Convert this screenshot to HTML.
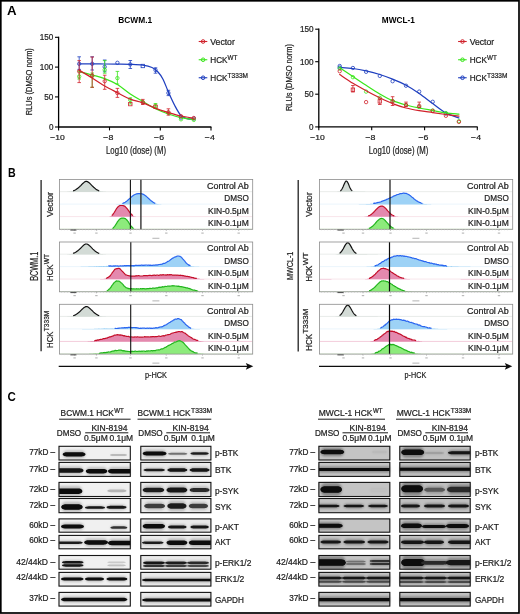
<!DOCTYPE html>
<html><head><meta charset="utf-8"><style>html,body{margin:0;padding:0;background:#fff;}svg{display:block;font-family:"Liberation Sans",sans-serif;}</style></head><body>
<svg width="520" height="614" viewBox="0 0 520 614">
<defs><filter id="soft" x="0" y="0" width="100%" height="100%"><feGaussianBlur stdDeviation="0.3"/></filter></defs><g filter="url(#soft)"><rect width="520" height="614" fill="#fff"/>
<rect x="0.8" y="0.8" width="518.2" height="612.2" fill="none" stroke="#000" stroke-width="1.7"/>
<text x="7.0" y="15.1" font-size="12.6" text-anchor="start" fill="#000" font-weight="bold" textLength="9.6" lengthAdjust="spacingAndGlyphs" >A</text>
<text x="7.9" y="176.5" font-size="12.6" text-anchor="start" fill="#000" font-weight="bold" textLength="7.7" lengthAdjust="spacingAndGlyphs" >B</text>
<text x="7.6" y="400.9" font-size="12.6" text-anchor="start" fill="#000" font-weight="bold" textLength="8.3" lengthAdjust="spacingAndGlyphs" >C</text>
<line x1="58.6" y1="36.699999999999996" x2="58.6" y2="127.6" stroke="#000" stroke-width="1.3" />
<line x1="58.0" y1="127.0" x2="211.4" y2="127.0" stroke="#000" stroke-width="1.3" />
<line x1="55.0" y1="37.3" x2="58.6" y2="37.3" stroke="#000" stroke-width="1.1" />
<text x="53.4" y="40.4" font-size="8.7" text-anchor="end" fill="#222" stroke="#222" stroke-width="0.22" textLength="13.6" lengthAdjust="spacingAndGlyphs" >150</text>
<line x1="55.0" y1="67.1" x2="58.6" y2="67.1" stroke="#000" stroke-width="1.1" />
<text x="53.4" y="70.19999999999999" font-size="8.7" text-anchor="end" fill="#222" stroke="#222" stroke-width="0.22" textLength="13.6" lengthAdjust="spacingAndGlyphs" >100</text>
<line x1="55.0" y1="96.9" x2="58.6" y2="96.9" stroke="#000" stroke-width="1.1" />
<text x="53.4" y="100.0" font-size="8.7" text-anchor="end" fill="#222" stroke="#222" stroke-width="0.22" textLength="9.1" lengthAdjust="spacingAndGlyphs" >50</text>
<line x1="55.0" y1="127.0" x2="58.6" y2="127.0" stroke="#000" stroke-width="1.1" />
<text x="53.4" y="130.1" font-size="8.7" text-anchor="end" fill="#222" stroke="#222" stroke-width="0.22" textLength="4.5" lengthAdjust="spacingAndGlyphs" >0</text>
<line x1="58.6" y1="127.0" x2="58.6" y2="130.4" stroke="#000" stroke-width="1.1" />
<text x="57.4" y="139.8" font-size="8.0" text-anchor="middle" fill="#222" stroke="#222" stroke-width="0.22" textLength="14.5" lengthAdjust="spacingAndGlyphs" >−10</text>
<line x1="109.5" y1="127.0" x2="109.5" y2="130.4" stroke="#000" stroke-width="1.1" />
<text x="108.3" y="139.8" font-size="8.0" text-anchor="middle" fill="#222" stroke="#222" stroke-width="0.22" textLength="10" lengthAdjust="spacingAndGlyphs" >−8</text>
<line x1="160.3" y1="127.0" x2="160.3" y2="130.4" stroke="#000" stroke-width="1.1" />
<text x="159.10000000000002" y="139.8" font-size="8.0" text-anchor="middle" fill="#222" stroke="#222" stroke-width="0.22" textLength="10" lengthAdjust="spacingAndGlyphs" >−6</text>
<line x1="211.0" y1="127.0" x2="211.0" y2="130.4" stroke="#000" stroke-width="1.1" />
<text x="209.8" y="139.8" font-size="8.0" text-anchor="middle" fill="#222" stroke="#222" stroke-width="0.22" textLength="10" lengthAdjust="spacingAndGlyphs" >−4</text>
<text x="106" y="153.9" font-size="10.0" text-anchor="start" fill="#222" stroke="#222" stroke-width="0.22" textLength="60" lengthAdjust="spacingAndGlyphs" >Log10 (dose) (M)</text>
<text x="0" y="0" font-size="8.6" fill="#222" stroke="#222" stroke-width="0.2" text-anchor="middle" textLength="67" lengthAdjust="spacingAndGlyphs" transform="translate(32.0,81.65) rotate(-90)">RLUs (DMSO norm)</text>
<text x="118.3" y="22.9" font-size="8.9" text-anchor="start" fill="#000" font-weight="bold" textLength="33.8" lengthAdjust="spacingAndGlyphs" >BCWM.1</text>
<path d="M79.20,63.90 C81.37,63.90 87.95,63.88 92.20,63.90 C96.45,63.92 100.50,63.97 104.70,64.00 C108.90,64.03 113.13,64.05 117.40,64.10 C121.67,64.15 126.07,64.13 130.30,64.30 C134.53,64.47 139.18,64.57 142.80,65.10 C146.42,65.63 149.47,66.35 152.00,67.50 C154.53,68.65 156.17,70.05 158.00,72.00 C159.83,73.95 161.27,75.87 163.00,79.20 C164.73,82.53 166.40,87.53 168.40,92.00 C170.40,96.47 172.90,102.07 175.00,106.00 C177.10,109.93 179.00,113.50 181.00,115.60 C183.00,117.70 184.87,118.00 187.00,118.60 C189.13,119.20 192.67,119.10 193.80,119.20" stroke="#1f3fbf" stroke-width="1.25" fill="none" stroke-linecap="round"/>
<line x1="79.2" y1="56.8" x2="79.2" y2="69.4" stroke="#1f3fbf" stroke-width="0.8" />
<line x1="77.4" y1="56.8" x2="81.0" y2="56.8" stroke="#1f3fbf" stroke-width="0.8" />
<line x1="77.4" y1="69.4" x2="81.0" y2="69.4" stroke="#1f3fbf" stroke-width="0.8" />
<circle cx="79.20" cy="63.80" r="1.7" fill="none" stroke="#1f3fbf" stroke-width="0.8"/>
<line x1="92.2" y1="56.8" x2="92.2" y2="70.0" stroke="#1f3fbf" stroke-width="0.8" />
<line x1="90.4" y1="56.8" x2="94.0" y2="56.8" stroke="#1f3fbf" stroke-width="0.8" />
<line x1="90.4" y1="70.0" x2="94.0" y2="70.0" stroke="#1f3fbf" stroke-width="0.8" />
<circle cx="92.20" cy="63.80" r="1.7" fill="none" stroke="#1f3fbf" stroke-width="0.8"/>
<line x1="104.7" y1="60.0" x2="104.7" y2="71.8" stroke="#1f3fbf" stroke-width="0.8" />
<line x1="102.9" y1="60.0" x2="106.5" y2="60.0" stroke="#1f3fbf" stroke-width="0.8" />
<line x1="102.9" y1="71.8" x2="106.5" y2="71.8" stroke="#1f3fbf" stroke-width="0.8" />
<circle cx="104.70" cy="66.80" r="1.7" fill="none" stroke="#1f3fbf" stroke-width="0.8"/>
<circle cx="117.40" cy="62.80" r="1.7" fill="none" stroke="#1f3fbf" stroke-width="0.8"/>
<line x1="130.3" y1="60.5" x2="130.3" y2="68.5" stroke="#1f3fbf" stroke-width="0.8" />
<line x1="128.5" y1="60.5" x2="132.10000000000002" y2="60.5" stroke="#1f3fbf" stroke-width="0.8" />
<line x1="128.5" y1="68.5" x2="132.10000000000002" y2="68.5" stroke="#1f3fbf" stroke-width="0.8" />
<circle cx="130.30" cy="64.40" r="1.7" fill="none" stroke="#1f3fbf" stroke-width="0.8"/>
<rect x="141.10" y="64.30" width="3.40" height="3.40" fill="none" stroke="#1f3fbf" stroke-width="0.8"/>
<line x1="155.5" y1="67.8" x2="155.5" y2="73.2" stroke="#1f3fbf" stroke-width="0.8" />
<line x1="153.7" y1="67.8" x2="157.3" y2="67.8" stroke="#1f3fbf" stroke-width="0.8" />
<line x1="153.7" y1="73.2" x2="157.3" y2="73.2" stroke="#1f3fbf" stroke-width="0.8" />
<circle cx="155.50" cy="70.00" r="1.7" fill="none" stroke="#1f3fbf" stroke-width="0.8"/>
<line x1="168.4" y1="90.3" x2="168.4" y2="95.6" stroke="#1f3fbf" stroke-width="0.8" />
<line x1="166.6" y1="90.3" x2="170.20000000000002" y2="90.3" stroke="#1f3fbf" stroke-width="0.8" />
<line x1="166.6" y1="95.6" x2="170.20000000000002" y2="95.6" stroke="#1f3fbf" stroke-width="0.8" />
<circle cx="168.40" cy="93.00" r="1.7" fill="none" stroke="#1f3fbf" stroke-width="0.8"/>
<circle cx="181.00" cy="117.60" r="1.7" fill="none" stroke="#1f3fbf" stroke-width="0.8"/>
<circle cx="193.80" cy="118.50" r="1.7" fill="none" stroke="#1f3fbf" stroke-width="0.8"/>
<path d="M79.20,71.60 C81.37,72.17 87.95,73.83 92.20,75.00 C96.45,76.17 100.50,77.02 104.70,78.60 C108.90,80.18 113.13,81.93 117.40,84.50 C121.67,87.07 126.07,91.17 130.30,94.00 C134.53,96.83 138.60,99.03 142.80,101.50 C147.00,103.97 151.23,106.72 155.50,108.80 C159.77,110.88 164.15,112.53 168.40,114.00 C172.65,115.47 176.77,116.67 181.00,117.60 C185.23,118.53 191.67,119.27 193.80,119.60" stroke="#3ae61a" stroke-width="1.25" fill="none" stroke-linecap="round"/>
<line x1="79.2" y1="71.0" x2="79.2" y2="79.0" stroke="#3ae61a" stroke-width="0.8" />
<line x1="77.4" y1="71.0" x2="81.0" y2="71.0" stroke="#3ae61a" stroke-width="0.8" />
<line x1="77.4" y1="79.0" x2="81.0" y2="79.0" stroke="#3ae61a" stroke-width="0.8" />
<circle cx="79.20" cy="76.50" r="1.7" fill="none" stroke="#3ae61a" stroke-width="0.8"/>
<line x1="92.2" y1="73.0" x2="92.2" y2="87.3" stroke="#3ae61a" stroke-width="0.8" />
<line x1="90.4" y1="73.0" x2="94.0" y2="73.0" stroke="#3ae61a" stroke-width="0.8" />
<line x1="90.4" y1="87.3" x2="94.0" y2="87.3" stroke="#3ae61a" stroke-width="0.8" />
<circle cx="92.20" cy="76.00" r="1.7" fill="none" stroke="#3ae61a" stroke-width="0.8"/>
<line x1="104.7" y1="60.6" x2="104.7" y2="73.2" stroke="#3ae61a" stroke-width="0.8" />
<line x1="102.9" y1="60.6" x2="106.5" y2="60.6" stroke="#3ae61a" stroke-width="0.8" />
<line x1="102.9" y1="73.2" x2="106.5" y2="73.2" stroke="#3ae61a" stroke-width="0.8" />
<circle cx="104.70" cy="69.80" r="1.7" fill="none" stroke="#3ae61a" stroke-width="0.8"/>
<line x1="117.4" y1="71.4" x2="117.4" y2="84.0" stroke="#3ae61a" stroke-width="0.8" />
<line x1="115.60000000000001" y1="71.4" x2="119.2" y2="71.4" stroke="#3ae61a" stroke-width="0.8" />
<line x1="115.60000000000001" y1="84.0" x2="119.2" y2="84.0" stroke="#3ae61a" stroke-width="0.8" />
<circle cx="117.40" cy="78.10" r="1.7" fill="none" stroke="#3ae61a" stroke-width="0.8"/>
<line x1="130.3" y1="97.8" x2="130.3" y2="104.0" stroke="#3ae61a" stroke-width="0.8" />
<line x1="128.5" y1="97.8" x2="132.10000000000002" y2="97.8" stroke="#3ae61a" stroke-width="0.8" />
<line x1="128.5" y1="104.0" x2="132.10000000000002" y2="104.0" stroke="#3ae61a" stroke-width="0.8" />
<circle cx="130.30" cy="100.00" r="1.7" fill="none" stroke="#3ae61a" stroke-width="0.8"/>
<circle cx="142.80" cy="102.00" r="1.7" fill="none" stroke="#3ae61a" stroke-width="0.8"/>
<line x1="155.5" y1="103.5" x2="155.5" y2="108.0" stroke="#3ae61a" stroke-width="0.8" />
<line x1="153.7" y1="103.5" x2="157.3" y2="103.5" stroke="#3ae61a" stroke-width="0.8" />
<line x1="153.7" y1="108.0" x2="157.3" y2="108.0" stroke="#3ae61a" stroke-width="0.8" />
<circle cx="155.50" cy="105.90" r="1.7" fill="none" stroke="#3ae61a" stroke-width="0.8"/>
<circle cx="168.40" cy="112.90" r="1.7" fill="none" stroke="#3ae61a" stroke-width="0.8"/>
<circle cx="181.00" cy="119.30" r="1.7" fill="none" stroke="#3ae61a" stroke-width="0.8"/>
<circle cx="193.80" cy="119.90" r="1.7" fill="none" stroke="#3ae61a" stroke-width="0.8"/>
<path d="M79.20,70.20 C81.37,71.50 87.95,75.37 92.20,78.00 C96.45,80.63 100.50,83.55 104.70,86.00 C108.90,88.45 113.13,90.50 117.40,92.70 C121.67,94.90 126.07,97.52 130.30,99.20 C134.53,100.88 138.60,101.28 142.80,102.80 C147.00,104.32 151.23,106.68 155.50,108.30 C159.77,109.92 164.15,111.22 168.40,112.50 C172.65,113.78 176.77,115.05 181.00,116.00 C185.23,116.95 191.67,117.83 193.80,118.20" stroke="#d0212b" stroke-width="1.25" fill="none" stroke-linecap="round"/>
<line x1="79.2" y1="60.6" x2="79.2" y2="82.6" stroke="#d0212b" stroke-width="0.8" />
<line x1="77.4" y1="60.6" x2="81.0" y2="60.6" stroke="#d0212b" stroke-width="0.8" />
<line x1="77.4" y1="82.6" x2="81.0" y2="82.6" stroke="#d0212b" stroke-width="0.8" />
<circle cx="79.20" cy="71.40" r="1.7" fill="none" stroke="#d0212b" stroke-width="0.8"/>
<line x1="92.2" y1="57.0" x2="92.2" y2="87.3" stroke="#d0212b" stroke-width="0.8" />
<line x1="90.4" y1="57.0" x2="94.0" y2="57.0" stroke="#d0212b" stroke-width="0.8" />
<line x1="90.4" y1="87.3" x2="94.0" y2="87.3" stroke="#d0212b" stroke-width="0.8" />
<circle cx="92.20" cy="75.50" r="1.7" fill="none" stroke="#d0212b" stroke-width="0.8"/>
<line x1="104.7" y1="75.2" x2="104.7" y2="89.3" stroke="#d0212b" stroke-width="0.8" />
<line x1="102.9" y1="75.2" x2="106.5" y2="75.2" stroke="#d0212b" stroke-width="0.8" />
<line x1="102.9" y1="89.3" x2="106.5" y2="89.3" stroke="#d0212b" stroke-width="0.8" />
<circle cx="104.70" cy="81.20" r="1.7" fill="none" stroke="#d0212b" stroke-width="0.8"/>
<line x1="117.4" y1="88.4" x2="117.4" y2="97.4" stroke="#d0212b" stroke-width="0.8" />
<line x1="115.60000000000001" y1="88.4" x2="119.2" y2="88.4" stroke="#d0212b" stroke-width="0.8" />
<line x1="115.60000000000001" y1="97.4" x2="119.2" y2="97.4" stroke="#d0212b" stroke-width="0.8" />
<circle cx="117.40" cy="93.00" r="1.7" fill="none" stroke="#d0212b" stroke-width="0.8"/>
<rect x="128.60" y="102.40" width="3.40" height="3.40" fill="none" stroke="#d0212b" stroke-width="0.8"/>
<line x1="142.8" y1="99.4" x2="142.8" y2="104.5" stroke="#d0212b" stroke-width="0.8" />
<line x1="141.0" y1="99.4" x2="144.60000000000002" y2="99.4" stroke="#d0212b" stroke-width="0.8" />
<line x1="141.0" y1="104.5" x2="144.60000000000002" y2="104.5" stroke="#d0212b" stroke-width="0.8" />
<circle cx="142.80" cy="102.40" r="1.7" fill="none" stroke="#d0212b" stroke-width="0.8"/>
<rect x="153.80" y="105.10" width="3.40" height="3.40" fill="none" stroke="#d0212b" stroke-width="0.8"/>
<line x1="168.4" y1="108.8" x2="168.4" y2="115.2" stroke="#d0212b" stroke-width="0.8" />
<line x1="166.6" y1="108.8" x2="170.20000000000002" y2="108.8" stroke="#d0212b" stroke-width="0.8" />
<line x1="166.6" y1="115.2" x2="170.20000000000002" y2="115.2" stroke="#d0212b" stroke-width="0.8" />
<circle cx="168.40" cy="112.20" r="1.7" fill="none" stroke="#d0212b" stroke-width="0.8"/>
<circle cx="181.00" cy="116.20" r="1.7" fill="none" stroke="#d0212b" stroke-width="0.8"/>
<circle cx="193.80" cy="118.00" r="1.7" fill="none" stroke="#d0212b" stroke-width="0.8"/>
<line x1="198.7" y1="41.5" x2="207.29999999999998" y2="41.5" stroke="#d0212b" stroke-width="1.1" />
<circle cx="203.1" cy="41.5" r="1.8" fill="none" stroke="#d0212b" stroke-width="1.0"/>
<text x="210.29999999999998" y="44.75" font-size="8.6" text-anchor="start" fill="#222" stroke="#222" stroke-width="0.22" textLength="24.5" lengthAdjust="spacingAndGlyphs" >Vector</text>
<line x1="198.7" y1="59.75" x2="207.29999999999998" y2="59.75" stroke="#3ae61a" stroke-width="1.1" />
<circle cx="203.1" cy="59.75" r="1.8" fill="none" stroke="#3ae61a" stroke-width="1.0"/>
<text x="210.29999999999998" y="62.75" font-size="8.6" text-anchor="start" fill="#222" stroke="#222" stroke-width="0.22" textLength="17.3" lengthAdjust="spacingAndGlyphs" >HCK</text>
<text x="227.6" y="59.85" font-size="7.2" text-anchor="start" fill="#222" stroke="#222" stroke-width="0.22" textLength="9.8" lengthAdjust="spacingAndGlyphs" >WT</text>
<line x1="198.7" y1="77.75" x2="207.29999999999998" y2="77.75" stroke="#1f3fbf" stroke-width="1.1" />
<circle cx="203.1" cy="77.75" r="1.8" fill="none" stroke="#1f3fbf" stroke-width="1.0"/>
<text x="210.29999999999998" y="81.25" font-size="8.6" text-anchor="start" fill="#222" stroke="#222" stroke-width="0.22" textLength="17.3" lengthAdjust="spacingAndGlyphs" >HCK</text>
<text x="227.6" y="78.35" font-size="7.2" text-anchor="start" fill="#222" stroke="#222" stroke-width="0.22" textLength="20.4" lengthAdjust="spacingAndGlyphs" >T333M</text>
<line x1="318.8" y1="28.599999999999998" x2="318.8" y2="127.5" stroke="#000" stroke-width="1.3" />
<line x1="318.2" y1="126.9" x2="477.7" y2="126.9" stroke="#000" stroke-width="1.3" />
<line x1="315.2" y1="29.2" x2="318.8" y2="29.2" stroke="#000" stroke-width="1.1" />
<text x="313.6" y="32.3" font-size="8.7" text-anchor="end" fill="#222" stroke="#222" stroke-width="0.22" textLength="13.6" lengthAdjust="spacingAndGlyphs" >150</text>
<line x1="315.2" y1="61.7" x2="318.8" y2="61.7" stroke="#000" stroke-width="1.1" />
<text x="313.6" y="64.8" font-size="8.7" text-anchor="end" fill="#222" stroke="#222" stroke-width="0.22" textLength="13.6" lengthAdjust="spacingAndGlyphs" >100</text>
<line x1="315.2" y1="94.2" x2="318.8" y2="94.2" stroke="#000" stroke-width="1.1" />
<text x="313.6" y="97.3" font-size="8.7" text-anchor="end" fill="#222" stroke="#222" stroke-width="0.22" textLength="9.1" lengthAdjust="spacingAndGlyphs" >50</text>
<line x1="315.2" y1="126.9" x2="318.8" y2="126.9" stroke="#000" stroke-width="1.1" />
<text x="313.6" y="130.0" font-size="8.7" text-anchor="end" fill="#222" stroke="#222" stroke-width="0.22" textLength="4.5" lengthAdjust="spacingAndGlyphs" >0</text>
<line x1="318.8" y1="126.9" x2="318.8" y2="130.3" stroke="#000" stroke-width="1.1" />
<text x="317.6" y="139.70000000000002" font-size="8.0" text-anchor="middle" fill="#222" stroke="#222" stroke-width="0.22" textLength="14.5" lengthAdjust="spacingAndGlyphs" >−10</text>
<line x1="371.7" y1="126.9" x2="371.7" y2="130.3" stroke="#000" stroke-width="1.1" />
<text x="370.5" y="139.70000000000002" font-size="8.0" text-anchor="middle" fill="#222" stroke="#222" stroke-width="0.22" textLength="10" lengthAdjust="spacingAndGlyphs" >−8</text>
<line x1="424.6" y1="126.9" x2="424.6" y2="130.3" stroke="#000" stroke-width="1.1" />
<text x="423.40000000000003" y="139.70000000000002" font-size="8.0" text-anchor="middle" fill="#222" stroke="#222" stroke-width="0.22" textLength="10" lengthAdjust="spacingAndGlyphs" >−6</text>
<line x1="477.3" y1="126.9" x2="477.3" y2="130.3" stroke="#000" stroke-width="1.1" />
<text x="476.1" y="139.70000000000002" font-size="8.0" text-anchor="middle" fill="#222" stroke="#222" stroke-width="0.22" textLength="10" lengthAdjust="spacingAndGlyphs" >−4</text>
<text x="368.8" y="153.9" font-size="10.0" text-anchor="start" fill="#222" stroke="#222" stroke-width="0.22" textLength="59.5" lengthAdjust="spacingAndGlyphs" >Log10 (dose) (M)</text>
<text x="0" y="0" font-size="8.6" fill="#222" stroke="#222" stroke-width="0.2" text-anchor="middle" textLength="67" lengthAdjust="spacingAndGlyphs" transform="translate(291.8,77.55) rotate(-90)">RLUs (DMSO norm)</text>
<text x="381.8" y="22.9" font-size="8.9" text-anchor="start" fill="#000" font-weight="bold" textLength="33.0" lengthAdjust="spacingAndGlyphs" >MWCL-1</text>
<path d="M339.70,67.40 C341.90,67.58 348.50,67.92 352.90,68.50 C357.30,69.08 361.62,69.90 366.10,70.90 C370.58,71.90 375.38,73.12 379.80,74.50 C384.22,75.88 388.23,77.40 392.60,79.20 C396.97,81.00 401.57,82.93 406.00,85.30 C410.43,87.67 414.75,90.37 419.20,93.40 C423.65,96.43 428.25,100.25 432.70,103.50 C437.15,106.75 441.53,110.48 445.90,112.90 C450.27,115.32 456.73,117.15 458.90,118.00" stroke="#1f3fbf" stroke-width="1.25" fill="none" stroke-linecap="round"/>
<circle cx="339.70" cy="66.00" r="1.7" fill="none" stroke="#1f3fbf" stroke-width="0.8"/>
<circle cx="339.70" cy="67.60" r="1.7" fill="none" stroke="#1f3fbf" stroke-width="0.8"/>
<circle cx="352.90" cy="68.00" r="1.7" fill="none" stroke="#1f3fbf" stroke-width="0.8"/>
<circle cx="366.10" cy="71.80" r="1.7" fill="none" stroke="#1f3fbf" stroke-width="0.8"/>
<circle cx="379.80" cy="75.90" r="1.7" fill="none" stroke="#1f3fbf" stroke-width="0.8"/>
<circle cx="392.60" cy="81.20" r="1.7" fill="none" stroke="#1f3fbf" stroke-width="0.8"/>
<circle cx="406.00" cy="85.70" r="1.7" fill="none" stroke="#1f3fbf" stroke-width="0.8"/>
<circle cx="419.20" cy="91.60" r="1.7" fill="none" stroke="#1f3fbf" stroke-width="0.8"/>
<circle cx="432.70" cy="101.80" r="1.7" fill="none" stroke="#1f3fbf" stroke-width="0.8"/>
<circle cx="445.90" cy="113.50" r="1.7" fill="none" stroke="#1f3fbf" stroke-width="0.8"/>
<path d="M339.70,67.80 C341.90,69.25 348.50,73.58 352.90,76.50 C357.30,79.42 361.62,82.38 366.10,85.30 C370.58,88.22 375.38,91.45 379.80,94.00 C384.22,96.55 388.23,98.77 392.60,100.60 C396.97,102.43 401.57,103.77 406.00,105.00 C410.43,106.23 414.75,107.08 419.20,108.00 C423.65,108.92 428.25,109.68 432.70,110.50 C437.15,111.32 441.53,112.28 445.90,112.90 C450.27,113.52 456.73,113.98 458.90,114.20" stroke="#3ae61a" stroke-width="1.25" fill="none" stroke-linecap="round"/>
<circle cx="339.70" cy="68.50" r="1.7" fill="none" stroke="#3ae61a" stroke-width="0.8"/>
<circle cx="352.90" cy="77.20" r="1.7" fill="none" stroke="#3ae61a" stroke-width="0.8"/>
<circle cx="366.10" cy="91.60" r="1.7" fill="none" stroke="#3ae61a" stroke-width="0.8"/>
<circle cx="379.80" cy="97.80" r="1.7" fill="none" stroke="#3ae61a" stroke-width="0.8"/>
<circle cx="392.60" cy="101.00" r="1.7" fill="none" stroke="#3ae61a" stroke-width="0.8"/>
<circle cx="406.00" cy="105.00" r="1.7" fill="none" stroke="#3ae61a" stroke-width="0.8"/>
<circle cx="419.20" cy="107.00" r="1.7" fill="none" stroke="#3ae61a" stroke-width="0.8"/>
<circle cx="432.70" cy="110.50" r="1.7" fill="none" stroke="#3ae61a" stroke-width="0.8"/>
<circle cx="445.90" cy="113.10" r="1.7" fill="none" stroke="#3ae61a" stroke-width="0.8"/>
<circle cx="458.90" cy="121.20" r="1.7" fill="none" stroke="#3ae61a" stroke-width="0.8"/>
<path d="M339.70,74.50 C341.90,75.97 348.50,80.60 352.90,83.30 C357.30,86.00 361.62,88.28 366.10,90.70 C370.58,93.12 375.38,95.65 379.80,97.80 C384.22,99.95 388.23,101.90 392.60,103.60 C396.97,105.30 401.57,106.82 406.00,108.00 C410.43,109.18 414.75,109.93 419.20,110.70 C423.65,111.47 428.25,111.97 432.70,112.60 C437.15,113.23 441.53,113.90 445.90,114.50 C450.27,115.10 456.73,115.92 458.90,116.20" stroke="#d0212b" stroke-width="1.25" fill="none" stroke-linecap="round"/>
<circle cx="339.70" cy="71.20" r="1.7" fill="none" stroke="#d0212b" stroke-width="0.8"/>
<line x1="352.9" y1="85.5" x2="352.9" y2="92.0" stroke="#d0212b" stroke-width="0.8" />
<line x1="351.09999999999997" y1="85.5" x2="354.7" y2="85.5" stroke="#d0212b" stroke-width="0.8" />
<line x1="351.09999999999997" y1="92.0" x2="354.7" y2="92.0" stroke="#d0212b" stroke-width="0.8" />
<rect x="351.20" y="88.00" width="3.40" height="3.40" fill="none" stroke="#d0212b" stroke-width="0.8"/>
<circle cx="366.10" cy="102.10" r="1.7" fill="none" stroke="#d0212b" stroke-width="0.8"/>
<line x1="379.8" y1="98.8" x2="379.8" y2="104.5" stroke="#d0212b" stroke-width="0.8" />
<line x1="378.0" y1="98.8" x2="381.6" y2="98.8" stroke="#d0212b" stroke-width="0.8" />
<line x1="378.0" y1="104.5" x2="381.6" y2="104.5" stroke="#d0212b" stroke-width="0.8" />
<rect x="378.10" y="99.70" width="3.40" height="3.40" fill="none" stroke="#d0212b" stroke-width="0.8"/>
<line x1="392.6" y1="96.7" x2="392.6" y2="105.5" stroke="#d0212b" stroke-width="0.8" />
<line x1="390.8" y1="96.7" x2="394.40000000000003" y2="96.7" stroke="#d0212b" stroke-width="0.8" />
<line x1="390.8" y1="105.5" x2="394.40000000000003" y2="105.5" stroke="#d0212b" stroke-width="0.8" />
<circle cx="392.60" cy="101.40" r="1.7" fill="none" stroke="#d0212b" stroke-width="0.8"/>
<line x1="406" y1="102.1" x2="406" y2="106.5" stroke="#d0212b" stroke-width="0.8" />
<line x1="404.2" y1="102.1" x2="407.8" y2="102.1" stroke="#d0212b" stroke-width="0.8" />
<line x1="404.2" y1="106.5" x2="407.8" y2="106.5" stroke="#d0212b" stroke-width="0.8" />
<circle cx="406.00" cy="105.00" r="1.7" fill="none" stroke="#d0212b" stroke-width="0.8"/>
<line x1="419.2" y1="102.1" x2="419.2" y2="107.5" stroke="#d0212b" stroke-width="0.8" />
<line x1="417.4" y1="102.1" x2="421.0" y2="102.1" stroke="#d0212b" stroke-width="0.8" />
<line x1="417.4" y1="107.5" x2="421.0" y2="107.5" stroke="#d0212b" stroke-width="0.8" />
<circle cx="419.20" cy="105.90" r="1.7" fill="none" stroke="#d0212b" stroke-width="0.8"/>
<circle cx="432.70" cy="110.90" r="1.7" fill="none" stroke="#d0212b" stroke-width="0.8"/>
<circle cx="445.90" cy="115.80" r="1.7" fill="none" stroke="#d0212b" stroke-width="0.8"/>
<circle cx="458.90" cy="121.90" r="1.7" fill="none" stroke="#d0212b" stroke-width="0.8"/>
<line x1="458.1" y1="41.5" x2="466.7" y2="41.5" stroke="#d0212b" stroke-width="1.1" />
<circle cx="462.5" cy="41.5" r="1.8" fill="none" stroke="#d0212b" stroke-width="1.0"/>
<text x="469.7" y="44.75" font-size="8.6" text-anchor="start" fill="#222" stroke="#222" stroke-width="0.22" textLength="24.5" lengthAdjust="spacingAndGlyphs" >Vector</text>
<line x1="458.1" y1="59.75" x2="466.7" y2="59.75" stroke="#3ae61a" stroke-width="1.1" />
<circle cx="462.5" cy="59.75" r="1.8" fill="none" stroke="#3ae61a" stroke-width="1.0"/>
<text x="469.7" y="62.75" font-size="8.6" text-anchor="start" fill="#222" stroke="#222" stroke-width="0.22" textLength="17.3" lengthAdjust="spacingAndGlyphs" >HCK</text>
<text x="487.0" y="59.85" font-size="7.2" text-anchor="start" fill="#222" stroke="#222" stroke-width="0.22" textLength="9.8" lengthAdjust="spacingAndGlyphs" >WT</text>
<line x1="458.1" y1="77.75" x2="466.7" y2="77.75" stroke="#1f3fbf" stroke-width="1.1" />
<circle cx="462.5" cy="77.75" r="1.8" fill="none" stroke="#1f3fbf" stroke-width="1.0"/>
<text x="469.7" y="81.25" font-size="8.6" text-anchor="start" fill="#222" stroke="#222" stroke-width="0.22" textLength="17.3" lengthAdjust="spacingAndGlyphs" >HCK</text>
<text x="487.0" y="78.35" font-size="7.2" text-anchor="start" fill="#222" stroke="#222" stroke-width="0.22" textLength="20.4" lengthAdjust="spacingAndGlyphs" >T333M</text>
<rect x="59.4" y="179.5" width="193.3" height="49.8" fill="#fff" stroke="none"/>
<line x1="59.9" y1="191.64999999999998" x2="252.20000000000002" y2="191.64999999999998" stroke="#dfe4e1" stroke-width="0.7" />
<path d="M59.90,191.95 L59.9,191.9 L60.6,191.9 L61.3,191.9 L62.0,191.9 L62.7,191.9 L63.4,191.9 L64.1,191.9 L64.8,191.9 L65.5,191.9 L66.2,191.9 L66.9,191.9 L67.6,191.8 L68.3,191.8 L69.0,191.7 L69.7,191.6 L70.4,191.5 L71.1,191.4 L71.8,191.3 L72.5,191.1 L73.2,190.9 L73.9,190.6 L74.6,190.3 L75.3,190.0 L76.0,189.6 L76.7,189.1 L77.4,188.6 L78.1,188.0 L78.8,187.4 L79.6,186.7 L80.3,186.0 L81.0,185.3 L81.7,184.5 L82.4,183.8 L83.1,183.2 L83.8,182.6 L84.5,182.0 L85.2,181.6 L85.9,181.4 L86.6,181.4 L87.3,181.6 L88.0,181.9 L88.7,182.4 L89.4,183.0 L90.1,183.7 L90.8,184.4 L91.5,185.1 L92.2,185.8 L92.9,186.5 L93.6,187.2 L94.3,187.8 L95.0,188.4 L95.7,189.0 L96.4,189.4 L97.1,189.9 L97.8,190.2 L98.5,190.6 L99.2,190.8 L99.9,191.1 L100.6,191.2 L101.3,191.4 L102.0,191.5 L102.7,191.6 L103.4,191.7 L104.1,191.8 L104.8,191.8 L105.5,191.8 L106.2,191.9 L106.9,191.9 L107.6,191.9 L108.3,191.9 L109.0,191.9 L109.7,191.9 L110.4,191.9 L111.1,191.9 L111.8,191.9 L112.5,191.9 L113.2,191.9 L113.9,191.9 L114.6,191.9 L115.3,191.9 L116.0,191.9 L116.7,191.9 L117.4,191.9 L118.2,191.9 L118.9,191.9 L119.6,191.9 L120.3,191.9 L121.0,191.9 L121.7,191.9 L122.4,191.9 L123.1,191.9 L123.8,191.9 L124.5,191.9 L125.2,191.9 L125.9,191.9 L126.6,191.9 L127.3,191.9 L128.0,191.9 L128.7,191.9 L129.4,191.9 L130.1,191.9 L130.8,191.9 L131.5,191.9 L132.2,191.9 L132.9,191.9 L133.6,191.9 L134.3,191.9 L135.0,191.9 L135.7,191.9 L136.4,191.9 L137.1,191.9 L137.8,191.9 L138.5,191.9 L139.2,191.9 L139.9,191.9 L140.6,191.9 L141.3,191.9 L142.0,191.9 L142.7,191.9 L143.4,191.9 L144.1,191.9 L144.8,191.9 L145.5,191.9 L146.2,191.9 L146.9,191.9 L147.6,191.9 L148.3,191.9 L149.0,191.9 L149.7,191.9 L150.4,191.9 L151.1,191.9 L151.8,191.9 L152.5,191.9 L153.2,191.9 L153.9,191.9 L154.6,191.9 L155.3,191.9 L156.1,191.9 L156.8,191.9 L157.5,191.9 L158.2,191.9 L158.9,191.9 L159.6,191.9 L160.3,191.9 L161.0,191.9 L161.7,191.9 L162.4,191.9 L163.1,191.9 L163.8,191.9 L164.5,191.9 L165.2,191.9 L165.9,191.9 L166.6,191.9 L167.3,191.9 L168.0,191.9 L168.7,191.9 L169.4,191.9 L170.1,191.9 L170.8,191.9 L171.5,191.9 L172.2,191.9 L172.9,191.9 L173.6,191.9 L174.3,191.9 L175.0,191.9 L175.7,191.9 L176.4,191.9 L177.1,191.9 L177.8,191.9 L178.5,191.9 L179.2,191.9 L179.9,191.9 L180.6,191.9 L181.3,191.9 L182.0,191.9 L182.7,191.9 L183.4,191.9 L184.1,191.9 L184.8,191.9 L185.5,191.9 L186.2,191.9 L186.9,191.9 L187.6,191.9 L188.3,191.9 L189.0,191.9 L189.7,191.9 L190.4,191.9 L191.1,191.9 L191.8,191.9 L192.5,191.9 L193.2,191.9 L193.9,191.9 L194.7,191.9 L195.4,191.9 L196.1,191.9 L196.8,191.9 L197.5,191.9 L198.2,191.9 L198.9,191.9 L199.6,191.9 L200.3,191.9 L201.0,191.9 L201.7,191.9 L202.4,191.9 L203.1,191.9 L203.8,191.9 L204.5,191.9 L205.2,191.9 L205.9,191.9 L206.6,191.9 L207.3,191.9 L208.0,191.9 L208.7,191.9 L209.4,191.9 L210.1,191.9 L210.8,191.9 L211.5,191.9 L212.2,191.9 L212.9,191.9 L213.6,191.9 L214.3,191.9 L215.0,191.9 L215.7,191.9 L216.4,191.9 L217.1,191.9 L217.8,191.9 L218.5,191.9 L219.2,191.9 L219.9,191.9 L220.6,191.9 L221.3,191.9 L222.0,191.9 L222.7,191.9 L223.4,191.9 L224.1,191.9 L224.8,191.9 L225.5,191.9 L226.2,191.9 L226.9,191.9 L227.6,191.9 L228.3,191.9 L229.0,191.9 L229.7,191.9 L230.4,191.9 L231.1,191.9 L231.8,191.9 L232.5,191.9 L233.3,191.9 L234.0,191.9 L234.7,191.9 L235.4,191.9 L236.1,191.9 L236.8,191.9 L237.5,191.9 L238.2,191.9 L238.9,191.9 L239.6,191.9 L240.3,191.9 L241.0,191.9 L241.7,191.9 L242.4,191.9 L243.1,191.9 L243.8,191.9 L244.5,191.9 L245.2,191.9 L245.9,191.9 L246.6,191.9 L247.3,191.9 L248.0,191.9 L248.7,191.9 L249.4,191.9 L250.1,191.9 L250.8,191.9 L251.5,191.9 L252.2,191.9 L252.20,191.95 Z" fill="#d3dbd6" stroke="none"/>
<path d="M73.2,190.9 L73.9,190.6 L74.6,190.3 L75.3,190.0 L76.0,189.6 L76.7,189.1 L77.4,188.6 L78.1,188.0 L78.8,187.4 L79.6,186.7 L80.3,186.0 L81.0,185.3 L81.7,184.5 L82.4,183.8 L83.1,183.2 L83.8,182.6 L84.5,182.0 L85.2,181.6 L85.9,181.4 L86.6,181.4 L87.3,181.6 L88.0,181.9 L88.7,182.4 L89.4,183.0 L90.1,183.7 L90.8,184.4 L91.5,185.1 L92.2,185.8 L92.9,186.5 L93.6,187.2 L94.3,187.8 L95.0,188.4 L95.7,189.0 L96.4,189.4 L97.1,189.9 L97.8,190.2 L98.5,190.6 L99.2,190.8" fill="none" stroke="#111111" stroke-width="1.2" stroke-linejoin="round"/>
<line x1="59.9" y1="204.1" x2="252.20000000000002" y2="204.1" stroke="#e2f0fb" stroke-width="0.7" />
<path d="M59.90,204.40 L59.9,204.4 L60.6,204.4 L61.3,204.4 L62.0,204.4 L62.7,204.4 L63.4,204.4 L64.1,204.4 L64.8,204.4 L65.5,204.4 L66.2,204.4 L66.9,204.4 L67.6,204.4 L68.3,204.4 L69.0,204.4 L69.7,204.4 L70.4,204.4 L71.1,204.4 L71.8,204.4 L72.5,204.4 L73.2,204.4 L73.9,204.4 L74.6,204.4 L75.3,204.4 L76.0,204.4 L76.7,204.4 L77.4,204.4 L78.1,204.4 L78.8,204.4 L79.6,204.4 L80.3,204.4 L81.0,204.4 L81.7,204.4 L82.4,204.4 L83.1,204.4 L83.8,204.4 L84.5,204.4 L85.2,204.4 L85.9,204.4 L86.6,204.4 L87.3,204.4 L88.0,204.4 L88.7,204.4 L89.4,204.4 L90.1,204.4 L90.8,204.4 L91.5,204.4 L92.2,204.4 L92.9,204.4 L93.6,204.4 L94.3,204.4 L95.0,204.4 L95.7,204.4 L96.4,204.4 L97.1,204.4 L97.8,204.4 L98.5,204.4 L99.2,204.4 L99.9,204.4 L100.6,204.4 L101.3,204.4 L102.0,204.4 L102.7,204.4 L103.4,204.4 L104.1,204.4 L104.8,204.4 L105.5,204.4 L106.2,204.4 L106.9,204.4 L107.6,204.4 L108.3,204.4 L109.0,204.4 L109.7,204.4 L110.4,204.4 L111.1,204.4 L111.8,204.4 L112.5,204.4 L113.2,204.4 L113.9,204.4 L114.6,204.4 L115.3,204.4 L116.0,204.4 L116.7,204.3 L117.4,204.3 L118.2,204.3 L118.9,204.2 L119.6,204.1 L120.3,204.0 L121.0,203.9 L121.7,203.7 L122.4,203.5 L123.1,203.2 L123.8,202.9 L124.5,202.6 L125.2,202.2 L125.9,201.7 L126.6,201.2 L127.3,200.6 L128.0,200.0 L128.7,199.4 L129.4,198.8 L130.1,198.1 L130.8,197.5 L131.5,196.9 L132.2,196.3 L132.9,195.8 L133.6,195.3 L134.3,194.8 L135.0,194.5 L135.7,194.2 L136.4,193.9 L137.1,193.8 L137.8,193.7 L138.5,193.6 L139.2,193.6 L139.9,193.6 L140.6,193.6 L141.3,193.7 L142.0,193.9 L142.7,194.1 L143.4,194.4 L144.1,194.7 L144.8,195.2 L145.5,195.7 L146.2,196.2 L146.9,196.9 L147.6,197.5 L148.3,198.2 L149.0,198.8 L149.7,199.5 L150.4,200.1 L151.1,200.8 L151.8,201.3 L152.5,201.8 L153.2,202.3 L153.9,202.7 L154.6,203.1 L155.3,203.4 L156.1,203.6 L156.8,203.8 L157.5,204.0 L158.2,204.1 L158.9,204.2 L159.6,204.2 L160.3,204.3 L161.0,204.3 L161.7,204.4 L162.4,204.4 L163.1,204.4 L163.8,204.4 L164.5,204.4 L165.2,204.4 L165.9,204.4 L166.6,204.4 L167.3,204.4 L168.0,204.4 L168.7,204.4 L169.4,204.4 L170.1,204.4 L170.8,204.4 L171.5,204.4 L172.2,204.4 L172.9,204.4 L173.6,204.4 L174.3,204.4 L175.0,204.4 L175.7,204.4 L176.4,204.4 L177.1,204.4 L177.8,204.4 L178.5,204.4 L179.2,204.4 L179.9,204.4 L180.6,204.4 L181.3,204.4 L182.0,204.4 L182.7,204.4 L183.4,204.4 L184.1,204.4 L184.8,204.4 L185.5,204.4 L186.2,204.4 L186.9,204.4 L187.6,204.4 L188.3,204.4 L189.0,204.4 L189.7,204.4 L190.4,204.4 L191.1,204.4 L191.8,204.4 L192.5,204.4 L193.2,204.4 L193.9,204.4 L194.7,204.4 L195.4,204.4 L196.1,204.4 L196.8,204.4 L197.5,204.4 L198.2,204.4 L198.9,204.4 L199.6,204.4 L200.3,204.4 L201.0,204.4 L201.7,204.4 L202.4,204.4 L203.1,204.4 L203.8,204.4 L204.5,204.4 L205.2,204.4 L205.9,204.4 L206.6,204.4 L207.3,204.4 L208.0,204.4 L208.7,204.4 L209.4,204.4 L210.1,204.4 L210.8,204.4 L211.5,204.4 L212.2,204.4 L212.9,204.4 L213.6,204.4 L214.3,204.4 L215.0,204.4 L215.7,204.4 L216.4,204.4 L217.1,204.4 L217.8,204.4 L218.5,204.4 L219.2,204.4 L219.9,204.4 L220.6,204.4 L221.3,204.4 L222.0,204.4 L222.7,204.4 L223.4,204.4 L224.1,204.4 L224.8,204.4 L225.5,204.4 L226.2,204.4 L226.9,204.4 L227.6,204.4 L228.3,204.4 L229.0,204.4 L229.7,204.4 L230.4,204.4 L231.1,204.4 L231.8,204.4 L232.5,204.4 L233.3,204.4 L234.0,204.4 L234.7,204.4 L235.4,204.4 L236.1,204.4 L236.8,204.4 L237.5,204.4 L238.2,204.4 L238.9,204.4 L239.6,204.4 L240.3,204.4 L241.0,204.4 L241.7,204.4 L242.4,204.4 L243.1,204.4 L243.8,204.4 L244.5,204.4 L245.2,204.4 L245.9,204.4 L246.6,204.4 L247.3,204.4 L248.0,204.4 L248.7,204.4 L249.4,204.4 L250.1,204.4 L250.8,204.4 L251.5,204.4 L252.2,204.4 L252.20,204.40 Z" fill="#9dd2f6" stroke="none"/>
<path d="M122.4,203.5 L123.1,203.2 L123.8,202.9 L124.5,202.6 L125.2,202.2 L125.9,201.7 L126.6,201.2 L127.3,200.6 L128.0,200.0 L128.7,199.4 L129.4,198.8 L130.1,198.1 L130.8,197.5 L131.5,196.9 L132.2,196.3 L132.9,195.8 L133.6,195.3 L134.3,194.8 L135.0,194.5 L135.7,194.2 L136.4,193.9 L137.1,193.8 L137.8,193.7 L138.5,193.6 L139.2,193.6 L139.9,193.6 L140.6,193.6 L141.3,193.7 L142.0,193.9 L142.7,194.1 L143.4,194.4 L144.1,194.7 L144.8,195.2 L145.5,195.7 L146.2,196.2 L146.9,196.9 L147.6,197.5 L148.3,198.2 L149.0,198.8 L149.7,199.5 L150.4,200.1 L151.1,200.8 L151.8,201.3 L152.5,201.8 L153.2,202.3 L153.9,202.7 L154.6,203.1 L155.3,203.4" fill="none" stroke="#2a66f0" stroke-width="1.2" stroke-linejoin="round"/>
<line x1="59.9" y1="216.54999999999998" x2="252.20000000000002" y2="216.54999999999998" stroke="#f6dbe3" stroke-width="0.7" />
<path d="M59.90,216.85 L59.9,216.8 L60.6,216.8 L61.3,216.8 L62.0,216.8 L62.7,216.8 L63.4,216.8 L64.1,216.8 L64.8,216.8 L65.5,216.8 L66.2,216.8 L66.9,216.8 L67.6,216.8 L68.3,216.8 L69.0,216.8 L69.7,216.8 L70.4,216.8 L71.1,216.8 L71.8,216.8 L72.5,216.8 L73.2,216.8 L73.9,216.8 L74.6,216.8 L75.3,216.8 L76.0,216.8 L76.7,216.8 L77.4,216.8 L78.1,216.8 L78.8,216.8 L79.6,216.8 L80.3,216.8 L81.0,216.8 L81.7,216.8 L82.4,216.8 L83.1,216.8 L83.8,216.8 L84.5,216.8 L85.2,216.8 L85.9,216.8 L86.6,216.8 L87.3,216.8 L88.0,216.8 L88.7,216.8 L89.4,216.8 L90.1,216.8 L90.8,216.8 L91.5,216.8 L92.2,216.8 L92.9,216.8 L93.6,216.8 L94.3,216.8 L95.0,216.8 L95.7,216.8 L96.4,216.8 L97.1,216.8 L97.8,216.8 L98.5,216.8 L99.2,216.8 L99.9,216.8 L100.6,216.8 L101.3,216.8 L102.0,216.8 L102.7,216.8 L103.4,216.8 L104.1,216.8 L104.8,216.8 L105.5,216.8 L106.2,216.8 L106.9,216.8 L107.6,216.8 L108.3,216.8 L109.0,216.7 L109.7,216.5 L110.4,216.3 L111.1,216.0 L111.8,215.5 L112.5,214.8 L113.2,214.0 L113.9,213.0 L114.6,211.9 L115.3,210.7 L116.0,209.5 L116.7,208.4 L117.4,207.5 L118.2,206.7 L118.9,206.1 L119.6,205.7 L120.3,205.5 L121.0,205.5 L121.7,205.5 L122.4,205.5 L123.1,205.6 L123.8,205.8 L124.5,206.1 L125.2,206.6 L125.9,207.3 L126.6,208.1 L127.3,208.9 L128.0,209.9 L128.7,210.9 L129.4,211.9 L130.1,212.9 L130.8,213.7 L131.5,214.5 L132.2,215.1 L132.9,215.6 L133.6,216.0 L134.3,216.3 L135.0,216.5 L135.7,216.6 L136.4,216.7 L137.1,216.8 L137.8,216.8 L138.5,216.8 L139.2,216.8 L139.9,216.8 L140.6,216.8 L141.3,216.8 L142.0,216.8 L142.7,216.8 L143.4,216.8 L144.1,216.8 L144.8,216.8 L145.5,216.8 L146.2,216.8 L146.9,216.8 L147.6,216.8 L148.3,216.8 L149.0,216.8 L149.7,216.8 L150.4,216.8 L151.1,216.8 L151.8,216.8 L152.5,216.8 L153.2,216.8 L153.9,216.8 L154.6,216.8 L155.3,216.8 L156.1,216.8 L156.8,216.8 L157.5,216.8 L158.2,216.8 L158.9,216.8 L159.6,216.8 L160.3,216.8 L161.0,216.8 L161.7,216.8 L162.4,216.8 L163.1,216.8 L163.8,216.8 L164.5,216.8 L165.2,216.8 L165.9,216.8 L166.6,216.8 L167.3,216.8 L168.0,216.8 L168.7,216.8 L169.4,216.8 L170.1,216.8 L170.8,216.8 L171.5,216.8 L172.2,216.8 L172.9,216.8 L173.6,216.8 L174.3,216.8 L175.0,216.8 L175.7,216.8 L176.4,216.8 L177.1,216.8 L177.8,216.8 L178.5,216.8 L179.2,216.8 L179.9,216.8 L180.6,216.8 L181.3,216.8 L182.0,216.8 L182.7,216.8 L183.4,216.8 L184.1,216.8 L184.8,216.8 L185.5,216.8 L186.2,216.8 L186.9,216.8 L187.6,216.8 L188.3,216.8 L189.0,216.8 L189.7,216.8 L190.4,216.8 L191.1,216.8 L191.8,216.8 L192.5,216.8 L193.2,216.8 L193.9,216.8 L194.7,216.8 L195.4,216.8 L196.1,216.8 L196.8,216.8 L197.5,216.8 L198.2,216.8 L198.9,216.8 L199.6,216.8 L200.3,216.8 L201.0,216.8 L201.7,216.8 L202.4,216.8 L203.1,216.8 L203.8,216.8 L204.5,216.8 L205.2,216.8 L205.9,216.8 L206.6,216.8 L207.3,216.8 L208.0,216.8 L208.7,216.8 L209.4,216.8 L210.1,216.8 L210.8,216.8 L211.5,216.8 L212.2,216.8 L212.9,216.8 L213.6,216.8 L214.3,216.8 L215.0,216.8 L215.7,216.8 L216.4,216.8 L217.1,216.8 L217.8,216.8 L218.5,216.8 L219.2,216.8 L219.9,216.8 L220.6,216.8 L221.3,216.8 L222.0,216.8 L222.7,216.8 L223.4,216.8 L224.1,216.8 L224.8,216.8 L225.5,216.8 L226.2,216.8 L226.9,216.8 L227.6,216.8 L228.3,216.8 L229.0,216.8 L229.7,216.8 L230.4,216.8 L231.1,216.8 L231.8,216.8 L232.5,216.8 L233.3,216.8 L234.0,216.8 L234.7,216.8 L235.4,216.8 L236.1,216.8 L236.8,216.8 L237.5,216.8 L238.2,216.8 L238.9,216.8 L239.6,216.8 L240.3,216.8 L241.0,216.8 L241.7,216.8 L242.4,216.8 L243.1,216.8 L243.8,216.8 L244.5,216.8 L245.2,216.8 L245.9,216.8 L246.6,216.8 L247.3,216.8 L248.0,216.8 L248.7,216.8 L249.4,216.8 L250.1,216.8 L250.8,216.8 L251.5,216.8 L252.2,216.8 L252.20,216.85 Z" fill="#e489ae" stroke="none"/>
<path d="M111.8,215.5 L112.5,214.8 L113.2,214.0 L113.9,213.0 L114.6,211.9 L115.3,210.7 L116.0,209.5 L116.7,208.4 L117.4,207.5 L118.2,206.7 L118.9,206.1 L119.6,205.7 L120.3,205.5 L121.0,205.5 L121.7,205.5 L122.4,205.5 L123.1,205.6 L123.8,205.8 L124.5,206.1 L125.2,206.6 L125.9,207.3 L126.6,208.1 L127.3,208.9 L128.0,209.9 L128.7,210.9 L129.4,211.9 L130.1,212.9 L130.8,213.7 L131.5,214.5 L132.2,215.1 L132.9,215.6" fill="none" stroke="#c4102a" stroke-width="1.2" stroke-linejoin="round"/>
<line x1="59.9" y1="229.0" x2="252.20000000000002" y2="229.0" stroke="#dcf5d5" stroke-width="0.7" />
<path d="M59.90,229.30 L59.9,229.3 L60.6,229.3 L61.3,229.3 L62.0,229.3 L62.7,229.3 L63.4,229.3 L64.1,229.3 L64.8,229.3 L65.5,229.3 L66.2,229.3 L66.9,229.3 L67.6,229.3 L68.3,229.3 L69.0,229.3 L69.7,229.3 L70.4,229.3 L71.1,229.3 L71.8,229.3 L72.5,229.3 L73.2,229.3 L73.9,229.3 L74.6,229.3 L75.3,229.3 L76.0,229.3 L76.7,229.3 L77.4,229.3 L78.1,229.3 L78.8,229.3 L79.6,229.3 L80.3,229.3 L81.0,229.3 L81.7,229.3 L82.4,229.3 L83.1,229.3 L83.8,229.3 L84.5,229.3 L85.2,229.3 L85.9,229.3 L86.6,229.3 L87.3,229.3 L88.0,229.3 L88.7,229.3 L89.4,229.3 L90.1,229.3 L90.8,229.3 L91.5,229.3 L92.2,229.3 L92.9,229.3 L93.6,229.3 L94.3,229.3 L95.0,229.3 L95.7,229.3 L96.4,229.3 L97.1,229.3 L97.8,229.3 L98.5,229.3 L99.2,229.3 L99.9,229.3 L100.6,229.3 L101.3,229.3 L102.0,229.3 L102.7,229.3 L103.4,229.3 L104.1,229.3 L104.8,229.3 L105.5,229.3 L106.2,229.3 L106.9,229.3 L107.6,229.3 L108.3,229.3 L109.0,229.3 L109.7,229.2 L110.4,229.1 L111.1,229.0 L111.8,228.7 L112.5,228.4 L113.2,227.9 L113.9,227.2 L114.6,226.4 L115.3,225.4 L116.0,224.2 L116.7,223.1 L117.4,221.9 L118.2,220.9 L118.9,220.0 L119.6,219.2 L120.3,218.7 L121.0,218.3 L121.7,218.2 L122.4,218.1 L123.1,218.1 L123.8,218.2 L124.5,218.3 L125.2,218.6 L125.9,219.1 L126.6,219.7 L127.3,220.5 L128.0,221.4 L128.7,222.5 L129.4,223.6 L130.1,224.6 L130.8,225.6 L131.5,226.5 L132.2,227.3 L132.9,227.9 L133.6,228.4 L134.3,228.7 L135.0,229.0 L135.7,229.1 L136.4,229.2 L137.1,229.2 L137.8,229.3 L138.5,229.3 L139.2,229.3 L139.9,229.3 L140.6,229.3 L141.3,229.3 L142.0,229.3 L142.7,229.3 L143.4,229.3 L144.1,229.3 L144.8,229.3 L145.5,229.3 L146.2,229.3 L146.9,229.3 L147.6,229.3 L148.3,229.3 L149.0,229.3 L149.7,229.3 L150.4,229.3 L151.1,229.3 L151.8,229.3 L152.5,229.3 L153.2,229.3 L153.9,229.3 L154.6,229.3 L155.3,229.3 L156.1,229.3 L156.8,229.3 L157.5,229.3 L158.2,229.3 L158.9,229.3 L159.6,229.3 L160.3,229.3 L161.0,229.3 L161.7,229.3 L162.4,229.3 L163.1,229.3 L163.8,229.3 L164.5,229.3 L165.2,229.3 L165.9,229.3 L166.6,229.3 L167.3,229.3 L168.0,229.3 L168.7,229.3 L169.4,229.3 L170.1,229.3 L170.8,229.3 L171.5,229.3 L172.2,229.3 L172.9,229.3 L173.6,229.3 L174.3,229.3 L175.0,229.3 L175.7,229.3 L176.4,229.3 L177.1,229.3 L177.8,229.3 L178.5,229.3 L179.2,229.3 L179.9,229.3 L180.6,229.3 L181.3,229.3 L182.0,229.3 L182.7,229.3 L183.4,229.3 L184.1,229.3 L184.8,229.3 L185.5,229.3 L186.2,229.3 L186.9,229.3 L187.6,229.3 L188.3,229.3 L189.0,229.3 L189.7,229.3 L190.4,229.3 L191.1,229.3 L191.8,229.3 L192.5,229.3 L193.2,229.3 L193.9,229.3 L194.7,229.3 L195.4,229.3 L196.1,229.3 L196.8,229.3 L197.5,229.3 L198.2,229.3 L198.9,229.3 L199.6,229.3 L200.3,229.3 L201.0,229.3 L201.7,229.3 L202.4,229.3 L203.1,229.3 L203.8,229.3 L204.5,229.3 L205.2,229.3 L205.9,229.3 L206.6,229.3 L207.3,229.3 L208.0,229.3 L208.7,229.3 L209.4,229.3 L210.1,229.3 L210.8,229.3 L211.5,229.3 L212.2,229.3 L212.9,229.3 L213.6,229.3 L214.3,229.3 L215.0,229.3 L215.7,229.3 L216.4,229.3 L217.1,229.3 L217.8,229.3 L218.5,229.3 L219.2,229.3 L219.9,229.3 L220.6,229.3 L221.3,229.3 L222.0,229.3 L222.7,229.3 L223.4,229.3 L224.1,229.3 L224.8,229.3 L225.5,229.3 L226.2,229.3 L226.9,229.3 L227.6,229.3 L228.3,229.3 L229.0,229.3 L229.7,229.3 L230.4,229.3 L231.1,229.3 L231.8,229.3 L232.5,229.3 L233.3,229.3 L234.0,229.3 L234.7,229.3 L235.4,229.3 L236.1,229.3 L236.8,229.3 L237.5,229.3 L238.2,229.3 L238.9,229.3 L239.6,229.3 L240.3,229.3 L241.0,229.3 L241.7,229.3 L242.4,229.3 L243.1,229.3 L243.8,229.3 L244.5,229.3 L245.2,229.3 L245.9,229.3 L246.6,229.3 L247.3,229.3 L248.0,229.3 L248.7,229.3 L249.4,229.3 L250.1,229.3 L250.8,229.3 L251.5,229.3 L252.2,229.3 L252.20,229.30 Z" fill="#8deb7b" stroke="none"/>
<path d="M112.5,228.4 L113.2,227.9 L113.9,227.2 L114.6,226.4 L115.3,225.4 L116.0,224.2 L116.7,223.1 L117.4,221.9 L118.2,220.9 L118.9,220.0 L119.6,219.2 L120.3,218.7 L121.0,218.3 L121.7,218.2 L122.4,218.1 L123.1,218.1 L123.8,218.2 L124.5,218.3 L125.2,218.6 L125.9,219.1 L126.6,219.7 L127.3,220.5 L128.0,221.4 L128.7,222.5 L129.4,223.6 L130.1,224.6 L130.8,225.6 L131.5,226.5 L132.2,227.3 L132.9,227.9 L133.6,228.4" fill="none" stroke="#22b51e" stroke-width="1.2" stroke-linejoin="round"/>
<line x1="130.4" y1="179.5" x2="130.4" y2="229.3" stroke="#111" stroke-width="1.1" />
<line x1="140.9" y1="179.5" x2="140.9" y2="229.3" stroke="#333" stroke-width="1.4" />
<rect x="59.4" y="179.5" width="193.3" height="49.8" fill="none" stroke="#8c8c8c" stroke-width="0.8"/>
<text x="248.8" y="188.8" font-size="8.9" text-anchor="end" fill="#222" stroke="#222" stroke-width="0.22" textLength="41.8" lengthAdjust="spacingAndGlyphs" >Control Ab</text>
<text x="248.8" y="201.25" font-size="8.9" text-anchor="end" fill="#222" stroke="#222" stroke-width="0.22" textLength="24.5" lengthAdjust="spacingAndGlyphs" >DMSO</text>
<text x="248.8" y="213.70000000000002" font-size="8.9" text-anchor="end" fill="#222" stroke="#222" stroke-width="0.22" textLength="40.8" lengthAdjust="spacingAndGlyphs" >KIN-0.5μM</text>
<text x="248.8" y="226.15" font-size="8.9" text-anchor="end" fill="#222" stroke="#222" stroke-width="0.22" textLength="40.8" lengthAdjust="spacingAndGlyphs" >KIN-0.1μM</text>
<line x1="74.6" y1="229.3" x2="74.6" y2="230.8" stroke="#888" stroke-width="0.6" />
<rect x="73.40" y="232.50" width="2.4" height="1.2" fill="#bbb"/>
<line x1="96.4" y1="229.3" x2="96.4" y2="230.8" stroke="#888" stroke-width="0.6" />
<rect x="95.20" y="232.50" width="2.4" height="1.2" fill="#bbb"/>
<line x1="130.5" y1="229.3" x2="130.5" y2="230.8" stroke="#888" stroke-width="0.6" />
<rect x="129.30" y="232.50" width="2.4" height="1.2" fill="#bbb"/>
<line x1="166.3" y1="229.3" x2="166.3" y2="230.8" stroke="#888" stroke-width="0.6" />
<rect x="165.10" y="232.50" width="2.4" height="1.2" fill="#bbb"/>
<line x1="202.5" y1="229.3" x2="202.5" y2="230.8" stroke="#888" stroke-width="0.6" />
<rect x="201.30" y="232.50" width="2.4" height="1.2" fill="#bbb"/>
<line x1="238.7" y1="229.3" x2="238.7" y2="230.8" stroke="#888" stroke-width="0.6" />
<rect x="237.50" y="232.50" width="2.4" height="1.2" fill="#bbb"/>
<rect x="61" y="229.3" width="0.6" height="1" fill="#c8c8c8"/>
<rect x="64" y="229.3" width="0.6" height="1" fill="#c8c8c8"/>
<rect x="67" y="229.3" width="0.6" height="1" fill="#c8c8c8"/>
<rect x="70" y="229.3" width="0.6" height="1" fill="#c8c8c8"/>
<rect x="73" y="229.3" width="0.6" height="1" fill="#c8c8c8"/>
<rect x="76" y="229.3" width="0.6" height="1" fill="#c8c8c8"/>
<rect x="79" y="229.3" width="0.6" height="1" fill="#c8c8c8"/>
<rect x="82" y="229.3" width="0.6" height="1" fill="#c8c8c8"/>
<rect x="85" y="229.3" width="0.6" height="1" fill="#c8c8c8"/>
<rect x="88" y="229.3" width="0.6" height="1" fill="#c8c8c8"/>
<rect x="91" y="229.3" width="0.6" height="1" fill="#c8c8c8"/>
<rect x="94" y="229.3" width="0.6" height="1" fill="#c8c8c8"/>
<rect x="97" y="229.3" width="0.6" height="1" fill="#c8c8c8"/>
<rect x="100" y="229.3" width="0.6" height="1" fill="#c8c8c8"/>
<rect x="103" y="229.3" width="0.6" height="1" fill="#c8c8c8"/>
<rect x="106" y="229.3" width="0.6" height="1" fill="#c8c8c8"/>
<rect x="109" y="229.3" width="0.6" height="1" fill="#c8c8c8"/>
<rect x="112" y="229.3" width="0.6" height="1" fill="#c8c8c8"/>
<rect x="115" y="229.3" width="0.6" height="1" fill="#c8c8c8"/>
<rect x="118" y="229.3" width="0.6" height="1" fill="#c8c8c8"/>
<rect x="121" y="229.3" width="0.6" height="1" fill="#c8c8c8"/>
<rect x="124" y="229.3" width="0.6" height="1" fill="#c8c8c8"/>
<rect x="127" y="229.3" width="0.6" height="1" fill="#c8c8c8"/>
<rect x="130" y="229.3" width="0.6" height="1" fill="#c8c8c8"/>
<rect x="133" y="229.3" width="0.6" height="1" fill="#c8c8c8"/>
<rect x="136" y="229.3" width="0.6" height="1" fill="#c8c8c8"/>
<rect x="139" y="229.3" width="0.6" height="1" fill="#c8c8c8"/>
<rect x="142" y="229.3" width="0.6" height="1" fill="#c8c8c8"/>
<rect x="145" y="229.3" width="0.6" height="1" fill="#c8c8c8"/>
<rect x="148" y="229.3" width="0.6" height="1" fill="#c8c8c8"/>
<rect x="151" y="229.3" width="0.6" height="1" fill="#c8c8c8"/>
<rect x="154" y="229.3" width="0.6" height="1" fill="#c8c8c8"/>
<rect x="157" y="229.3" width="0.6" height="1" fill="#c8c8c8"/>
<rect x="160" y="229.3" width="0.6" height="1" fill="#c8c8c8"/>
<rect x="163" y="229.3" width="0.6" height="1" fill="#c8c8c8"/>
<rect x="166" y="229.3" width="0.6" height="1" fill="#c8c8c8"/>
<rect x="169" y="229.3" width="0.6" height="1" fill="#c8c8c8"/>
<rect x="172" y="229.3" width="0.6" height="1" fill="#c8c8c8"/>
<rect x="175" y="229.3" width="0.6" height="1" fill="#c8c8c8"/>
<rect x="178" y="229.3" width="0.6" height="1" fill="#c8c8c8"/>
<rect x="181" y="229.3" width="0.6" height="1" fill="#c8c8c8"/>
<rect x="184" y="229.3" width="0.6" height="1" fill="#c8c8c8"/>
<rect x="187" y="229.3" width="0.6" height="1" fill="#c8c8c8"/>
<rect x="190" y="229.3" width="0.6" height="1" fill="#c8c8c8"/>
<rect x="193" y="229.3" width="0.6" height="1" fill="#c8c8c8"/>
<rect x="196" y="229.3" width="0.6" height="1" fill="#c8c8c8"/>
<rect x="199" y="229.3" width="0.6" height="1" fill="#c8c8c8"/>
<rect x="202" y="229.3" width="0.6" height="1" fill="#c8c8c8"/>
<rect x="205" y="229.3" width="0.6" height="1" fill="#c8c8c8"/>
<rect x="208" y="229.3" width="0.6" height="1" fill="#c8c8c8"/>
<rect x="211" y="229.3" width="0.6" height="1" fill="#c8c8c8"/>
<rect x="214" y="229.3" width="0.6" height="1" fill="#c8c8c8"/>
<rect x="217" y="229.3" width="0.6" height="1" fill="#c8c8c8"/>
<rect x="220" y="229.3" width="0.6" height="1" fill="#c8c8c8"/>
<rect x="223" y="229.3" width="0.6" height="1" fill="#c8c8c8"/>
<rect x="226" y="229.3" width="0.6" height="1" fill="#c8c8c8"/>
<rect x="229" y="229.3" width="0.6" height="1" fill="#c8c8c8"/>
<rect x="232" y="229.3" width="0.6" height="1" fill="#c8c8c8"/>
<rect x="235" y="229.3" width="0.6" height="1" fill="#c8c8c8"/>
<rect x="238" y="229.3" width="0.6" height="1" fill="#c8c8c8"/>
<rect x="241" y="229.3" width="0.6" height="1" fill="#c8c8c8"/>
<rect x="244" y="229.3" width="0.6" height="1" fill="#c8c8c8"/>
<rect x="247" y="229.3" width="0.6" height="1" fill="#c8c8c8"/>
<rect x="70.40" y="229.50" width="6" height="1.1" fill="#555"/>
<rect x="152.40" y="237.70" width="7" height="1.3" fill="#c5c5c5"/>
<rect x="59.4" y="242.0" width="193.3" height="49.8" fill="#fff" stroke="none"/>
<line x1="59.9" y1="254.14999999999998" x2="252.20000000000002" y2="254.14999999999998" stroke="#dfe4e1" stroke-width="0.7" />
<path d="M59.90,254.45 L59.9,254.4 L60.6,254.4 L61.3,254.4 L62.0,254.4 L62.7,254.4 L63.4,254.4 L64.1,254.4 L64.8,254.4 L65.5,254.4 L66.2,254.4 L66.9,254.4 L67.6,254.3 L68.3,254.3 L69.0,254.2 L69.7,254.1 L70.4,254.0 L71.1,253.9 L71.8,253.8 L72.5,253.6 L73.2,253.4 L73.9,253.1 L74.6,252.8 L75.3,252.5 L76.0,252.1 L76.7,251.6 L77.4,251.1 L78.1,250.5 L78.8,249.9 L79.6,249.2 L80.3,248.5 L81.0,247.8 L81.7,247.1 L82.4,246.4 L83.1,245.7 L83.8,245.1 L84.5,244.6 L85.2,244.2 L85.9,244.0 L86.6,244.0 L87.3,244.2 L88.0,244.5 L88.7,245.0 L89.4,245.6 L90.1,246.2 L90.8,246.9 L91.5,247.7 L92.2,248.4 L92.9,249.1 L93.6,249.7 L94.3,250.4 L95.0,251.0 L95.7,251.5 L96.4,252.0 L97.1,252.4 L97.8,252.8 L98.5,253.1 L99.2,253.3 L99.9,253.6 L100.6,253.7 L101.3,253.9 L102.0,254.0 L102.7,254.1 L103.4,254.2 L104.1,254.3 L104.8,254.3 L105.5,254.3 L106.2,254.4 L106.9,254.4 L107.6,254.4 L108.3,254.4 L109.0,254.4 L109.7,254.4 L110.4,254.4 L111.1,254.4 L111.8,254.4 L112.5,254.4 L113.2,254.4 L113.9,254.4 L114.6,254.4 L115.3,254.4 L116.0,254.4 L116.7,254.4 L117.4,254.4 L118.2,254.4 L118.9,254.4 L119.6,254.4 L120.3,254.4 L121.0,254.4 L121.7,254.4 L122.4,254.4 L123.1,254.4 L123.8,254.4 L124.5,254.4 L125.2,254.4 L125.9,254.4 L126.6,254.4 L127.3,254.4 L128.0,254.4 L128.7,254.4 L129.4,254.4 L130.1,254.4 L130.8,254.4 L131.5,254.4 L132.2,254.4 L132.9,254.4 L133.6,254.4 L134.3,254.4 L135.0,254.4 L135.7,254.4 L136.4,254.4 L137.1,254.4 L137.8,254.4 L138.5,254.4 L139.2,254.4 L139.9,254.4 L140.6,254.4 L141.3,254.4 L142.0,254.4 L142.7,254.4 L143.4,254.4 L144.1,254.4 L144.8,254.4 L145.5,254.4 L146.2,254.4 L146.9,254.4 L147.6,254.4 L148.3,254.4 L149.0,254.4 L149.7,254.4 L150.4,254.4 L151.1,254.4 L151.8,254.4 L152.5,254.4 L153.2,254.4 L153.9,254.4 L154.6,254.4 L155.3,254.4 L156.1,254.4 L156.8,254.4 L157.5,254.4 L158.2,254.4 L158.9,254.4 L159.6,254.4 L160.3,254.4 L161.0,254.4 L161.7,254.4 L162.4,254.4 L163.1,254.4 L163.8,254.4 L164.5,254.4 L165.2,254.4 L165.9,254.4 L166.6,254.4 L167.3,254.4 L168.0,254.4 L168.7,254.4 L169.4,254.4 L170.1,254.4 L170.8,254.4 L171.5,254.4 L172.2,254.4 L172.9,254.4 L173.6,254.4 L174.3,254.4 L175.0,254.4 L175.7,254.4 L176.4,254.4 L177.1,254.4 L177.8,254.4 L178.5,254.4 L179.2,254.4 L179.9,254.4 L180.6,254.4 L181.3,254.4 L182.0,254.4 L182.7,254.4 L183.4,254.4 L184.1,254.4 L184.8,254.4 L185.5,254.4 L186.2,254.4 L186.9,254.4 L187.6,254.4 L188.3,254.4 L189.0,254.4 L189.7,254.4 L190.4,254.4 L191.1,254.4 L191.8,254.4 L192.5,254.4 L193.2,254.4 L193.9,254.4 L194.7,254.4 L195.4,254.4 L196.1,254.4 L196.8,254.4 L197.5,254.4 L198.2,254.4 L198.9,254.4 L199.6,254.4 L200.3,254.4 L201.0,254.4 L201.7,254.4 L202.4,254.4 L203.1,254.4 L203.8,254.4 L204.5,254.4 L205.2,254.4 L205.9,254.4 L206.6,254.4 L207.3,254.4 L208.0,254.4 L208.7,254.4 L209.4,254.4 L210.1,254.4 L210.8,254.4 L211.5,254.4 L212.2,254.4 L212.9,254.4 L213.6,254.4 L214.3,254.4 L215.0,254.4 L215.7,254.4 L216.4,254.4 L217.1,254.4 L217.8,254.4 L218.5,254.4 L219.2,254.4 L219.9,254.4 L220.6,254.4 L221.3,254.4 L222.0,254.4 L222.7,254.4 L223.4,254.4 L224.1,254.4 L224.8,254.4 L225.5,254.4 L226.2,254.4 L226.9,254.4 L227.6,254.4 L228.3,254.4 L229.0,254.4 L229.7,254.4 L230.4,254.4 L231.1,254.4 L231.8,254.4 L232.5,254.4 L233.3,254.4 L234.0,254.4 L234.7,254.4 L235.4,254.4 L236.1,254.4 L236.8,254.4 L237.5,254.4 L238.2,254.4 L238.9,254.4 L239.6,254.4 L240.3,254.4 L241.0,254.4 L241.7,254.4 L242.4,254.4 L243.1,254.4 L243.8,254.4 L244.5,254.4 L245.2,254.4 L245.9,254.4 L246.6,254.4 L247.3,254.4 L248.0,254.4 L248.7,254.4 L249.4,254.4 L250.1,254.4 L250.8,254.4 L251.5,254.4 L252.2,254.4 L252.20,254.45 Z" fill="#d3dbd6" stroke="none"/>
<path d="M73.2,253.4 L73.9,253.1 L74.6,252.8 L75.3,252.5 L76.0,252.1 L76.7,251.6 L77.4,251.1 L78.1,250.5 L78.8,249.9 L79.6,249.2 L80.3,248.5 L81.0,247.8 L81.7,247.1 L82.4,246.4 L83.1,245.7 L83.8,245.1 L84.5,244.6 L85.2,244.2 L85.9,244.0 L86.6,244.0 L87.3,244.2 L88.0,244.5 L88.7,245.0 L89.4,245.6 L90.1,246.2 L90.8,246.9 L91.5,247.7 L92.2,248.4 L92.9,249.1 L93.6,249.7 L94.3,250.4 L95.0,251.0 L95.7,251.5 L96.4,252.0 L97.1,252.4 L97.8,252.8 L98.5,253.1 L99.2,253.3" fill="none" stroke="#111111" stroke-width="1.2" stroke-linejoin="round"/>
<line x1="59.9" y1="266.59999999999997" x2="252.20000000000002" y2="266.59999999999997" stroke="#e2f0fb" stroke-width="0.7" />
<path d="M59.90,266.90 L59.9,266.9 L60.6,266.9 L61.3,266.9 L62.0,266.9 L62.7,266.9 L63.4,266.9 L64.1,266.9 L64.8,266.9 L65.5,266.9 L66.2,266.9 L66.9,266.9 L67.6,266.9 L68.3,266.9 L69.0,266.9 L69.7,266.9 L70.4,266.9 L71.1,266.9 L71.8,266.9 L72.5,266.9 L73.2,266.9 L73.9,266.9 L74.6,266.9 L75.3,266.9 L76.0,266.9 L76.7,266.9 L77.4,266.9 L78.1,266.9 L78.8,266.9 L79.6,266.9 L80.3,266.9 L81.0,266.8 L81.7,266.8 L82.4,266.8 L83.1,266.8 L83.8,266.8 L84.5,266.8 L85.2,266.8 L85.9,266.7 L86.6,266.7 L87.3,266.7 L88.0,266.7 L88.7,266.6 L89.4,266.6 L90.1,266.6 L90.8,266.5 L91.5,266.5 L92.2,266.4 L92.9,266.4 L93.6,266.4 L94.3,266.3 L95.0,266.4 L95.7,266.4 L96.4,266.1 L97.1,266.4 L97.8,266.2 L98.5,266.2 L99.2,266.3 L99.9,266.1 L100.6,266.3 L101.3,266.1 L102.0,266.3 L102.7,266.3 L103.4,266.1 L104.1,265.9 L104.8,266.2 L105.5,266.2 L106.2,265.9 L106.9,265.8 L107.6,266.0 L108.3,266.0 L109.0,265.8 L109.7,266.2 L110.4,265.8 L111.1,266.1 L111.8,266.2 L112.5,266.2 L113.2,266.1 L113.9,265.8 L114.6,266.1 L115.3,265.9 L116.0,265.9 L116.7,266.0 L117.4,265.9 L118.2,266.1 L118.9,266.1 L119.6,266.0 L120.3,265.8 L121.0,265.9 L121.7,266.0 L122.4,265.8 L123.1,265.9 L123.8,265.9 L124.5,265.7 L125.2,265.7 L125.9,265.9 L126.6,265.7 L127.3,265.7 L128.0,265.5 L128.7,265.6 L129.4,265.8 L130.1,265.4 L130.8,265.8 L131.5,265.7 L132.2,265.5 L132.9,265.8 L133.6,265.6 L134.3,265.8 L135.0,265.4 L135.7,265.4 L136.4,265.4 L137.1,265.3 L137.8,265.5 L138.5,265.3 L139.2,265.3 L139.9,265.3 L140.6,265.4 L141.3,265.2 L142.0,265.1 L142.7,265.3 L143.4,265.2 L144.1,265.5 L144.8,265.1 L145.5,265.2 L146.2,265.0 L146.9,265.0 L147.6,265.3 L148.3,265.2 L149.0,265.1 L149.7,265.4 L150.4,265.2 L151.1,265.3 L151.8,265.3 L152.5,265.4 L153.2,265.0 L153.9,265.3 L154.6,265.2 L155.3,265.1 L156.1,264.8 L156.8,265.2 L157.5,264.9 L158.2,264.8 L158.9,264.5 L159.6,264.5 L160.3,264.3 L161.0,264.5 L161.7,264.2 L162.4,264.1 L163.1,263.6 L163.8,263.3 L164.5,263.4 L165.2,263.1 L165.9,262.7 L166.6,262.3 L167.3,261.8 L168.0,261.3 L168.7,261.1 L169.4,260.7 L170.1,260.1 L170.8,259.6 L171.5,259.0 L172.2,258.4 L172.9,258.1 L173.6,257.8 L174.3,257.3 L175.0,256.9 L175.7,257.0 L176.4,256.3 L177.1,256.2 L177.8,256.0 L178.5,256.0 L179.2,256.2 L179.9,256.3 L180.6,256.8 L181.3,257.1 L182.0,258.0 L182.7,258.8 L183.4,259.5 L184.1,260.4 L184.8,261.2 L185.5,262.2 L186.2,263.0 L186.9,263.6 L187.6,264.2 L188.3,264.6 L189.0,265.3 L189.7,265.2 L190.4,265.7 L191.1,266.2 L191.8,266.3 L192.5,266.4 L193.2,266.5 L193.9,266.6 L194.7,266.7 L195.4,266.7 L196.1,266.8 L196.8,266.8 L197.5,266.8 L198.2,266.8 L198.9,266.8 L199.6,266.9 L200.3,266.9 L201.0,266.9 L201.7,266.9 L202.4,266.9 L203.1,266.9 L203.8,266.9 L204.5,266.9 L205.2,266.9 L205.9,266.9 L206.6,266.9 L207.3,266.9 L208.0,266.9 L208.7,266.9 L209.4,266.9 L210.1,266.9 L210.8,266.9 L211.5,266.9 L212.2,266.9 L212.9,266.9 L213.6,266.9 L214.3,266.9 L215.0,266.9 L215.7,266.9 L216.4,266.9 L217.1,266.9 L217.8,266.9 L218.5,266.9 L219.2,266.9 L219.9,266.9 L220.6,266.9 L221.3,266.9 L222.0,266.9 L222.7,266.9 L223.4,266.9 L224.1,266.9 L224.8,266.9 L225.5,266.9 L226.2,266.9 L226.9,266.9 L227.6,266.9 L228.3,266.9 L229.0,266.9 L229.7,266.9 L230.4,266.9 L231.1,266.9 L231.8,266.9 L232.5,266.9 L233.3,266.9 L234.0,266.9 L234.7,266.9 L235.4,266.9 L236.1,266.9 L236.8,266.9 L237.5,266.9 L238.2,266.9 L238.9,266.9 L239.6,266.9 L240.3,266.9 L241.0,266.9 L241.7,266.9 L242.4,266.9 L243.1,266.9 L243.8,266.9 L244.5,266.9 L245.2,266.9 L245.9,266.9 L246.6,266.9 L247.3,266.9 L248.0,266.9 L248.7,266.9 L249.4,266.9 L250.1,266.9 L250.8,266.9 L251.5,266.9 L252.2,266.9 L252.20,266.90 Z" fill="#9dd2f6" stroke="none"/>
<path d="M108.3,266.0 L109.0,265.8 L109.7,266.2 L110.4,265.8 L111.1,266.1 L111.8,266.2 L112.5,266.2 L113.2,266.1 L113.9,265.8 L114.6,266.1 L115.3,265.9 L116.0,265.9 L116.7,266.0 L117.4,265.9 L118.2,266.1 L118.9,266.1 L119.6,266.0 L120.3,265.8 L121.0,265.9 L121.7,266.0 L122.4,265.8 L123.1,265.9 L123.8,265.9 L124.5,265.7 L125.2,265.7 L125.9,265.9 L126.6,265.7 L127.3,265.7 L128.0,265.5 L128.7,265.6 L129.4,265.8 L130.1,265.4 L130.8,265.8 L131.5,265.7 L132.2,265.5 L132.9,265.8 L133.6,265.6 L134.3,265.8 L135.0,265.4 L135.7,265.4 L136.4,265.4 L137.1,265.3 L137.8,265.5 L138.5,265.3 L139.2,265.3 L139.9,265.3 L140.6,265.4 L141.3,265.2 L142.0,265.1 L142.7,265.3 L143.4,265.2 L144.1,265.5 L144.8,265.1 L145.5,265.2 L146.2,265.0 L146.9,265.0 L147.6,265.3 L148.3,265.2 L149.0,265.1 L149.7,265.4 L150.4,265.2 L151.1,265.3 L151.8,265.3 L152.5,265.4 L153.2,265.0 L153.9,265.3 L154.6,265.2 L155.3,265.1 L156.1,264.8 L156.8,265.2 L157.5,264.9 L158.2,264.8 L158.9,264.5 L159.6,264.5 L160.3,264.3 L161.0,264.5 L161.7,264.2 L162.4,264.1 L163.1,263.6 L163.8,263.3 L164.5,263.4 L165.2,263.1 L165.9,262.7 L166.6,262.3 L167.3,261.8 L168.0,261.3 L168.7,261.1 L169.4,260.7 L170.1,260.1 L170.8,259.6 L171.5,259.0 L172.2,258.4 L172.9,258.1 L173.6,257.8 L174.3,257.3 L175.0,256.9 L175.7,257.0 L176.4,256.3 L177.1,256.2 L177.8,256.0 L178.5,256.0 L179.2,256.2 L179.9,256.3 L180.6,256.8 L181.3,257.1 L182.0,258.0 L182.7,258.8 L183.4,259.5 L184.1,260.4 L184.8,261.2 L185.5,262.2 L186.2,263.0 L186.9,263.6 L187.6,264.2 L188.3,264.6 L189.0,265.3 L189.7,265.2 L190.4,265.7" fill="none" stroke="#2a66f0" stroke-width="1.2" stroke-linejoin="round"/>
<line x1="59.9" y1="279.05" x2="252.20000000000002" y2="279.05" stroke="#f6dbe3" stroke-width="0.7" />
<path d="M59.90,279.35 L59.9,279.3 L60.6,279.3 L61.3,279.3 L62.0,279.3 L62.7,279.3 L63.4,279.3 L64.1,279.3 L64.8,279.3 L65.5,279.3 L66.2,279.3 L66.9,279.3 L67.6,279.3 L68.3,279.3 L69.0,279.3 L69.7,279.3 L70.4,279.3 L71.1,279.3 L71.8,279.3 L72.5,279.3 L73.2,279.3 L73.9,279.3 L74.6,279.3 L75.3,279.3 L76.0,279.3 L76.7,279.3 L77.4,279.3 L78.1,279.3 L78.8,279.3 L79.6,279.3 L80.3,279.3 L81.0,279.3 L81.7,279.3 L82.4,279.3 L83.1,279.3 L83.8,279.3 L84.5,279.3 L85.2,279.3 L85.9,279.3 L86.6,279.3 L87.3,279.3 L88.0,279.3 L88.7,279.3 L89.4,279.3 L90.1,279.3 L90.8,279.3 L91.5,279.3 L92.2,279.3 L92.9,279.3 L93.6,279.3 L94.3,279.3 L95.0,279.3 L95.7,279.3 L96.4,279.3 L97.1,279.3 L97.8,279.2 L98.5,279.2 L99.2,279.2 L99.9,279.2 L100.6,279.1 L101.3,279.1 L102.0,279.0 L102.7,279.0 L103.4,278.9 L104.1,278.8 L104.8,278.8 L105.5,278.6 L106.2,278.6 L106.9,278.0 L107.6,277.6 L108.3,277.4 L109.0,276.8 L109.7,276.3 L110.4,275.5 L111.1,274.5 L111.8,273.5 L112.5,272.2 L113.2,271.6 L113.9,270.7 L114.6,269.5 L115.3,269.1 L116.0,268.9 L116.7,268.5 L117.4,268.6 L118.2,268.4 L118.9,268.3 L119.6,268.6 L120.3,269.1 L121.0,269.9 L121.7,270.6 L122.4,271.5 L123.1,272.0 L123.8,272.9 L124.5,273.5 L125.2,274.4 L125.9,274.9 L126.6,275.0 L127.3,275.3 L128.0,275.5 L128.7,275.7 L129.4,275.8 L130.1,275.9 L130.8,276.1 L131.5,276.0 L132.2,276.1 L132.9,276.2 L133.6,276.2 L134.3,276.1 L135.0,276.1 L135.7,275.9 L136.4,275.7 L137.1,276.0 L137.8,275.7 L138.5,275.7 L139.2,275.7 L139.9,276.0 L140.6,276.0 L141.3,276.0 L142.0,276.0 L142.7,276.0 L143.4,275.7 L144.1,275.6 L144.8,275.6 L145.5,275.7 L146.2,275.6 L146.9,275.5 L147.6,275.8 L148.3,275.5 L149.0,275.4 L149.7,275.4 L150.4,275.4 L151.1,275.5 L151.8,275.6 L152.5,275.3 L153.2,275.4 L153.9,275.2 L154.6,275.1 L155.3,275.3 L156.1,275.3 L156.8,275.0 L157.5,275.0 L158.2,275.3 L158.9,275.3 L159.6,275.2 L160.3,274.8 L161.0,274.8 L161.7,275.1 L162.4,274.8 L163.1,274.7 L163.8,274.8 L164.5,275.0 L165.2,274.9 L165.9,275.1 L166.6,275.1 L167.3,274.6 L168.0,274.8 L168.7,274.8 L169.4,274.7 L170.1,274.9 L170.8,274.7 L171.5,274.7 L172.2,275.1 L172.9,275.1 L173.6,275.1 L174.3,275.1 L175.0,275.0 L175.7,275.2 L176.4,275.2 L177.1,275.3 L177.8,275.0 L178.5,275.3 L179.2,275.3 L179.9,275.3 L180.6,275.2 L181.3,275.5 L182.0,275.4 L182.7,275.7 L183.4,275.7 L184.1,275.8 L184.8,276.2 L185.5,276.1 L186.2,276.3 L186.9,276.5 L187.6,276.3 L188.3,276.7 L189.0,276.7 L189.7,276.8 L190.4,277.0 L191.1,277.3 L191.8,277.4 L192.5,277.5 L193.2,277.6 L193.9,278.1 L194.7,278.0 L195.4,278.3 L196.1,278.4 L196.8,278.3 L197.5,278.5 L198.2,278.6 L198.9,278.6 L199.6,278.8 L200.3,278.9 L201.0,279.0 L201.7,279.0 L202.4,279.1 L203.1,279.1 L203.8,279.1 L204.5,279.2 L205.2,279.2 L205.9,279.2 L206.6,279.2 L207.3,279.3 L208.0,279.3 L208.7,279.3 L209.4,279.3 L210.1,279.3 L210.8,279.3 L211.5,279.3 L212.2,279.3 L212.9,279.3 L213.6,279.3 L214.3,279.3 L215.0,279.3 L215.7,279.3 L216.4,279.3 L217.1,279.3 L217.8,279.3 L218.5,279.3 L219.2,279.3 L219.9,279.3 L220.6,279.3 L221.3,279.3 L222.0,279.3 L222.7,279.3 L223.4,279.3 L224.1,279.3 L224.8,279.3 L225.5,279.3 L226.2,279.3 L226.9,279.3 L227.6,279.3 L228.3,279.3 L229.0,279.3 L229.7,279.3 L230.4,279.3 L231.1,279.3 L231.8,279.3 L232.5,279.3 L233.3,279.3 L234.0,279.3 L234.7,279.3 L235.4,279.3 L236.1,279.3 L236.8,279.3 L237.5,279.3 L238.2,279.3 L238.9,279.3 L239.6,279.3 L240.3,279.3 L241.0,279.3 L241.7,279.3 L242.4,279.3 L243.1,279.3 L243.8,279.3 L244.5,279.3 L245.2,279.3 L245.9,279.3 L246.6,279.3 L247.3,279.3 L248.0,279.3 L248.7,279.3 L249.4,279.3 L250.1,279.3 L250.8,279.3 L251.5,279.3 L252.2,279.3 L252.20,279.35 Z" fill="#e489ae" stroke="none"/>
<path d="M106.2,278.6 L106.9,278.0 L107.6,277.6 L108.3,277.4 L109.0,276.8 L109.7,276.3 L110.4,275.5 L111.1,274.5 L111.8,273.5 L112.5,272.2 L113.2,271.6 L113.9,270.7 L114.6,269.5 L115.3,269.1 L116.0,268.9 L116.7,268.5 L117.4,268.6 L118.2,268.4 L118.9,268.3 L119.6,268.6 L120.3,269.1 L121.0,269.9 L121.7,270.6 L122.4,271.5 L123.1,272.0 L123.8,272.9 L124.5,273.5 L125.2,274.4 L125.9,274.9 L126.6,275.0 L127.3,275.3 L128.0,275.5 L128.7,275.7 L129.4,275.8 L130.1,275.9 L130.8,276.1 L131.5,276.0 L132.2,276.1 L132.9,276.2 L133.6,276.2 L134.3,276.1 L135.0,276.1 L135.7,275.9 L136.4,275.7 L137.1,276.0 L137.8,275.7 L138.5,275.7 L139.2,275.7 L139.9,276.0 L140.6,276.0 L141.3,276.0 L142.0,276.0 L142.7,276.0 L143.4,275.7 L144.1,275.6 L144.8,275.6 L145.5,275.7 L146.2,275.6 L146.9,275.5 L147.6,275.8 L148.3,275.5 L149.0,275.4 L149.7,275.4 L150.4,275.4 L151.1,275.5 L151.8,275.6 L152.5,275.3 L153.2,275.4 L153.9,275.2 L154.6,275.1 L155.3,275.3 L156.1,275.3 L156.8,275.0 L157.5,275.0 L158.2,275.3 L158.9,275.3 L159.6,275.2 L160.3,274.8 L161.0,274.8 L161.7,275.1 L162.4,274.8 L163.1,274.7 L163.8,274.8 L164.5,275.0 L165.2,274.9 L165.9,275.1 L166.6,275.1 L167.3,274.6 L168.0,274.8 L168.7,274.8 L169.4,274.7 L170.1,274.9 L170.8,274.7 L171.5,274.7 L172.2,275.1 L172.9,275.1 L173.6,275.1 L174.3,275.1 L175.0,275.0 L175.7,275.2 L176.4,275.2 L177.1,275.3 L177.8,275.0 L178.5,275.3 L179.2,275.3 L179.9,275.3 L180.6,275.2 L181.3,275.5 L182.0,275.4 L182.7,275.7 L183.4,275.7 L184.1,275.8 L184.8,276.2 L185.5,276.1 L186.2,276.3 L186.9,276.5 L187.6,276.3 L188.3,276.7 L189.0,276.7 L189.7,276.8 L190.4,277.0 L191.1,277.3 L191.8,277.4 L192.5,277.5 L193.2,277.6 L193.9,278.1 L194.7,278.0 L195.4,278.3 L196.1,278.4 L196.8,278.3" fill="none" stroke="#c4102a" stroke-width="1.2" stroke-linejoin="round"/>
<line x1="59.9" y1="291.5" x2="252.20000000000002" y2="291.5" stroke="#dcf5d5" stroke-width="0.7" />
<path d="M59.90,291.80 L59.9,291.8 L60.6,291.8 L61.3,291.8 L62.0,291.8 L62.7,291.8 L63.4,291.8 L64.1,291.8 L64.8,291.8 L65.5,291.8 L66.2,291.8 L66.9,291.8 L67.6,291.8 L68.3,291.8 L69.0,291.8 L69.7,291.8 L70.4,291.8 L71.1,291.8 L71.8,291.8 L72.5,291.8 L73.2,291.8 L73.9,291.8 L74.6,291.8 L75.3,291.8 L76.0,291.8 L76.7,291.8 L77.4,291.8 L78.1,291.8 L78.8,291.8 L79.6,291.8 L80.3,291.8 L81.0,291.8 L81.7,291.8 L82.4,291.8 L83.1,291.8 L83.8,291.8 L84.5,291.8 L85.2,291.8 L85.9,291.8 L86.6,291.8 L87.3,291.8 L88.0,291.8 L88.7,291.8 L89.4,291.8 L90.1,291.8 L90.8,291.8 L91.5,291.8 L92.2,291.8 L92.9,291.8 L93.6,291.8 L94.3,291.8 L95.0,291.7 L95.7,291.7 L96.4,291.7 L97.1,291.7 L97.8,291.7 L98.5,291.7 L99.2,291.7 L99.9,291.6 L100.6,291.6 L101.3,291.6 L102.0,291.5 L102.7,291.5 L103.4,291.4 L104.1,291.3 L104.8,291.2 L105.5,290.9 L106.2,290.9 L106.9,290.6 L107.6,290.3 L108.3,289.9 L109.0,289.3 L109.7,288.7 L110.4,287.8 L111.1,287.0 L111.8,285.7 L112.5,284.8 L113.2,283.8 L113.9,282.8 L114.6,282.4 L115.3,281.7 L116.0,281.1 L116.7,280.9 L117.4,281.2 L118.2,281.2 L118.9,281.1 L119.6,281.6 L120.3,282.0 L121.0,282.7 L121.7,283.1 L122.4,283.9 L123.1,284.6 L123.8,285.8 L124.5,286.3 L125.2,286.9 L125.9,287.7 L126.6,287.8 L127.3,288.0 L128.0,288.6 L128.7,288.4 L129.4,288.7 L130.1,288.8 L130.8,288.5 L131.5,288.6 L132.2,289.0 L132.9,288.8 L133.6,288.8 L134.3,288.9 L135.0,289.0 L135.7,288.9 L136.4,288.7 L137.1,289.0 L137.8,288.8 L138.5,288.8 L139.2,289.0 L139.9,288.9 L140.6,288.7 L141.3,288.7 L142.0,289.0 L142.7,288.5 L143.4,288.6 L144.1,288.5 L144.8,288.9 L145.5,288.8 L146.2,288.9 L146.9,288.5 L147.6,288.7 L148.3,288.7 L149.0,288.6 L149.7,288.3 L150.4,288.3 L151.1,288.5 L151.8,288.5 L152.5,288.1 L153.2,288.2 L153.9,288.0 L154.6,288.3 L155.3,288.2 L156.1,287.8 L156.8,287.8 L157.5,287.9 L158.2,287.4 L158.9,287.4 L159.6,287.2 L160.3,287.5 L161.0,287.0 L161.7,287.3 L162.4,286.7 L163.1,286.8 L163.8,286.8 L164.5,286.6 L165.2,286.3 L165.9,286.5 L166.6,286.5 L167.3,286.2 L168.0,286.2 L168.7,286.2 L169.4,286.1 L170.1,286.1 L170.8,286.0 L171.5,285.9 L172.2,285.9 L172.9,285.7 L173.6,285.9 L174.3,285.8 L175.0,286.0 L175.7,286.0 L176.4,286.2 L177.1,286.2 L177.8,286.4 L178.5,286.1 L179.2,286.3 L179.9,286.6 L180.6,286.6 L181.3,286.5 L182.0,287.0 L182.7,286.8 L183.4,287.2 L184.1,287.3 L184.8,287.3 L185.5,287.7 L186.2,287.8 L186.9,287.9 L187.6,287.9 L188.3,288.5 L189.0,288.4 L189.7,288.7 L190.4,288.9 L191.1,289.2 L191.8,289.5 L192.5,289.8 L193.2,290.0 L193.9,290.2 L194.7,290.1 L195.4,290.5 L196.1,290.7 L196.8,290.9 L197.5,290.6 L198.2,290.7 L198.9,291.0 L199.6,291.3 L200.3,291.2 L201.0,291.3 L201.7,291.4 L202.4,291.5 L203.1,291.5 L203.8,291.6 L204.5,291.6 L205.2,291.6 L205.9,291.7 L206.6,291.7 L207.3,291.7 L208.0,291.7 L208.7,291.7 L209.4,291.7 L210.1,291.7 L210.8,291.8 L211.5,291.8 L212.2,291.8 L212.9,291.8 L213.6,291.8 L214.3,291.8 L215.0,291.8 L215.7,291.8 L216.4,291.8 L217.1,291.8 L217.8,291.8 L218.5,291.8 L219.2,291.8 L219.9,291.8 L220.6,291.8 L221.3,291.8 L222.0,291.8 L222.7,291.8 L223.4,291.8 L224.1,291.8 L224.8,291.8 L225.5,291.8 L226.2,291.8 L226.9,291.8 L227.6,291.8 L228.3,291.8 L229.0,291.8 L229.7,291.8 L230.4,291.8 L231.1,291.8 L231.8,291.8 L232.5,291.8 L233.3,291.8 L234.0,291.8 L234.7,291.8 L235.4,291.8 L236.1,291.8 L236.8,291.8 L237.5,291.8 L238.2,291.8 L238.9,291.8 L239.6,291.8 L240.3,291.8 L241.0,291.8 L241.7,291.8 L242.4,291.8 L243.1,291.8 L243.8,291.8 L244.5,291.8 L245.2,291.8 L245.9,291.8 L246.6,291.8 L247.3,291.8 L248.0,291.8 L248.7,291.8 L249.4,291.8 L250.1,291.8 L250.8,291.8 L251.5,291.8 L252.2,291.8 L252.20,291.80 Z" fill="#8deb7b" stroke="none"/>
<path d="M106.9,290.6 L107.6,290.3 L108.3,289.9 L109.0,289.3 L109.7,288.7 L110.4,287.8 L111.1,287.0 L111.8,285.7 L112.5,284.8 L113.2,283.8 L113.9,282.8 L114.6,282.4 L115.3,281.7 L116.0,281.1 L116.7,280.9 L117.4,281.2 L118.2,281.2 L118.9,281.1 L119.6,281.6 L120.3,282.0 L121.0,282.7 L121.7,283.1 L122.4,283.9 L123.1,284.6 L123.8,285.8 L124.5,286.3 L125.2,286.9 L125.9,287.7 L126.6,287.8 L127.3,288.0 L128.0,288.6 L128.7,288.4 L129.4,288.7 L130.1,288.8 L130.8,288.5 L131.5,288.6 L132.2,289.0 L132.9,288.8 L133.6,288.8 L134.3,288.9 L135.0,289.0 L135.7,288.9 L136.4,288.7 L137.1,289.0 L137.8,288.8 L138.5,288.8 L139.2,289.0 L139.9,288.9 L140.6,288.7 L141.3,288.7 L142.0,289.0 L142.7,288.5 L143.4,288.6 L144.1,288.5 L144.8,288.9 L145.5,288.8 L146.2,288.9 L146.9,288.5 L147.6,288.7 L148.3,288.7 L149.0,288.6 L149.7,288.3 L150.4,288.3 L151.1,288.5 L151.8,288.5 L152.5,288.1 L153.2,288.2 L153.9,288.0 L154.6,288.3 L155.3,288.2 L156.1,287.8 L156.8,287.8 L157.5,287.9 L158.2,287.4 L158.9,287.4 L159.6,287.2 L160.3,287.5 L161.0,287.0 L161.7,287.3 L162.4,286.7 L163.1,286.8 L163.8,286.8 L164.5,286.6 L165.2,286.3 L165.9,286.5 L166.6,286.5 L167.3,286.2 L168.0,286.2 L168.7,286.2 L169.4,286.1 L170.1,286.1 L170.8,286.0 L171.5,285.9 L172.2,285.9 L172.9,285.7 L173.6,285.9 L174.3,285.8 L175.0,286.0 L175.7,286.0 L176.4,286.2 L177.1,286.2 L177.8,286.4 L178.5,286.1 L179.2,286.3 L179.9,286.6 L180.6,286.6 L181.3,286.5 L182.0,287.0 L182.7,286.8 L183.4,287.2 L184.1,287.3 L184.8,287.3 L185.5,287.7 L186.2,287.8 L186.9,287.9 L187.6,287.9 L188.3,288.5 L189.0,288.4 L189.7,288.7 L190.4,288.9 L191.1,289.2 L191.8,289.5 L192.5,289.8 L193.2,290.0 L193.9,290.2 L194.7,290.1 L195.4,290.5 L196.1,290.7 L196.8,290.9 L197.5,290.6" fill="none" stroke="#22b51e" stroke-width="1.2" stroke-linejoin="round"/>
<line x1="130.8" y1="242.0" x2="130.8" y2="291.8" stroke="#111" stroke-width="1.1" />
<rect x="59.4" y="242.0" width="193.3" height="49.8" fill="none" stroke="#8c8c8c" stroke-width="0.8"/>
<text x="248.8" y="251.3" font-size="8.9" text-anchor="end" fill="#222" stroke="#222" stroke-width="0.22" textLength="41.8" lengthAdjust="spacingAndGlyphs" >Control Ab</text>
<text x="248.8" y="263.75" font-size="8.9" text-anchor="end" fill="#222" stroke="#222" stroke-width="0.22" textLength="24.5" lengthAdjust="spacingAndGlyphs" >DMSO</text>
<text x="248.8" y="276.2" font-size="8.9" text-anchor="end" fill="#222" stroke="#222" stroke-width="0.22" textLength="40.8" lengthAdjust="spacingAndGlyphs" >KIN-0.5μM</text>
<text x="248.8" y="288.65" font-size="8.9" text-anchor="end" fill="#222" stroke="#222" stroke-width="0.22" textLength="40.8" lengthAdjust="spacingAndGlyphs" >KIN-0.1μM</text>
<line x1="74.6" y1="291.8" x2="74.6" y2="293.3" stroke="#888" stroke-width="0.6" />
<rect x="73.40" y="295.00" width="2.4" height="1.2" fill="#bbb"/>
<line x1="96.4" y1="291.8" x2="96.4" y2="293.3" stroke="#888" stroke-width="0.6" />
<rect x="95.20" y="295.00" width="2.4" height="1.2" fill="#bbb"/>
<line x1="130.5" y1="291.8" x2="130.5" y2="293.3" stroke="#888" stroke-width="0.6" />
<rect x="129.30" y="295.00" width="2.4" height="1.2" fill="#bbb"/>
<line x1="166.3" y1="291.8" x2="166.3" y2="293.3" stroke="#888" stroke-width="0.6" />
<rect x="165.10" y="295.00" width="2.4" height="1.2" fill="#bbb"/>
<line x1="202.5" y1="291.8" x2="202.5" y2="293.3" stroke="#888" stroke-width="0.6" />
<rect x="201.30" y="295.00" width="2.4" height="1.2" fill="#bbb"/>
<line x1="238.7" y1="291.8" x2="238.7" y2="293.3" stroke="#888" stroke-width="0.6" />
<rect x="237.50" y="295.00" width="2.4" height="1.2" fill="#bbb"/>
<rect x="61" y="291.8" width="0.6" height="1" fill="#c8c8c8"/>
<rect x="64" y="291.8" width="0.6" height="1" fill="#c8c8c8"/>
<rect x="67" y="291.8" width="0.6" height="1" fill="#c8c8c8"/>
<rect x="70" y="291.8" width="0.6" height="1" fill="#c8c8c8"/>
<rect x="73" y="291.8" width="0.6" height="1" fill="#c8c8c8"/>
<rect x="76" y="291.8" width="0.6" height="1" fill="#c8c8c8"/>
<rect x="79" y="291.8" width="0.6" height="1" fill="#c8c8c8"/>
<rect x="82" y="291.8" width="0.6" height="1" fill="#c8c8c8"/>
<rect x="85" y="291.8" width="0.6" height="1" fill="#c8c8c8"/>
<rect x="88" y="291.8" width="0.6" height="1" fill="#c8c8c8"/>
<rect x="91" y="291.8" width="0.6" height="1" fill="#c8c8c8"/>
<rect x="94" y="291.8" width="0.6" height="1" fill="#c8c8c8"/>
<rect x="97" y="291.8" width="0.6" height="1" fill="#c8c8c8"/>
<rect x="100" y="291.8" width="0.6" height="1" fill="#c8c8c8"/>
<rect x="103" y="291.8" width="0.6" height="1" fill="#c8c8c8"/>
<rect x="106" y="291.8" width="0.6" height="1" fill="#c8c8c8"/>
<rect x="109" y="291.8" width="0.6" height="1" fill="#c8c8c8"/>
<rect x="112" y="291.8" width="0.6" height="1" fill="#c8c8c8"/>
<rect x="115" y="291.8" width="0.6" height="1" fill="#c8c8c8"/>
<rect x="118" y="291.8" width="0.6" height="1" fill="#c8c8c8"/>
<rect x="121" y="291.8" width="0.6" height="1" fill="#c8c8c8"/>
<rect x="124" y="291.8" width="0.6" height="1" fill="#c8c8c8"/>
<rect x="127" y="291.8" width="0.6" height="1" fill="#c8c8c8"/>
<rect x="130" y="291.8" width="0.6" height="1" fill="#c8c8c8"/>
<rect x="133" y="291.8" width="0.6" height="1" fill="#c8c8c8"/>
<rect x="136" y="291.8" width="0.6" height="1" fill="#c8c8c8"/>
<rect x="139" y="291.8" width="0.6" height="1" fill="#c8c8c8"/>
<rect x="142" y="291.8" width="0.6" height="1" fill="#c8c8c8"/>
<rect x="145" y="291.8" width="0.6" height="1" fill="#c8c8c8"/>
<rect x="148" y="291.8" width="0.6" height="1" fill="#c8c8c8"/>
<rect x="151" y="291.8" width="0.6" height="1" fill="#c8c8c8"/>
<rect x="154" y="291.8" width="0.6" height="1" fill="#c8c8c8"/>
<rect x="157" y="291.8" width="0.6" height="1" fill="#c8c8c8"/>
<rect x="160" y="291.8" width="0.6" height="1" fill="#c8c8c8"/>
<rect x="163" y="291.8" width="0.6" height="1" fill="#c8c8c8"/>
<rect x="166" y="291.8" width="0.6" height="1" fill="#c8c8c8"/>
<rect x="169" y="291.8" width="0.6" height="1" fill="#c8c8c8"/>
<rect x="172" y="291.8" width="0.6" height="1" fill="#c8c8c8"/>
<rect x="175" y="291.8" width="0.6" height="1" fill="#c8c8c8"/>
<rect x="178" y="291.8" width="0.6" height="1" fill="#c8c8c8"/>
<rect x="181" y="291.8" width="0.6" height="1" fill="#c8c8c8"/>
<rect x="184" y="291.8" width="0.6" height="1" fill="#c8c8c8"/>
<rect x="187" y="291.8" width="0.6" height="1" fill="#c8c8c8"/>
<rect x="190" y="291.8" width="0.6" height="1" fill="#c8c8c8"/>
<rect x="193" y="291.8" width="0.6" height="1" fill="#c8c8c8"/>
<rect x="196" y="291.8" width="0.6" height="1" fill="#c8c8c8"/>
<rect x="199" y="291.8" width="0.6" height="1" fill="#c8c8c8"/>
<rect x="202" y="291.8" width="0.6" height="1" fill="#c8c8c8"/>
<rect x="205" y="291.8" width="0.6" height="1" fill="#c8c8c8"/>
<rect x="208" y="291.8" width="0.6" height="1" fill="#c8c8c8"/>
<rect x="211" y="291.8" width="0.6" height="1" fill="#c8c8c8"/>
<rect x="214" y="291.8" width="0.6" height="1" fill="#c8c8c8"/>
<rect x="217" y="291.8" width="0.6" height="1" fill="#c8c8c8"/>
<rect x="220" y="291.8" width="0.6" height="1" fill="#c8c8c8"/>
<rect x="223" y="291.8" width="0.6" height="1" fill="#c8c8c8"/>
<rect x="226" y="291.8" width="0.6" height="1" fill="#c8c8c8"/>
<rect x="229" y="291.8" width="0.6" height="1" fill="#c8c8c8"/>
<rect x="232" y="291.8" width="0.6" height="1" fill="#c8c8c8"/>
<rect x="235" y="291.8" width="0.6" height="1" fill="#c8c8c8"/>
<rect x="238" y="291.8" width="0.6" height="1" fill="#c8c8c8"/>
<rect x="241" y="291.8" width="0.6" height="1" fill="#c8c8c8"/>
<rect x="244" y="291.8" width="0.6" height="1" fill="#c8c8c8"/>
<rect x="247" y="291.8" width="0.6" height="1" fill="#c8c8c8"/>
<rect x="70.40" y="292.00" width="6" height="1.1" fill="#555"/>
<rect x="152.40" y="300.20" width="7" height="1.3" fill="#c5c5c5"/>
<rect x="59.4" y="304.3" width="193.3" height="49.8" fill="#fff" stroke="none"/>
<line x1="59.9" y1="316.45" x2="252.20000000000002" y2="316.45" stroke="#dfe4e1" stroke-width="0.7" />
<path d="M59.90,316.75 L59.9,316.7 L60.6,316.7 L61.3,316.7 L62.0,316.7 L62.7,316.7 L63.4,316.7 L64.1,316.7 L64.8,316.7 L65.5,316.7 L66.2,316.7 L66.9,316.7 L67.6,316.6 L68.3,316.6 L69.0,316.5 L69.7,316.5 L70.4,316.4 L71.1,316.3 L71.8,316.1 L72.5,316.0 L73.2,315.8 L73.9,315.5 L74.6,315.2 L75.3,314.9 L76.0,314.5 L76.7,314.1 L77.4,313.6 L78.1,313.0 L78.8,312.4 L79.6,311.8 L80.3,311.1 L81.0,310.4 L81.7,309.7 L82.4,309.0 L83.1,308.4 L83.8,307.8 L84.5,307.3 L85.2,306.9 L85.9,306.6 L86.6,306.6 L87.3,306.7 L88.0,307.1 L88.7,307.5 L89.4,308.1 L90.1,308.7 L90.8,309.4 L91.5,310.0 L92.2,310.7 L92.9,311.4 L93.6,312.1 L94.3,312.7 L95.0,313.3 L95.7,313.8 L96.4,314.3 L97.1,314.7 L97.8,315.1 L98.5,315.4 L99.2,315.6 L99.9,315.9 L100.6,316.0 L101.3,316.2 L102.0,316.3 L102.7,316.4 L103.4,316.5 L104.1,316.6 L104.8,316.6 L105.5,316.6 L106.2,316.7 L106.9,316.7 L107.6,316.7 L108.3,316.7 L109.0,316.7 L109.7,316.7 L110.4,316.7 L111.1,316.7 L111.8,316.7 L112.5,316.7 L113.2,316.7 L113.9,316.7 L114.6,316.7 L115.3,316.7 L116.0,316.7 L116.7,316.7 L117.4,316.7 L118.2,316.7 L118.9,316.7 L119.6,316.7 L120.3,316.7 L121.0,316.7 L121.7,316.7 L122.4,316.7 L123.1,316.7 L123.8,316.7 L124.5,316.7 L125.2,316.7 L125.9,316.7 L126.6,316.7 L127.3,316.7 L128.0,316.7 L128.7,316.7 L129.4,316.7 L130.1,316.7 L130.8,316.7 L131.5,316.7 L132.2,316.7 L132.9,316.7 L133.6,316.7 L134.3,316.7 L135.0,316.7 L135.7,316.7 L136.4,316.7 L137.1,316.7 L137.8,316.7 L138.5,316.7 L139.2,316.7 L139.9,316.7 L140.6,316.7 L141.3,316.7 L142.0,316.7 L142.7,316.7 L143.4,316.7 L144.1,316.7 L144.8,316.8 L145.5,316.8 L146.2,316.8 L146.9,316.8 L147.6,316.8 L148.3,316.8 L149.0,316.8 L149.7,316.8 L150.4,316.8 L151.1,316.8 L151.8,316.8 L152.5,316.8 L153.2,316.8 L153.9,316.8 L154.6,316.8 L155.3,316.8 L156.1,316.8 L156.8,316.8 L157.5,316.8 L158.2,316.8 L158.9,316.8 L159.6,316.8 L160.3,316.8 L161.0,316.8 L161.7,316.8 L162.4,316.8 L163.1,316.8 L163.8,316.8 L164.5,316.8 L165.2,316.8 L165.9,316.8 L166.6,316.8 L167.3,316.8 L168.0,316.8 L168.7,316.8 L169.4,316.8 L170.1,316.8 L170.8,316.8 L171.5,316.8 L172.2,316.8 L172.9,316.8 L173.6,316.8 L174.3,316.8 L175.0,316.8 L175.7,316.8 L176.4,316.8 L177.1,316.8 L177.8,316.8 L178.5,316.8 L179.2,316.8 L179.9,316.8 L180.6,316.8 L181.3,316.8 L182.0,316.8 L182.7,316.8 L183.4,316.8 L184.1,316.8 L184.8,316.8 L185.5,316.8 L186.2,316.8 L186.9,316.8 L187.6,316.8 L188.3,316.8 L189.0,316.8 L189.7,316.8 L190.4,316.8 L191.1,316.8 L191.8,316.8 L192.5,316.8 L193.2,316.8 L193.9,316.8 L194.7,316.8 L195.4,316.8 L196.1,316.8 L196.8,316.8 L197.5,316.8 L198.2,316.8 L198.9,316.8 L199.6,316.8 L200.3,316.8 L201.0,316.8 L201.7,316.8 L202.4,316.8 L203.1,316.8 L203.8,316.8 L204.5,316.8 L205.2,316.8 L205.9,316.8 L206.6,316.8 L207.3,316.8 L208.0,316.8 L208.7,316.8 L209.4,316.8 L210.1,316.8 L210.8,316.8 L211.5,316.8 L212.2,316.8 L212.9,316.8 L213.6,316.8 L214.3,316.8 L215.0,316.8 L215.7,316.8 L216.4,316.8 L217.1,316.8 L217.8,316.8 L218.5,316.8 L219.2,316.8 L219.9,316.8 L220.6,316.8 L221.3,316.8 L222.0,316.8 L222.7,316.8 L223.4,316.8 L224.1,316.8 L224.8,316.8 L225.5,316.8 L226.2,316.8 L226.9,316.8 L227.6,316.8 L228.3,316.8 L229.0,316.8 L229.7,316.8 L230.4,316.8 L231.1,316.8 L231.8,316.8 L232.5,316.8 L233.3,316.8 L234.0,316.8 L234.7,316.8 L235.4,316.8 L236.1,316.8 L236.8,316.8 L237.5,316.8 L238.2,316.8 L238.9,316.8 L239.6,316.8 L240.3,316.8 L241.0,316.8 L241.7,316.8 L242.4,316.8 L243.1,316.8 L243.8,316.8 L244.5,316.8 L245.2,316.8 L245.9,316.8 L246.6,316.8 L247.3,316.8 L248.0,316.8 L248.7,316.8 L249.4,316.8 L250.1,316.8 L250.8,316.8 L251.5,316.8 L252.2,316.8 L252.20,316.75 Z" fill="#d3dbd6" stroke="none"/>
<path d="M73.2,315.8 L73.9,315.5 L74.6,315.2 L75.3,314.9 L76.0,314.5 L76.7,314.1 L77.4,313.6 L78.1,313.0 L78.8,312.4 L79.6,311.8 L80.3,311.1 L81.0,310.4 L81.7,309.7 L82.4,309.0 L83.1,308.4 L83.8,307.8 L84.5,307.3 L85.2,306.9 L85.9,306.6 L86.6,306.6 L87.3,306.7 L88.0,307.1 L88.7,307.5 L89.4,308.1 L90.1,308.7 L90.8,309.4 L91.5,310.0 L92.2,310.7 L92.9,311.4 L93.6,312.1 L94.3,312.7 L95.0,313.3 L95.7,313.8 L96.4,314.3 L97.1,314.7 L97.8,315.1 L98.5,315.4 L99.2,315.6" fill="none" stroke="#111111" stroke-width="1.2" stroke-linejoin="round"/>
<line x1="59.9" y1="328.9" x2="252.20000000000002" y2="328.9" stroke="#e2f0fb" stroke-width="0.7" />
<path d="M59.90,329.20 L59.9,329.2 L60.6,329.2 L61.3,329.2 L62.0,329.2 L62.7,329.2 L63.4,329.2 L64.1,329.2 L64.8,329.2 L65.5,329.2 L66.2,329.2 L66.9,329.2 L67.6,329.2 L68.3,329.2 L69.0,329.2 L69.7,329.2 L70.4,329.2 L71.1,329.2 L71.8,329.2 L72.5,329.2 L73.2,329.2 L73.9,329.2 L74.6,329.2 L75.3,329.2 L76.0,329.2 L76.7,329.2 L77.4,329.2 L78.1,329.2 L78.8,329.2 L79.6,329.2 L80.3,329.2 L81.0,329.2 L81.7,329.2 L82.4,329.1 L83.1,329.1 L83.8,329.1 L84.5,329.1 L85.2,329.1 L85.9,329.1 L86.6,329.1 L87.3,329.1 L88.0,329.0 L88.7,329.0 L89.4,329.0 L90.1,329.0 L90.8,329.0 L91.5,328.9 L92.2,328.9 L92.9,328.9 L93.6,328.9 L94.3,328.8 L95.0,328.8 L95.7,328.8 L96.4,328.7 L97.1,328.7 L97.8,328.7 L98.5,328.6 L99.2,328.6 L99.9,328.7 L100.6,328.7 L101.3,328.6 L102.0,328.7 L102.7,328.5 L103.4,328.6 L104.1,328.2 L104.8,328.2 L105.5,328.4 L106.2,328.5 L106.9,328.2 L107.6,328.5 L108.3,328.4 L109.0,328.6 L109.7,328.4 L110.4,328.4 L111.1,328.3 L111.8,328.5 L112.5,328.3 L113.2,328.6 L113.9,328.4 L114.6,328.5 L115.3,328.3 L116.0,328.5 L116.7,328.5 L117.4,328.3 L118.2,328.3 L118.9,328.1 L119.6,328.1 L120.3,328.0 L121.0,328.0 L121.7,327.9 L122.4,327.8 L123.1,327.9 L123.8,327.9 L124.5,327.5 L125.2,327.9 L125.9,327.6 L126.6,327.6 L127.3,327.8 L128.0,327.4 L128.7,327.3 L129.4,327.4 L130.1,327.4 L130.8,327.4 L131.5,327.7 L132.2,327.5 L132.9,327.6 L133.6,327.5 L134.3,327.5 L135.0,327.6 L135.7,327.7 L136.4,327.7 L137.1,327.8 L137.8,327.9 L138.5,328.1 L139.2,328.3 L139.9,328.3 L140.6,328.2 L141.3,328.4 L142.0,328.0 L142.7,328.2 L143.4,328.2 L144.1,328.2 L144.8,328.2 L145.5,328.3 L146.2,328.5 L146.9,328.1 L147.6,328.1 L148.3,328.3 L149.0,328.2 L149.7,328.2 L150.4,328.4 L151.1,328.1 L151.8,328.3 L152.5,328.4 L153.2,328.2 L153.9,328.0 L154.6,328.2 L155.3,327.8 L156.1,327.6 L156.8,327.8 L157.5,327.8 L158.2,327.6 L158.9,327.3 L159.6,327.1 L160.3,327.0 L161.0,326.8 L161.7,326.9 L162.4,326.6 L163.1,326.3 L163.8,325.7 L164.5,325.6 L165.2,325.1 L165.9,325.0 L166.6,324.6 L167.3,324.1 L168.0,323.4 L168.7,323.0 L169.4,322.5 L170.1,322.3 L170.8,321.7 L171.5,321.3 L172.2,320.9 L172.9,320.7 L173.6,319.9 L174.3,319.9 L175.0,319.2 L175.7,319.0 L176.4,319.3 L177.1,318.9 L177.8,318.6 L178.5,318.5 L179.2,318.9 L179.9,319.2 L180.6,319.6 L181.3,319.7 L182.0,320.7 L182.7,321.2 L183.4,322.2 L184.1,322.7 L184.8,323.3 L185.5,324.5 L186.2,324.8 L186.9,325.6 L187.6,326.0 L188.3,326.7 L189.0,327.4 L189.7,327.4 L190.4,327.9 L191.1,328.4 L191.8,328.7 L192.5,328.6 L193.2,328.7 L193.9,328.8 L194.7,328.9 L195.4,329.0 L196.1,329.0 L196.8,329.1 L197.5,329.1 L198.2,329.1 L198.9,329.1 L199.6,329.1 L200.3,329.2 L201.0,329.2 L201.7,329.2 L202.4,329.2 L203.1,329.2 L203.8,329.2 L204.5,329.2 L205.2,329.2 L205.9,329.2 L206.6,329.2 L207.3,329.2 L208.0,329.2 L208.7,329.2 L209.4,329.2 L210.1,329.2 L210.8,329.2 L211.5,329.2 L212.2,329.2 L212.9,329.2 L213.6,329.2 L214.3,329.2 L215.0,329.2 L215.7,329.2 L216.4,329.2 L217.1,329.2 L217.8,329.2 L218.5,329.2 L219.2,329.2 L219.9,329.2 L220.6,329.2 L221.3,329.2 L222.0,329.2 L222.7,329.2 L223.4,329.2 L224.1,329.2 L224.8,329.2 L225.5,329.2 L226.2,329.2 L226.9,329.2 L227.6,329.2 L228.3,329.2 L229.0,329.2 L229.7,329.2 L230.4,329.2 L231.1,329.2 L231.8,329.2 L232.5,329.2 L233.3,329.2 L234.0,329.2 L234.7,329.2 L235.4,329.2 L236.1,329.2 L236.8,329.2 L237.5,329.2 L238.2,329.2 L238.9,329.2 L239.6,329.2 L240.3,329.2 L241.0,329.2 L241.7,329.2 L242.4,329.2 L243.1,329.2 L243.8,329.2 L244.5,329.2 L245.2,329.2 L245.9,329.2 L246.6,329.2 L247.3,329.2 L248.0,329.2 L248.7,329.2 L249.4,329.2 L250.1,329.2 L250.8,329.2 L251.5,329.2 L252.2,329.2 L252.20,329.20 Z" fill="#9dd2f6" stroke="none"/>
<path d="M114.6,328.5 L115.3,328.3 L116.0,328.5 L116.7,328.5 L117.4,328.3 L118.2,328.3 L118.9,328.1 L119.6,328.1 L120.3,328.0 L121.0,328.0 L121.7,327.9 L122.4,327.8 L123.1,327.9 L123.8,327.9 L124.5,327.5 L125.2,327.9 L125.9,327.6 L126.6,327.6 L127.3,327.8 L128.0,327.4 L128.7,327.3 L129.4,327.4 L130.1,327.4 L130.8,327.4 L131.5,327.7 L132.2,327.5 L132.9,327.6 L133.6,327.5 L134.3,327.5 L135.0,327.6 L135.7,327.7 L136.4,327.7 L137.1,327.8 L137.8,327.9 L138.5,328.1 L139.2,328.3 L139.9,328.3 L140.6,328.2 L141.3,328.4 L142.0,328.0 L142.7,328.2 L143.4,328.2 L144.1,328.2 L144.8,328.2 L145.5,328.3 L146.2,328.5 L146.9,328.1 L147.6,328.1 L148.3,328.3 L149.0,328.2 L149.7,328.2 L150.4,328.4 L151.1,328.1 L151.8,328.3 L152.5,328.4 L153.2,328.2 L153.9,328.0 L154.6,328.2 L155.3,327.8 L156.1,327.6 L156.8,327.8 L157.5,327.8 L158.2,327.6 L158.9,327.3 L159.6,327.1 L160.3,327.0 L161.0,326.8 L161.7,326.9 L162.4,326.6 L163.1,326.3 L163.8,325.7 L164.5,325.6 L165.2,325.1 L165.9,325.0 L166.6,324.6 L167.3,324.1 L168.0,323.4 L168.7,323.0 L169.4,322.5 L170.1,322.3 L170.8,321.7 L171.5,321.3 L172.2,320.9 L172.9,320.7 L173.6,319.9 L174.3,319.9 L175.0,319.2 L175.7,319.0 L176.4,319.3 L177.1,318.9 L177.8,318.6 L178.5,318.5 L179.2,318.9 L179.9,319.2 L180.6,319.6 L181.3,319.7 L182.0,320.7 L182.7,321.2 L183.4,322.2 L184.1,322.7 L184.8,323.3 L185.5,324.5 L186.2,324.8 L186.9,325.6 L187.6,326.0 L188.3,326.7 L189.0,327.4 L189.7,327.4 L190.4,327.9 L191.1,328.4" fill="none" stroke="#2a66f0" stroke-width="1.2" stroke-linejoin="round"/>
<line x1="59.9" y1="341.34999999999997" x2="252.20000000000002" y2="341.34999999999997" stroke="#f6dbe3" stroke-width="0.7" />
<path d="M59.90,341.65 L59.9,341.6 L60.6,341.6 L61.3,341.6 L62.0,341.6 L62.7,341.6 L63.4,341.6 L64.1,341.6 L64.8,341.6 L65.5,341.6 L66.2,341.6 L66.9,341.6 L67.6,341.6 L68.3,341.6 L69.0,341.6 L69.7,341.6 L70.4,341.6 L71.1,341.6 L71.8,341.6 L72.5,341.6 L73.2,341.6 L73.9,341.6 L74.6,341.6 L75.3,341.6 L76.0,341.6 L76.7,341.6 L77.4,341.6 L78.1,341.6 L78.8,341.6 L79.6,341.6 L80.3,341.6 L81.0,341.6 L81.7,341.6 L82.4,341.5 L83.1,341.5 L83.8,341.5 L84.5,341.5 L85.2,341.5 L85.9,341.4 L86.6,341.4 L87.3,341.4 L88.0,341.3 L88.7,341.3 L89.4,341.2 L90.1,341.2 L90.8,341.1 L91.5,341.1 L92.2,341.0 L92.9,341.0 L93.6,341.0 L94.3,340.8 L95.0,340.7 L95.7,340.3 L96.4,340.6 L97.1,340.1 L97.8,339.9 L98.5,340.2 L99.2,339.6 L99.9,339.6 L100.6,339.3 L101.3,339.5 L102.0,339.2 L102.7,339.1 L103.4,338.6 L104.1,338.6 L104.8,338.6 L105.5,338.3 L106.2,338.2 L106.9,338.1 L107.6,337.9 L108.3,337.3 L109.0,337.4 L109.7,336.8 L110.4,336.9 L111.1,336.7 L111.8,336.3 L112.5,336.2 L113.2,335.9 L113.9,335.4 L114.6,335.2 L115.3,335.1 L116.0,335.0 L116.7,334.8 L117.4,334.7 L118.2,334.9 L118.9,334.8 L119.6,335.1 L120.3,334.9 L121.0,335.1 L121.7,335.1 L122.4,335.3 L123.1,335.6 L123.8,335.9 L124.5,335.6 L125.2,336.2 L125.9,336.2 L126.6,336.4 L127.3,336.5 L128.0,336.4 L128.7,336.4 L129.4,336.9 L130.1,336.8 L130.8,337.0 L131.5,336.9 L132.2,337.0 L132.9,337.2 L133.6,337.2 L134.3,337.2 L135.0,336.8 L135.7,337.0 L136.4,337.2 L137.1,336.8 L137.8,336.8 L138.5,337.0 L139.2,337.2 L139.9,337.1 L140.6,337.2 L141.3,337.0 L142.0,337.2 L142.7,337.1 L143.4,337.0 L144.1,336.9 L144.8,336.7 L145.5,336.8 L146.2,336.9 L146.9,336.9 L147.6,336.8 L148.3,336.9 L149.0,336.9 L149.7,337.0 L150.4,336.9 L151.1,336.5 L151.8,336.9 L152.5,336.7 L153.2,336.6 L153.9,336.5 L154.6,336.8 L155.3,336.7 L156.1,336.7 L156.8,336.6 L157.5,336.5 L158.2,336.2 L158.9,336.2 L159.6,336.2 L160.3,336.5 L161.0,336.4 L161.7,336.0 L162.4,335.8 L163.1,335.9 L163.8,335.7 L164.5,335.9 L165.2,335.5 L165.9,335.1 L166.6,335.0 L167.3,334.8 L168.0,334.5 L168.7,334.7 L169.4,334.5 L170.1,334.3 L170.8,333.8 L171.5,333.5 L172.2,333.1 L172.9,333.0 L173.6,332.8 L174.3,332.5 L175.0,332.5 L175.7,332.2 L176.4,332.3 L177.1,331.8 L177.8,331.9 L178.5,331.5 L179.2,331.5 L179.9,331.7 L180.6,331.8 L181.3,331.7 L182.0,331.7 L182.7,331.9 L183.4,332.4 L184.1,332.8 L184.8,333.0 L185.5,333.5 L186.2,334.1 L186.9,334.7 L187.6,335.1 L188.3,335.9 L189.0,336.3 L189.7,336.7 L190.4,337.0 L191.1,337.6 L191.8,337.9 L192.5,338.5 L193.2,339.0 L193.9,339.3 L194.7,339.3 L195.4,339.7 L196.1,340.1 L196.8,340.5 L197.5,340.4 L198.2,340.5 L198.9,340.8 L199.6,341.0 L200.3,340.9 L201.0,341.1 L201.7,341.2 L202.4,341.2 L203.1,341.3 L203.8,341.4 L204.5,341.4 L205.2,341.4 L205.9,341.5 L206.6,341.5 L207.3,341.5 L208.0,341.5 L208.7,341.6 L209.4,341.6 L210.1,341.6 L210.8,341.6 L211.5,341.6 L212.2,341.6 L212.9,341.6 L213.6,341.6 L214.3,341.6 L215.0,341.6 L215.7,341.6 L216.4,341.6 L217.1,341.6 L217.8,341.6 L218.5,341.6 L219.2,341.6 L219.9,341.6 L220.6,341.6 L221.3,341.6 L222.0,341.6 L222.7,341.6 L223.4,341.6 L224.1,341.6 L224.8,341.6 L225.5,341.6 L226.2,341.6 L226.9,341.6 L227.6,341.6 L228.3,341.6 L229.0,341.6 L229.7,341.6 L230.4,341.6 L231.1,341.6 L231.8,341.6 L232.5,341.6 L233.3,341.6 L234.0,341.6 L234.7,341.6 L235.4,341.6 L236.1,341.6 L236.8,341.6 L237.5,341.6 L238.2,341.6 L238.9,341.6 L239.6,341.6 L240.3,341.6 L241.0,341.6 L241.7,341.6 L242.4,341.6 L243.1,341.6 L243.8,341.6 L244.5,341.6 L245.2,341.6 L245.9,341.6 L246.6,341.6 L247.3,341.6 L248.0,341.6 L248.7,341.6 L249.4,341.6 L250.1,341.6 L250.8,341.6 L251.5,341.6 L252.2,341.6 L252.20,341.65 Z" fill="#e489ae" stroke="none"/>
<path d="M94.3,340.8 L95.0,340.7 L95.7,340.3 L96.4,340.6 L97.1,340.1 L97.8,339.9 L98.5,340.2 L99.2,339.6 L99.9,339.6 L100.6,339.3 L101.3,339.5 L102.0,339.2 L102.7,339.1 L103.4,338.6 L104.1,338.6 L104.8,338.6 L105.5,338.3 L106.2,338.2 L106.9,338.1 L107.6,337.9 L108.3,337.3 L109.0,337.4 L109.7,336.8 L110.4,336.9 L111.1,336.7 L111.8,336.3 L112.5,336.2 L113.2,335.9 L113.9,335.4 L114.6,335.2 L115.3,335.1 L116.0,335.0 L116.7,334.8 L117.4,334.7 L118.2,334.9 L118.9,334.8 L119.6,335.1 L120.3,334.9 L121.0,335.1 L121.7,335.1 L122.4,335.3 L123.1,335.6 L123.8,335.9 L124.5,335.6 L125.2,336.2 L125.9,336.2 L126.6,336.4 L127.3,336.5 L128.0,336.4 L128.7,336.4 L129.4,336.9 L130.1,336.8 L130.8,337.0 L131.5,336.9 L132.2,337.0 L132.9,337.2 L133.6,337.2 L134.3,337.2 L135.0,336.8 L135.7,337.0 L136.4,337.2 L137.1,336.8 L137.8,336.8 L138.5,337.0 L139.2,337.2 L139.9,337.1 L140.6,337.2 L141.3,337.0 L142.0,337.2 L142.7,337.1 L143.4,337.0 L144.1,336.9 L144.8,336.7 L145.5,336.8 L146.2,336.9 L146.9,336.9 L147.6,336.8 L148.3,336.9 L149.0,336.9 L149.7,337.0 L150.4,336.9 L151.1,336.5 L151.8,336.9 L152.5,336.7 L153.2,336.6 L153.9,336.5 L154.6,336.8 L155.3,336.7 L156.1,336.7 L156.8,336.6 L157.5,336.5 L158.2,336.2 L158.9,336.2 L159.6,336.2 L160.3,336.5 L161.0,336.4 L161.7,336.0 L162.4,335.8 L163.1,335.9 L163.8,335.7 L164.5,335.9 L165.2,335.5 L165.9,335.1 L166.6,335.0 L167.3,334.8 L168.0,334.5 L168.7,334.7 L169.4,334.5 L170.1,334.3 L170.8,333.8 L171.5,333.5 L172.2,333.1 L172.9,333.0 L173.6,332.8 L174.3,332.5 L175.0,332.5 L175.7,332.2 L176.4,332.3 L177.1,331.8 L177.8,331.9 L178.5,331.5 L179.2,331.5 L179.9,331.7 L180.6,331.8 L181.3,331.7 L182.0,331.7 L182.7,331.9 L183.4,332.4 L184.1,332.8 L184.8,333.0 L185.5,333.5 L186.2,334.1 L186.9,334.7 L187.6,335.1 L188.3,335.9 L189.0,336.3 L189.7,336.7 L190.4,337.0 L191.1,337.6 L191.8,337.9 L192.5,338.5 L193.2,339.0 L193.9,339.3 L194.7,339.3 L195.4,339.7 L196.1,340.1 L196.8,340.5 L197.5,340.4 L198.2,340.5" fill="none" stroke="#c4102a" stroke-width="1.2" stroke-linejoin="round"/>
<line x1="59.9" y1="353.8" x2="252.20000000000002" y2="353.8" stroke="#dcf5d5" stroke-width="0.7" />
<path d="M59.90,354.10 L59.9,354.1 L60.6,354.1 L61.3,354.1 L62.0,354.1 L62.7,354.1 L63.4,354.1 L64.1,354.1 L64.8,354.1 L65.5,354.1 L66.2,354.1 L66.9,354.1 L67.6,354.1 L68.3,354.1 L69.0,354.1 L69.7,354.1 L70.4,354.1 L71.1,354.1 L71.8,354.1 L72.5,354.1 L73.2,354.1 L73.9,354.1 L74.6,354.1 L75.3,354.1 L76.0,354.1 L76.7,354.1 L77.4,354.1 L78.1,354.1 L78.8,354.1 L79.6,354.1 L80.3,354.0 L81.0,354.0 L81.7,354.0 L82.4,354.0 L83.1,354.0 L83.8,354.0 L84.5,354.0 L85.2,354.0 L85.9,354.0 L86.6,353.9 L87.3,353.9 L88.0,353.9 L88.7,353.9 L89.4,353.8 L90.1,353.8 L90.8,353.8 L91.5,353.8 L92.2,353.7 L92.9,353.7 L93.6,353.6 L94.3,353.6 L95.0,353.5 L95.7,353.3 L96.4,353.6 L97.1,353.6 L97.8,353.4 L98.5,353.3 L99.2,353.1 L99.9,353.3 L100.6,352.9 L101.3,352.9 L102.0,352.9 L102.7,353.0 L103.4,352.5 L104.1,352.8 L104.8,352.4 L105.5,352.7 L106.2,352.6 L106.9,352.2 L107.6,352.3 L108.3,351.9 L109.0,352.0 L109.7,352.0 L110.4,351.9 L111.1,351.6 L111.8,351.3 L112.5,351.0 L113.2,351.2 L113.9,350.9 L114.6,350.8 L115.3,350.3 L116.0,350.6 L116.7,350.6 L117.4,350.5 L118.2,350.3 L118.9,350.0 L119.6,350.1 L120.3,350.2 L121.0,350.1 L121.7,350.3 L122.4,350.7 L123.1,350.9 L123.8,350.6 L124.5,350.8 L125.2,351.3 L125.9,351.0 L126.6,351.3 L127.3,351.3 L128.0,351.4 L128.7,351.5 L129.4,351.6 L130.1,351.5 L130.8,351.5 L131.5,351.2 L132.2,351.6 L132.9,351.2 L133.6,351.5 L134.3,351.4 L135.0,351.2 L135.7,351.2 L136.4,351.4 L137.1,351.5 L137.8,351.3 L138.5,351.3 L139.2,351.0 L139.9,351.4 L140.6,351.3 L141.3,351.0 L142.0,351.4 L142.7,351.2 L143.4,351.0 L144.1,351.0 L144.8,351.3 L145.5,351.3 L146.2,351.3 L146.9,350.8 L147.6,351.1 L148.3,350.9 L149.0,350.8 L149.7,351.0 L150.4,351.0 L151.1,350.6 L151.8,350.7 L152.5,350.9 L153.2,350.6 L153.9,350.7 L154.6,350.6 L155.3,350.7 L156.1,350.2 L156.8,350.0 L157.5,350.0 L158.2,349.7 L158.9,350.0 L159.6,349.8 L160.3,349.4 L161.0,349.0 L161.7,348.8 L162.4,348.8 L163.1,348.6 L163.8,348.2 L164.5,347.8 L165.2,347.3 L165.9,347.3 L166.6,346.6 L167.3,346.3 L168.0,345.8 L168.7,345.4 L169.4,345.1 L170.1,344.8 L170.8,344.4 L171.5,344.0 L172.2,343.3 L172.9,343.3 L173.6,342.9 L174.3,342.2 L175.0,342.2 L175.7,342.0 L176.4,341.7 L177.1,341.3 L177.8,341.2 L178.5,340.8 L179.2,340.8 L179.9,340.7 L180.6,341.1 L181.3,341.5 L182.0,341.8 L182.7,342.1 L183.4,342.7 L184.1,343.5 L184.8,344.4 L185.5,345.1 L186.2,345.8 L186.9,346.6 L187.6,347.4 L188.3,348.1 L189.0,348.9 L189.7,349.8 L190.4,350.0 L191.1,350.8 L191.8,351.1 L192.5,351.6 L193.2,351.7 L193.9,352.3 L194.7,352.6 L195.4,352.8 L196.1,353.0 L196.8,352.9 L197.5,353.2 L198.2,353.4 L198.9,353.5 L199.6,353.5 L200.3,353.6 L201.0,353.7 L201.7,353.8 L202.4,353.8 L203.1,353.8 L203.8,353.9 L204.5,353.9 L205.2,353.9 L205.9,354.0 L206.6,354.0 L207.3,354.0 L208.0,354.0 L208.7,354.0 L209.4,354.0 L210.1,354.1 L210.8,354.1 L211.5,354.1 L212.2,354.1 L212.9,354.1 L213.6,354.1 L214.3,354.1 L215.0,354.1 L215.7,354.1 L216.4,354.1 L217.1,354.1 L217.8,354.1 L218.5,354.1 L219.2,354.1 L219.9,354.1 L220.6,354.1 L221.3,354.1 L222.0,354.1 L222.7,354.1 L223.4,354.1 L224.1,354.1 L224.8,354.1 L225.5,354.1 L226.2,354.1 L226.9,354.1 L227.6,354.1 L228.3,354.1 L229.0,354.1 L229.7,354.1 L230.4,354.1 L231.1,354.1 L231.8,354.1 L232.5,354.1 L233.3,354.1 L234.0,354.1 L234.7,354.1 L235.4,354.1 L236.1,354.1 L236.8,354.1 L237.5,354.1 L238.2,354.1 L238.9,354.1 L239.6,354.1 L240.3,354.1 L241.0,354.1 L241.7,354.1 L242.4,354.1 L243.1,354.1 L243.8,354.1 L244.5,354.1 L245.2,354.1 L245.9,354.1 L246.6,354.1 L247.3,354.1 L248.0,354.1 L248.7,354.1 L249.4,354.1 L250.1,354.1 L250.8,354.1 L251.5,354.1 L252.2,354.1 L252.20,354.10 Z" fill="#8deb7b" stroke="none"/>
<path d="M99.2,353.1 L99.9,353.3 L100.6,352.9 L101.3,352.9 L102.0,352.9 L102.7,353.0 L103.4,352.5 L104.1,352.8 L104.8,352.4 L105.5,352.7 L106.2,352.6 L106.9,352.2 L107.6,352.3 L108.3,351.9 L109.0,352.0 L109.7,352.0 L110.4,351.9 L111.1,351.6 L111.8,351.3 L112.5,351.0 L113.2,351.2 L113.9,350.9 L114.6,350.8 L115.3,350.3 L116.0,350.6 L116.7,350.6 L117.4,350.5 L118.2,350.3 L118.9,350.0 L119.6,350.1 L120.3,350.2 L121.0,350.1 L121.7,350.3 L122.4,350.7 L123.1,350.9 L123.8,350.6 L124.5,350.8 L125.2,351.3 L125.9,351.0 L126.6,351.3 L127.3,351.3 L128.0,351.4 L128.7,351.5 L129.4,351.6 L130.1,351.5 L130.8,351.5 L131.5,351.2 L132.2,351.6 L132.9,351.2 L133.6,351.5 L134.3,351.4 L135.0,351.2 L135.7,351.2 L136.4,351.4 L137.1,351.5 L137.8,351.3 L138.5,351.3 L139.2,351.0 L139.9,351.4 L140.6,351.3 L141.3,351.0 L142.0,351.4 L142.7,351.2 L143.4,351.0 L144.1,351.0 L144.8,351.3 L145.5,351.3 L146.2,351.3 L146.9,350.8 L147.6,351.1 L148.3,350.9 L149.0,350.8 L149.7,351.0 L150.4,351.0 L151.1,350.6 L151.8,350.7 L152.5,350.9 L153.2,350.6 L153.9,350.7 L154.6,350.6 L155.3,350.7 L156.1,350.2 L156.8,350.0 L157.5,350.0 L158.2,349.7 L158.9,350.0 L159.6,349.8 L160.3,349.4 L161.0,349.0 L161.7,348.8 L162.4,348.8 L163.1,348.6 L163.8,348.2 L164.5,347.8 L165.2,347.3 L165.9,347.3 L166.6,346.6 L167.3,346.3 L168.0,345.8 L168.7,345.4 L169.4,345.1 L170.1,344.8 L170.8,344.4 L171.5,344.0 L172.2,343.3 L172.9,343.3 L173.6,342.9 L174.3,342.2 L175.0,342.2 L175.7,342.0 L176.4,341.7 L177.1,341.3 L177.8,341.2 L178.5,340.8 L179.2,340.8 L179.9,340.7 L180.6,341.1 L181.3,341.5 L182.0,341.8 L182.7,342.1 L183.4,342.7 L184.1,343.5 L184.8,344.4 L185.5,345.1 L186.2,345.8 L186.9,346.6 L187.6,347.4 L188.3,348.1 L189.0,348.9 L189.7,349.8 L190.4,350.0 L191.1,350.8 L191.8,351.1 L192.5,351.6 L193.2,351.7 L193.9,352.3 L194.7,352.6 L195.4,352.8 L196.1,353.0 L196.8,352.9 L197.5,353.2" fill="none" stroke="#22b51e" stroke-width="1.2" stroke-linejoin="round"/>
<line x1="130.7" y1="304.3" x2="130.7" y2="354.1" stroke="#111" stroke-width="1.1" />
<rect x="59.4" y="304.3" width="193.3" height="49.8" fill="none" stroke="#8c8c8c" stroke-width="0.8"/>
<text x="248.8" y="313.6" font-size="8.9" text-anchor="end" fill="#222" stroke="#222" stroke-width="0.22" textLength="41.8" lengthAdjust="spacingAndGlyphs" >Control Ab</text>
<text x="248.8" y="326.05" font-size="8.9" text-anchor="end" fill="#222" stroke="#222" stroke-width="0.22" textLength="24.5" lengthAdjust="spacingAndGlyphs" >DMSO</text>
<text x="248.8" y="338.5" font-size="8.9" text-anchor="end" fill="#222" stroke="#222" stroke-width="0.22" textLength="40.8" lengthAdjust="spacingAndGlyphs" >KIN-0.5μM</text>
<text x="248.8" y="350.95000000000005" font-size="8.9" text-anchor="end" fill="#222" stroke="#222" stroke-width="0.22" textLength="40.8" lengthAdjust="spacingAndGlyphs" >KIN-0.1μM</text>
<line x1="74.6" y1="354.1" x2="74.6" y2="355.6" stroke="#888" stroke-width="0.6" />
<rect x="73.40" y="357.30" width="2.4" height="1.2" fill="#bbb"/>
<line x1="96.4" y1="354.1" x2="96.4" y2="355.6" stroke="#888" stroke-width="0.6" />
<rect x="95.20" y="357.30" width="2.4" height="1.2" fill="#bbb"/>
<line x1="130.5" y1="354.1" x2="130.5" y2="355.6" stroke="#888" stroke-width="0.6" />
<rect x="129.30" y="357.30" width="2.4" height="1.2" fill="#bbb"/>
<line x1="166.3" y1="354.1" x2="166.3" y2="355.6" stroke="#888" stroke-width="0.6" />
<rect x="165.10" y="357.30" width="2.4" height="1.2" fill="#bbb"/>
<line x1="202.5" y1="354.1" x2="202.5" y2="355.6" stroke="#888" stroke-width="0.6" />
<rect x="201.30" y="357.30" width="2.4" height="1.2" fill="#bbb"/>
<line x1="238.7" y1="354.1" x2="238.7" y2="355.6" stroke="#888" stroke-width="0.6" />
<rect x="237.50" y="357.30" width="2.4" height="1.2" fill="#bbb"/>
<rect x="61" y="354.1" width="0.6" height="1" fill="#c8c8c8"/>
<rect x="64" y="354.1" width="0.6" height="1" fill="#c8c8c8"/>
<rect x="67" y="354.1" width="0.6" height="1" fill="#c8c8c8"/>
<rect x="70" y="354.1" width="0.6" height="1" fill="#c8c8c8"/>
<rect x="73" y="354.1" width="0.6" height="1" fill="#c8c8c8"/>
<rect x="76" y="354.1" width="0.6" height="1" fill="#c8c8c8"/>
<rect x="79" y="354.1" width="0.6" height="1" fill="#c8c8c8"/>
<rect x="82" y="354.1" width="0.6" height="1" fill="#c8c8c8"/>
<rect x="85" y="354.1" width="0.6" height="1" fill="#c8c8c8"/>
<rect x="88" y="354.1" width="0.6" height="1" fill="#c8c8c8"/>
<rect x="91" y="354.1" width="0.6" height="1" fill="#c8c8c8"/>
<rect x="94" y="354.1" width="0.6" height="1" fill="#c8c8c8"/>
<rect x="97" y="354.1" width="0.6" height="1" fill="#c8c8c8"/>
<rect x="100" y="354.1" width="0.6" height="1" fill="#c8c8c8"/>
<rect x="103" y="354.1" width="0.6" height="1" fill="#c8c8c8"/>
<rect x="106" y="354.1" width="0.6" height="1" fill="#c8c8c8"/>
<rect x="109" y="354.1" width="0.6" height="1" fill="#c8c8c8"/>
<rect x="112" y="354.1" width="0.6" height="1" fill="#c8c8c8"/>
<rect x="115" y="354.1" width="0.6" height="1" fill="#c8c8c8"/>
<rect x="118" y="354.1" width="0.6" height="1" fill="#c8c8c8"/>
<rect x="121" y="354.1" width="0.6" height="1" fill="#c8c8c8"/>
<rect x="124" y="354.1" width="0.6" height="1" fill="#c8c8c8"/>
<rect x="127" y="354.1" width="0.6" height="1" fill="#c8c8c8"/>
<rect x="130" y="354.1" width="0.6" height="1" fill="#c8c8c8"/>
<rect x="133" y="354.1" width="0.6" height="1" fill="#c8c8c8"/>
<rect x="136" y="354.1" width="0.6" height="1" fill="#c8c8c8"/>
<rect x="139" y="354.1" width="0.6" height="1" fill="#c8c8c8"/>
<rect x="142" y="354.1" width="0.6" height="1" fill="#c8c8c8"/>
<rect x="145" y="354.1" width="0.6" height="1" fill="#c8c8c8"/>
<rect x="148" y="354.1" width="0.6" height="1" fill="#c8c8c8"/>
<rect x="151" y="354.1" width="0.6" height="1" fill="#c8c8c8"/>
<rect x="154" y="354.1" width="0.6" height="1" fill="#c8c8c8"/>
<rect x="157" y="354.1" width="0.6" height="1" fill="#c8c8c8"/>
<rect x="160" y="354.1" width="0.6" height="1" fill="#c8c8c8"/>
<rect x="163" y="354.1" width="0.6" height="1" fill="#c8c8c8"/>
<rect x="166" y="354.1" width="0.6" height="1" fill="#c8c8c8"/>
<rect x="169" y="354.1" width="0.6" height="1" fill="#c8c8c8"/>
<rect x="172" y="354.1" width="0.6" height="1" fill="#c8c8c8"/>
<rect x="175" y="354.1" width="0.6" height="1" fill="#c8c8c8"/>
<rect x="178" y="354.1" width="0.6" height="1" fill="#c8c8c8"/>
<rect x="181" y="354.1" width="0.6" height="1" fill="#c8c8c8"/>
<rect x="184" y="354.1" width="0.6" height="1" fill="#c8c8c8"/>
<rect x="187" y="354.1" width="0.6" height="1" fill="#c8c8c8"/>
<rect x="190" y="354.1" width="0.6" height="1" fill="#c8c8c8"/>
<rect x="193" y="354.1" width="0.6" height="1" fill="#c8c8c8"/>
<rect x="196" y="354.1" width="0.6" height="1" fill="#c8c8c8"/>
<rect x="199" y="354.1" width="0.6" height="1" fill="#c8c8c8"/>
<rect x="202" y="354.1" width="0.6" height="1" fill="#c8c8c8"/>
<rect x="205" y="354.1" width="0.6" height="1" fill="#c8c8c8"/>
<rect x="208" y="354.1" width="0.6" height="1" fill="#c8c8c8"/>
<rect x="211" y="354.1" width="0.6" height="1" fill="#c8c8c8"/>
<rect x="214" y="354.1" width="0.6" height="1" fill="#c8c8c8"/>
<rect x="217" y="354.1" width="0.6" height="1" fill="#c8c8c8"/>
<rect x="220" y="354.1" width="0.6" height="1" fill="#c8c8c8"/>
<rect x="223" y="354.1" width="0.6" height="1" fill="#c8c8c8"/>
<rect x="226" y="354.1" width="0.6" height="1" fill="#c8c8c8"/>
<rect x="229" y="354.1" width="0.6" height="1" fill="#c8c8c8"/>
<rect x="232" y="354.1" width="0.6" height="1" fill="#c8c8c8"/>
<rect x="235" y="354.1" width="0.6" height="1" fill="#c8c8c8"/>
<rect x="238" y="354.1" width="0.6" height="1" fill="#c8c8c8"/>
<rect x="241" y="354.1" width="0.6" height="1" fill="#c8c8c8"/>
<rect x="244" y="354.1" width="0.6" height="1" fill="#c8c8c8"/>
<rect x="247" y="354.1" width="0.6" height="1" fill="#c8c8c8"/>
<rect x="70.40" y="354.30" width="6" height="1.1" fill="#555"/>
<rect x="152.40" y="362.50" width="7" height="1.3" fill="#c5c5c5"/>
<rect x="319.4" y="179.5" width="193.3" height="49.8" fill="#fff" stroke="none"/>
<line x1="319.9" y1="191.64999999999998" x2="512.2" y2="191.64999999999998" stroke="#dfe4e1" stroke-width="0.7" />
<path d="M319.90,191.95 L319.9,191.9 L320.6,191.9 L321.3,191.9 L322.0,191.9 L322.7,191.9 L323.4,191.9 L324.1,191.9 L324.8,191.9 L325.5,191.9 L326.2,191.9 L326.9,191.9 L327.6,191.9 L328.3,191.9 L329.0,191.9 L329.7,191.9 L330.4,191.9 L331.1,191.9 L331.8,191.9 L332.5,191.9 L333.2,191.9 L333.9,191.9 L334.6,191.9 L335.3,191.9 L336.0,191.9 L336.7,191.9 L337.4,191.8 L338.1,191.7 L338.8,191.6 L339.6,191.4 L340.3,191.0 L341.0,190.4 L341.7,189.5 L342.4,188.3 L343.1,186.8 L343.8,185.1 L344.5,183.4 L345.2,182.0 L345.9,181.1 L346.6,181.1 L347.3,181.7 L348.0,183.0 L348.7,184.6 L349.4,186.4 L350.1,188.0 L350.8,189.3 L351.5,190.2 L352.2,190.9 L352.9,191.3 L353.6,191.5 L354.3,191.6 L355.0,191.7 L355.7,191.7 L356.4,191.7 L357.1,191.7 L357.8,191.7 L358.5,191.7 L359.2,191.7 L359.9,191.7 L360.6,191.7 L361.3,191.7 L362.0,191.7 L362.7,191.7 L363.4,191.7 L364.1,191.8 L364.8,191.8 L365.5,191.9 L366.2,191.9 L366.9,191.9 L367.6,191.9 L368.3,191.9 L369.0,191.9 L369.7,191.9 L370.4,191.9 L371.1,191.9 L371.8,191.9 L372.5,191.9 L373.2,191.9 L373.9,191.9 L374.6,191.9 L375.3,191.9 L376.0,191.9 L376.7,191.9 L377.4,191.9 L378.2,191.9 L378.9,191.9 L379.6,191.9 L380.3,191.9 L381.0,191.9 L381.7,191.9 L382.4,191.9 L383.1,191.9 L383.8,191.9 L384.5,191.9 L385.2,191.9 L385.9,191.9 L386.6,191.9 L387.3,191.9 L388.0,191.9 L388.7,191.9 L389.4,191.9 L390.1,191.9 L390.8,191.9 L391.5,191.9 L392.2,191.9 L392.9,191.9 L393.6,191.9 L394.3,191.9 L395.0,191.9 L395.7,191.9 L396.4,191.9 L397.1,191.9 L397.8,191.9 L398.5,191.9 L399.2,191.9 L399.9,191.9 L400.6,191.9 L401.3,191.9 L402.0,191.9 L402.7,191.9 L403.4,191.9 L404.1,191.9 L404.8,191.9 L405.5,191.9 L406.2,191.9 L406.9,191.9 L407.6,191.9 L408.3,191.9 L409.0,191.9 L409.7,191.9 L410.4,191.9 L411.1,191.9 L411.8,191.9 L412.5,191.9 L413.2,191.9 L413.9,191.9 L414.6,191.9 L415.3,191.9 L416.1,191.9 L416.8,191.9 L417.5,191.9 L418.2,191.9 L418.9,191.9 L419.6,191.9 L420.3,191.9 L421.0,191.9 L421.7,191.9 L422.4,191.9 L423.1,191.9 L423.8,191.9 L424.5,191.9 L425.2,191.9 L425.9,191.9 L426.6,191.9 L427.3,191.9 L428.0,191.9 L428.7,191.9 L429.4,191.9 L430.1,191.9 L430.8,191.9 L431.5,191.9 L432.2,191.9 L432.9,191.9 L433.6,191.9 L434.3,191.9 L435.0,191.9 L435.7,191.9 L436.4,191.9 L437.1,191.9 L437.8,191.9 L438.5,191.9 L439.2,191.9 L439.9,191.9 L440.6,191.9 L441.3,191.9 L442.0,191.9 L442.7,191.9 L443.4,191.9 L444.1,191.9 L444.8,191.9 L445.5,191.9 L446.2,191.9 L446.9,191.9 L447.6,191.9 L448.3,191.9 L449.0,191.9 L449.7,191.9 L450.4,191.9 L451.1,191.9 L451.8,191.9 L452.5,191.9 L453.2,191.9 L453.9,191.9 L454.7,191.9 L455.4,191.9 L456.1,191.9 L456.8,191.9 L457.5,191.9 L458.2,191.9 L458.9,191.9 L459.6,191.9 L460.3,191.9 L461.0,191.9 L461.7,191.9 L462.4,191.9 L463.1,191.9 L463.8,191.9 L464.5,191.9 L465.2,191.9 L465.9,191.9 L466.6,191.9 L467.3,191.9 L468.0,191.9 L468.7,191.9 L469.4,191.9 L470.1,191.9 L470.8,191.9 L471.5,191.9 L472.2,191.9 L472.9,191.9 L473.6,191.9 L474.3,191.9 L475.0,191.9 L475.7,191.9 L476.4,191.9 L477.1,191.9 L477.8,191.9 L478.5,191.9 L479.2,191.9 L479.9,191.9 L480.6,191.9 L481.3,191.9 L482.0,191.9 L482.7,191.9 L483.4,191.9 L484.1,191.9 L484.8,191.9 L485.5,191.9 L486.2,191.9 L486.9,191.9 L487.6,191.9 L488.3,191.9 L489.0,191.9 L489.7,191.9 L490.4,191.9 L491.1,191.9 L491.8,191.9 L492.5,191.9 L493.3,191.9 L494.0,191.9 L494.7,191.9 L495.4,191.9 L496.1,191.9 L496.8,191.9 L497.5,191.9 L498.2,191.9 L498.9,191.9 L499.6,191.9 L500.3,191.9 L501.0,191.9 L501.7,191.9 L502.4,191.9 L503.1,191.9 L503.8,191.9 L504.5,191.9 L505.2,191.9 L505.9,191.9 L506.6,191.9 L507.3,191.9 L508.0,191.9 L508.7,191.9 L509.4,191.9 L510.1,191.9 L510.8,191.9 L511.5,191.9 L512.2,191.9 L512.20,191.95 Z" fill="#d3dbd6" stroke="none"/>
<path d="M340.3,191.0 L341.0,190.4 L341.7,189.5 L342.4,188.3 L343.1,186.8 L343.8,185.1 L344.5,183.4 L345.2,182.0 L345.9,181.1 L346.6,181.1 L347.3,181.7 L348.0,183.0 L348.7,184.6 L349.4,186.4 L350.1,188.0 L350.8,189.3 L351.5,190.2 L352.2,190.9" fill="none" stroke="#111111" stroke-width="1.2" stroke-linejoin="round"/>
<line x1="319.9" y1="204.1" x2="512.2" y2="204.1" stroke="#e2f0fb" stroke-width="0.7" />
<path d="M319.90,204.40 L319.9,204.4 L320.6,204.4 L321.3,204.4 L322.0,204.4 L322.7,204.4 L323.4,204.4 L324.1,204.4 L324.8,204.4 L325.5,204.4 L326.2,204.4 L326.9,204.4 L327.6,204.4 L328.3,204.4 L329.0,204.4 L329.7,204.4 L330.4,204.4 L331.1,204.4 L331.8,204.4 L332.5,204.4 L333.2,204.4 L333.9,204.4 L334.6,204.4 L335.3,204.4 L336.0,204.4 L336.7,204.4 L337.4,204.4 L338.1,204.4 L338.8,204.4 L339.6,204.4 L340.3,204.4 L341.0,204.4 L341.7,204.4 L342.4,204.4 L343.1,204.4 L343.8,204.4 L344.5,204.4 L345.2,204.4 L345.9,204.4 L346.6,204.4 L347.3,204.4 L348.0,204.4 L348.7,204.4 L349.4,204.4 L350.1,204.4 L350.8,204.4 L351.5,204.4 L352.2,204.4 L352.9,204.4 L353.6,204.4 L354.3,204.4 L355.0,204.4 L355.7,204.4 L356.4,204.4 L357.1,204.4 L357.8,204.4 L358.5,204.4 L359.2,204.3 L359.9,204.3 L360.6,204.3 L361.3,204.3 L362.0,204.3 L362.7,204.3 L363.4,204.3 L364.1,204.2 L364.8,204.2 L365.5,204.2 L366.2,204.1 L366.9,204.1 L367.6,204.1 L368.3,204.0 L369.0,204.0 L369.7,203.9 L370.4,203.8 L371.1,203.6 L371.8,203.7 L372.5,203.7 L373.2,203.4 L373.9,203.3 L374.6,203.1 L375.3,203.3 L376.0,203.0 L376.7,202.8 L377.4,202.6 L378.2,202.4 L378.9,202.5 L379.6,202.2 L380.3,202.0 L381.0,201.8 L381.7,201.3 L382.4,201.2 L383.1,200.8 L383.8,200.7 L384.5,200.3 L385.2,200.1 L385.9,199.9 L386.6,199.4 L387.3,199.1 L388.0,199.0 L388.7,198.5 L389.4,198.2 L390.1,197.9 L390.8,197.6 L391.5,197.3 L392.2,196.9 L392.9,196.6 L393.6,196.1 L394.3,195.8 L395.0,195.6 L395.7,195.4 L396.4,195.0 L397.1,194.6 L397.8,194.5 L398.5,194.3 L399.2,194.1 L399.9,193.7 L400.6,193.6 L401.3,193.6 L402.0,193.5 L402.7,193.3 L403.4,193.2 L404.1,193.2 L404.8,193.3 L405.5,193.4 L406.2,193.4 L406.9,193.7 L407.6,194.0 L408.3,194.4 L409.0,194.7 L409.7,195.3 L410.4,195.8 L411.1,196.4 L411.8,197.0 L412.5,197.4 L413.2,198.0 L413.9,198.8 L414.6,199.4 L415.3,199.8 L416.1,200.5 L416.8,201.0 L417.5,201.2 L418.2,201.8 L418.9,202.0 L419.6,202.5 L420.3,202.6 L421.0,203.0 L421.7,203.3 L422.4,203.6 L423.1,203.6 L423.8,203.7 L424.5,203.9 L425.2,204.0 L425.9,204.1 L426.6,204.1 L427.3,204.2 L428.0,204.2 L428.7,204.3 L429.4,204.3 L430.1,204.3 L430.8,204.3 L431.5,204.4 L432.2,204.4 L432.9,204.4 L433.6,204.4 L434.3,204.4 L435.0,204.4 L435.7,204.4 L436.4,204.4 L437.1,204.4 L437.8,204.4 L438.5,204.4 L439.2,204.4 L439.9,204.4 L440.6,204.4 L441.3,204.4 L442.0,204.4 L442.7,204.4 L443.4,204.4 L444.1,204.4 L444.8,204.4 L445.5,204.4 L446.2,204.4 L446.9,204.4 L447.6,204.4 L448.3,204.4 L449.0,204.4 L449.7,204.4 L450.4,204.4 L451.1,204.4 L451.8,204.4 L452.5,204.4 L453.2,204.4 L453.9,204.4 L454.7,204.4 L455.4,204.4 L456.1,204.4 L456.8,204.4 L457.5,204.4 L458.2,204.4 L458.9,204.4 L459.6,204.4 L460.3,204.4 L461.0,204.4 L461.7,204.4 L462.4,204.4 L463.1,204.4 L463.8,204.4 L464.5,204.4 L465.2,204.4 L465.9,204.4 L466.6,204.4 L467.3,204.4 L468.0,204.4 L468.7,204.4 L469.4,204.4 L470.1,204.4 L470.8,204.4 L471.5,204.4 L472.2,204.4 L472.9,204.4 L473.6,204.4 L474.3,204.4 L475.0,204.4 L475.7,204.4 L476.4,204.4 L477.1,204.4 L477.8,204.4 L478.5,204.4 L479.2,204.4 L479.9,204.4 L480.6,204.4 L481.3,204.4 L482.0,204.4 L482.7,204.4 L483.4,204.4 L484.1,204.4 L484.8,204.4 L485.5,204.4 L486.2,204.4 L486.9,204.4 L487.6,204.4 L488.3,204.4 L489.0,204.4 L489.7,204.4 L490.4,204.4 L491.1,204.4 L491.8,204.4 L492.5,204.4 L493.3,204.4 L494.0,204.4 L494.7,204.4 L495.4,204.4 L496.1,204.4 L496.8,204.4 L497.5,204.4 L498.2,204.4 L498.9,204.4 L499.6,204.4 L500.3,204.4 L501.0,204.4 L501.7,204.4 L502.4,204.4 L503.1,204.4 L503.8,204.4 L504.5,204.4 L505.2,204.4 L505.9,204.4 L506.6,204.4 L507.3,204.4 L508.0,204.4 L508.7,204.4 L509.4,204.4 L510.1,204.4 L510.8,204.4 L511.5,204.4 L512.2,204.4 L512.20,204.40 Z" fill="#9dd2f6" stroke="none"/>
<path d="M373.2,203.4 L373.9,203.3 L374.6,203.1 L375.3,203.3 L376.0,203.0 L376.7,202.8 L377.4,202.6 L378.2,202.4 L378.9,202.5 L379.6,202.2 L380.3,202.0 L381.0,201.8 L381.7,201.3 L382.4,201.2 L383.1,200.8 L383.8,200.7 L384.5,200.3 L385.2,200.1 L385.9,199.9 L386.6,199.4 L387.3,199.1 L388.0,199.0 L388.7,198.5 L389.4,198.2 L390.1,197.9 L390.8,197.6 L391.5,197.3 L392.2,196.9 L392.9,196.6 L393.6,196.1 L394.3,195.8 L395.0,195.6 L395.7,195.4 L396.4,195.0 L397.1,194.6 L397.8,194.5 L398.5,194.3 L399.2,194.1 L399.9,193.7 L400.6,193.6 L401.3,193.6 L402.0,193.5 L402.7,193.3 L403.4,193.2 L404.1,193.2 L404.8,193.3 L405.5,193.4 L406.2,193.4 L406.9,193.7 L407.6,194.0 L408.3,194.4 L409.0,194.7 L409.7,195.3 L410.4,195.8 L411.1,196.4 L411.8,197.0 L412.5,197.4 L413.2,198.0 L413.9,198.8 L414.6,199.4 L415.3,199.8 L416.1,200.5 L416.8,201.0 L417.5,201.2 L418.2,201.8 L418.9,202.0 L419.6,202.5 L420.3,202.6 L421.0,203.0 L421.7,203.3 L422.4,203.6" fill="none" stroke="#2a66f0" stroke-width="1.2" stroke-linejoin="round"/>
<line x1="319.9" y1="216.54999999999998" x2="512.2" y2="216.54999999999998" stroke="#f6dbe3" stroke-width="0.7" />
<path d="M319.90,216.85 L319.9,216.8 L320.6,216.8 L321.3,216.8 L322.0,216.8 L322.7,216.8 L323.4,216.8 L324.1,216.8 L324.8,216.8 L325.5,216.8 L326.2,216.8 L326.9,216.8 L327.6,216.8 L328.3,216.8 L329.0,216.8 L329.7,216.8 L330.4,216.8 L331.1,216.8 L331.8,216.8 L332.5,216.8 L333.2,216.8 L333.9,216.8 L334.6,216.8 L335.3,216.8 L336.0,216.8 L336.7,216.8 L337.4,216.8 L338.1,216.8 L338.8,216.8 L339.6,216.8 L340.3,216.8 L341.0,216.8 L341.7,216.8 L342.4,216.8 L343.1,216.8 L343.8,216.8 L344.5,216.8 L345.2,216.8 L345.9,216.8 L346.6,216.8 L347.3,216.8 L348.0,216.8 L348.7,216.8 L349.4,216.8 L350.1,216.8 L350.8,216.8 L351.5,216.8 L352.2,216.8 L352.9,216.8 L353.6,216.8 L354.3,216.8 L355.0,216.8 L355.7,216.8 L356.4,216.8 L357.1,216.8 L357.8,216.8 L358.5,216.8 L359.2,216.8 L359.9,216.8 L360.6,216.8 L361.3,216.8 L362.0,216.8 L362.7,216.8 L363.4,216.7 L364.1,216.7 L364.8,216.6 L365.5,216.5 L366.2,216.4 L366.9,216.3 L367.6,216.1 L368.3,215.9 L369.0,215.6 L369.7,215.3 L370.4,214.9 L371.1,214.4 L371.8,213.9 L372.5,213.3 L373.2,212.7 L373.9,212.0 L374.6,211.2 L375.3,210.5 L376.0,209.7 L376.7,209.0 L377.4,208.3 L378.2,207.6 L378.9,207.1 L379.6,206.6 L380.3,206.3 L381.0,206.1 L381.7,206.1 L382.4,206.2 L383.1,206.4 L383.8,206.8 L384.5,207.4 L385.2,208.0 L385.9,208.7 L386.6,209.5 L387.3,210.3 L388.0,211.1 L388.7,211.8 L389.4,212.6 L390.1,213.2 L390.8,213.9 L391.5,214.4 L392.2,214.9 L392.9,215.3 L393.6,215.6 L394.3,215.9 L395.0,216.1 L395.7,216.3 L396.4,216.5 L397.1,216.6 L397.8,216.6 L398.5,216.7 L399.2,216.7 L399.9,216.8 L400.6,216.8 L401.3,216.8 L402.0,216.8 L402.7,216.8 L403.4,216.8 L404.1,216.8 L404.8,216.8 L405.5,216.8 L406.2,216.8 L406.9,216.8 L407.6,216.8 L408.3,216.8 L409.0,216.8 L409.7,216.8 L410.4,216.8 L411.1,216.8 L411.8,216.8 L412.5,216.8 L413.2,216.8 L413.9,216.8 L414.6,216.8 L415.3,216.8 L416.1,216.8 L416.8,216.8 L417.5,216.8 L418.2,216.8 L418.9,216.8 L419.6,216.8 L420.3,216.8 L421.0,216.8 L421.7,216.8 L422.4,216.8 L423.1,216.8 L423.8,216.8 L424.5,216.8 L425.2,216.8 L425.9,216.8 L426.6,216.8 L427.3,216.8 L428.0,216.8 L428.7,216.8 L429.4,216.8 L430.1,216.8 L430.8,216.8 L431.5,216.8 L432.2,216.8 L432.9,216.8 L433.6,216.8 L434.3,216.8 L435.0,216.8 L435.7,216.8 L436.4,216.8 L437.1,216.8 L437.8,216.8 L438.5,216.8 L439.2,216.8 L439.9,216.8 L440.6,216.8 L441.3,216.8 L442.0,216.8 L442.7,216.8 L443.4,216.8 L444.1,216.8 L444.8,216.8 L445.5,216.8 L446.2,216.8 L446.9,216.8 L447.6,216.8 L448.3,216.8 L449.0,216.8 L449.7,216.8 L450.4,216.8 L451.1,216.8 L451.8,216.8 L452.5,216.8 L453.2,216.8 L453.9,216.8 L454.7,216.8 L455.4,216.8 L456.1,216.8 L456.8,216.8 L457.5,216.8 L458.2,216.8 L458.9,216.8 L459.6,216.8 L460.3,216.8 L461.0,216.8 L461.7,216.8 L462.4,216.8 L463.1,216.8 L463.8,216.8 L464.5,216.8 L465.2,216.8 L465.9,216.8 L466.6,216.8 L467.3,216.8 L468.0,216.8 L468.7,216.8 L469.4,216.8 L470.1,216.8 L470.8,216.8 L471.5,216.8 L472.2,216.8 L472.9,216.8 L473.6,216.8 L474.3,216.8 L475.0,216.8 L475.7,216.8 L476.4,216.8 L477.1,216.8 L477.8,216.8 L478.5,216.8 L479.2,216.8 L479.9,216.8 L480.6,216.8 L481.3,216.8 L482.0,216.8 L482.7,216.8 L483.4,216.8 L484.1,216.8 L484.8,216.8 L485.5,216.8 L486.2,216.8 L486.9,216.8 L487.6,216.8 L488.3,216.8 L489.0,216.8 L489.7,216.8 L490.4,216.8 L491.1,216.8 L491.8,216.8 L492.5,216.8 L493.3,216.8 L494.0,216.8 L494.7,216.8 L495.4,216.8 L496.1,216.8 L496.8,216.8 L497.5,216.8 L498.2,216.8 L498.9,216.8 L499.6,216.8 L500.3,216.8 L501.0,216.8 L501.7,216.8 L502.4,216.8 L503.1,216.8 L503.8,216.8 L504.5,216.8 L505.2,216.8 L505.9,216.8 L506.6,216.8 L507.3,216.8 L508.0,216.8 L508.7,216.8 L509.4,216.8 L510.1,216.8 L510.8,216.8 L511.5,216.8 L512.2,216.8 L512.20,216.85 Z" fill="#e489ae" stroke="none"/>
<path d="M368.3,215.9 L369.0,215.6 L369.7,215.3 L370.4,214.9 L371.1,214.4 L371.8,213.9 L372.5,213.3 L373.2,212.7 L373.9,212.0 L374.6,211.2 L375.3,210.5 L376.0,209.7 L376.7,209.0 L377.4,208.3 L378.2,207.6 L378.9,207.1 L379.6,206.6 L380.3,206.3 L381.0,206.1 L381.7,206.1 L382.4,206.2 L383.1,206.4 L383.8,206.8 L384.5,207.4 L385.2,208.0 L385.9,208.7 L386.6,209.5 L387.3,210.3 L388.0,211.1 L388.7,211.8 L389.4,212.6 L390.1,213.2 L390.8,213.9 L391.5,214.4 L392.2,214.9 L392.9,215.3 L393.6,215.6 L394.3,215.9" fill="none" stroke="#c4102a" stroke-width="1.2" stroke-linejoin="round"/>
<line x1="319.9" y1="229.0" x2="512.2" y2="229.0" stroke="#dcf5d5" stroke-width="0.7" />
<path d="M319.90,229.30 L319.9,229.3 L320.6,229.3 L321.3,229.3 L322.0,229.3 L322.7,229.3 L323.4,229.3 L324.1,229.3 L324.8,229.3 L325.5,229.3 L326.2,229.3 L326.9,229.3 L327.6,229.3 L328.3,229.3 L329.0,229.3 L329.7,229.3 L330.4,229.3 L331.1,229.3 L331.8,229.3 L332.5,229.3 L333.2,229.3 L333.9,229.3 L334.6,229.3 L335.3,229.3 L336.0,229.3 L336.7,229.3 L337.4,229.3 L338.1,229.3 L338.8,229.3 L339.6,229.3 L340.3,229.3 L341.0,229.3 L341.7,229.3 L342.4,229.3 L343.1,229.3 L343.8,229.3 L344.5,229.3 L345.2,229.3 L345.9,229.3 L346.6,229.3 L347.3,229.3 L348.0,229.3 L348.7,229.3 L349.4,229.3 L350.1,229.3 L350.8,229.3 L351.5,229.3 L352.2,229.3 L352.9,229.3 L353.6,229.3 L354.3,229.3 L355.0,229.3 L355.7,229.3 L356.4,229.3 L357.1,229.3 L357.8,229.3 L358.5,229.3 L359.2,229.3 L359.9,229.3 L360.6,229.3 L361.3,229.3 L362.0,229.3 L362.7,229.3 L363.4,229.2 L364.1,229.2 L364.8,229.2 L365.5,229.1 L366.2,229.0 L366.9,228.9 L367.6,228.8 L368.3,228.6 L369.0,228.4 L369.7,228.1 L370.4,227.8 L371.1,227.3 L371.8,226.8 L372.5,226.3 L373.2,225.6 L373.9,224.9 L374.6,224.2 L375.3,223.3 L376.0,222.5 L376.7,221.7 L377.4,220.9 L378.2,220.2 L378.9,219.6 L379.6,219.0 L380.3,218.7 L381.0,218.5 L381.7,218.4 L382.4,218.5 L383.1,218.8 L383.8,219.3 L384.5,219.8 L385.2,220.5 L385.9,221.3 L386.6,222.1 L387.3,222.9 L388.0,223.7 L388.7,224.5 L389.4,225.3 L390.1,225.9 L390.8,226.5 L391.5,227.1 L392.2,227.5 L392.9,227.9 L393.6,228.2 L394.3,228.5 L395.0,228.7 L395.7,228.9 L396.4,229.0 L397.1,229.1 L397.8,229.1 L398.5,229.2 L399.2,229.2 L399.9,229.3 L400.6,229.3 L401.3,229.3 L402.0,229.3 L402.7,229.3 L403.4,229.3 L404.1,229.3 L404.8,229.3 L405.5,229.3 L406.2,229.3 L406.9,229.3 L407.6,229.3 L408.3,229.3 L409.0,229.3 L409.7,229.3 L410.4,229.3 L411.1,229.3 L411.8,229.3 L412.5,229.3 L413.2,229.3 L413.9,229.3 L414.6,229.3 L415.3,229.3 L416.1,229.3 L416.8,229.3 L417.5,229.3 L418.2,229.3 L418.9,229.3 L419.6,229.3 L420.3,229.3 L421.0,229.3 L421.7,229.3 L422.4,229.3 L423.1,229.3 L423.8,229.3 L424.5,229.3 L425.2,229.3 L425.9,229.3 L426.6,229.3 L427.3,229.3 L428.0,229.3 L428.7,229.3 L429.4,229.3 L430.1,229.3 L430.8,229.3 L431.5,229.3 L432.2,229.3 L432.9,229.3 L433.6,229.3 L434.3,229.3 L435.0,229.3 L435.7,229.3 L436.4,229.3 L437.1,229.3 L437.8,229.3 L438.5,229.3 L439.2,229.3 L439.9,229.3 L440.6,229.3 L441.3,229.3 L442.0,229.3 L442.7,229.3 L443.4,229.3 L444.1,229.3 L444.8,229.3 L445.5,229.3 L446.2,229.3 L446.9,229.3 L447.6,229.3 L448.3,229.3 L449.0,229.3 L449.7,229.3 L450.4,229.3 L451.1,229.3 L451.8,229.3 L452.5,229.3 L453.2,229.3 L453.9,229.3 L454.7,229.3 L455.4,229.3 L456.1,229.3 L456.8,229.3 L457.5,229.3 L458.2,229.3 L458.9,229.3 L459.6,229.3 L460.3,229.3 L461.0,229.3 L461.7,229.3 L462.4,229.3 L463.1,229.3 L463.8,229.3 L464.5,229.3 L465.2,229.3 L465.9,229.3 L466.6,229.3 L467.3,229.3 L468.0,229.3 L468.7,229.3 L469.4,229.3 L470.1,229.3 L470.8,229.3 L471.5,229.3 L472.2,229.3 L472.9,229.3 L473.6,229.3 L474.3,229.3 L475.0,229.3 L475.7,229.3 L476.4,229.3 L477.1,229.3 L477.8,229.3 L478.5,229.3 L479.2,229.3 L479.9,229.3 L480.6,229.3 L481.3,229.3 L482.0,229.3 L482.7,229.3 L483.4,229.3 L484.1,229.3 L484.8,229.3 L485.5,229.3 L486.2,229.3 L486.9,229.3 L487.6,229.3 L488.3,229.3 L489.0,229.3 L489.7,229.3 L490.4,229.3 L491.1,229.3 L491.8,229.3 L492.5,229.3 L493.3,229.3 L494.0,229.3 L494.7,229.3 L495.4,229.3 L496.1,229.3 L496.8,229.3 L497.5,229.3 L498.2,229.3 L498.9,229.3 L499.6,229.3 L500.3,229.3 L501.0,229.3 L501.7,229.3 L502.4,229.3 L503.1,229.3 L503.8,229.3 L504.5,229.3 L505.2,229.3 L505.9,229.3 L506.6,229.3 L507.3,229.3 L508.0,229.3 L508.7,229.3 L509.4,229.3 L510.1,229.3 L510.8,229.3 L511.5,229.3 L512.2,229.3 L512.20,229.30 Z" fill="#8deb7b" stroke="none"/>
<path d="M369.0,228.4 L369.7,228.1 L370.4,227.8 L371.1,227.3 L371.8,226.8 L372.5,226.3 L373.2,225.6 L373.9,224.9 L374.6,224.2 L375.3,223.3 L376.0,222.5 L376.7,221.7 L377.4,220.9 L378.2,220.2 L378.9,219.6 L379.6,219.0 L380.3,218.7 L381.0,218.5 L381.7,218.4 L382.4,218.5 L383.1,218.8 L383.8,219.3 L384.5,219.8 L385.2,220.5 L385.9,221.3 L386.6,222.1 L387.3,222.9 L388.0,223.7 L388.7,224.5 L389.4,225.3 L390.1,225.9 L390.8,226.5 L391.5,227.1 L392.2,227.5 L392.9,227.9 L393.6,228.2" fill="none" stroke="#22b51e" stroke-width="1.2" stroke-linejoin="round"/>
<line x1="390.0" y1="179.5" x2="390.0" y2="229.3" stroke="#111" stroke-width="1.2" />
<rect x="319.4" y="179.5" width="193.3" height="49.8" fill="none" stroke="#8c8c8c" stroke-width="0.8"/>
<text x="508.8" y="188.8" font-size="8.9" text-anchor="end" fill="#222" stroke="#222" stroke-width="0.22" textLength="41.8" lengthAdjust="spacingAndGlyphs" >Control Ab</text>
<text x="508.8" y="201.25" font-size="8.9" text-anchor="end" fill="#222" stroke="#222" stroke-width="0.22" textLength="24.5" lengthAdjust="spacingAndGlyphs" >DMSO</text>
<text x="508.8" y="213.70000000000002" font-size="8.9" text-anchor="end" fill="#222" stroke="#222" stroke-width="0.22" textLength="40.8" lengthAdjust="spacingAndGlyphs" >KIN-0.5μM</text>
<text x="508.8" y="226.15" font-size="8.9" text-anchor="end" fill="#222" stroke="#222" stroke-width="0.22" textLength="40.8" lengthAdjust="spacingAndGlyphs" >KIN-0.1μM</text>
<line x1="343.5" y1="229.3" x2="343.5" y2="230.8" stroke="#888" stroke-width="0.6" />
<rect x="342.30" y="232.50" width="2.4" height="1.2" fill="#bbb"/>
<line x1="363" y1="229.3" x2="363" y2="230.8" stroke="#888" stroke-width="0.6" />
<rect x="361.80" y="232.50" width="2.4" height="1.2" fill="#bbb"/>
<line x1="390.5" y1="229.3" x2="390.5" y2="230.8" stroke="#888" stroke-width="0.6" />
<rect x="389.30" y="232.50" width="2.4" height="1.2" fill="#bbb"/>
<line x1="426.5" y1="229.3" x2="426.5" y2="230.8" stroke="#888" stroke-width="0.6" />
<rect x="425.30" y="232.50" width="2.4" height="1.2" fill="#bbb"/>
<line x1="463" y1="229.3" x2="463" y2="230.8" stroke="#888" stroke-width="0.6" />
<rect x="461.80" y="232.50" width="2.4" height="1.2" fill="#bbb"/>
<line x1="499" y1="229.3" x2="499" y2="230.8" stroke="#888" stroke-width="0.6" />
<rect x="497.80" y="232.50" width="2.4" height="1.2" fill="#bbb"/>
<rect x="321" y="229.3" width="0.6" height="1" fill="#c8c8c8"/>
<rect x="324" y="229.3" width="0.6" height="1" fill="#c8c8c8"/>
<rect x="327" y="229.3" width="0.6" height="1" fill="#c8c8c8"/>
<rect x="330" y="229.3" width="0.6" height="1" fill="#c8c8c8"/>
<rect x="333" y="229.3" width="0.6" height="1" fill="#c8c8c8"/>
<rect x="336" y="229.3" width="0.6" height="1" fill="#c8c8c8"/>
<rect x="339" y="229.3" width="0.6" height="1" fill="#c8c8c8"/>
<rect x="342" y="229.3" width="0.6" height="1" fill="#c8c8c8"/>
<rect x="345" y="229.3" width="0.6" height="1" fill="#c8c8c8"/>
<rect x="348" y="229.3" width="0.6" height="1" fill="#c8c8c8"/>
<rect x="351" y="229.3" width="0.6" height="1" fill="#c8c8c8"/>
<rect x="354" y="229.3" width="0.6" height="1" fill="#c8c8c8"/>
<rect x="357" y="229.3" width="0.6" height="1" fill="#c8c8c8"/>
<rect x="360" y="229.3" width="0.6" height="1" fill="#c8c8c8"/>
<rect x="363" y="229.3" width="0.6" height="1" fill="#c8c8c8"/>
<rect x="366" y="229.3" width="0.6" height="1" fill="#c8c8c8"/>
<rect x="369" y="229.3" width="0.6" height="1" fill="#c8c8c8"/>
<rect x="372" y="229.3" width="0.6" height="1" fill="#c8c8c8"/>
<rect x="375" y="229.3" width="0.6" height="1" fill="#c8c8c8"/>
<rect x="378" y="229.3" width="0.6" height="1" fill="#c8c8c8"/>
<rect x="381" y="229.3" width="0.6" height="1" fill="#c8c8c8"/>
<rect x="384" y="229.3" width="0.6" height="1" fill="#c8c8c8"/>
<rect x="387" y="229.3" width="0.6" height="1" fill="#c8c8c8"/>
<rect x="390" y="229.3" width="0.6" height="1" fill="#c8c8c8"/>
<rect x="393" y="229.3" width="0.6" height="1" fill="#c8c8c8"/>
<rect x="396" y="229.3" width="0.6" height="1" fill="#c8c8c8"/>
<rect x="399" y="229.3" width="0.6" height="1" fill="#c8c8c8"/>
<rect x="402" y="229.3" width="0.6" height="1" fill="#c8c8c8"/>
<rect x="405" y="229.3" width="0.6" height="1" fill="#c8c8c8"/>
<rect x="408" y="229.3" width="0.6" height="1" fill="#c8c8c8"/>
<rect x="411" y="229.3" width="0.6" height="1" fill="#c8c8c8"/>
<rect x="414" y="229.3" width="0.6" height="1" fill="#c8c8c8"/>
<rect x="417" y="229.3" width="0.6" height="1" fill="#c8c8c8"/>
<rect x="420" y="229.3" width="0.6" height="1" fill="#c8c8c8"/>
<rect x="423" y="229.3" width="0.6" height="1" fill="#c8c8c8"/>
<rect x="426" y="229.3" width="0.6" height="1" fill="#c8c8c8"/>
<rect x="429" y="229.3" width="0.6" height="1" fill="#c8c8c8"/>
<rect x="432" y="229.3" width="0.6" height="1" fill="#c8c8c8"/>
<rect x="435" y="229.3" width="0.6" height="1" fill="#c8c8c8"/>
<rect x="438" y="229.3" width="0.6" height="1" fill="#c8c8c8"/>
<rect x="441" y="229.3" width="0.6" height="1" fill="#c8c8c8"/>
<rect x="444" y="229.3" width="0.6" height="1" fill="#c8c8c8"/>
<rect x="447" y="229.3" width="0.6" height="1" fill="#c8c8c8"/>
<rect x="450" y="229.3" width="0.6" height="1" fill="#c8c8c8"/>
<rect x="453" y="229.3" width="0.6" height="1" fill="#c8c8c8"/>
<rect x="456" y="229.3" width="0.6" height="1" fill="#c8c8c8"/>
<rect x="459" y="229.3" width="0.6" height="1" fill="#c8c8c8"/>
<rect x="462" y="229.3" width="0.6" height="1" fill="#c8c8c8"/>
<rect x="465" y="229.3" width="0.6" height="1" fill="#c8c8c8"/>
<rect x="468" y="229.3" width="0.6" height="1" fill="#c8c8c8"/>
<rect x="471" y="229.3" width="0.6" height="1" fill="#c8c8c8"/>
<rect x="474" y="229.3" width="0.6" height="1" fill="#c8c8c8"/>
<rect x="477" y="229.3" width="0.6" height="1" fill="#c8c8c8"/>
<rect x="480" y="229.3" width="0.6" height="1" fill="#c8c8c8"/>
<rect x="483" y="229.3" width="0.6" height="1" fill="#c8c8c8"/>
<rect x="486" y="229.3" width="0.6" height="1" fill="#c8c8c8"/>
<rect x="489" y="229.3" width="0.6" height="1" fill="#c8c8c8"/>
<rect x="492" y="229.3" width="0.6" height="1" fill="#c8c8c8"/>
<rect x="495" y="229.3" width="0.6" height="1" fill="#c8c8c8"/>
<rect x="498" y="229.3" width="0.6" height="1" fill="#c8c8c8"/>
<rect x="501" y="229.3" width="0.6" height="1" fill="#c8c8c8"/>
<rect x="504" y="229.3" width="0.6" height="1" fill="#c8c8c8"/>
<rect x="507" y="229.3" width="0.6" height="1" fill="#c8c8c8"/>
<rect x="337.40" y="229.50" width="6" height="1.1" fill="#555"/>
<rect x="412.40" y="237.70" width="7" height="1.3" fill="#c5c5c5"/>
<rect x="319.4" y="242.0" width="193.3" height="49.8" fill="#fff" stroke="none"/>
<line x1="319.9" y1="254.14999999999998" x2="512.2" y2="254.14999999999998" stroke="#dfe4e1" stroke-width="0.7" />
<path d="M319.90,254.45 L319.9,254.4 L320.6,254.4 L321.3,254.4 L322.0,254.4 L322.7,254.4 L323.4,254.4 L324.1,254.4 L324.8,254.4 L325.5,254.4 L326.2,254.4 L326.9,254.4 L327.6,254.4 L328.3,254.4 L329.0,254.4 L329.7,254.4 L330.4,254.4 L331.1,254.4 L331.8,254.4 L332.5,254.4 L333.2,254.4 L333.9,254.4 L334.6,254.4 L335.3,254.4 L336.0,254.3 L336.7,254.2 L337.4,254.1 L338.1,253.9 L338.8,253.6 L339.6,253.2 L340.3,252.7 L341.0,252.0 L341.7,251.2 L342.4,250.1 L343.1,249.0 L343.8,247.7 L344.5,246.4 L345.2,245.1 L345.9,244.1 L346.6,243.3 L347.3,242.8 L348.0,242.8 L348.7,243.1 L349.4,243.9 L350.1,244.9 L350.8,246.1 L351.5,247.4 L352.2,248.7 L352.9,249.9 L353.6,250.9 L354.3,251.8 L355.0,252.5 L355.7,253.0 L356.4,253.4 L357.1,253.7 L357.8,253.9 L358.5,254.0 L359.2,254.1 L359.9,254.1 L360.6,254.1 L361.3,254.1 L362.0,254.1 L362.7,254.1 L363.4,254.1 L364.1,254.1 L364.8,254.1 L365.5,254.1 L366.2,254.1 L366.9,254.1 L367.6,254.2 L368.3,254.2 L369.0,254.2 L369.7,254.2 L370.4,254.2 L371.1,254.2 L371.8,254.2 L372.5,254.2 L373.2,254.2 L373.9,254.2 L374.6,254.2 L375.3,254.2 L376.0,254.2 L376.7,254.3 L377.4,254.3 L378.2,254.4 L378.9,254.4 L379.6,254.4 L380.3,254.4 L381.0,254.4 L381.7,254.4 L382.4,254.4 L383.1,254.4 L383.8,254.4 L384.5,254.4 L385.2,254.4 L385.9,254.4 L386.6,254.4 L387.3,254.4 L388.0,254.4 L388.7,254.4 L389.4,254.4 L390.1,254.4 L390.8,254.4 L391.5,254.4 L392.2,254.4 L392.9,254.4 L393.6,254.4 L394.3,254.4 L395.0,254.4 L395.7,254.4 L396.4,254.4 L397.1,254.4 L397.8,254.4 L398.5,254.4 L399.2,254.4 L399.9,254.4 L400.6,254.4 L401.3,254.4 L402.0,254.4 L402.7,254.4 L403.4,254.4 L404.1,254.4 L404.8,254.4 L405.5,254.4 L406.2,254.4 L406.9,254.4 L407.6,254.4 L408.3,254.4 L409.0,254.4 L409.7,254.4 L410.4,254.4 L411.1,254.4 L411.8,254.4 L412.5,254.4 L413.2,254.4 L413.9,254.4 L414.6,254.4 L415.3,254.4 L416.1,254.4 L416.8,254.4 L417.5,254.4 L418.2,254.4 L418.9,254.4 L419.6,254.4 L420.3,254.4 L421.0,254.4 L421.7,254.4 L422.4,254.4 L423.1,254.4 L423.8,254.4 L424.5,254.4 L425.2,254.4 L425.9,254.4 L426.6,254.4 L427.3,254.4 L428.0,254.4 L428.7,254.4 L429.4,254.4 L430.1,254.4 L430.8,254.4 L431.5,254.4 L432.2,254.4 L432.9,254.4 L433.6,254.4 L434.3,254.4 L435.0,254.4 L435.7,254.4 L436.4,254.4 L437.1,254.4 L437.8,254.4 L438.5,254.4 L439.2,254.4 L439.9,254.4 L440.6,254.4 L441.3,254.4 L442.0,254.4 L442.7,254.4 L443.4,254.4 L444.1,254.4 L444.8,254.4 L445.5,254.4 L446.2,254.4 L446.9,254.4 L447.6,254.4 L448.3,254.4 L449.0,254.4 L449.7,254.4 L450.4,254.4 L451.1,254.4 L451.8,254.4 L452.5,254.4 L453.2,254.4 L453.9,254.4 L454.7,254.4 L455.4,254.4 L456.1,254.4 L456.8,254.4 L457.5,254.4 L458.2,254.4 L458.9,254.4 L459.6,254.4 L460.3,254.4 L461.0,254.4 L461.7,254.4 L462.4,254.4 L463.1,254.4 L463.8,254.4 L464.5,254.4 L465.2,254.4 L465.9,254.4 L466.6,254.4 L467.3,254.4 L468.0,254.4 L468.7,254.4 L469.4,254.4 L470.1,254.4 L470.8,254.4 L471.5,254.4 L472.2,254.4 L472.9,254.4 L473.6,254.4 L474.3,254.4 L475.0,254.4 L475.7,254.4 L476.4,254.4 L477.1,254.4 L477.8,254.4 L478.5,254.4 L479.2,254.4 L479.9,254.4 L480.6,254.4 L481.3,254.4 L482.0,254.4 L482.7,254.4 L483.4,254.4 L484.1,254.4 L484.8,254.4 L485.5,254.4 L486.2,254.4 L486.9,254.4 L487.6,254.4 L488.3,254.4 L489.0,254.4 L489.7,254.4 L490.4,254.4 L491.1,254.4 L491.8,254.4 L492.5,254.4 L493.3,254.4 L494.0,254.4 L494.7,254.4 L495.4,254.4 L496.1,254.4 L496.8,254.4 L497.5,254.4 L498.2,254.4 L498.9,254.4 L499.6,254.4 L500.3,254.4 L501.0,254.4 L501.7,254.4 L502.4,254.4 L503.1,254.4 L503.8,254.4 L504.5,254.4 L505.2,254.4 L505.9,254.4 L506.6,254.4 L507.3,254.4 L508.0,254.4 L508.7,254.4 L509.4,254.4 L510.1,254.4 L510.8,254.4 L511.5,254.4 L512.2,254.4 L512.20,254.45 Z" fill="#d3dbd6" stroke="none"/>
<path d="M339.6,253.2 L340.3,252.7 L341.0,252.0 L341.7,251.2 L342.4,250.1 L343.1,249.0 L343.8,247.7 L344.5,246.4 L345.2,245.1 L345.9,244.1 L346.6,243.3 L347.3,242.8 L348.0,242.8 L348.7,243.1 L349.4,243.9 L350.1,244.9 L350.8,246.1 L351.5,247.4 L352.2,248.7 L352.9,249.9 L353.6,250.9 L354.3,251.8 L355.0,252.5 L355.7,253.0 L356.4,253.4" fill="none" stroke="#111111" stroke-width="1.2" stroke-linejoin="round"/>
<line x1="319.9" y1="266.59999999999997" x2="512.2" y2="266.59999999999997" stroke="#e2f0fb" stroke-width="0.7" />
<path d="M319.90,266.90 L319.9,266.9 L320.6,266.9 L321.3,266.9 L322.0,266.9 L322.7,266.9 L323.4,266.9 L324.1,266.9 L324.8,266.9 L325.5,266.9 L326.2,266.9 L326.9,266.9 L327.6,266.9 L328.3,266.9 L329.0,266.9 L329.7,266.9 L330.4,266.9 L331.1,266.9 L331.8,266.9 L332.5,266.9 L333.2,266.9 L333.9,266.9 L334.6,266.9 L335.3,266.9 L336.0,266.9 L336.7,266.9 L337.4,266.9 L338.1,266.9 L338.8,266.9 L339.6,266.9 L340.3,266.9 L341.0,266.9 L341.7,266.9 L342.4,266.9 L343.1,266.9 L343.8,266.9 L344.5,266.9 L345.2,266.9 L345.9,266.9 L346.6,266.9 L347.3,266.9 L348.0,266.9 L348.7,266.9 L349.4,266.9 L350.1,266.9 L350.8,266.9 L351.5,266.9 L352.2,266.9 L352.9,266.9 L353.6,266.9 L354.3,266.9 L355.0,266.9 L355.7,266.9 L356.4,266.9 L357.1,266.9 L357.8,266.9 L358.5,266.9 L359.2,266.9 L359.9,266.9 L360.6,266.9 L361.3,266.9 L362.0,266.9 L362.7,266.9 L363.4,266.9 L364.1,266.9 L364.8,266.9 L365.5,266.9 L366.2,266.9 L366.9,266.8 L367.6,266.8 L368.3,266.8 L369.0,266.8 L369.7,266.7 L370.4,266.7 L371.1,266.6 L371.8,266.5 L372.5,266.4 L373.2,266.3 L373.9,265.9 L374.6,266.2 L375.3,265.7 L376.0,265.6 L376.7,265.2 L377.4,265.1 L378.2,264.7 L378.9,264.1 L379.6,263.5 L380.3,263.5 L381.0,262.8 L381.7,262.2 L382.4,261.6 L383.1,261.7 L383.8,261.3 L384.5,260.4 L385.2,260.0 L385.9,259.9 L386.6,259.8 L387.3,258.9 L388.0,258.9 L388.7,258.3 L389.4,258.2 L390.1,257.7 L390.8,257.8 L391.5,257.2 L392.2,257.2 L392.9,256.8 L393.6,256.3 L394.3,256.1 L395.0,256.2 L395.7,256.1 L396.4,255.8 L397.1,255.7 L397.8,255.7 L398.5,255.9 L399.2,255.8 L399.9,255.6 L400.6,255.5 L401.3,256.1 L402.0,255.8 L402.7,255.8 L403.4,256.3 L404.1,255.9 L404.8,256.5 L405.5,256.3 L406.2,256.4 L406.9,256.5 L407.6,256.8 L408.3,256.9 L409.0,257.0 L409.7,257.2 L410.4,257.3 L411.1,257.6 L411.8,257.7 L412.5,258.2 L413.2,258.0 L413.9,258.3 L414.6,258.6 L415.3,258.5 L416.1,258.7 L416.8,259.1 L417.5,259.5 L418.2,259.6 L418.9,260.0 L419.6,260.2 L420.3,260.2 L421.0,260.6 L421.7,260.7 L422.4,260.8 L423.1,261.3 L423.8,261.2 L424.5,261.7 L425.2,261.5 L425.9,261.7 L426.6,262.1 L427.3,262.5 L428.0,262.5 L428.7,262.7 L429.4,262.6 L430.1,263.3 L430.8,263.0 L431.5,263.1 L432.2,263.4 L432.9,263.5 L433.6,264.1 L434.3,263.7 L435.0,264.2 L435.7,264.0 L436.4,264.2 L437.1,264.8 L437.8,264.5 L438.5,264.6 L439.2,265.2 L439.9,265.2 L440.6,265.0 L441.3,265.5 L442.0,265.1 L442.7,265.6 L443.4,265.4 L444.1,265.9 L444.8,265.7 L445.5,265.6 L446.2,266.1 L446.9,266.1 L447.6,266.0 L448.3,266.2 L449.0,266.4 L449.7,266.4 L450.4,266.4 L451.1,266.0 L451.8,266.3 L452.5,266.4 L453.2,266.4 L453.9,266.5 L454.7,266.5 L455.4,266.5 L456.1,266.6 L456.8,266.6 L457.5,266.6 L458.2,266.6 L458.9,266.7 L459.6,266.7 L460.3,266.7 L461.0,266.7 L461.7,266.7 L462.4,266.7 L463.1,266.8 L463.8,266.8 L464.5,266.8 L465.2,266.8 L465.9,266.8 L466.6,266.8 L467.3,266.8 L468.0,266.8 L468.7,266.8 L469.4,266.8 L470.1,266.8 L470.8,266.9 L471.5,266.9 L472.2,266.9 L472.9,266.9 L473.6,266.9 L474.3,266.9 L475.0,266.9 L475.7,266.9 L476.4,266.9 L477.1,266.9 L477.8,266.9 L478.5,266.9 L479.2,266.9 L479.9,266.9 L480.6,266.9 L481.3,266.9 L482.0,266.9 L482.7,266.9 L483.4,266.9 L484.1,266.9 L484.8,266.9 L485.5,266.9 L486.2,266.9 L486.9,266.9 L487.6,266.9 L488.3,266.9 L489.0,266.9 L489.7,266.9 L490.4,266.9 L491.1,266.9 L491.8,266.9 L492.5,266.9 L493.3,266.9 L494.0,266.9 L494.7,266.9 L495.4,266.9 L496.1,266.9 L496.8,266.9 L497.5,266.9 L498.2,266.9 L498.9,266.9 L499.6,266.9 L500.3,266.9 L501.0,266.9 L501.7,266.9 L502.4,266.9 L503.1,266.9 L503.8,266.9 L504.5,266.9 L505.2,266.9 L505.9,266.9 L506.6,266.9 L507.3,266.9 L508.0,266.9 L508.7,266.9 L509.4,266.9 L510.1,266.9 L510.8,266.9 L511.5,266.9 L512.2,266.9 L512.20,266.90 Z" fill="#9dd2f6" stroke="none"/>
<path d="M374.6,266.2 L375.3,265.7 L376.0,265.6 L376.7,265.2 L377.4,265.1 L378.2,264.7 L378.9,264.1 L379.6,263.5 L380.3,263.5 L381.0,262.8 L381.7,262.2 L382.4,261.6 L383.1,261.7 L383.8,261.3 L384.5,260.4 L385.2,260.0 L385.9,259.9 L386.6,259.8 L387.3,258.9 L388.0,258.9 L388.7,258.3 L389.4,258.2 L390.1,257.7 L390.8,257.8 L391.5,257.2 L392.2,257.2 L392.9,256.8 L393.6,256.3 L394.3,256.1 L395.0,256.2 L395.7,256.1 L396.4,255.8 L397.1,255.7 L397.8,255.7 L398.5,255.9 L399.2,255.8 L399.9,255.6 L400.6,255.5 L401.3,256.1 L402.0,255.8 L402.7,255.8 L403.4,256.3 L404.1,255.9 L404.8,256.5 L405.5,256.3 L406.2,256.4 L406.9,256.5 L407.6,256.8 L408.3,256.9 L409.0,257.0 L409.7,257.2 L410.4,257.3 L411.1,257.6 L411.8,257.7 L412.5,258.2 L413.2,258.0 L413.9,258.3 L414.6,258.6 L415.3,258.5 L416.1,258.7 L416.8,259.1 L417.5,259.5 L418.2,259.6 L418.9,260.0 L419.6,260.2 L420.3,260.2 L421.0,260.6 L421.7,260.7 L422.4,260.8 L423.1,261.3 L423.8,261.2 L424.5,261.7 L425.2,261.5 L425.9,261.7 L426.6,262.1 L427.3,262.5 L428.0,262.5 L428.7,262.7 L429.4,262.6 L430.1,263.3 L430.8,263.0 L431.5,263.1 L432.2,263.4 L432.9,263.5 L433.6,264.1 L434.3,263.7 L435.0,264.2 L435.7,264.0 L436.4,264.2 L437.1,264.8 L437.8,264.5 L438.5,264.6 L439.2,265.2 L439.9,265.2 L440.6,265.0 L441.3,265.5 L442.0,265.1 L442.7,265.6 L443.4,265.4 L444.1,265.9 L444.8,265.7 L445.5,265.6 L446.2,266.1 L446.9,266.1" fill="none" stroke="#2a66f0" stroke-width="1.2" stroke-linejoin="round"/>
<line x1="319.9" y1="279.05" x2="512.2" y2="279.05" stroke="#f6dbe3" stroke-width="0.7" />
<path d="M319.90,279.35 L319.9,279.4 L320.6,279.4 L321.3,279.4 L322.0,279.4 L322.7,279.4 L323.4,279.4 L324.1,279.4 L324.8,279.4 L325.5,279.4 L326.2,279.4 L326.9,279.4 L327.6,279.4 L328.3,279.4 L329.0,279.4 L329.7,279.4 L330.4,279.4 L331.1,279.4 L331.8,279.3 L332.5,279.3 L333.2,279.3 L333.9,279.3 L334.6,279.3 L335.3,279.3 L336.0,279.3 L336.7,279.3 L337.4,279.3 L338.1,279.3 L338.8,279.3 L339.6,279.3 L340.3,279.3 L341.0,279.3 L341.7,279.3 L342.4,279.3 L343.1,279.3 L343.8,279.3 L344.5,279.3 L345.2,279.3 L345.9,279.3 L346.6,279.3 L347.3,279.3 L348.0,279.3 L348.7,279.3 L349.4,279.3 L350.1,279.3 L350.8,279.3 L351.5,279.3 L352.2,279.3 L352.9,279.3 L353.6,279.3 L354.3,279.3 L355.0,279.3 L355.7,279.3 L356.4,279.3 L357.1,279.3 L357.8,279.3 L358.5,279.3 L359.2,279.3 L359.9,279.3 L360.6,279.3 L361.3,279.3 L362.0,279.3 L362.7,279.3 L363.4,279.3 L364.1,279.2 L364.8,279.2 L365.5,279.1 L366.2,279.0 L366.9,278.9 L367.6,278.8 L368.3,278.5 L369.0,278.3 L369.7,278.3 L370.4,277.7 L371.1,277.6 L371.8,277.1 L372.5,276.5 L373.2,276.1 L373.9,275.3 L374.6,274.8 L375.3,274.1 L376.0,273.2 L376.7,272.8 L377.4,271.7 L378.2,271.1 L378.9,270.5 L379.6,269.8 L380.3,269.4 L381.0,268.7 L381.7,268.6 L382.4,268.5 L383.1,268.2 L383.8,268.4 L384.5,268.6 L385.2,268.5 L385.9,269.0 L386.6,269.0 L387.3,269.5 L388.0,269.7 L388.7,270.0 L389.4,270.5 L390.1,271.0 L390.8,271.6 L391.5,272.2 L392.2,272.6 L392.9,273.1 L393.6,273.4 L394.3,274.0 L395.0,274.4 L395.7,274.7 L396.4,275.4 L397.1,275.8 L397.8,276.0 L398.5,276.6 L399.2,277.0 L399.9,277.2 L400.6,277.5 L401.3,277.7 L402.0,278.0 L402.7,278.0 L403.4,278.2 L404.1,278.5 L404.8,278.5 L405.5,278.7 L406.2,278.8 L406.9,278.9 L407.6,279.0 L408.3,279.0 L409.0,279.1 L409.7,279.1 L410.4,279.2 L411.1,279.2 L411.8,279.2 L412.5,279.3 L413.2,279.3 L413.9,279.3 L414.6,279.3 L415.3,279.3 L416.1,279.3 L416.8,279.3 L417.5,279.3 L418.2,279.3 L418.9,279.3 L419.6,279.3 L420.3,279.3 L421.0,279.3 L421.7,279.3 L422.4,279.3 L423.1,279.3 L423.8,279.3 L424.5,279.3 L425.2,279.3 L425.9,279.3 L426.6,279.3 L427.3,279.3 L428.0,279.3 L428.7,279.3 L429.4,279.3 L430.1,279.3 L430.8,279.3 L431.5,279.3 L432.2,279.3 L432.9,279.3 L433.6,279.3 L434.3,279.3 L435.0,279.3 L435.7,279.3 L436.4,279.3 L437.1,279.3 L437.8,279.3 L438.5,279.3 L439.2,279.3 L439.9,279.3 L440.6,279.3 L441.3,279.3 L442.0,279.3 L442.7,279.3 L443.4,279.3 L444.1,279.3 L444.8,279.3 L445.5,279.3 L446.2,279.3 L446.9,279.3 L447.6,279.3 L448.3,279.3 L449.0,279.3 L449.7,279.3 L450.4,279.3 L451.1,279.3 L451.8,279.3 L452.5,279.3 L453.2,279.3 L453.9,279.3 L454.7,279.3 L455.4,279.3 L456.1,279.3 L456.8,279.3 L457.5,279.3 L458.2,279.3 L458.9,279.3 L459.6,279.3 L460.3,279.3 L461.0,279.4 L461.7,279.4 L462.4,279.4 L463.1,279.4 L463.8,279.4 L464.5,279.4 L465.2,279.4 L465.9,279.4 L466.6,279.4 L467.3,279.4 L468.0,279.4 L468.7,279.4 L469.4,279.4 L470.1,279.4 L470.8,279.4 L471.5,279.4 L472.2,279.4 L472.9,279.4 L473.6,279.4 L474.3,279.4 L475.0,279.4 L475.7,279.4 L476.4,279.4 L477.1,279.4 L477.8,279.4 L478.5,279.4 L479.2,279.4 L479.9,279.4 L480.6,279.4 L481.3,279.4 L482.0,279.4 L482.7,279.4 L483.4,279.4 L484.1,279.4 L484.8,279.4 L485.5,279.4 L486.2,279.4 L486.9,279.4 L487.6,279.4 L488.3,279.4 L489.0,279.4 L489.7,279.4 L490.4,279.4 L491.1,279.4 L491.8,279.4 L492.5,279.4 L493.3,279.4 L494.0,279.4 L494.7,279.4 L495.4,279.4 L496.1,279.4 L496.8,279.4 L497.5,279.4 L498.2,279.4 L498.9,279.4 L499.6,279.4 L500.3,279.4 L501.0,279.4 L501.7,279.4 L502.4,279.4 L503.1,279.4 L503.8,279.4 L504.5,279.4 L505.2,279.4 L505.9,279.4 L506.6,279.4 L507.3,279.4 L508.0,279.4 L508.7,279.4 L509.4,279.4 L510.1,279.4 L510.8,279.4 L511.5,279.4 L512.2,279.4 L512.20,279.35 Z" fill="#e489ae" stroke="none"/>
<path d="M369.0,278.3 L369.7,278.3 L370.4,277.7 L371.1,277.6 L371.8,277.1 L372.5,276.5 L373.2,276.1 L373.9,275.3 L374.6,274.8 L375.3,274.1 L376.0,273.2 L376.7,272.8 L377.4,271.7 L378.2,271.1 L378.9,270.5 L379.6,269.8 L380.3,269.4 L381.0,268.7 L381.7,268.6 L382.4,268.5 L383.1,268.2 L383.8,268.4 L384.5,268.6 L385.2,268.5 L385.9,269.0 L386.6,269.0 L387.3,269.5 L388.0,269.7 L388.7,270.0 L389.4,270.5 L390.1,271.0 L390.8,271.6 L391.5,272.2 L392.2,272.6 L392.9,273.1 L393.6,273.4 L394.3,274.0 L395.0,274.4 L395.7,274.7 L396.4,275.4 L397.1,275.8 L397.8,276.0 L398.5,276.6 L399.2,277.0 L399.9,277.2 L400.6,277.5 L401.3,277.7 L402.0,278.0 L402.7,278.0 L403.4,278.2 L404.1,278.5" fill="none" stroke="#c4102a" stroke-width="1.2" stroke-linejoin="round"/>
<line x1="319.9" y1="291.5" x2="512.2" y2="291.5" stroke="#dcf5d5" stroke-width="0.7" />
<path d="M319.90,291.80 L319.9,291.8 L320.6,291.8 L321.3,291.8 L322.0,291.8 L322.7,291.8 L323.4,291.8 L324.1,291.8 L324.8,291.8 L325.5,291.8 L326.2,291.8 L326.9,291.8 L327.6,291.8 L328.3,291.8 L329.0,291.8 L329.7,291.8 L330.4,291.8 L331.1,291.8 L331.8,291.8 L332.5,291.8 L333.2,291.8 L333.9,291.8 L334.6,291.8 L335.3,291.8 L336.0,291.8 L336.7,291.8 L337.4,291.8 L338.1,291.8 L338.8,291.8 L339.6,291.8 L340.3,291.8 L341.0,291.8 L341.7,291.8 L342.4,291.8 L343.1,291.8 L343.8,291.8 L344.5,291.8 L345.2,291.8 L345.9,291.8 L346.6,291.8 L347.3,291.8 L348.0,291.8 L348.7,291.8 L349.4,291.8 L350.1,291.8 L350.8,291.8 L351.5,291.8 L352.2,291.8 L352.9,291.8 L353.6,291.8 L354.3,291.8 L355.0,291.8 L355.7,291.8 L356.4,291.8 L357.1,291.8 L357.8,291.8 L358.5,291.8 L359.2,291.8 L359.9,291.8 L360.6,291.8 L361.3,291.8 L362.0,291.8 L362.7,291.7 L363.4,291.7 L364.1,291.7 L364.8,291.6 L365.5,291.6 L366.2,291.5 L366.9,291.4 L367.6,291.2 L368.3,291.2 L369.0,290.7 L369.7,290.7 L370.4,290.4 L371.1,290.1 L371.8,289.5 L372.5,288.9 L373.2,288.4 L373.9,287.9 L374.6,287.3 L375.3,286.7 L376.0,285.8 L376.7,285.1 L377.4,284.4 L378.2,283.6 L378.9,283.0 L379.6,282.2 L380.3,281.7 L381.0,281.5 L381.7,280.9 L382.4,281.0 L383.1,280.8 L383.8,280.9 L384.5,281.0 L385.2,281.2 L385.9,281.1 L386.6,281.7 L387.3,281.7 L388.0,281.9 L388.7,282.6 L389.4,282.9 L390.1,283.2 L390.8,283.7 L391.5,284.1 L392.2,284.5 L392.9,285.2 L393.6,285.6 L394.3,286.1 L395.0,286.6 L395.7,286.7 L396.4,287.2 L397.1,287.6 L397.8,288.3 L398.5,288.4 L399.2,288.7 L399.9,289.2 L400.6,289.4 L401.3,289.8 L402.0,290.1 L402.7,290.4 L403.4,290.5 L404.1,290.8 L404.8,290.8 L405.5,290.8 L406.2,291.0 L406.9,291.0 L407.6,291.3 L408.3,291.4 L409.0,291.4 L409.7,291.5 L410.4,291.5 L411.1,291.6 L411.8,291.6 L412.5,291.7 L413.2,291.7 L413.9,291.7 L414.6,291.7 L415.3,291.7 L416.1,291.8 L416.8,291.8 L417.5,291.8 L418.2,291.8 L418.9,291.8 L419.6,291.8 L420.3,291.8 L421.0,291.8 L421.7,291.8 L422.4,291.8 L423.1,291.8 L423.8,291.8 L424.5,291.8 L425.2,291.8 L425.9,291.8 L426.6,291.8 L427.3,291.8 L428.0,291.8 L428.7,291.8 L429.4,291.8 L430.1,291.8 L430.8,291.8 L431.5,291.8 L432.2,291.8 L432.9,291.8 L433.6,291.8 L434.3,291.8 L435.0,291.8 L435.7,291.8 L436.4,291.8 L437.1,291.8 L437.8,291.8 L438.5,291.8 L439.2,291.8 L439.9,291.8 L440.6,291.8 L441.3,291.8 L442.0,291.8 L442.7,291.8 L443.4,291.8 L444.1,291.8 L444.8,291.8 L445.5,291.8 L446.2,291.8 L446.9,291.8 L447.6,291.8 L448.3,291.8 L449.0,291.8 L449.7,291.8 L450.4,291.8 L451.1,291.8 L451.8,291.8 L452.5,291.8 L453.2,291.8 L453.9,291.8 L454.7,291.8 L455.4,291.8 L456.1,291.8 L456.8,291.8 L457.5,291.8 L458.2,291.8 L458.9,291.8 L459.6,291.8 L460.3,291.8 L461.0,291.8 L461.7,291.8 L462.4,291.8 L463.1,291.8 L463.8,291.8 L464.5,291.8 L465.2,291.8 L465.9,291.8 L466.6,291.8 L467.3,291.8 L468.0,291.8 L468.7,291.8 L469.4,291.8 L470.1,291.8 L470.8,291.8 L471.5,291.8 L472.2,291.8 L472.9,291.8 L473.6,291.8 L474.3,291.8 L475.0,291.8 L475.7,291.8 L476.4,291.8 L477.1,291.8 L477.8,291.8 L478.5,291.8 L479.2,291.8 L479.9,291.8 L480.6,291.8 L481.3,291.8 L482.0,291.8 L482.7,291.8 L483.4,291.8 L484.1,291.8 L484.8,291.8 L485.5,291.8 L486.2,291.8 L486.9,291.8 L487.6,291.8 L488.3,291.8 L489.0,291.8 L489.7,291.8 L490.4,291.8 L491.1,291.8 L491.8,291.8 L492.5,291.8 L493.3,291.8 L494.0,291.8 L494.7,291.8 L495.4,291.8 L496.1,291.8 L496.8,291.8 L497.5,291.8 L498.2,291.8 L498.9,291.8 L499.6,291.8 L500.3,291.8 L501.0,291.8 L501.7,291.8 L502.4,291.8 L503.1,291.8 L503.8,291.8 L504.5,291.8 L505.2,291.8 L505.9,291.8 L506.6,291.8 L507.3,291.8 L508.0,291.8 L508.7,291.8 L509.4,291.8 L510.1,291.8 L510.8,291.8 L511.5,291.8 L512.2,291.8 L512.20,291.80 Z" fill="#8deb7b" stroke="none"/>
<path d="M369.0,290.7 L369.7,290.7 L370.4,290.4 L371.1,290.1 L371.8,289.5 L372.5,288.9 L373.2,288.4 L373.9,287.9 L374.6,287.3 L375.3,286.7 L376.0,285.8 L376.7,285.1 L377.4,284.4 L378.2,283.6 L378.9,283.0 L379.6,282.2 L380.3,281.7 L381.0,281.5 L381.7,280.9 L382.4,281.0 L383.1,280.8 L383.8,280.9 L384.5,281.0 L385.2,281.2 L385.9,281.1 L386.6,281.7 L387.3,281.7 L388.0,281.9 L388.7,282.6 L389.4,282.9 L390.1,283.2 L390.8,283.7 L391.5,284.1 L392.2,284.5 L392.9,285.2 L393.6,285.6 L394.3,286.1 L395.0,286.6 L395.7,286.7 L396.4,287.2 L397.1,287.6 L397.8,288.3 L398.5,288.4 L399.2,288.7 L399.9,289.2 L400.6,289.4 L401.3,289.8 L402.0,290.1 L402.7,290.4 L403.4,290.5 L404.1,290.8 L404.8,290.8" fill="none" stroke="#22b51e" stroke-width="1.2" stroke-linejoin="round"/>
<line x1="389.5" y1="242.0" x2="389.5" y2="291.8" stroke="#111" stroke-width="1.2" />
<rect x="319.4" y="242.0" width="193.3" height="49.8" fill="none" stroke="#8c8c8c" stroke-width="0.8"/>
<text x="508.8" y="251.3" font-size="8.9" text-anchor="end" fill="#222" stroke="#222" stroke-width="0.22" textLength="41.8" lengthAdjust="spacingAndGlyphs" >Control Ab</text>
<text x="508.8" y="263.75" font-size="8.9" text-anchor="end" fill="#222" stroke="#222" stroke-width="0.22" textLength="24.5" lengthAdjust="spacingAndGlyphs" >DMSO</text>
<text x="508.8" y="276.2" font-size="8.9" text-anchor="end" fill="#222" stroke="#222" stroke-width="0.22" textLength="40.8" lengthAdjust="spacingAndGlyphs" >KIN-0.5μM</text>
<text x="508.8" y="288.65" font-size="8.9" text-anchor="end" fill="#222" stroke="#222" stroke-width="0.22" textLength="40.8" lengthAdjust="spacingAndGlyphs" >KIN-0.1μM</text>
<line x1="343.5" y1="291.8" x2="343.5" y2="293.3" stroke="#888" stroke-width="0.6" />
<rect x="342.30" y="295.00" width="2.4" height="1.2" fill="#bbb"/>
<line x1="363" y1="291.8" x2="363" y2="293.3" stroke="#888" stroke-width="0.6" />
<rect x="361.80" y="295.00" width="2.4" height="1.2" fill="#bbb"/>
<line x1="390.5" y1="291.8" x2="390.5" y2="293.3" stroke="#888" stroke-width="0.6" />
<rect x="389.30" y="295.00" width="2.4" height="1.2" fill="#bbb"/>
<line x1="426.5" y1="291.8" x2="426.5" y2="293.3" stroke="#888" stroke-width="0.6" />
<rect x="425.30" y="295.00" width="2.4" height="1.2" fill="#bbb"/>
<line x1="463" y1="291.8" x2="463" y2="293.3" stroke="#888" stroke-width="0.6" />
<rect x="461.80" y="295.00" width="2.4" height="1.2" fill="#bbb"/>
<line x1="499" y1="291.8" x2="499" y2="293.3" stroke="#888" stroke-width="0.6" />
<rect x="497.80" y="295.00" width="2.4" height="1.2" fill="#bbb"/>
<rect x="321" y="291.8" width="0.6" height="1" fill="#c8c8c8"/>
<rect x="324" y="291.8" width="0.6" height="1" fill="#c8c8c8"/>
<rect x="327" y="291.8" width="0.6" height="1" fill="#c8c8c8"/>
<rect x="330" y="291.8" width="0.6" height="1" fill="#c8c8c8"/>
<rect x="333" y="291.8" width="0.6" height="1" fill="#c8c8c8"/>
<rect x="336" y="291.8" width="0.6" height="1" fill="#c8c8c8"/>
<rect x="339" y="291.8" width="0.6" height="1" fill="#c8c8c8"/>
<rect x="342" y="291.8" width="0.6" height="1" fill="#c8c8c8"/>
<rect x="345" y="291.8" width="0.6" height="1" fill="#c8c8c8"/>
<rect x="348" y="291.8" width="0.6" height="1" fill="#c8c8c8"/>
<rect x="351" y="291.8" width="0.6" height="1" fill="#c8c8c8"/>
<rect x="354" y="291.8" width="0.6" height="1" fill="#c8c8c8"/>
<rect x="357" y="291.8" width="0.6" height="1" fill="#c8c8c8"/>
<rect x="360" y="291.8" width="0.6" height="1" fill="#c8c8c8"/>
<rect x="363" y="291.8" width="0.6" height="1" fill="#c8c8c8"/>
<rect x="366" y="291.8" width="0.6" height="1" fill="#c8c8c8"/>
<rect x="369" y="291.8" width="0.6" height="1" fill="#c8c8c8"/>
<rect x="372" y="291.8" width="0.6" height="1" fill="#c8c8c8"/>
<rect x="375" y="291.8" width="0.6" height="1" fill="#c8c8c8"/>
<rect x="378" y="291.8" width="0.6" height="1" fill="#c8c8c8"/>
<rect x="381" y="291.8" width="0.6" height="1" fill="#c8c8c8"/>
<rect x="384" y="291.8" width="0.6" height="1" fill="#c8c8c8"/>
<rect x="387" y="291.8" width="0.6" height="1" fill="#c8c8c8"/>
<rect x="390" y="291.8" width="0.6" height="1" fill="#c8c8c8"/>
<rect x="393" y="291.8" width="0.6" height="1" fill="#c8c8c8"/>
<rect x="396" y="291.8" width="0.6" height="1" fill="#c8c8c8"/>
<rect x="399" y="291.8" width="0.6" height="1" fill="#c8c8c8"/>
<rect x="402" y="291.8" width="0.6" height="1" fill="#c8c8c8"/>
<rect x="405" y="291.8" width="0.6" height="1" fill="#c8c8c8"/>
<rect x="408" y="291.8" width="0.6" height="1" fill="#c8c8c8"/>
<rect x="411" y="291.8" width="0.6" height="1" fill="#c8c8c8"/>
<rect x="414" y="291.8" width="0.6" height="1" fill="#c8c8c8"/>
<rect x="417" y="291.8" width="0.6" height="1" fill="#c8c8c8"/>
<rect x="420" y="291.8" width="0.6" height="1" fill="#c8c8c8"/>
<rect x="423" y="291.8" width="0.6" height="1" fill="#c8c8c8"/>
<rect x="426" y="291.8" width="0.6" height="1" fill="#c8c8c8"/>
<rect x="429" y="291.8" width="0.6" height="1" fill="#c8c8c8"/>
<rect x="432" y="291.8" width="0.6" height="1" fill="#c8c8c8"/>
<rect x="435" y="291.8" width="0.6" height="1" fill="#c8c8c8"/>
<rect x="438" y="291.8" width="0.6" height="1" fill="#c8c8c8"/>
<rect x="441" y="291.8" width="0.6" height="1" fill="#c8c8c8"/>
<rect x="444" y="291.8" width="0.6" height="1" fill="#c8c8c8"/>
<rect x="447" y="291.8" width="0.6" height="1" fill="#c8c8c8"/>
<rect x="450" y="291.8" width="0.6" height="1" fill="#c8c8c8"/>
<rect x="453" y="291.8" width="0.6" height="1" fill="#c8c8c8"/>
<rect x="456" y="291.8" width="0.6" height="1" fill="#c8c8c8"/>
<rect x="459" y="291.8" width="0.6" height="1" fill="#c8c8c8"/>
<rect x="462" y="291.8" width="0.6" height="1" fill="#c8c8c8"/>
<rect x="465" y="291.8" width="0.6" height="1" fill="#c8c8c8"/>
<rect x="468" y="291.8" width="0.6" height="1" fill="#c8c8c8"/>
<rect x="471" y="291.8" width="0.6" height="1" fill="#c8c8c8"/>
<rect x="474" y="291.8" width="0.6" height="1" fill="#c8c8c8"/>
<rect x="477" y="291.8" width="0.6" height="1" fill="#c8c8c8"/>
<rect x="480" y="291.8" width="0.6" height="1" fill="#c8c8c8"/>
<rect x="483" y="291.8" width="0.6" height="1" fill="#c8c8c8"/>
<rect x="486" y="291.8" width="0.6" height="1" fill="#c8c8c8"/>
<rect x="489" y="291.8" width="0.6" height="1" fill="#c8c8c8"/>
<rect x="492" y="291.8" width="0.6" height="1" fill="#c8c8c8"/>
<rect x="495" y="291.8" width="0.6" height="1" fill="#c8c8c8"/>
<rect x="498" y="291.8" width="0.6" height="1" fill="#c8c8c8"/>
<rect x="501" y="291.8" width="0.6" height="1" fill="#c8c8c8"/>
<rect x="504" y="291.8" width="0.6" height="1" fill="#c8c8c8"/>
<rect x="507" y="291.8" width="0.6" height="1" fill="#c8c8c8"/>
<rect x="337.40" y="292.00" width="6" height="1.1" fill="#555"/>
<rect x="412.40" y="300.20" width="7" height="1.3" fill="#c5c5c5"/>
<rect x="319.4" y="304.3" width="193.3" height="49.8" fill="#fff" stroke="none"/>
<line x1="319.9" y1="316.45" x2="512.2" y2="316.45" stroke="#dfe4e1" stroke-width="0.7" />
<path d="M319.90,316.75 L319.9,316.7 L320.6,316.7 L321.3,316.7 L322.0,316.7 L322.7,316.7 L323.4,316.7 L324.1,316.7 L324.8,316.7 L325.5,316.7 L326.2,316.7 L326.9,316.7 L327.6,316.7 L328.3,316.7 L329.0,316.7 L329.7,316.7 L330.4,316.7 L331.1,316.7 L331.8,316.7 L332.5,316.7 L333.2,316.7 L333.9,316.7 L334.6,316.7 L335.3,316.7 L336.0,316.6 L336.7,316.5 L337.4,316.4 L338.1,316.2 L338.8,315.9 L339.6,315.5 L340.3,315.0 L341.0,314.3 L341.7,313.5 L342.4,312.5 L343.1,311.3 L343.8,310.0 L344.5,308.7 L345.2,307.5 L345.9,306.5 L346.6,305.7 L347.3,305.2 L348.0,305.2 L348.7,305.5 L349.4,306.3 L350.1,307.3 L350.8,308.5 L351.5,309.7 L352.2,311.0 L352.9,312.2 L353.6,313.3 L354.3,314.1 L355.0,314.8 L355.7,315.4 L356.4,315.7 L357.1,316.0 L357.8,316.2 L358.5,316.3 L359.2,316.4 L359.9,316.4 L360.6,316.4 L361.3,316.4 L362.0,316.4 L362.7,316.4 L363.4,316.4 L364.1,316.4 L364.8,316.4 L365.5,316.4 L366.2,316.4 L366.9,316.4 L367.6,316.5 L368.3,316.5 L369.0,316.5 L369.7,316.5 L370.4,316.5 L371.1,316.5 L371.8,316.5 L372.5,316.5 L373.2,316.5 L373.9,316.5 L374.6,316.5 L375.3,316.5 L376.0,316.5 L376.7,316.6 L377.4,316.6 L378.2,316.7 L378.9,316.7 L379.6,316.7 L380.3,316.7 L381.0,316.7 L381.7,316.7 L382.4,316.7 L383.1,316.7 L383.8,316.7 L384.5,316.7 L385.2,316.7 L385.9,316.7 L386.6,316.7 L387.3,316.7 L388.0,316.7 L388.7,316.7 L389.4,316.7 L390.1,316.7 L390.8,316.7 L391.5,316.7 L392.2,316.7 L392.9,316.7 L393.6,316.7 L394.3,316.7 L395.0,316.7 L395.7,316.7 L396.4,316.7 L397.1,316.7 L397.8,316.7 L398.5,316.7 L399.2,316.7 L399.9,316.7 L400.6,316.7 L401.3,316.7 L402.0,316.7 L402.7,316.7 L403.4,316.7 L404.1,316.7 L404.8,316.7 L405.5,316.7 L406.2,316.7 L406.9,316.7 L407.6,316.8 L408.3,316.8 L409.0,316.8 L409.7,316.8 L410.4,316.8 L411.1,316.8 L411.8,316.8 L412.5,316.8 L413.2,316.8 L413.9,316.8 L414.6,316.8 L415.3,316.8 L416.1,316.8 L416.8,316.8 L417.5,316.8 L418.2,316.8 L418.9,316.8 L419.6,316.8 L420.3,316.8 L421.0,316.8 L421.7,316.8 L422.4,316.8 L423.1,316.8 L423.8,316.8 L424.5,316.8 L425.2,316.8 L425.9,316.8 L426.6,316.8 L427.3,316.8 L428.0,316.8 L428.7,316.8 L429.4,316.8 L430.1,316.8 L430.8,316.8 L431.5,316.8 L432.2,316.8 L432.9,316.8 L433.6,316.8 L434.3,316.8 L435.0,316.8 L435.7,316.8 L436.4,316.8 L437.1,316.8 L437.8,316.8 L438.5,316.8 L439.2,316.8 L439.9,316.8 L440.6,316.8 L441.3,316.8 L442.0,316.8 L442.7,316.8 L443.4,316.8 L444.1,316.8 L444.8,316.8 L445.5,316.8 L446.2,316.8 L446.9,316.8 L447.6,316.8 L448.3,316.8 L449.0,316.8 L449.7,316.8 L450.4,316.8 L451.1,316.8 L451.8,316.8 L452.5,316.8 L453.2,316.8 L453.9,316.8 L454.7,316.8 L455.4,316.8 L456.1,316.8 L456.8,316.8 L457.5,316.8 L458.2,316.8 L458.9,316.8 L459.6,316.8 L460.3,316.8 L461.0,316.8 L461.7,316.8 L462.4,316.8 L463.1,316.8 L463.8,316.8 L464.5,316.8 L465.2,316.8 L465.9,316.8 L466.6,316.8 L467.3,316.8 L468.0,316.8 L468.7,316.8 L469.4,316.8 L470.1,316.8 L470.8,316.8 L471.5,316.8 L472.2,316.8 L472.9,316.8 L473.6,316.8 L474.3,316.8 L475.0,316.8 L475.7,316.8 L476.4,316.8 L477.1,316.8 L477.8,316.8 L478.5,316.8 L479.2,316.8 L479.9,316.8 L480.6,316.8 L481.3,316.8 L482.0,316.8 L482.7,316.8 L483.4,316.8 L484.1,316.8 L484.8,316.8 L485.5,316.8 L486.2,316.8 L486.9,316.8 L487.6,316.8 L488.3,316.8 L489.0,316.8 L489.7,316.8 L490.4,316.8 L491.1,316.8 L491.8,316.8 L492.5,316.8 L493.3,316.8 L494.0,316.8 L494.7,316.8 L495.4,316.8 L496.1,316.8 L496.8,316.8 L497.5,316.8 L498.2,316.8 L498.9,316.8 L499.6,316.8 L500.3,316.8 L501.0,316.8 L501.7,316.8 L502.4,316.8 L503.1,316.8 L503.8,316.8 L504.5,316.8 L505.2,316.8 L505.9,316.8 L506.6,316.8 L507.3,316.8 L508.0,316.8 L508.7,316.8 L509.4,316.8 L510.1,316.8 L510.8,316.8 L511.5,316.8 L512.2,316.8 L512.20,316.75 Z" fill="#d3dbd6" stroke="none"/>
<path d="M339.6,315.5 L340.3,315.0 L341.0,314.3 L341.7,313.5 L342.4,312.5 L343.1,311.3 L343.8,310.0 L344.5,308.7 L345.2,307.5 L345.9,306.5 L346.6,305.7 L347.3,305.2 L348.0,305.2 L348.7,305.5 L349.4,306.3 L350.1,307.3 L350.8,308.5 L351.5,309.7 L352.2,311.0 L352.9,312.2 L353.6,313.3 L354.3,314.1 L355.0,314.8 L355.7,315.4 L356.4,315.7" fill="none" stroke="#111111" stroke-width="1.2" stroke-linejoin="round"/>
<line x1="319.9" y1="328.9" x2="512.2" y2="328.9" stroke="#e2f0fb" stroke-width="0.7" />
<path d="M319.90,329.20 L319.9,329.2 L320.6,329.2 L321.3,329.2 L322.0,329.2 L322.7,329.2 L323.4,329.2 L324.1,329.2 L324.8,329.2 L325.5,329.2 L326.2,329.2 L326.9,329.2 L327.6,329.2 L328.3,329.2 L329.0,329.2 L329.7,329.2 L330.4,329.2 L331.1,329.2 L331.8,329.2 L332.5,329.2 L333.2,329.2 L333.9,329.2 L334.6,329.2 L335.3,329.2 L336.0,329.2 L336.7,329.2 L337.4,329.2 L338.1,329.2 L338.8,329.2 L339.6,329.2 L340.3,329.2 L341.0,329.2 L341.7,329.2 L342.4,329.2 L343.1,329.2 L343.8,329.2 L344.5,329.2 L345.2,329.2 L345.9,329.2 L346.6,329.2 L347.3,329.2 L348.0,329.2 L348.7,329.2 L349.4,329.2 L350.1,329.2 L350.8,329.2 L351.5,329.2 L352.2,329.2 L352.9,329.2 L353.6,329.2 L354.3,329.2 L355.0,329.2 L355.7,329.2 L356.4,329.2 L357.1,329.2 L357.8,329.2 L358.5,329.2 L359.2,329.2 L359.9,329.2 L360.6,329.2 L361.3,329.2 L362.0,329.2 L362.7,329.2 L363.4,329.2 L364.1,329.2 L364.8,329.2 L365.5,329.2 L366.2,329.2 L366.9,329.2 L367.6,329.2 L368.3,329.2 L369.0,329.2 L369.7,329.2 L370.4,329.2 L371.1,329.2 L371.8,329.2 L372.5,329.2 L373.2,329.2 L373.9,329.1 L374.6,329.1 L375.3,329.1 L376.0,329.0 L376.7,328.9 L377.4,328.8 L378.2,328.7 L378.9,328.4 L379.6,328.5 L380.3,328.1 L381.0,327.8 L381.7,327.3 L382.4,327.0 L383.1,326.7 L383.8,326.0 L384.5,325.2 L385.2,325.1 L385.9,324.1 L386.6,323.9 L387.3,323.1 L388.0,322.5 L388.7,321.6 L389.4,321.0 L390.1,320.6 L390.8,320.4 L391.5,319.8 L392.2,319.8 L392.9,319.7 L393.6,319.2 L394.3,319.3 L395.0,319.3 L395.7,319.3 L396.4,319.1 L397.1,319.5 L397.8,319.3 L398.5,319.4 L399.2,319.4 L399.9,319.7 L400.6,319.6 L401.3,319.8 L402.0,320.1 L402.7,320.3 L403.4,320.1 L404.1,320.6 L404.8,320.3 L405.5,320.9 L406.2,321.2 L406.9,321.3 L407.6,321.0 L408.3,321.6 L409.0,321.9 L409.7,322.2 L410.4,322.5 L411.1,322.3 L411.8,322.6 L412.5,322.8 L413.2,323.0 L413.9,323.7 L414.6,323.6 L415.3,324.0 L416.1,324.0 L416.8,324.2 L417.5,324.4 L418.2,325.2 L418.9,324.9 L419.6,325.1 L420.3,325.4 L421.0,326.1 L421.7,326.2 L422.4,326.5 L423.1,326.7 L423.8,326.5 L424.5,326.7 L425.2,326.9 L425.9,327.0 L426.6,327.3 L427.3,327.6 L428.0,327.9 L428.7,328.0 L429.4,327.7 L430.1,328.2 L430.8,328.2 L431.5,328.3 L432.2,328.6 L432.9,328.6 L433.6,328.6 L434.3,328.4 L435.0,328.6 L435.7,328.7 L436.4,328.8 L437.1,328.8 L437.8,328.8 L438.5,328.9 L439.2,328.9 L439.9,329.0 L440.6,329.0 L441.3,329.0 L442.0,329.0 L442.7,329.1 L443.4,329.1 L444.1,329.1 L444.8,329.1 L445.5,329.1 L446.2,329.1 L446.9,329.1 L447.6,329.2 L448.3,329.2 L449.0,329.2 L449.7,329.2 L450.4,329.2 L451.1,329.2 L451.8,329.2 L452.5,329.2 L453.2,329.2 L453.9,329.2 L454.7,329.2 L455.4,329.2 L456.1,329.2 L456.8,329.2 L457.5,329.2 L458.2,329.2 L458.9,329.2 L459.6,329.2 L460.3,329.2 L461.0,329.2 L461.7,329.2 L462.4,329.2 L463.1,329.2 L463.8,329.2 L464.5,329.2 L465.2,329.2 L465.9,329.2 L466.6,329.2 L467.3,329.2 L468.0,329.2 L468.7,329.2 L469.4,329.2 L470.1,329.2 L470.8,329.2 L471.5,329.2 L472.2,329.2 L472.9,329.2 L473.6,329.2 L474.3,329.2 L475.0,329.2 L475.7,329.2 L476.4,329.2 L477.1,329.2 L477.8,329.2 L478.5,329.2 L479.2,329.2 L479.9,329.2 L480.6,329.2 L481.3,329.2 L482.0,329.2 L482.7,329.2 L483.4,329.2 L484.1,329.2 L484.8,329.2 L485.5,329.2 L486.2,329.2 L486.9,329.2 L487.6,329.2 L488.3,329.2 L489.0,329.2 L489.7,329.2 L490.4,329.2 L491.1,329.2 L491.8,329.2 L492.5,329.2 L493.3,329.2 L494.0,329.2 L494.7,329.2 L495.4,329.2 L496.1,329.2 L496.8,329.2 L497.5,329.2 L498.2,329.2 L498.9,329.2 L499.6,329.2 L500.3,329.2 L501.0,329.2 L501.7,329.2 L502.4,329.2 L503.1,329.2 L503.8,329.2 L504.5,329.2 L505.2,329.2 L505.9,329.2 L506.6,329.2 L507.3,329.2 L508.0,329.2 L508.7,329.2 L509.4,329.2 L510.1,329.2 L510.8,329.2 L511.5,329.2 L512.2,329.2 L512.20,329.20 Z" fill="#9dd2f6" stroke="none"/>
<path d="M380.3,328.1 L381.0,327.8 L381.7,327.3 L382.4,327.0 L383.1,326.7 L383.8,326.0 L384.5,325.2 L385.2,325.1 L385.9,324.1 L386.6,323.9 L387.3,323.1 L388.0,322.5 L388.7,321.6 L389.4,321.0 L390.1,320.6 L390.8,320.4 L391.5,319.8 L392.2,319.8 L392.9,319.7 L393.6,319.2 L394.3,319.3 L395.0,319.3 L395.7,319.3 L396.4,319.1 L397.1,319.5 L397.8,319.3 L398.5,319.4 L399.2,319.4 L399.9,319.7 L400.6,319.6 L401.3,319.8 L402.0,320.1 L402.7,320.3 L403.4,320.1 L404.1,320.6 L404.8,320.3 L405.5,320.9 L406.2,321.2 L406.9,321.3 L407.6,321.0 L408.3,321.6 L409.0,321.9 L409.7,322.2 L410.4,322.5 L411.1,322.3 L411.8,322.6 L412.5,322.8 L413.2,323.0 L413.9,323.7 L414.6,323.6 L415.3,324.0 L416.1,324.0 L416.8,324.2 L417.5,324.4 L418.2,325.2 L418.9,324.9 L419.6,325.1 L420.3,325.4 L421.0,326.1 L421.7,326.2 L422.4,326.5 L423.1,326.7 L423.8,326.5 L424.5,326.7 L425.2,326.9 L425.9,327.0 L426.6,327.3 L427.3,327.6 L428.0,327.9 L428.7,328.0 L429.4,327.7 L430.1,328.2 L430.8,328.2 L431.5,328.3" fill="none" stroke="#2a66f0" stroke-width="1.2" stroke-linejoin="round"/>
<line x1="319.9" y1="341.34999999999997" x2="512.2" y2="341.34999999999997" stroke="#f6dbe3" stroke-width="0.7" />
<path d="M319.90,341.65 L319.9,341.6 L320.6,341.6 L321.3,341.6 L322.0,341.6 L322.7,341.6 L323.4,341.6 L324.1,341.6 L324.8,341.6 L325.5,341.6 L326.2,341.6 L326.9,341.6 L327.6,341.6 L328.3,341.6 L329.0,341.6 L329.7,341.6 L330.4,341.6 L331.1,341.6 L331.8,341.6 L332.5,341.6 L333.2,341.6 L333.9,341.6 L334.6,341.6 L335.3,341.6 L336.0,341.6 L336.7,341.6 L337.4,341.6 L338.1,341.6 L338.8,341.6 L339.6,341.6 L340.3,341.6 L341.0,341.6 L341.7,341.6 L342.4,341.6 L343.1,341.6 L343.8,341.6 L344.5,341.6 L345.2,341.6 L345.9,341.6 L346.6,341.6 L347.3,341.6 L348.0,341.6 L348.7,341.6 L349.4,341.6 L350.1,341.6 L350.8,341.6 L351.5,341.6 L352.2,341.6 L352.9,341.6 L353.6,341.6 L354.3,341.6 L355.0,341.6 L355.7,341.6 L356.4,341.6 L357.1,341.6 L357.8,341.6 L358.5,341.6 L359.2,341.6 L359.9,341.6 L360.6,341.6 L361.3,341.6 L362.0,341.6 L362.7,341.6 L363.4,341.6 L364.1,341.6 L364.8,341.6 L365.5,341.6 L366.2,341.6 L366.9,341.6 L367.6,341.5 L368.3,341.5 L369.0,341.4 L369.7,341.4 L370.4,341.3 L371.1,341.2 L371.8,341.1 L372.5,341.0 L373.2,340.9 L373.9,340.3 L374.6,340.3 L375.3,339.9 L376.0,339.7 L376.7,339.7 L377.4,339.1 L378.2,338.6 L378.9,338.0 L379.6,337.7 L380.3,337.0 L381.0,336.5 L381.7,336.1 L382.4,335.1 L383.1,335.0 L383.8,334.0 L384.5,333.8 L385.2,333.3 L385.9,332.7 L386.6,331.9 L387.3,331.4 L388.0,331.7 L388.7,331.2 L389.4,331.1 L390.1,330.9 L390.8,331.3 L391.5,331.1 L392.2,331.3 L392.9,331.2 L393.6,331.7 L394.3,331.4 L395.0,332.1 L395.7,332.4 L396.4,332.3 L397.1,332.8 L397.8,333.3 L398.5,333.3 L399.2,334.0 L399.9,333.9 L400.6,334.4 L401.3,334.7 L402.0,335.2 L402.7,335.7 L403.4,336.0 L404.1,336.4 L404.8,336.5 L405.5,337.3 L406.2,337.2 L406.9,338.0 L407.6,338.2 L408.3,338.5 L409.0,338.4 L409.7,338.9 L410.4,339.2 L411.1,339.2 L411.8,339.8 L412.5,339.9 L413.2,340.0 L413.9,340.0 L414.6,340.2 L415.3,340.4 L416.1,340.7 L416.8,340.9 L417.5,341.1 L418.2,340.8 L418.9,341.1 L419.6,341.1 L420.3,341.2 L421.0,341.3 L421.7,341.3 L422.4,341.4 L423.1,341.4 L423.8,341.4 L424.5,341.5 L425.2,341.5 L425.9,341.5 L426.6,341.5 L427.3,341.6 L428.0,341.6 L428.7,341.6 L429.4,341.6 L430.1,341.6 L430.8,341.6 L431.5,341.6 L432.2,341.6 L432.9,341.6 L433.6,341.6 L434.3,341.6 L435.0,341.6 L435.7,341.6 L436.4,341.6 L437.1,341.6 L437.8,341.6 L438.5,341.6 L439.2,341.6 L439.9,341.6 L440.6,341.6 L441.3,341.6 L442.0,341.6 L442.7,341.6 L443.4,341.6 L444.1,341.6 L444.8,341.6 L445.5,341.6 L446.2,341.6 L446.9,341.6 L447.6,341.6 L448.3,341.6 L449.0,341.6 L449.7,341.6 L450.4,341.6 L451.1,341.6 L451.8,341.6 L452.5,341.6 L453.2,341.6 L453.9,341.6 L454.7,341.6 L455.4,341.6 L456.1,341.6 L456.8,341.6 L457.5,341.6 L458.2,341.6 L458.9,341.6 L459.6,341.6 L460.3,341.6 L461.0,341.6 L461.7,341.6 L462.4,341.6 L463.1,341.6 L463.8,341.6 L464.5,341.6 L465.2,341.6 L465.9,341.6 L466.6,341.6 L467.3,341.6 L468.0,341.6 L468.7,341.6 L469.4,341.6 L470.1,341.6 L470.8,341.6 L471.5,341.6 L472.2,341.6 L472.9,341.6 L473.6,341.6 L474.3,341.6 L475.0,341.6 L475.7,341.6 L476.4,341.6 L477.1,341.6 L477.8,341.6 L478.5,341.6 L479.2,341.6 L479.9,341.6 L480.6,341.6 L481.3,341.6 L482.0,341.6 L482.7,341.6 L483.4,341.6 L484.1,341.6 L484.8,341.6 L485.5,341.6 L486.2,341.6 L486.9,341.6 L487.6,341.6 L488.3,341.6 L489.0,341.6 L489.7,341.6 L490.4,341.6 L491.1,341.6 L491.8,341.6 L492.5,341.6 L493.3,341.6 L494.0,341.6 L494.7,341.6 L495.4,341.6 L496.1,341.6 L496.8,341.6 L497.5,341.6 L498.2,341.6 L498.9,341.6 L499.6,341.6 L500.3,341.6 L501.0,341.6 L501.7,341.6 L502.4,341.6 L503.1,341.6 L503.8,341.6 L504.5,341.6 L505.2,341.6 L505.9,341.6 L506.6,341.6 L507.3,341.6 L508.0,341.6 L508.7,341.6 L509.4,341.6 L510.1,341.6 L510.8,341.6 L511.5,341.6 L512.2,341.6 L512.20,341.65 Z" fill="#e489ae" stroke="none"/>
<path d="M373.9,340.3 L374.6,340.3 L375.3,339.9 L376.0,339.7 L376.7,339.7 L377.4,339.1 L378.2,338.6 L378.9,338.0 L379.6,337.7 L380.3,337.0 L381.0,336.5 L381.7,336.1 L382.4,335.1 L383.1,335.0 L383.8,334.0 L384.5,333.8 L385.2,333.3 L385.9,332.7 L386.6,331.9 L387.3,331.4 L388.0,331.7 L388.7,331.2 L389.4,331.1 L390.1,330.9 L390.8,331.3 L391.5,331.1 L392.2,331.3 L392.9,331.2 L393.6,331.7 L394.3,331.4 L395.0,332.1 L395.7,332.4 L396.4,332.3 L397.1,332.8 L397.8,333.3 L398.5,333.3 L399.2,334.0 L399.9,333.9 L400.6,334.4 L401.3,334.7 L402.0,335.2 L402.7,335.7 L403.4,336.0 L404.1,336.4 L404.8,336.5 L405.5,337.3 L406.2,337.2 L406.9,338.0 L407.6,338.2 L408.3,338.5 L409.0,338.4 L409.7,338.9 L410.4,339.2 L411.1,339.2 L411.8,339.8 L412.5,339.9 L413.2,340.0 L413.9,340.0 L414.6,340.2 L415.3,340.4 L416.1,340.7" fill="none" stroke="#c4102a" stroke-width="1.2" stroke-linejoin="round"/>
<line x1="319.9" y1="353.8" x2="512.2" y2="353.8" stroke="#dcf5d5" stroke-width="0.7" />
<path d="M319.90,354.10 L319.9,354.1 L320.6,354.1 L321.3,354.1 L322.0,354.1 L322.7,354.1 L323.4,354.1 L324.1,354.1 L324.8,354.1 L325.5,354.1 L326.2,354.1 L326.9,354.1 L327.6,354.1 L328.3,354.1 L329.0,354.1 L329.7,354.1 L330.4,354.1 L331.1,354.1 L331.8,354.1 L332.5,354.1 L333.2,354.1 L333.9,354.1 L334.6,354.1 L335.3,354.1 L336.0,354.1 L336.7,354.1 L337.4,354.1 L338.1,354.1 L338.8,354.1 L339.6,354.1 L340.3,354.1 L341.0,354.1 L341.7,354.1 L342.4,354.1 L343.1,354.1 L343.8,354.1 L344.5,354.1 L345.2,354.1 L345.9,354.1 L346.6,354.1 L347.3,354.1 L348.0,354.1 L348.7,354.1 L349.4,354.1 L350.1,354.1 L350.8,354.1 L351.5,354.1 L352.2,354.1 L352.9,354.1 L353.6,354.1 L354.3,354.1 L355.0,354.1 L355.7,354.1 L356.4,354.1 L357.1,354.1 L357.8,354.1 L358.5,354.1 L359.2,354.1 L359.9,354.1 L360.6,354.1 L361.3,354.1 L362.0,354.1 L362.7,354.1 L363.4,354.1 L364.1,354.1 L364.8,354.1 L365.5,354.1 L366.2,354.1 L366.9,354.0 L367.6,354.0 L368.3,354.0 L369.0,354.0 L369.7,353.9 L370.4,353.9 L371.1,353.8 L371.8,353.7 L372.5,353.6 L373.2,353.4 L373.9,353.2 L374.6,353.4 L375.3,353.0 L376.0,352.5 L376.7,352.4 L377.4,352.4 L378.2,351.8 L378.9,351.2 L379.6,351.1 L380.3,350.7 L381.0,350.2 L381.7,349.4 L382.4,348.8 L383.1,348.7 L383.8,348.1 L384.5,347.5 L385.2,347.0 L385.9,346.4 L386.6,346.1 L387.3,345.6 L388.0,345.3 L388.7,344.6 L389.4,344.5 L390.1,344.8 L390.8,344.2 L391.5,344.8 L392.2,344.6 L392.9,344.4 L393.6,344.6 L394.3,344.8 L395.0,345.2 L395.7,345.6 L396.4,345.6 L397.1,346.2 L397.8,346.4 L398.5,346.7 L399.2,347.2 L399.9,347.3 L400.6,347.5 L401.3,347.9 L402.0,348.4 L402.7,348.7 L403.4,349.1 L404.1,349.7 L404.8,349.8 L405.5,350.2 L406.2,350.4 L406.9,350.6 L407.6,351.2 L408.3,351.4 L409.0,351.5 L409.7,352.0 L410.4,352.3 L411.1,352.2 L411.8,352.3 L412.5,352.6 L413.2,352.8 L413.9,352.8 L414.6,353.1 L415.3,353.2 L416.1,353.4 L416.8,353.5 L417.5,353.6 L418.2,353.7 L418.9,353.7 L419.6,353.8 L420.3,353.8 L421.0,353.9 L421.7,353.9 L422.4,353.9 L423.1,354.0 L423.8,354.0 L424.5,354.0 L425.2,354.0 L425.9,354.0 L426.6,354.1 L427.3,354.1 L428.0,354.1 L428.7,354.1 L429.4,354.1 L430.1,354.1 L430.8,354.1 L431.5,354.1 L432.2,354.1 L432.9,354.1 L433.6,354.1 L434.3,354.1 L435.0,354.1 L435.7,354.1 L436.4,354.1 L437.1,354.1 L437.8,354.1 L438.5,354.1 L439.2,354.1 L439.9,354.1 L440.6,354.1 L441.3,354.1 L442.0,354.1 L442.7,354.1 L443.4,354.1 L444.1,354.1 L444.8,354.1 L445.5,354.1 L446.2,354.1 L446.9,354.1 L447.6,354.1 L448.3,354.1 L449.0,354.1 L449.7,354.1 L450.4,354.1 L451.1,354.1 L451.8,354.1 L452.5,354.1 L453.2,354.1 L453.9,354.1 L454.7,354.1 L455.4,354.1 L456.1,354.1 L456.8,354.1 L457.5,354.1 L458.2,354.1 L458.9,354.1 L459.6,354.1 L460.3,354.1 L461.0,354.1 L461.7,354.1 L462.4,354.1 L463.1,354.1 L463.8,354.1 L464.5,354.1 L465.2,354.1 L465.9,354.1 L466.6,354.1 L467.3,354.1 L468.0,354.1 L468.7,354.1 L469.4,354.1 L470.1,354.1 L470.8,354.1 L471.5,354.1 L472.2,354.1 L472.9,354.1 L473.6,354.1 L474.3,354.1 L475.0,354.1 L475.7,354.1 L476.4,354.1 L477.1,354.1 L477.8,354.1 L478.5,354.1 L479.2,354.1 L479.9,354.1 L480.6,354.1 L481.3,354.1 L482.0,354.1 L482.7,354.1 L483.4,354.1 L484.1,354.1 L484.8,354.1 L485.5,354.1 L486.2,354.1 L486.9,354.1 L487.6,354.1 L488.3,354.1 L489.0,354.1 L489.7,354.1 L490.4,354.1 L491.1,354.1 L491.8,354.1 L492.5,354.1 L493.3,354.1 L494.0,354.1 L494.7,354.1 L495.4,354.1 L496.1,354.1 L496.8,354.1 L497.5,354.1 L498.2,354.1 L498.9,354.1 L499.6,354.1 L500.3,354.1 L501.0,354.1 L501.7,354.1 L502.4,354.1 L503.1,354.1 L503.8,354.1 L504.5,354.1 L505.2,354.1 L505.9,354.1 L506.6,354.1 L507.3,354.1 L508.0,354.1 L508.7,354.1 L509.4,354.1 L510.1,354.1 L510.8,354.1 L511.5,354.1 L512.2,354.1 L512.20,354.10 Z" fill="#8deb7b" stroke="none"/>
<path d="M374.6,353.4 L375.3,353.0 L376.0,352.5 L376.7,352.4 L377.4,352.4 L378.2,351.8 L378.9,351.2 L379.6,351.1 L380.3,350.7 L381.0,350.2 L381.7,349.4 L382.4,348.8 L383.1,348.7 L383.8,348.1 L384.5,347.5 L385.2,347.0 L385.9,346.4 L386.6,346.1 L387.3,345.6 L388.0,345.3 L388.7,344.6 L389.4,344.5 L390.1,344.8 L390.8,344.2 L391.5,344.8 L392.2,344.6 L392.9,344.4 L393.6,344.6 L394.3,344.8 L395.0,345.2 L395.7,345.6 L396.4,345.6 L397.1,346.2 L397.8,346.4 L398.5,346.7 L399.2,347.2 L399.9,347.3 L400.6,347.5 L401.3,347.9 L402.0,348.4 L402.7,348.7 L403.4,349.1 L404.1,349.7 L404.8,349.8 L405.5,350.2 L406.2,350.4 L406.9,350.6 L407.6,351.2 L408.3,351.4 L409.0,351.5 L409.7,352.0 L410.4,352.3 L411.1,352.2 L411.8,352.3 L412.5,352.6 L413.2,352.8 L413.9,352.8 L414.6,353.1" fill="none" stroke="#22b51e" stroke-width="1.2" stroke-linejoin="round"/>
<line x1="389.5" y1="304.3" x2="389.5" y2="354.1" stroke="#111" stroke-width="1.2" />
<rect x="319.4" y="304.3" width="193.3" height="49.8" fill="none" stroke="#8c8c8c" stroke-width="0.8"/>
<text x="508.8" y="313.6" font-size="8.9" text-anchor="end" fill="#222" stroke="#222" stroke-width="0.22" textLength="41.8" lengthAdjust="spacingAndGlyphs" >Control Ab</text>
<text x="508.8" y="326.05" font-size="8.9" text-anchor="end" fill="#222" stroke="#222" stroke-width="0.22" textLength="24.5" lengthAdjust="spacingAndGlyphs" >DMSO</text>
<text x="508.8" y="338.5" font-size="8.9" text-anchor="end" fill="#222" stroke="#222" stroke-width="0.22" textLength="40.8" lengthAdjust="spacingAndGlyphs" >KIN-0.5μM</text>
<text x="508.8" y="350.95000000000005" font-size="8.9" text-anchor="end" fill="#222" stroke="#222" stroke-width="0.22" textLength="40.8" lengthAdjust="spacingAndGlyphs" >KIN-0.1μM</text>
<line x1="343.5" y1="354.1" x2="343.5" y2="355.6" stroke="#888" stroke-width="0.6" />
<rect x="342.30" y="357.30" width="2.4" height="1.2" fill="#bbb"/>
<line x1="363" y1="354.1" x2="363" y2="355.6" stroke="#888" stroke-width="0.6" />
<rect x="361.80" y="357.30" width="2.4" height="1.2" fill="#bbb"/>
<line x1="390.5" y1="354.1" x2="390.5" y2="355.6" stroke="#888" stroke-width="0.6" />
<rect x="389.30" y="357.30" width="2.4" height="1.2" fill="#bbb"/>
<line x1="426.5" y1="354.1" x2="426.5" y2="355.6" stroke="#888" stroke-width="0.6" />
<rect x="425.30" y="357.30" width="2.4" height="1.2" fill="#bbb"/>
<line x1="463" y1="354.1" x2="463" y2="355.6" stroke="#888" stroke-width="0.6" />
<rect x="461.80" y="357.30" width="2.4" height="1.2" fill="#bbb"/>
<line x1="499" y1="354.1" x2="499" y2="355.6" stroke="#888" stroke-width="0.6" />
<rect x="497.80" y="357.30" width="2.4" height="1.2" fill="#bbb"/>
<rect x="321" y="354.1" width="0.6" height="1" fill="#c8c8c8"/>
<rect x="324" y="354.1" width="0.6" height="1" fill="#c8c8c8"/>
<rect x="327" y="354.1" width="0.6" height="1" fill="#c8c8c8"/>
<rect x="330" y="354.1" width="0.6" height="1" fill="#c8c8c8"/>
<rect x="333" y="354.1" width="0.6" height="1" fill="#c8c8c8"/>
<rect x="336" y="354.1" width="0.6" height="1" fill="#c8c8c8"/>
<rect x="339" y="354.1" width="0.6" height="1" fill="#c8c8c8"/>
<rect x="342" y="354.1" width="0.6" height="1" fill="#c8c8c8"/>
<rect x="345" y="354.1" width="0.6" height="1" fill="#c8c8c8"/>
<rect x="348" y="354.1" width="0.6" height="1" fill="#c8c8c8"/>
<rect x="351" y="354.1" width="0.6" height="1" fill="#c8c8c8"/>
<rect x="354" y="354.1" width="0.6" height="1" fill="#c8c8c8"/>
<rect x="357" y="354.1" width="0.6" height="1" fill="#c8c8c8"/>
<rect x="360" y="354.1" width="0.6" height="1" fill="#c8c8c8"/>
<rect x="363" y="354.1" width="0.6" height="1" fill="#c8c8c8"/>
<rect x="366" y="354.1" width="0.6" height="1" fill="#c8c8c8"/>
<rect x="369" y="354.1" width="0.6" height="1" fill="#c8c8c8"/>
<rect x="372" y="354.1" width="0.6" height="1" fill="#c8c8c8"/>
<rect x="375" y="354.1" width="0.6" height="1" fill="#c8c8c8"/>
<rect x="378" y="354.1" width="0.6" height="1" fill="#c8c8c8"/>
<rect x="381" y="354.1" width="0.6" height="1" fill="#c8c8c8"/>
<rect x="384" y="354.1" width="0.6" height="1" fill="#c8c8c8"/>
<rect x="387" y="354.1" width="0.6" height="1" fill="#c8c8c8"/>
<rect x="390" y="354.1" width="0.6" height="1" fill="#c8c8c8"/>
<rect x="393" y="354.1" width="0.6" height="1" fill="#c8c8c8"/>
<rect x="396" y="354.1" width="0.6" height="1" fill="#c8c8c8"/>
<rect x="399" y="354.1" width="0.6" height="1" fill="#c8c8c8"/>
<rect x="402" y="354.1" width="0.6" height="1" fill="#c8c8c8"/>
<rect x="405" y="354.1" width="0.6" height="1" fill="#c8c8c8"/>
<rect x="408" y="354.1" width="0.6" height="1" fill="#c8c8c8"/>
<rect x="411" y="354.1" width="0.6" height="1" fill="#c8c8c8"/>
<rect x="414" y="354.1" width="0.6" height="1" fill="#c8c8c8"/>
<rect x="417" y="354.1" width="0.6" height="1" fill="#c8c8c8"/>
<rect x="420" y="354.1" width="0.6" height="1" fill="#c8c8c8"/>
<rect x="423" y="354.1" width="0.6" height="1" fill="#c8c8c8"/>
<rect x="426" y="354.1" width="0.6" height="1" fill="#c8c8c8"/>
<rect x="429" y="354.1" width="0.6" height="1" fill="#c8c8c8"/>
<rect x="432" y="354.1" width="0.6" height="1" fill="#c8c8c8"/>
<rect x="435" y="354.1" width="0.6" height="1" fill="#c8c8c8"/>
<rect x="438" y="354.1" width="0.6" height="1" fill="#c8c8c8"/>
<rect x="441" y="354.1" width="0.6" height="1" fill="#c8c8c8"/>
<rect x="444" y="354.1" width="0.6" height="1" fill="#c8c8c8"/>
<rect x="447" y="354.1" width="0.6" height="1" fill="#c8c8c8"/>
<rect x="450" y="354.1" width="0.6" height="1" fill="#c8c8c8"/>
<rect x="453" y="354.1" width="0.6" height="1" fill="#c8c8c8"/>
<rect x="456" y="354.1" width="0.6" height="1" fill="#c8c8c8"/>
<rect x="459" y="354.1" width="0.6" height="1" fill="#c8c8c8"/>
<rect x="462" y="354.1" width="0.6" height="1" fill="#c8c8c8"/>
<rect x="465" y="354.1" width="0.6" height="1" fill="#c8c8c8"/>
<rect x="468" y="354.1" width="0.6" height="1" fill="#c8c8c8"/>
<rect x="471" y="354.1" width="0.6" height="1" fill="#c8c8c8"/>
<rect x="474" y="354.1" width="0.6" height="1" fill="#c8c8c8"/>
<rect x="477" y="354.1" width="0.6" height="1" fill="#c8c8c8"/>
<rect x="480" y="354.1" width="0.6" height="1" fill="#c8c8c8"/>
<rect x="483" y="354.1" width="0.6" height="1" fill="#c8c8c8"/>
<rect x="486" y="354.1" width="0.6" height="1" fill="#c8c8c8"/>
<rect x="489" y="354.1" width="0.6" height="1" fill="#c8c8c8"/>
<rect x="492" y="354.1" width="0.6" height="1" fill="#c8c8c8"/>
<rect x="495" y="354.1" width="0.6" height="1" fill="#c8c8c8"/>
<rect x="498" y="354.1" width="0.6" height="1" fill="#c8c8c8"/>
<rect x="501" y="354.1" width="0.6" height="1" fill="#c8c8c8"/>
<rect x="504" y="354.1" width="0.6" height="1" fill="#c8c8c8"/>
<rect x="507" y="354.1" width="0.6" height="1" fill="#c8c8c8"/>
<rect x="337.40" y="354.30" width="6" height="1.1" fill="#555"/>
<rect x="412.40" y="362.50" width="7" height="1.3" fill="#c5c5c5"/>
<line x1="41.1" y1="180" x2="41.1" y2="351.2" stroke="#222" stroke-width="1.3" />
<line x1="298.2" y1="180" x2="298.2" y2="351.4" stroke="#222" stroke-width="1.3" />
<text x="0" y="0" font-size="10.2" fill="#222" stroke="#222" stroke-width="0.2" text-anchor="middle" textLength="28.9" lengthAdjust="spacingAndGlyphs" transform="translate(38.3,266.3) rotate(-90)">BCWM.1</text>
<text x="0" y="0" font-size="9.6" fill="#222" stroke="#222" stroke-width="0.2" text-anchor="middle" textLength="28.4" lengthAdjust="spacingAndGlyphs" transform="translate(293.2,265.9) rotate(-90)">MWCL-1</text>
<text x="0" y="0" font-size="8.7" fill="#222" stroke="#222" stroke-width="0.2" text-anchor="middle" textLength="25" lengthAdjust="spacingAndGlyphs" transform="translate(53.4,204.5) rotate(-90)">Vector</text>
<g transform="translate(53.1,267.65) rotate(-90)"><text x="-13.35" y="0" font-size="8.2" fill="#222" stroke="#222" stroke-width="0.2" textLength="16.5" lengthAdjust="spacingAndGlyphs">HCK</text><text x="3.45" y="-3.8" font-size="7.1" fill="#222" stroke="#222" stroke-width="0.2" textLength="10.2" lengthAdjust="spacingAndGlyphs">WT</text></g>
<g transform="translate(52.8,329.45) rotate(-90)"><text x="-18.45" y="0" font-size="8.2" fill="#222" stroke="#222" stroke-width="0.2" textLength="16.4" lengthAdjust="spacingAndGlyphs">HCK</text><text x="-1.75" y="-3.8" font-size="7.1" fill="#222" stroke="#222" stroke-width="0.2" textLength="20.5" lengthAdjust="spacingAndGlyphs">T333M</text></g>
<text x="0" y="0" font-size="8.7" fill="#222" stroke="#222" stroke-width="0.2" text-anchor="middle" textLength="24.8" lengthAdjust="spacingAndGlyphs" transform="translate(311.8,204.5) rotate(-90)">Vector</text>
<g transform="translate(311.8,267.2) rotate(-90)"><text x="-14.40" y="0" font-size="8.2" fill="#222" stroke="#222" stroke-width="0.2" textLength="16.0" lengthAdjust="spacingAndGlyphs">HCK</text><text x="1.90" y="-3.8" font-size="7.1" fill="#222" stroke="#222" stroke-width="0.2" textLength="12.8" lengthAdjust="spacingAndGlyphs">WT</text></g>
<g transform="translate(311.8,329.8) rotate(-90)"><text x="-21.10" y="0" font-size="8.2" fill="#222" stroke="#222" stroke-width="0.2" textLength="17.0" lengthAdjust="spacingAndGlyphs">HCK</text><text x="-3.80" y="-3.8" font-size="7.1" fill="#222" stroke="#222" stroke-width="0.2" textLength="25.2" lengthAdjust="spacingAndGlyphs">T333M</text></g>
<line x1="58.7" y1="366.3" x2="248.3" y2="366.3" stroke="#111" stroke-width="1.3" />
<path d="M253.30,366.3 L245.80,362.9 L247.30,366.3 L245.80,369.7 Z" fill="#111"/>
<line x1="319.0" y1="366.3" x2="507.29999999999995" y2="366.3" stroke="#111" stroke-width="1.3" />
<path d="M512.30,366.3 L504.80,362.9 L506.30,366.3 L504.80,369.7 Z" fill="#111"/>
<text x="144.9" y="378.3" font-size="9.3" text-anchor="start" fill="#222" stroke="#222" stroke-width="0.22" textLength="22.1" lengthAdjust="spacingAndGlyphs" >p-HCK</text>
<text x="404.6" y="378.3" font-size="9.3" text-anchor="start" fill="#222" stroke="#222" stroke-width="0.22" textLength="21.6" lengthAdjust="spacingAndGlyphs" >p-HCK</text>
<defs><filter id="bl" x="-20%" y="-100%" width="140%" height="300%"><feGaussianBlur stdDeviation="0.55"/></filter><filter id="bh" x="-20%" y="-200%" width="140%" height="500%"><feGaussianBlur stdDeviation="1.3"/></filter></defs>
<rect x="58.5" y="445.8" width="72.30" height="14.30" fill="#f0f0f0" stroke="none"/>
<g filter="url(#bh)"><path d="M62.7,454.30 L62.9,453.67 L63.3,453.26 L63.7,452.93 L64.3,452.66 L64.9,452.45 L65.6,452.29 L66.4,452.19 L67.2,452.15 L70.7,452.15 L74.1,452.15 L77.5,452.15 L81.0,452.15 L81.8,452.19 L82.6,452.29 L83.3,452.45 L83.9,452.66 L84.5,452.93 L84.9,453.26 L85.3,453.67 L85.5,454.30 L85.5,454.30 L85.3,454.93 L84.9,455.34 L84.5,455.67 L83.9,455.94 L83.3,456.15 L82.6,456.31 L81.8,456.41 L81.0,456.45 L77.5,456.45 L74.1,456.45 L70.7,456.45 L67.2,456.45 L66.4,456.41 L65.6,456.31 L64.9,456.15 L64.3,455.94 L63.7,455.67 L63.3,455.34 L62.9,454.93 L62.7,454.30Z" fill="#000" opacity="0.20" transform="translate(0,454.30) scale(1,1.9) translate(0,-454.30)"/><path d="M110.0,455.00 L110.2,454.69 L110.5,454.49 L110.9,454.33 L111.3,454.20 L111.8,454.09 L112.4,454.02 L113.1,453.97 L113.7,453.95 L116.1,453.95 L118.5,453.95 L120.9,453.95 L123.3,453.95 L123.9,453.97 L124.6,454.02 L125.2,454.09 L125.7,454.20 L126.1,454.33 L126.5,454.49 L126.8,454.69 L127.0,455.00 L127.0,455.00 L126.8,455.31 L126.5,455.51 L126.1,455.67 L125.7,455.80 L125.2,455.91 L124.6,455.98 L123.9,456.03 L123.3,456.05 L120.9,456.05 L118.5,456.05 L116.1,456.05 L113.7,456.05 L113.1,456.03 L112.4,455.98 L111.8,455.91 L111.3,455.80 L110.9,455.67 L110.5,455.51 L110.2,455.31 L110.0,455.00Z" fill="#000" opacity="0.03" transform="translate(0,455.00) scale(1,1.9) translate(0,-455.00)"/></g>
<g filter="url(#bl)">
<path d="M62.7,454.30 L62.9,453.67 L63.3,453.26 L63.7,452.93 L64.3,452.66 L64.9,452.45 L65.6,452.29 L66.4,452.19 L67.2,452.15 L70.7,452.15 L74.1,452.15 L77.5,452.15 L81.0,452.15 L81.8,452.19 L82.6,452.29 L83.3,452.45 L83.9,452.66 L84.5,452.93 L84.9,453.26 L85.3,453.67 L85.5,454.30 L85.5,454.30 L85.3,454.93 L84.9,455.34 L84.5,455.67 L83.9,455.94 L83.3,456.15 L82.6,456.31 L81.8,456.41 L81.0,456.45 L77.5,456.45 L74.1,456.45 L70.7,456.45 L67.2,456.45 L66.4,456.41 L65.6,456.31 L64.9,456.15 L64.3,455.94 L63.7,455.67 L63.3,455.34 L62.9,454.93 L62.7,454.30Z" fill="#080808"/>
<path d="M110.0,455.00 L110.2,454.69 L110.5,454.49 L110.9,454.33 L111.3,454.20 L111.8,454.09 L112.4,454.02 L113.1,453.97 L113.7,453.95 L116.1,453.95 L118.5,453.95 L120.9,453.95 L123.3,453.95 L123.9,453.97 L124.6,454.02 L125.2,454.09 L125.7,454.20 L126.1,454.33 L126.5,454.49 L126.8,454.69 L127.0,455.00 L127.0,455.00 L126.8,455.31 L126.5,455.51 L126.1,455.67 L125.7,455.80 L125.2,455.91 L124.6,455.98 L123.9,456.03 L123.3,456.05 L120.9,456.05 L118.5,456.05 L116.1,456.05 L113.7,456.05 L113.1,456.03 L112.4,455.98 L111.8,455.91 L111.3,455.80 L110.9,455.67 L110.5,455.51 L110.2,455.31 L110.0,455.00Z" fill="#bababa"/>
</g>
<rect x="59.0" y="446.3" width="71.30" height="13.70" rx="0" fill="none" stroke="#141414" stroke-width="1.1"/>
<rect x="58.5" y="461.90000000000003" width="72.30" height="14.60" fill="#f0f0f0" stroke="none"/>
<g filter="url(#bh)"><path d="M59.1,468.25 L59.7,468.25 L60.2,468.25 L60.8,468.25 L61.4,468.25 L61.9,468.25 L62.5,468.25 L63.0,468.25 L63.6,468.25 L67.5,468.25 L71.3,468.25 L75.2,468.25 L79.0,468.25 L79.8,468.29 L80.6,468.39 L81.3,468.56 L81.9,468.78 L82.5,469.07 L82.9,469.41 L83.3,469.84 L83.5,470.50 L83.5,470.50 L83.3,471.16 L82.9,471.59 L82.5,471.93 L81.9,472.22 L81.3,472.44 L80.6,472.61 L79.8,472.71 L79.0,472.75 L75.2,472.75 L71.3,472.75 L67.5,472.75 L63.6,472.75 L63.0,472.75 L62.5,472.75 L61.9,472.75 L61.4,472.75 L60.8,472.75 L60.2,472.75 L59.7,472.75 L59.1,472.75Z" fill="#000" opacity="0.19" transform="translate(0,470.50) scale(1,1.9) translate(0,-470.50)"/><path d="M85.8,471.20 L86.0,470.54 L86.4,470.11 L86.8,469.77 L87.4,469.48 L88.0,469.26 L88.7,469.09 L89.5,468.99 L90.3,468.95 L93.4,468.95 L96.5,468.95 L99.7,468.95 L102.8,468.95 L103.6,468.99 L104.4,469.09 L105.1,469.26 L105.7,469.48 L106.3,469.77 L106.7,470.11 L107.1,470.54 L107.3,471.20 L107.3,471.20 L107.1,471.86 L106.7,472.29 L106.3,472.63 L105.7,472.92 L105.1,473.14 L104.4,473.31 L103.6,473.41 L102.8,473.45 L99.7,473.45 L96.5,473.45 L93.4,473.45 L90.3,473.45 L89.5,473.41 L88.7,473.31 L88.0,473.14 L87.4,472.92 L86.8,472.63 L86.4,472.29 L86.0,471.86 L85.8,471.20Z" fill="#000" opacity="0.20" transform="translate(0,471.20) scale(1,1.9) translate(0,-471.20)"/><path d="M108.0,471.20 L108.2,470.54 L108.6,470.11 L109.0,469.77 L109.6,469.48 L110.2,469.26 L110.9,469.09 L111.7,468.99 L112.5,468.95 L115.8,468.95 L119.1,468.95 L122.4,468.95 L125.7,468.95 L126.3,468.95 L126.8,468.95 L127.4,468.95 L128.0,468.95 L128.5,468.95 L129.1,468.95 L129.6,468.95 L130.2,468.95 L130.2,473.45 L129.6,473.45 L129.1,473.45 L128.5,473.45 L128.0,473.45 L127.4,473.45 L126.8,473.45 L126.3,473.45 L125.7,473.45 L122.4,473.45 L119.1,473.45 L115.8,473.45 L112.5,473.45 L111.7,473.41 L110.9,473.31 L110.2,473.14 L109.6,472.92 L109.0,472.63 L108.6,472.29 L108.2,471.86 L108.0,471.20Z" fill="#000" opacity="0.20" transform="translate(0,471.20) scale(1,1.9) translate(0,-471.20)"/></g>
<g filter="url(#bl)">
<path d="M59.1,468.25 L59.7,468.25 L60.2,468.25 L60.8,468.25 L61.4,468.25 L61.9,468.25 L62.5,468.25 L63.0,468.25 L63.6,468.25 L67.5,468.25 L71.3,468.25 L75.2,468.25 L79.0,468.25 L79.8,468.29 L80.6,468.39 L81.3,468.56 L81.9,468.78 L82.5,469.07 L82.9,469.41 L83.3,469.84 L83.5,470.50 L83.5,470.50 L83.3,471.16 L82.9,471.59 L82.5,471.93 L81.9,472.22 L81.3,472.44 L80.6,472.61 L79.8,472.71 L79.0,472.75 L75.2,472.75 L71.3,472.75 L67.5,472.75 L63.6,472.75 L63.0,472.75 L62.5,472.75 L61.9,472.75 L61.4,472.75 L60.8,472.75 L60.2,472.75 L59.7,472.75 L59.1,472.75Z" fill="#141414"/>
<path d="M85.8,471.20 L86.0,470.54 L86.4,470.11 L86.8,469.77 L87.4,469.48 L88.0,469.26 L88.7,469.09 L89.5,468.99 L90.3,468.95 L93.4,468.95 L96.5,468.95 L99.7,468.95 L102.8,468.95 L103.6,468.99 L104.4,469.09 L105.1,469.26 L105.7,469.48 L106.3,469.77 L106.7,470.11 L107.1,470.54 L107.3,471.20 L107.3,471.20 L107.1,471.86 L106.7,472.29 L106.3,472.63 L105.7,472.92 L105.1,473.14 L104.4,473.31 L103.6,473.41 L102.8,473.45 L99.7,473.45 L96.5,473.45 L93.4,473.45 L90.3,473.45 L89.5,473.41 L88.7,473.31 L88.0,473.14 L87.4,472.92 L86.8,472.63 L86.4,472.29 L86.0,471.86 L85.8,471.20Z" fill="#080808"/>
<path d="M108.0,471.20 L108.2,470.54 L108.6,470.11 L109.0,469.77 L109.6,469.48 L110.2,469.26 L110.9,469.09 L111.7,468.99 L112.5,468.95 L115.8,468.95 L119.1,468.95 L122.4,468.95 L125.7,468.95 L126.3,468.95 L126.8,468.95 L127.4,468.95 L128.0,468.95 L128.5,468.95 L129.1,468.95 L129.6,468.95 L130.2,468.95 L130.2,473.45 L129.6,473.45 L129.1,473.45 L128.5,473.45 L128.0,473.45 L127.4,473.45 L126.8,473.45 L126.3,473.45 L125.7,473.45 L122.4,473.45 L119.1,473.45 L115.8,473.45 L112.5,473.45 L111.7,473.41 L110.9,473.31 L110.2,473.14 L109.6,472.92 L109.0,472.63 L108.6,472.29 L108.2,471.86 L108.0,471.20Z" fill="#080808"/>
</g>
<rect x="59.0" y="462.40000000000003" width="71.30" height="14.00" rx="0" fill="none" stroke="#141414" stroke-width="1.1"/>
<rect x="58.5" y="481.90000000000003" width="72.30" height="14.70" fill="#f0f0f0" stroke="none"/>
<g filter="url(#bh)"><path d="M59.1,488.45 L59.7,488.45 L60.2,488.45 L60.8,488.45 L61.4,488.45 L61.9,488.45 L62.5,488.45 L63.0,488.45 L63.6,488.45 L67.2,488.45 L70.8,488.45 L74.3,488.45 L77.9,488.45 L78.7,488.50 L79.5,488.62 L80.2,488.83 L80.8,489.10 L81.4,489.45 L81.8,489.87 L82.2,490.39 L82.4,491.20 L82.4,491.20 L82.2,492.01 L81.8,492.53 L81.4,492.95 L80.8,493.30 L80.2,493.57 L79.5,493.78 L78.7,493.90 L77.9,493.95 L74.3,493.95 L70.8,493.95 L67.2,493.95 L63.6,493.95 L63.0,493.95 L62.5,493.95 L61.9,493.95 L61.4,493.95 L60.8,493.95 L60.2,493.95 L59.7,493.95 L59.1,493.95Z" fill="#000" opacity="0.20" transform="translate(0,491.20) scale(1,1.9) translate(0,-491.20)"/><path d="M107.3,490.80 L107.5,490.40 L107.8,490.15 L108.3,489.94 L108.8,489.77 L109.4,489.64 L110.0,489.54 L110.8,489.47 L111.5,489.45 L114.2,489.45 L116.9,489.45 L119.6,489.45 L122.3,489.45 L123.0,489.47 L123.8,489.54 L124.4,489.64 L125.0,489.77 L125.5,489.94 L126.0,490.15 L126.3,490.40 L126.5,490.80 L126.5,490.80 L126.3,491.20 L126.0,491.45 L125.5,491.66 L125.0,491.83 L124.4,491.96 L123.8,492.06 L123.0,492.13 L122.3,492.15 L119.6,492.15 L116.9,492.15 L114.2,492.15 L111.5,492.15 L110.8,492.13 L110.0,492.06 L109.4,491.96 L108.8,491.83 L108.3,491.66 L107.8,491.45 L107.5,491.20 L107.3,490.80Z" fill="#000" opacity="0.04" transform="translate(0,490.80) scale(1,1.9) translate(0,-490.80)"/></g>
<g filter="url(#bl)">
<path d="M59.1,488.45 L59.7,488.45 L60.2,488.45 L60.8,488.45 L61.4,488.45 L61.9,488.45 L62.5,488.45 L63.0,488.45 L63.6,488.45 L67.2,488.45 L70.8,488.45 L74.3,488.45 L77.9,488.45 L78.7,488.50 L79.5,488.62 L80.2,488.83 L80.8,489.10 L81.4,489.45 L81.8,489.87 L82.2,490.39 L82.4,491.20 L82.4,491.20 L82.2,492.01 L81.8,492.53 L81.4,492.95 L80.8,493.30 L80.2,493.57 L79.5,493.78 L78.7,493.90 L77.9,493.95 L74.3,493.95 L70.8,493.95 L67.2,493.95 L63.6,493.95 L63.0,493.95 L62.5,493.95 L61.9,493.95 L61.4,493.95 L60.8,493.95 L60.2,493.95 L59.7,493.95 L59.1,493.95Z" fill="#080808"/>
<path d="M107.3,490.80 L107.5,490.40 L107.8,490.15 L108.3,489.94 L108.8,489.77 L109.4,489.64 L110.0,489.54 L110.8,489.47 L111.5,489.45 L114.2,489.45 L116.9,489.45 L119.6,489.45 L122.3,489.45 L123.0,489.47 L123.8,489.54 L124.4,489.64 L125.0,489.77 L125.5,489.94 L126.0,490.15 L126.3,490.40 L126.5,490.80 L126.5,490.80 L126.3,491.20 L126.0,491.45 L125.5,491.66 L125.0,491.83 L124.4,491.96 L123.8,492.06 L123.0,492.13 L122.3,492.15 L119.6,492.15 L116.9,492.15 L114.2,492.15 L111.5,492.15 L110.8,492.13 L110.0,492.06 L109.4,491.96 L108.8,491.83 L108.3,491.66 L107.8,491.45 L107.5,491.20 L107.3,490.80Z" fill="#b4b4b4"/>
</g>
<rect x="59.0" y="482.40000000000003" width="71.30" height="14.10" rx="0" fill="none" stroke="#141414" stroke-width="1.1"/>
<rect x="58.5" y="498.0" width="72.30" height="14.80" fill="#f0f0f0" stroke="none"/>
<g filter="url(#bh)"><path d="M61.2,507.00 L61.4,506.19 L61.8,505.67 L62.2,505.25 L62.8,504.90 L63.4,504.63 L64.1,504.42 L64.9,504.30 L65.7,504.25 L68.8,504.25 L72.0,504.25 L75.1,504.25 L78.2,504.25 L79.0,504.30 L79.8,504.42 L80.5,504.63 L81.1,504.90 L81.7,505.25 L82.1,505.67 L82.5,506.19 L82.7,507.00 L82.7,507.00 L82.5,507.81 L82.1,508.33 L81.7,508.75 L81.1,509.10 L80.5,509.37 L79.8,509.58 L79.0,509.70 L78.2,509.75 L75.1,509.75 L72.0,509.75 L68.8,509.75 L65.7,509.75 L64.9,509.70 L64.1,509.58 L63.4,509.37 L62.8,509.10 L62.2,508.75 L61.8,508.33 L61.4,507.81 L61.2,507.00Z" fill="#000" opacity="0.20" transform="translate(0,507.00) scale(1,1.9) translate(0,-507.00)"/><path d="M85.0,507.60 L85.2,507.23 L85.5,506.99 L86.0,506.80 L86.6,506.65 L87.2,506.52 L87.9,506.43 L88.6,506.37 L89.4,506.35 L92.2,506.35 L95.0,506.35 L97.8,506.35 L100.6,506.35 L101.4,506.37 L102.1,506.43 L102.8,506.52 L103.4,506.65 L104.0,506.80 L104.5,506.99 L104.8,507.23 L105.0,507.60 L105.0,507.60 L104.8,507.97 L104.5,508.21 L104.0,508.40 L103.4,508.55 L102.8,508.68 L102.1,508.77 L101.4,508.83 L100.6,508.85 L97.8,508.85 L95.0,508.85 L92.2,508.85 L89.4,508.85 L88.6,508.83 L87.9,508.77 L87.2,508.68 L86.6,508.55 L86.0,508.40 L85.5,508.21 L85.2,507.97 L85.0,507.60Z" fill="#000" opacity="0.19" transform="translate(0,507.60) scale(1,1.9) translate(0,-507.60)"/><path d="M106.5,507.30 L106.7,506.86 L107.0,506.57 L107.5,506.34 L108.1,506.16 L108.7,506.01 L109.4,505.90 L110.1,505.82 L110.9,505.80 L113.7,505.80 L116.5,505.80 L119.3,505.80 L122.1,505.80 L122.9,505.82 L123.6,505.90 L124.3,506.01 L124.9,506.16 L125.5,506.34 L126.0,506.57 L126.3,506.86 L126.5,507.30 L126.5,507.30 L126.3,507.74 L126.0,508.03 L125.5,508.26 L124.9,508.44 L124.3,508.59 L123.6,508.70 L122.9,508.78 L122.1,508.80 L119.3,508.80 L116.5,508.80 L113.7,508.80 L110.9,508.80 L110.1,508.78 L109.4,508.70 L108.7,508.59 L108.1,508.44 L107.5,508.26 L107.0,508.03 L106.7,507.74 L106.5,507.30Z" fill="#000" opacity="0.19" transform="translate(0,507.30) scale(1,1.9) translate(0,-507.30)"/></g>
<g filter="url(#bl)">
<path d="M61.2,507.00 L61.4,506.19 L61.8,505.67 L62.2,505.25 L62.8,504.90 L63.4,504.63 L64.1,504.42 L64.9,504.30 L65.7,504.25 L68.8,504.25 L72.0,504.25 L75.1,504.25 L78.2,504.25 L79.0,504.30 L79.8,504.42 L80.5,504.63 L81.1,504.90 L81.7,505.25 L82.1,505.67 L82.5,506.19 L82.7,507.00 L82.7,507.00 L82.5,507.81 L82.1,508.33 L81.7,508.75 L81.1,509.10 L80.5,509.37 L79.8,509.58 L79.0,509.70 L78.2,509.75 L75.1,509.75 L72.0,509.75 L68.8,509.75 L65.7,509.75 L64.9,509.70 L64.1,509.58 L63.4,509.37 L62.8,509.10 L62.2,508.75 L61.8,508.33 L61.4,507.81 L61.2,507.00Z" fill="#080808"/>
<path d="M85.0,507.60 L85.2,507.23 L85.5,506.99 L86.0,506.80 L86.6,506.65 L87.2,506.52 L87.9,506.43 L88.6,506.37 L89.4,506.35 L92.2,506.35 L95.0,506.35 L97.8,506.35 L100.6,506.35 L101.4,506.37 L102.1,506.43 L102.8,506.52 L103.4,506.65 L104.0,506.80 L104.5,506.99 L104.8,507.23 L105.0,507.60 L105.0,507.60 L104.8,507.97 L104.5,508.21 L104.0,508.40 L103.4,508.55 L102.8,508.68 L102.1,508.77 L101.4,508.83 L100.6,508.85 L97.8,508.85 L95.0,508.85 L92.2,508.85 L89.4,508.85 L88.6,508.83 L87.9,508.77 L87.2,508.68 L86.6,508.55 L86.0,508.40 L85.5,508.21 L85.2,507.97 L85.0,507.60Z" fill="#141414"/>
<path d="M106.5,507.30 L106.7,506.86 L107.0,506.57 L107.5,506.34 L108.1,506.16 L108.7,506.01 L109.4,505.90 L110.1,505.82 L110.9,505.80 L113.7,505.80 L116.5,505.80 L119.3,505.80 L122.1,505.80 L122.9,505.82 L123.6,505.90 L124.3,506.01 L124.9,506.16 L125.5,506.34 L126.0,506.57 L126.3,506.86 L126.5,507.30 L126.5,507.30 L126.3,507.74 L126.0,508.03 L125.5,508.26 L124.9,508.44 L124.3,508.59 L123.6,508.70 L122.9,508.78 L122.1,508.80 L119.3,508.80 L116.5,508.80 L113.7,508.80 L110.9,508.80 L110.1,508.78 L109.4,508.70 L108.7,508.59 L108.1,508.44 L107.5,508.26 L107.0,508.03 L106.7,507.74 L106.5,507.30Z" fill="#141414"/>
</g>
<rect x="59.0" y="498.5" width="71.30" height="14.20" rx="0" fill="none" stroke="#141414" stroke-width="1.1"/>
<rect x="58.5" y="518.4" width="72.30" height="13.90" fill="#f0f0f0" stroke="none"/>
<g filter="url(#bh)"><path d="M61.0,526.50 L61.2,525.91 L61.6,525.53 L62.0,525.22 L62.6,524.97 L63.2,524.77 L63.9,524.63 L64.7,524.53 L65.5,524.50 L69.0,524.50 L72.5,524.50 L76.0,524.50 L79.5,524.50 L80.3,524.53 L81.1,524.63 L81.8,524.77 L82.4,524.97 L83.0,525.22 L83.4,525.53 L83.8,525.91 L84.0,526.50 L84.0,526.50 L83.8,527.09 L83.4,527.47 L83.0,527.78 L82.4,528.03 L81.8,528.23 L81.1,528.37 L80.3,528.47 L79.5,528.50 L76.0,528.50 L72.5,528.50 L69.0,528.50 L65.5,528.50 L64.7,528.47 L63.9,528.37 L63.2,528.23 L62.6,528.03 L62.0,527.78 L61.6,527.47 L61.2,527.09 L61.0,526.50Z" fill="#000" opacity="0.20" transform="translate(0,526.50) scale(1,1.9) translate(0,-526.50)"/><path d="M110.4,527.60 L110.6,527.23 L110.9,526.99 L111.3,526.80 L111.7,526.65 L112.2,526.52 L112.8,526.43 L113.4,526.37 L114.1,526.35 L116.5,526.35 L118.9,526.35 L121.2,526.35 L123.6,526.35 L124.3,526.37 L124.9,526.43 L125.5,526.52 L126.0,526.65 L126.4,526.80 L126.8,526.99 L127.1,527.23 L127.3,527.60 L127.3,527.60 L127.1,527.97 L126.8,528.21 L126.4,528.40 L126.0,528.55 L125.5,528.68 L124.9,528.77 L124.3,528.83 L123.6,528.85 L121.2,528.85 L118.9,528.85 L116.5,528.85 L114.1,528.85 L113.4,528.83 L112.8,528.77 L112.2,528.68 L111.7,528.55 L111.3,528.40 L110.9,528.21 L110.6,527.97 L110.4,527.60Z" fill="#000" opacity="0.16" transform="translate(0,527.60) scale(1,1.9) translate(0,-527.60)"/></g>
<g filter="url(#bl)">
<path d="M61.0,526.50 L61.2,525.91 L61.6,525.53 L62.0,525.22 L62.6,524.97 L63.2,524.77 L63.9,524.63 L64.7,524.53 L65.5,524.50 L69.0,524.50 L72.5,524.50 L76.0,524.50 L79.5,524.50 L80.3,524.53 L81.1,524.63 L81.8,524.77 L82.4,524.97 L83.0,525.22 L83.4,525.53 L83.8,525.91 L84.0,526.50 L84.0,526.50 L83.8,527.09 L83.4,527.47 L83.0,527.78 L82.4,528.03 L81.8,528.23 L81.1,528.37 L80.3,528.47 L79.5,528.50 L76.0,528.50 L72.5,528.50 L69.0,528.50 L65.5,528.50 L64.7,528.47 L63.9,528.37 L63.2,528.23 L62.6,528.03 L62.0,527.78 L61.6,527.47 L61.2,527.09 L61.0,526.50Z" fill="#080808"/>
<path d="M110.4,527.60 L110.6,527.23 L110.9,526.99 L111.3,526.80 L111.7,526.65 L112.2,526.52 L112.8,526.43 L113.4,526.37 L114.1,526.35 L116.5,526.35 L118.9,526.35 L121.2,526.35 L123.6,526.35 L124.3,526.37 L124.9,526.43 L125.5,526.52 L126.0,526.65 L126.4,526.80 L126.8,526.99 L127.1,527.23 L127.3,527.60 L127.3,527.60 L127.1,527.97 L126.8,528.21 L126.4,528.40 L126.0,528.55 L125.5,528.68 L124.9,528.77 L124.3,528.83 L123.6,528.85 L121.2,528.85 L118.9,528.85 L116.5,528.85 L114.1,528.85 L113.4,528.83 L112.8,528.77 L112.2,528.68 L111.7,528.55 L111.3,528.40 L110.9,528.21 L110.6,527.97 L110.4,527.60Z" fill="#333333"/>
</g>
<rect x="59.0" y="518.9" width="71.30" height="13.30" rx="0" fill="none" stroke="#141414" stroke-width="1.1"/>
<rect x="58.5" y="534.9" width="72.30" height="14.00" fill="#f0f0f0" stroke="none"/>
<g filter="url(#bh)"><path d="M59.1,541.45 L59.7,541.45 L60.2,541.45 L60.8,541.45 L61.4,541.45 L61.9,541.45 L62.5,541.45 L63.0,541.45 L63.6,541.45 L67.2,541.45 L70.9,541.45 L74.5,541.45 L78.2,541.45 L79.0,541.47 L79.8,541.53 L80.5,541.62 L81.1,541.75 L81.7,541.90 L82.1,542.09 L82.5,542.33 L82.7,542.70 L82.7,542.70 L82.5,543.07 L82.1,543.31 L81.7,543.50 L81.1,543.65 L80.5,543.78 L79.8,543.87 L79.0,543.93 L78.2,543.95 L74.5,543.95 L70.9,543.95 L67.2,543.95 L63.6,543.95 L63.0,543.95 L62.5,543.95 L61.9,543.95 L61.4,543.95 L60.8,543.95 L60.2,543.95 L59.7,543.95 L59.1,543.95Z" fill="#000" opacity="0.18" transform="translate(0,542.70) scale(1,1.9) translate(0,-542.70)"/><path d="M84.2,542.40 L84.4,541.74 L84.8,541.31 L85.2,540.97 L85.8,540.68 L86.4,540.46 L87.1,540.29 L87.9,540.19 L88.7,540.15 L92.4,540.15 L96.1,540.15 L99.8,540.15 L103.5,540.15 L104.3,540.19 L105.1,540.29 L105.8,540.46 L106.4,540.68 L107.0,540.97 L107.4,541.31 L107.8,541.74 L108.0,542.40 L108.0,542.40 L107.8,543.06 L107.4,543.49 L107.0,543.83 L106.4,544.12 L105.8,544.34 L105.1,544.51 L104.3,544.61 L103.5,544.65 L99.8,544.65 L96.1,544.65 L92.4,544.65 L88.7,544.65 L87.9,544.61 L87.1,544.51 L86.4,544.34 L85.8,544.12 L85.2,543.83 L84.8,543.49 L84.4,543.06 L84.2,542.40Z" fill="#000" opacity="0.20" transform="translate(0,542.40) scale(1,1.9) translate(0,-542.40)"/><path d="M108.0,543.00 L108.2,542.34 L108.6,541.91 L109.0,541.57 L109.6,541.28 L110.2,541.06 L110.9,540.89 L111.7,540.79 L112.5,540.75 L115.8,540.75 L119.1,540.75 L122.4,540.75 L125.7,540.75 L126.3,540.75 L126.8,540.75 L127.4,540.75 L128.0,540.75 L128.5,540.75 L129.1,540.75 L129.6,540.75 L130.2,540.75 L130.2,545.25 L129.6,545.25 L129.1,545.25 L128.5,545.25 L128.0,545.25 L127.4,545.25 L126.8,545.25 L126.3,545.25 L125.7,545.25 L122.4,545.25 L119.1,545.25 L115.8,545.25 L112.5,545.25 L111.7,545.21 L110.9,545.11 L110.2,544.94 L109.6,544.72 L109.0,544.43 L108.6,544.09 L108.2,543.66 L108.0,543.00Z" fill="#000" opacity="0.20" transform="translate(0,543.00) scale(1,1.9) translate(0,-543.00)"/></g>
<g filter="url(#bl)">
<path d="M59.1,541.45 L59.7,541.45 L60.2,541.45 L60.8,541.45 L61.4,541.45 L61.9,541.45 L62.5,541.45 L63.0,541.45 L63.6,541.45 L67.2,541.45 L70.9,541.45 L74.5,541.45 L78.2,541.45 L79.0,541.47 L79.8,541.53 L80.5,541.62 L81.1,541.75 L81.7,541.90 L82.1,542.09 L82.5,542.33 L82.7,542.70 L82.7,542.70 L82.5,543.07 L82.1,543.31 L81.7,543.50 L81.1,543.65 L80.5,543.78 L79.8,543.87 L79.0,543.93 L78.2,543.95 L74.5,543.95 L70.9,543.95 L67.2,543.95 L63.6,543.95 L63.0,543.95 L62.5,543.95 L61.9,543.95 L61.4,543.95 L60.8,543.95 L60.2,543.95 L59.7,543.95 L59.1,543.95Z" fill="#1f1f1f"/>
<path d="M84.2,542.40 L84.4,541.74 L84.8,541.31 L85.2,540.97 L85.8,540.68 L86.4,540.46 L87.1,540.29 L87.9,540.19 L88.7,540.15 L92.4,540.15 L96.1,540.15 L99.8,540.15 L103.5,540.15 L104.3,540.19 L105.1,540.29 L105.8,540.46 L106.4,540.68 L107.0,540.97 L107.4,541.31 L107.8,541.74 L108.0,542.40 L108.0,542.40 L107.8,543.06 L107.4,543.49 L107.0,543.83 L106.4,544.12 L105.8,544.34 L105.1,544.51 L104.3,544.61 L103.5,544.65 L99.8,544.65 L96.1,544.65 L92.4,544.65 L88.7,544.65 L87.9,544.61 L87.1,544.51 L86.4,544.34 L85.8,544.12 L85.2,543.83 L84.8,543.49 L84.4,543.06 L84.2,542.40Z" fill="#080808"/>
<path d="M108.0,543.00 L108.2,542.34 L108.6,541.91 L109.0,541.57 L109.6,541.28 L110.2,541.06 L110.9,540.89 L111.7,540.79 L112.5,540.75 L115.8,540.75 L119.1,540.75 L122.4,540.75 L125.7,540.75 L126.3,540.75 L126.8,540.75 L127.4,540.75 L128.0,540.75 L128.5,540.75 L129.1,540.75 L129.6,540.75 L130.2,540.75 L130.2,545.25 L129.6,545.25 L129.1,545.25 L128.5,545.25 L128.0,545.25 L127.4,545.25 L126.8,545.25 L126.3,545.25 L125.7,545.25 L122.4,545.25 L119.1,545.25 L115.8,545.25 L112.5,545.25 L111.7,545.21 L110.9,545.11 L110.2,544.94 L109.6,544.72 L109.0,544.43 L108.6,544.09 L108.2,543.66 L108.0,543.00Z" fill="#080808"/>
</g>
<rect x="59.0" y="535.4" width="71.30" height="13.40" rx="0" fill="none" stroke="#141414" stroke-width="1.1"/>
<rect x="58.5" y="555.0" width="72.30" height="14.30" fill="#f0f0f0" stroke="none"/>
<g filter="url(#bh)"><path d="M62.0,562.30 L62.2,561.93 L62.6,561.69 L63.0,561.50 L63.6,561.35 L64.2,561.22 L64.9,561.13 L65.7,561.07 L66.5,561.05 L69.6,561.05 L72.8,561.05 L75.9,561.05 L79.0,561.05 L79.8,561.07 L80.6,561.13 L81.3,561.22 L81.9,561.35 L82.5,561.50 L82.9,561.69 L83.3,561.93 L83.5,562.30 L83.5,562.30 L83.3,562.67 L82.9,562.91 L82.5,563.10 L81.9,563.25 L81.3,563.38 L80.6,563.47 L79.8,563.53 L79.0,563.55 L75.9,563.55 L72.8,563.55 L69.6,563.55 L66.5,563.55 L65.7,563.53 L64.9,563.47 L64.2,563.38 L63.6,563.25 L63.0,563.10 L62.6,562.91 L62.2,562.67 L62.0,562.30Z" fill="#000" opacity="0.19" transform="translate(0,562.30) scale(1,1.9) translate(0,-562.30)"/><path d="M62.0,565.40 L62.2,565.03 L62.6,564.79 L63.0,564.60 L63.6,564.45 L64.2,564.32 L64.9,564.23 L65.7,564.17 L66.5,564.15 L69.6,564.15 L72.8,564.15 L75.9,564.15 L79.0,564.15 L79.8,564.17 L80.6,564.23 L81.3,564.32 L81.9,564.45 L82.5,564.60 L82.9,564.79 L83.3,565.03 L83.5,565.40 L83.5,565.40 L83.3,565.77 L82.9,566.01 L82.5,566.20 L81.9,566.35 L81.3,566.48 L80.6,566.57 L79.8,566.63 L79.0,566.65 L75.9,566.65 L72.8,566.65 L69.6,566.65 L66.5,566.65 L65.7,566.63 L64.9,566.57 L64.2,566.48 L63.6,566.35 L63.0,566.20 L62.6,566.01 L62.2,565.77 L62.0,565.40Z" fill="#000" opacity="0.19" transform="translate(0,565.40) scale(1,1.9) translate(0,-565.40)"/><path d="M107.3,562.30 L107.5,562.05 L107.8,561.89 L108.2,561.76 L108.7,561.65 L109.3,561.57 L109.9,561.50 L110.6,561.46 L111.4,561.45 L114.0,561.45 L116.6,561.45 L119.1,561.45 L121.7,561.45 L122.5,561.46 L123.2,561.50 L123.8,561.57 L124.4,561.65 L124.9,561.76 L125.3,561.89 L125.6,562.05 L125.8,562.30 L125.8,562.30 L125.6,562.55 L125.3,562.71 L124.9,562.84 L124.4,562.95 L123.8,563.03 L123.2,563.10 L122.5,563.14 L121.7,563.15 L119.1,563.15 L116.6,563.15 L114.0,563.15 L111.4,563.15 L110.6,563.14 L109.9,563.10 L109.3,563.03 L108.7,562.95 L108.2,562.84 L107.8,562.71 L107.5,562.55 L107.3,562.30Z" fill="#000" opacity="0.01" transform="translate(0,562.30) scale(1,1.9) translate(0,-562.30)"/><path d="M107.3,565.40 L107.5,565.12 L107.8,564.94 L108.2,564.79 L108.7,564.68 L109.3,564.58 L109.9,564.51 L110.6,564.47 L111.4,564.45 L114.0,564.45 L116.6,564.45 L119.1,564.45 L121.7,564.45 L122.5,564.47 L123.2,564.51 L123.8,564.58 L124.4,564.68 L124.9,564.79 L125.3,564.94 L125.6,565.12 L125.8,565.40 L125.8,565.40 L125.6,565.68 L125.3,565.86 L124.9,566.01 L124.4,566.12 L123.8,566.22 L123.2,566.29 L122.5,566.33 L121.7,566.35 L119.1,566.35 L116.6,566.35 L114.0,566.35 L111.4,566.35 L110.6,566.33 L109.9,566.29 L109.3,566.22 L108.7,566.12 L108.2,566.01 L107.8,565.86 L107.5,565.68 L107.3,565.40Z" fill="#000" opacity="0.02" transform="translate(0,565.40) scale(1,1.9) translate(0,-565.40)"/></g>
<g filter="url(#bl)">
<path d="M62.0,562.30 L62.2,561.93 L62.6,561.69 L63.0,561.50 L63.6,561.35 L64.2,561.22 L64.9,561.13 L65.7,561.07 L66.5,561.05 L69.6,561.05 L72.8,561.05 L75.9,561.05 L79.0,561.05 L79.8,561.07 L80.6,561.13 L81.3,561.22 L81.9,561.35 L82.5,561.50 L82.9,561.69 L83.3,561.93 L83.5,562.30 L83.5,562.30 L83.3,562.67 L82.9,562.91 L82.5,563.10 L81.9,563.25 L81.3,563.38 L80.6,563.47 L79.8,563.53 L79.0,563.55 L75.9,563.55 L72.8,563.55 L69.6,563.55 L66.5,563.55 L65.7,563.53 L64.9,563.47 L64.2,563.38 L63.6,563.25 L63.0,563.10 L62.6,562.91 L62.2,562.67 L62.0,562.30Z" fill="#141414"/>
<path d="M62.0,565.40 L62.2,565.03 L62.6,564.79 L63.0,564.60 L63.6,564.45 L64.2,564.32 L64.9,564.23 L65.7,564.17 L66.5,564.15 L69.6,564.15 L72.8,564.15 L75.9,564.15 L79.0,564.15 L79.8,564.17 L80.6,564.23 L81.3,564.32 L81.9,564.45 L82.5,564.60 L82.9,564.79 L83.3,565.03 L83.5,565.40 L83.5,565.40 L83.3,565.77 L82.9,566.01 L82.5,566.20 L81.9,566.35 L81.3,566.48 L80.6,566.57 L79.8,566.63 L79.0,566.65 L75.9,566.65 L72.8,566.65 L69.6,566.65 L66.5,566.65 L65.7,566.63 L64.9,566.57 L64.2,566.48 L63.6,566.35 L63.0,566.20 L62.6,566.01 L62.2,565.77 L62.0,565.40Z" fill="#141414"/>
<path d="M107.3,562.30 L107.5,562.05 L107.8,561.89 L108.2,561.76 L108.7,561.65 L109.3,561.57 L109.9,561.50 L110.6,561.46 L111.4,561.45 L114.0,561.45 L116.6,561.45 L119.1,561.45 L121.7,561.45 L122.5,561.46 L123.2,561.50 L123.8,561.57 L124.4,561.65 L124.9,561.76 L125.3,561.89 L125.6,562.05 L125.8,562.30 L125.8,562.30 L125.6,562.55 L125.3,562.71 L124.9,562.84 L124.4,562.95 L123.8,563.03 L123.2,563.10 L122.5,563.14 L121.7,563.15 L119.1,563.15 L116.6,563.15 L114.0,563.15 L111.4,563.15 L110.6,563.14 L109.9,563.10 L109.3,563.03 L108.7,562.95 L108.2,562.84 L107.8,562.71 L107.5,562.55 L107.3,562.30Z" fill="#cacaca"/>
<path d="M107.3,565.40 L107.5,565.12 L107.8,564.94 L108.2,564.79 L108.7,564.68 L109.3,564.58 L109.9,564.51 L110.6,564.47 L111.4,564.45 L114.0,564.45 L116.6,564.45 L119.1,564.45 L121.7,564.45 L122.5,564.47 L123.2,564.51 L123.8,564.58 L124.4,564.68 L124.9,564.79 L125.3,564.94 L125.6,565.12 L125.8,565.40 L125.8,565.40 L125.6,565.68 L125.3,565.86 L124.9,566.01 L124.4,566.12 L123.8,566.22 L123.2,566.29 L122.5,566.33 L121.7,566.35 L119.1,566.35 L116.6,566.35 L114.0,566.35 L111.4,566.35 L110.6,566.33 L109.9,566.29 L109.3,566.22 L108.7,566.12 L108.2,566.01 L107.8,565.86 L107.5,565.68 L107.3,565.40Z" fill="#c0c0c0"/>
</g>
<rect x="59.0" y="555.5" width="71.30" height="13.70" rx="0" fill="none" stroke="#141414" stroke-width="1.1"/>
<rect x="58.5" y="571.9" width="72.30" height="14.30" fill="#f0f0f0" stroke="none"/>
<g filter="url(#bh)"><path d="M61.0,579.00 L61.2,578.54 L61.6,578.25 L62.0,578.01 L62.6,577.82 L63.2,577.66 L63.9,577.55 L64.7,577.48 L65.5,577.45 L68.9,577.45 L72.2,577.45 L75.6,577.45 L79.0,577.45 L79.8,577.48 L80.6,577.55 L81.3,577.66 L81.9,577.82 L82.5,578.01 L82.9,578.25 L83.3,578.54 L83.5,579.00 L83.5,579.00 L83.3,579.46 L82.9,579.75 L82.5,579.99 L81.9,580.18 L81.3,580.34 L80.6,580.45 L79.8,580.52 L79.0,580.55 L75.6,580.55 L72.2,580.55 L68.9,580.55 L65.5,580.55 L64.7,580.52 L63.9,580.45 L63.2,580.34 L62.6,580.18 L62.0,579.99 L61.6,579.75 L61.2,579.46 L61.0,579.00Z" fill="#000" opacity="0.20" transform="translate(0,579.00) scale(1,1.9) translate(0,-579.00)"/><path d="M85.0,579.00 L85.2,578.54 L85.5,578.25 L86.0,578.01 L86.5,577.82 L87.1,577.66 L87.7,577.55 L88.4,577.48 L89.2,577.45 L91.8,577.45 L94.5,577.45 L97.2,577.45 L99.8,577.45 L100.6,577.48 L101.3,577.55 L101.9,577.66 L102.5,577.82 L103.0,578.01 L103.5,578.25 L103.8,578.54 L104.0,579.00 L104.0,579.00 L103.8,579.46 L103.5,579.75 L103.0,579.99 L102.5,580.18 L101.9,580.34 L101.3,580.45 L100.6,580.52 L99.8,580.55 L97.2,580.55 L94.5,580.55 L91.8,580.55 L89.2,580.55 L88.4,580.52 L87.7,580.45 L87.1,580.34 L86.5,580.18 L86.0,579.99 L85.5,579.75 L85.2,579.46 L85.0,579.00Z" fill="#000" opacity="0.20" transform="translate(0,579.00) scale(1,1.9) translate(0,-579.00)"/><path d="M106.5,579.00 L106.7,578.54 L107.1,578.25 L107.5,578.01 L108.1,577.82 L108.7,577.66 L109.4,577.55 L110.2,577.48 L111.0,577.45 L114.0,577.45 L116.9,577.45 L119.8,577.45 L122.8,577.45 L123.6,577.48 L124.4,577.55 L125.1,577.66 L125.7,577.82 L126.3,578.01 L126.7,578.25 L127.1,578.54 L127.3,579.00 L127.3,579.00 L127.1,579.46 L126.7,579.75 L126.3,579.99 L125.7,580.18 L125.1,580.34 L124.4,580.45 L123.6,580.52 L122.8,580.55 L119.8,580.55 L116.9,580.55 L114.0,580.55 L111.0,580.55 L110.2,580.52 L109.4,580.45 L108.7,580.34 L108.1,580.18 L107.5,579.99 L107.1,579.75 L106.7,579.46 L106.5,579.00Z" fill="#000" opacity="0.20" transform="translate(0,579.00) scale(1,1.9) translate(0,-579.00)"/></g>
<g filter="url(#bl)">
<path d="M61.0,579.00 L61.2,578.54 L61.6,578.25 L62.0,578.01 L62.6,577.82 L63.2,577.66 L63.9,577.55 L64.7,577.48 L65.5,577.45 L68.9,577.45 L72.2,577.45 L75.6,577.45 L79.0,577.45 L79.8,577.48 L80.6,577.55 L81.3,577.66 L81.9,577.82 L82.5,578.01 L82.9,578.25 L83.3,578.54 L83.5,579.00 L83.5,579.00 L83.3,579.46 L82.9,579.75 L82.5,579.99 L81.9,580.18 L81.3,580.34 L80.6,580.45 L79.8,580.52 L79.0,580.55 L75.6,580.55 L72.2,580.55 L68.9,580.55 L65.5,580.55 L64.7,580.52 L63.9,580.45 L63.2,580.34 L62.6,580.18 L62.0,579.99 L61.6,579.75 L61.2,579.46 L61.0,579.00Z" fill="#080808"/>
<path d="M85.0,579.00 L85.2,578.54 L85.5,578.25 L86.0,578.01 L86.5,577.82 L87.1,577.66 L87.7,577.55 L88.4,577.48 L89.2,577.45 L91.8,577.45 L94.5,577.45 L97.2,577.45 L99.8,577.45 L100.6,577.48 L101.3,577.55 L101.9,577.66 L102.5,577.82 L103.0,578.01 L103.5,578.25 L103.8,578.54 L104.0,579.00 L104.0,579.00 L103.8,579.46 L103.5,579.75 L103.0,579.99 L102.5,580.18 L101.9,580.34 L101.3,580.45 L100.6,580.52 L99.8,580.55 L97.2,580.55 L94.5,580.55 L91.8,580.55 L89.2,580.55 L88.4,580.52 L87.7,580.45 L87.1,580.34 L86.5,580.18 L86.0,579.99 L85.5,579.75 L85.2,579.46 L85.0,579.00Z" fill="#080808"/>
<path d="M106.5,579.00 L106.7,578.54 L107.1,578.25 L107.5,578.01 L108.1,577.82 L108.7,577.66 L109.4,577.55 L110.2,577.48 L111.0,577.45 L114.0,577.45 L116.9,577.45 L119.8,577.45 L122.8,577.45 L123.6,577.48 L124.4,577.55 L125.1,577.66 L125.7,577.82 L126.3,578.01 L126.7,578.25 L127.1,578.54 L127.3,579.00 L127.3,579.00 L127.1,579.46 L126.7,579.75 L126.3,579.99 L125.7,580.18 L125.1,580.34 L124.4,580.45 L123.6,580.52 L122.8,580.55 L119.8,580.55 L116.9,580.55 L114.0,580.55 L111.0,580.55 L110.2,580.52 L109.4,580.45 L108.7,580.34 L108.1,580.18 L107.5,579.99 L107.1,579.75 L106.7,579.46 L106.5,579.00Z" fill="#080808"/>
</g>
<rect x="59.0" y="572.4" width="71.30" height="13.70" rx="0" fill="none" stroke="#141414" stroke-width="1.1"/>
<rect x="58.5" y="591.9" width="72.30" height="14.30" fill="#f0f0f0" stroke="none"/>
<g filter="url(#bh)"><path d="M61.0,599.50 L61.2,598.99 L61.6,598.65 L62.0,598.38 L62.6,598.16 L63.2,597.99 L63.9,597.86 L64.7,597.78 L65.5,597.75 L79.8,597.75 L94.2,597.75 L108.5,597.75 L122.8,597.75 L123.6,597.78 L124.4,597.86 L125.1,597.99 L125.7,598.16 L126.3,598.38 L126.7,598.65 L127.1,598.99 L127.3,599.50 L127.3,599.50 L127.1,600.01 L126.7,600.35 L126.3,600.62 L125.7,600.84 L125.1,601.01 L124.4,601.14 L123.6,601.22 L122.8,601.25 L108.5,601.25 L94.2,601.25 L79.8,601.25 L65.5,601.25 L64.7,601.22 L63.9,601.14 L63.2,601.01 L62.6,600.84 L62.0,600.62 L61.6,600.35 L61.2,600.01 L61.0,599.50Z" fill="#000" opacity="0.20" transform="translate(0,599.50) scale(1,1.9) translate(0,-599.50)"/></g>
<g filter="url(#bl)">
<path d="M61.0,599.50 L61.2,598.99 L61.6,598.65 L62.0,598.38 L62.6,598.16 L63.2,597.99 L63.9,597.86 L64.7,597.78 L65.5,597.75 L79.8,597.75 L94.2,597.75 L108.5,597.75 L122.8,597.75 L123.6,597.78 L124.4,597.86 L125.1,597.99 L125.7,598.16 L126.3,598.38 L126.7,598.65 L127.1,598.99 L127.3,599.50 L127.3,599.50 L127.1,600.01 L126.7,600.35 L126.3,600.62 L125.7,600.84 L125.1,601.01 L124.4,601.14 L123.6,601.22 L122.8,601.25 L108.5,601.25 L94.2,601.25 L79.8,601.25 L65.5,601.25 L64.7,601.22 L63.9,601.14 L63.2,601.01 L62.6,600.84 L62.0,600.62 L61.6,600.35 L61.2,600.01 L61.0,599.50Z" fill="#080808"/>
</g>
<rect x="59.0" y="592.4" width="71.30" height="13.70" rx="0" fill="none" stroke="#141414" stroke-width="1.1"/>
<rect x="140.3" y="445.8" width="71.10" height="14.30" fill="#e9e9e9" stroke="none"/>
<g filter="url(#bh)"><path d="M142.7,453.50 L142.9,452.91 L143.3,452.53 L143.7,452.22 L144.3,451.97 L144.9,451.77 L145.6,451.63 L146.4,451.53 L147.2,451.50 L150.9,451.50 L154.6,451.50 L158.3,451.50 L162.0,451.50 L162.8,451.53 L163.6,451.63 L164.3,451.77 L164.9,451.97 L165.5,452.22 L165.9,452.53 L166.3,452.91 L166.5,453.50 L166.5,453.50 L166.3,454.09 L165.9,454.47 L165.5,454.78 L164.9,455.03 L164.3,455.23 L163.6,455.37 L162.8,455.47 L162.0,455.50 L158.3,455.50 L154.6,455.50 L150.9,455.50 L147.2,455.50 L146.4,455.47 L145.6,455.37 L144.9,455.23 L144.3,455.03 L143.7,454.78 L143.3,454.47 L142.9,454.09 L142.7,453.50Z" fill="#000" opacity="0.22" transform="translate(0,453.50) scale(1,1.9) translate(0,-453.50)"/><path d="M168.0,453.80 L168.2,453.51 L168.5,453.32 L169.0,453.16 L169.5,453.04 L170.1,452.94 L170.8,452.86 L171.5,452.82 L172.2,452.80 L174.9,452.80 L177.7,452.80 L180.4,452.80 L183.1,452.80 L183.8,452.82 L184.5,452.86 L185.2,452.94 L185.8,453.04 L186.3,453.16 L186.8,453.32 L187.1,453.51 L187.3,453.80 L187.3,453.80 L187.1,454.09 L186.8,454.28 L186.3,454.44 L185.8,454.56 L185.2,454.66 L184.5,454.74 L183.8,454.78 L183.1,454.80 L180.4,454.80 L177.7,454.80 L174.9,454.80 L172.2,454.80 L171.5,454.78 L170.8,454.74 L170.1,454.66 L169.5,454.56 L169.0,454.44 L168.5,454.28 L168.2,454.09 L168.0,453.80Z" fill="#000" opacity="0.11" transform="translate(0,453.80) scale(1,1.9) translate(0,-453.80)"/><path d="M190.4,453.50 L190.6,453.13 L190.9,452.89 L191.3,452.70 L191.8,452.55 L192.4,452.42 L193.0,452.33 L193.7,452.27 L194.4,452.25 L197.0,452.25 L199.6,452.25 L202.2,452.25 L204.8,452.25 L205.5,452.27 L206.2,452.33 L206.8,452.42 L207.4,452.55 L207.9,452.70 L208.3,452.89 L208.6,453.13 L208.8,453.50 L208.8,453.50 L208.6,453.87 L208.3,454.11 L207.9,454.30 L207.4,454.45 L206.8,454.58 L206.2,454.67 L205.5,454.73 L204.8,454.75 L202.2,454.75 L199.6,454.75 L197.0,454.75 L194.4,454.75 L193.7,454.73 L193.0,454.67 L192.4,454.58 L191.8,454.45 L191.3,454.30 L190.9,454.11 L190.6,453.87 L190.4,453.50Z" fill="#000" opacity="0.20" transform="translate(0,453.50) scale(1,1.9) translate(0,-453.50)"/></g>
<g filter="url(#bl)">
<path d="M142.7,453.50 L142.9,452.91 L143.3,452.53 L143.7,452.22 L144.3,451.97 L144.9,451.77 L145.6,451.63 L146.4,451.53 L147.2,451.50 L150.9,451.50 L154.6,451.50 L158.3,451.50 L162.0,451.50 L162.8,451.53 L163.6,451.63 L164.3,451.77 L164.9,451.97 L165.5,452.22 L165.9,452.53 L166.3,452.91 L166.5,453.50 L166.5,453.50 L166.3,454.09 L165.9,454.47 L165.5,454.78 L164.9,455.03 L164.3,455.23 L163.6,455.37 L162.8,455.47 L162.0,455.50 L158.3,455.50 L154.6,455.50 L150.9,455.50 L147.2,455.50 L146.4,455.47 L145.6,455.37 L144.9,455.23 L144.3,455.03 L143.7,454.78 L143.3,454.47 L142.9,454.09 L142.7,453.50Z" fill="#080808"/>
<path d="M168.0,453.80 L168.2,453.51 L168.5,453.32 L169.0,453.16 L169.5,453.04 L170.1,452.94 L170.8,452.86 L171.5,452.82 L172.2,452.80 L174.9,452.80 L177.7,452.80 L180.4,452.80 L183.1,452.80 L183.8,452.82 L184.5,452.86 L185.2,452.94 L185.8,453.04 L186.3,453.16 L186.8,453.32 L187.1,453.51 L187.3,453.80 L187.3,453.80 L187.1,454.09 L186.8,454.28 L186.3,454.44 L185.8,454.56 L185.2,454.66 L184.5,454.74 L183.8,454.78 L183.1,454.80 L180.4,454.80 L177.7,454.80 L174.9,454.80 L172.2,454.80 L171.5,454.78 L170.8,454.74 L170.1,454.66 L169.5,454.56 L169.0,454.44 L168.5,454.28 L168.2,454.09 L168.0,453.80Z" fill="#717171"/>
<path d="M190.4,453.50 L190.6,453.13 L190.9,452.89 L191.3,452.70 L191.8,452.55 L192.4,452.42 L193.0,452.33 L193.7,452.27 L194.4,452.25 L197.0,452.25 L199.6,452.25 L202.2,452.25 L204.8,452.25 L205.5,452.27 L206.2,452.33 L206.8,452.42 L207.4,452.55 L207.9,452.70 L208.3,452.89 L208.6,453.13 L208.8,453.50 L208.8,453.50 L208.6,453.87 L208.3,454.11 L207.9,454.30 L207.4,454.45 L206.8,454.58 L206.2,454.67 L205.5,454.73 L204.8,454.75 L202.2,454.75 L199.6,454.75 L197.0,454.75 L194.4,454.75 L193.7,454.73 L193.0,454.67 L192.4,454.58 L191.8,454.45 L191.3,454.30 L190.9,454.11 L190.6,453.87 L190.4,453.50Z" fill="#1f1f1f"/>
</g>
<rect x="140.8" y="446.3" width="70.10" height="13.70" rx="0" fill="none" stroke="#141414" stroke-width="1.1"/>
<rect x="140.3" y="461.90000000000003" width="71.10" height="14.60" fill="#e9e9e9" stroke="none"/>
<g filter="url(#bh)"><path d="M143.5,470.00 L143.7,469.63 L144.1,469.39 L144.5,469.20 L145.1,469.05 L145.7,468.92 L146.4,468.83 L147.2,468.77 L148.0,468.75 L151.1,468.75 L154.2,468.75 L157.4,468.75 L160.5,468.75 L161.3,468.77 L162.1,468.83 L162.8,468.92 L163.4,469.05 L164.0,469.20 L164.4,469.39 L164.8,469.63 L165.0,470.00 L165.0,470.00 L164.8,470.37 L164.4,470.61 L164.0,470.80 L163.4,470.95 L162.8,471.08 L162.1,471.17 L161.3,471.23 L160.5,471.25 L157.4,471.25 L154.2,471.25 L151.1,471.25 L148.0,471.25 L147.2,471.23 L146.4,471.17 L145.7,471.08 L145.1,470.95 L144.5,470.80 L144.1,470.61 L143.7,470.37 L143.5,470.00Z" fill="#000" opacity="0.20" transform="translate(0,470.00) scale(1,1.9) translate(0,-470.00)"/><path d="M167.3,470.00 L167.5,469.49 L167.9,469.15 L168.3,468.88 L168.9,468.66 L169.5,468.49 L170.2,468.36 L170.9,468.28 L171.7,468.25 L174.5,468.25 L177.3,468.25 L180.1,468.25 L182.9,468.25 L183.7,468.28 L184.4,468.36 L185.1,468.49 L185.7,468.66 L186.3,468.88 L186.8,469.15 L187.1,469.49 L187.3,470.00 L187.3,470.00 L187.1,470.51 L186.8,470.85 L186.3,471.12 L185.7,471.34 L185.1,471.51 L184.4,471.64 L183.7,471.72 L182.9,471.75 L180.1,471.75 L177.3,471.75 L174.5,471.75 L171.7,471.75 L170.9,471.72 L170.2,471.64 L169.5,471.51 L168.9,471.34 L168.3,471.12 L167.9,470.85 L167.5,470.51 L167.3,470.00Z" fill="#000" opacity="0.21" transform="translate(0,470.00) scale(1,1.9) translate(0,-470.00)"/><path d="M189.6,470.00 L189.8,469.49 L190.2,469.15 L190.6,468.88 L191.2,468.66 L191.8,468.49 L192.5,468.36 L193.2,468.28 L194.0,468.25 L196.8,468.25 L199.6,468.25 L202.4,468.25 L205.2,468.25 L206.0,468.28 L206.7,468.36 L207.4,468.49 L208.0,468.66 L208.6,468.88 L209.0,469.15 L209.4,469.49 L209.6,470.00 L209.6,470.00 L209.4,470.51 L209.0,470.85 L208.6,471.12 L208.0,471.34 L207.4,471.51 L206.7,471.64 L206.0,471.72 L205.2,471.75 L202.4,471.75 L199.6,471.75 L196.8,471.75 L194.0,471.75 L193.2,471.72 L192.5,471.64 L191.8,471.51 L191.2,471.34 L190.6,471.12 L190.2,470.85 L189.8,470.51 L189.6,470.00Z" fill="#000" opacity="0.21" transform="translate(0,470.00) scale(1,1.9) translate(0,-470.00)"/></g>
<g filter="url(#bl)">
<path d="M143.5,470.00 L143.7,469.63 L144.1,469.39 L144.5,469.20 L145.1,469.05 L145.7,468.92 L146.4,468.83 L147.2,468.77 L148.0,468.75 L151.1,468.75 L154.2,468.75 L157.4,468.75 L160.5,468.75 L161.3,468.77 L162.1,468.83 L162.8,468.92 L163.4,469.05 L164.0,469.20 L164.4,469.39 L164.8,469.63 L165.0,470.00 L165.0,470.00 L164.8,470.37 L164.4,470.61 L164.0,470.80 L163.4,470.95 L162.8,471.08 L162.1,471.17 L161.3,471.23 L160.5,471.25 L157.4,471.25 L154.2,471.25 L151.1,471.25 L148.0,471.25 L147.2,471.23 L146.4,471.17 L145.7,471.08 L145.1,470.95 L144.5,470.80 L144.1,470.61 L143.7,470.37 L143.5,470.00Z" fill="#1f1f1f"/>
<path d="M167.3,470.00 L167.5,469.49 L167.9,469.15 L168.3,468.88 L168.9,468.66 L169.5,468.49 L170.2,468.36 L170.9,468.28 L171.7,468.25 L174.5,468.25 L177.3,468.25 L180.1,468.25 L182.9,468.25 L183.7,468.28 L184.4,468.36 L185.1,468.49 L185.7,468.66 L186.3,468.88 L186.8,469.15 L187.1,469.49 L187.3,470.00 L187.3,470.00 L187.1,470.51 L186.8,470.85 L186.3,471.12 L185.7,471.34 L185.1,471.51 L184.4,471.64 L183.7,471.72 L182.9,471.75 L180.1,471.75 L177.3,471.75 L174.5,471.75 L171.7,471.75 L170.9,471.72 L170.2,471.64 L169.5,471.51 L168.9,471.34 L168.3,471.12 L167.9,470.85 L167.5,470.51 L167.3,470.00Z" fill="#141414"/>
<path d="M189.6,470.00 L189.8,469.49 L190.2,469.15 L190.6,468.88 L191.2,468.66 L191.8,468.49 L192.5,468.36 L193.2,468.28 L194.0,468.25 L196.8,468.25 L199.6,468.25 L202.4,468.25 L205.2,468.25 L206.0,468.28 L206.7,468.36 L207.4,468.49 L208.0,468.66 L208.6,468.88 L209.0,469.15 L209.4,469.49 L209.6,470.00 L209.6,470.00 L209.4,470.51 L209.0,470.85 L208.6,471.12 L208.0,471.34 L207.4,471.51 L206.7,471.64 L206.0,471.72 L205.2,471.75 L202.4,471.75 L199.6,471.75 L196.8,471.75 L194.0,471.75 L193.2,471.72 L192.5,471.64 L191.8,471.51 L191.2,471.34 L190.6,471.12 L190.2,470.85 L189.8,470.51 L189.6,470.00Z" fill="#141414"/>
</g>
<rect x="140.8" y="462.40000000000003" width="70.10" height="14.00" rx="0" fill="none" stroke="#141414" stroke-width="1.1"/>
<rect x="140.3" y="481.90000000000003" width="71.10" height="14.70" fill="#e9e9e9" stroke="none"/>
<g filter="url(#bh)"><path d="M142.7,490.00 L142.9,489.34 L143.3,488.91 L143.7,488.57 L144.3,488.28 L144.9,488.06 L145.6,487.89 L146.4,487.79 L147.2,487.75 L150.3,487.75 L153.4,487.75 L156.6,487.75 L159.7,487.75 L160.5,487.79 L161.3,487.89 L162.0,488.06 L162.6,488.28 L163.2,488.57 L163.6,488.91 L164.0,489.34 L164.2,490.00 L164.2,490.00 L164.0,490.66 L163.6,491.09 L163.2,491.43 L162.6,491.72 L162.0,491.94 L161.3,492.11 L160.5,492.21 L159.7,492.25 L156.6,492.25 L153.4,492.25 L150.3,492.25 L147.2,492.25 L146.4,492.21 L145.6,492.11 L144.9,491.94 L144.3,491.72 L143.7,491.43 L143.3,491.09 L142.9,490.66 L142.7,490.00Z" fill="#000" opacity="0.20" transform="translate(0,490.00) scale(1,1.9) translate(0,-490.00)"/><path d="M166.5,490.00 L166.7,489.27 L167.1,488.79 L167.5,488.41 L168.1,488.09 L168.7,487.84 L169.4,487.66 L170.2,487.54 L171.0,487.50 L173.9,487.50 L176.9,487.50 L179.9,487.50 L182.8,487.50 L183.6,487.54 L184.4,487.66 L185.1,487.84 L185.7,488.09 L186.3,488.41 L186.7,488.79 L187.1,489.27 L187.3,490.00 L187.3,490.00 L187.1,490.73 L186.7,491.21 L186.3,491.59 L185.7,491.91 L185.1,492.16 L184.4,492.34 L183.6,492.46 L182.8,492.50 L179.9,492.50 L176.9,492.50 L173.9,492.50 L171.0,492.50 L170.2,492.46 L169.4,492.34 L168.7,492.16 L168.1,491.91 L167.5,491.59 L167.1,491.21 L166.7,490.73 L166.5,490.00Z" fill="#000" opacity="0.21" transform="translate(0,490.00) scale(1,1.9) translate(0,-490.00)"/><path d="M189.6,490.00 L189.8,489.41 L190.2,489.03 L190.6,488.72 L191.2,488.47 L191.8,488.27 L192.5,488.13 L193.2,488.03 L194.0,488.00 L196.8,488.00 L199.6,488.00 L202.4,488.00 L205.2,488.00 L206.0,488.03 L206.7,488.13 L207.4,488.27 L208.0,488.47 L208.6,488.72 L209.0,489.03 L209.4,489.41 L209.6,490.00 L209.6,490.00 L209.4,490.59 L209.0,490.97 L208.6,491.28 L208.0,491.53 L207.4,491.73 L206.7,491.87 L206.0,491.97 L205.2,492.00 L202.4,492.00 L199.6,492.00 L196.8,492.00 L194.0,492.00 L193.2,491.97 L192.5,491.87 L191.8,491.73 L191.2,491.53 L190.6,491.28 L190.2,490.97 L189.8,490.59 L189.6,490.00Z" fill="#000" opacity="0.19" transform="translate(0,490.00) scale(1,1.9) translate(0,-490.00)"/></g>
<g filter="url(#bl)">
<path d="M142.7,490.00 L142.9,489.34 L143.3,488.91 L143.7,488.57 L144.3,488.28 L144.9,488.06 L145.6,487.89 L146.4,487.79 L147.2,487.75 L150.3,487.75 L153.4,487.75 L156.6,487.75 L159.7,487.75 L160.5,487.79 L161.3,487.89 L162.0,488.06 L162.6,488.28 L163.2,488.57 L163.6,488.91 L164.0,489.34 L164.2,490.00 L164.2,490.00 L164.0,490.66 L163.6,491.09 L163.2,491.43 L162.6,491.72 L162.0,491.94 L161.3,492.11 L160.5,492.21 L159.7,492.25 L156.6,492.25 L153.4,492.25 L150.3,492.25 L147.2,492.25 L146.4,492.21 L145.6,492.11 L144.9,491.94 L144.3,491.72 L143.7,491.43 L143.3,491.09 L142.9,490.66 L142.7,490.00Z" fill="#1f1f1f"/>
<path d="M166.5,490.00 L166.7,489.27 L167.1,488.79 L167.5,488.41 L168.1,488.09 L168.7,487.84 L169.4,487.66 L170.2,487.54 L171.0,487.50 L173.9,487.50 L176.9,487.50 L179.9,487.50 L182.8,487.50 L183.6,487.54 L184.4,487.66 L185.1,487.84 L185.7,488.09 L186.3,488.41 L186.7,488.79 L187.1,489.27 L187.3,490.00 L187.3,490.00 L187.1,490.73 L186.7,491.21 L186.3,491.59 L185.7,491.91 L185.1,492.16 L184.4,492.34 L183.6,492.46 L182.8,492.50 L179.9,492.50 L176.9,492.50 L173.9,492.50 L171.0,492.50 L170.2,492.46 L169.4,492.34 L168.7,492.16 L168.1,491.91 L167.5,491.59 L167.1,491.21 L166.7,490.73 L166.5,490.00Z" fill="#141414"/>
<path d="M189.6,490.00 L189.8,489.41 L190.2,489.03 L190.6,488.72 L191.2,488.47 L191.8,488.27 L192.5,488.13 L193.2,488.03 L194.0,488.00 L196.8,488.00 L199.6,488.00 L202.4,488.00 L205.2,488.00 L206.0,488.03 L206.7,488.13 L207.4,488.27 L208.0,488.47 L208.6,488.72 L209.0,489.03 L209.4,489.41 L209.6,490.00 L209.6,490.00 L209.4,490.59 L209.0,490.97 L208.6,491.28 L208.0,491.53 L207.4,491.73 L206.7,491.87 L206.0,491.97 L205.2,492.00 L202.4,492.00 L199.6,492.00 L196.8,492.00 L194.0,492.00 L193.2,491.97 L192.5,491.87 L191.8,491.73 L191.2,491.53 L190.6,491.28 L190.2,490.97 L189.8,490.59 L189.6,490.00Z" fill="#292929"/>
</g>
<rect x="140.8" y="482.40000000000003" width="70.10" height="14.10" rx="0" fill="none" stroke="#141414" stroke-width="1.1"/>
<rect x="140.3" y="498.0" width="71.10" height="14.80" fill="#e9e9e9" stroke="none"/>
<g filter="url(#bh)"><path d="M144.2,506.00 L144.4,505.34 L144.8,504.91 L145.2,504.57 L145.8,504.28 L146.4,504.06 L147.1,503.89 L147.9,503.79 L148.7,503.75 L151.6,503.75 L154.6,503.75 L157.6,503.75 L160.5,503.75 L161.3,503.79 L162.1,503.89 L162.8,504.06 L163.4,504.28 L164.0,504.57 L164.4,504.91 L164.8,505.34 L165.0,506.00 L165.0,506.00 L164.8,506.66 L164.4,507.09 L164.0,507.43 L163.4,507.72 L162.8,507.94 L162.1,508.11 L161.3,508.21 L160.5,508.25 L157.6,508.25 L154.6,508.25 L151.6,508.25 L148.7,508.25 L147.9,508.21 L147.1,508.11 L146.4,507.94 L145.8,507.72 L145.2,507.43 L144.8,507.09 L144.4,506.66 L144.2,506.00Z" fill="#000" opacity="0.17" transform="translate(0,506.00) scale(1,1.9) translate(0,-506.00)"/><path d="M167.3,506.00 L167.5,505.19 L167.8,504.67 L168.3,504.25 L168.8,503.90 L169.4,503.63 L170.0,503.42 L170.8,503.30 L171.5,503.25 L174.2,503.25 L176.9,503.25 L179.6,503.25 L182.3,503.25 L183.0,503.30 L183.8,503.42 L184.4,503.63 L185.0,503.90 L185.5,504.25 L186.0,504.67 L186.3,505.19 L186.5,506.00 L186.5,506.00 L186.3,506.81 L186.0,507.33 L185.5,507.75 L185.0,508.10 L184.4,508.37 L183.8,508.58 L183.0,508.70 L182.3,508.75 L179.6,508.75 L176.9,508.75 L174.2,508.75 L171.5,508.75 L170.8,508.70 L170.0,508.58 L169.4,508.37 L168.8,508.10 L168.3,507.75 L167.8,507.33 L167.5,506.81 L167.3,506.00Z" fill="#000" opacity="0.20" transform="translate(0,506.00) scale(1,1.9) translate(0,-506.00)"/><path d="M188.8,506.00 L189.0,505.34 L189.3,504.91 L189.8,504.57 L190.3,504.28 L190.9,504.06 L191.5,503.89 L192.3,503.79 L193.0,503.75 L195.7,503.75 L198.4,503.75 L201.1,503.75 L203.8,503.75 L204.5,503.79 L205.3,503.89 L205.9,504.06 L206.5,504.28 L207.0,504.57 L207.5,504.91 L207.8,505.34 L208.0,506.00 L208.0,506.00 L207.8,506.66 L207.5,507.09 L207.0,507.43 L206.5,507.72 L205.9,507.94 L205.3,508.11 L204.5,508.21 L203.8,508.25 L201.1,508.25 L198.4,508.25 L195.7,508.25 L193.0,508.25 L192.3,508.21 L191.5,508.11 L190.9,507.94 L190.3,507.72 L189.8,507.43 L189.3,507.09 L189.0,506.66 L188.8,506.00Z" fill="#000" opacity="0.17" transform="translate(0,506.00) scale(1,1.9) translate(0,-506.00)"/></g>
<g filter="url(#bl)">
<path d="M144.2,506.00 L144.4,505.34 L144.8,504.91 L145.2,504.57 L145.8,504.28 L146.4,504.06 L147.1,503.89 L147.9,503.79 L148.7,503.75 L151.6,503.75 L154.6,503.75 L157.6,503.75 L160.5,503.75 L161.3,503.79 L162.1,503.89 L162.8,504.06 L163.4,504.28 L164.0,504.57 L164.4,504.91 L164.8,505.34 L165.0,506.00 L165.0,506.00 L164.8,506.66 L164.4,507.09 L164.0,507.43 L163.4,507.72 L162.8,507.94 L162.1,508.11 L161.3,508.21 L160.5,508.25 L157.6,508.25 L154.6,508.25 L151.6,508.25 L148.7,508.25 L147.9,508.21 L147.1,508.11 L146.4,507.94 L145.8,507.72 L145.2,507.43 L144.8,507.09 L144.4,506.66 L144.2,506.00Z" fill="#3e3e3e"/>
<path d="M167.3,506.00 L167.5,505.19 L167.8,504.67 L168.3,504.25 L168.8,503.90 L169.4,503.63 L170.0,503.42 L170.8,503.30 L171.5,503.25 L174.2,503.25 L176.9,503.25 L179.6,503.25 L182.3,503.25 L183.0,503.30 L183.8,503.42 L184.4,503.63 L185.0,503.90 L185.5,504.25 L186.0,504.67 L186.3,505.19 L186.5,506.00 L186.5,506.00 L186.3,506.81 L186.0,507.33 L185.5,507.75 L185.0,508.10 L184.4,508.37 L183.8,508.58 L183.0,508.70 L182.3,508.75 L179.6,508.75 L176.9,508.75 L174.2,508.75 L171.5,508.75 L170.8,508.70 L170.0,508.58 L169.4,508.37 L168.8,508.10 L168.3,507.75 L167.8,507.33 L167.5,506.81 L167.3,506.00Z" fill="#1f1f1f"/>
<path d="M188.8,506.00 L189.0,505.34 L189.3,504.91 L189.8,504.57 L190.3,504.28 L190.9,504.06 L191.5,503.89 L192.3,503.79 L193.0,503.75 L195.7,503.75 L198.4,503.75 L201.1,503.75 L203.8,503.75 L204.5,503.79 L205.3,503.89 L205.9,504.06 L206.5,504.28 L207.0,504.57 L207.5,504.91 L207.8,505.34 L208.0,506.00 L208.0,506.00 L207.8,506.66 L207.5,507.09 L207.0,507.43 L206.5,507.72 L205.9,507.94 L205.3,508.11 L204.5,508.21 L203.8,508.25 L201.1,508.25 L198.4,508.25 L195.7,508.25 L193.0,508.25 L192.3,508.21 L191.5,508.11 L190.9,507.94 L190.3,507.72 L189.8,507.43 L189.3,507.09 L189.0,506.66 L188.8,506.00Z" fill="#3e3e3e"/>
</g>
<rect x="140.8" y="498.5" width="70.10" height="14.20" rx="0" fill="none" stroke="#141414" stroke-width="1.1"/>
<rect x="140.3" y="518.4" width="71.10" height="13.90" fill="#e9e9e9" stroke="none"/>
<g filter="url(#bh)"><path d="M142.7,526.20 L142.9,525.54 L143.3,525.11 L143.7,524.77 L144.3,524.48 L144.9,524.26 L145.6,524.09 L146.4,523.99 L147.2,523.95 L150.5,523.95 L153.8,523.95 L157.2,523.95 L160.5,523.95 L161.3,523.99 L162.1,524.09 L162.8,524.26 L163.4,524.48 L164.0,524.77 L164.4,525.11 L164.8,525.54 L165.0,526.20 L165.0,526.20 L164.8,526.86 L164.4,527.29 L164.0,527.63 L163.4,527.92 L162.8,528.14 L162.1,528.31 L161.3,528.41 L160.5,528.45 L157.2,528.45 L153.8,528.45 L150.5,528.45 L147.2,528.45 L146.4,528.41 L145.6,528.31 L144.9,528.14 L144.3,527.92 L143.7,527.63 L143.3,527.29 L142.9,526.86 L142.7,526.20Z" fill="#000" opacity="0.22" transform="translate(0,526.20) scale(1,1.9) translate(0,-526.20)"/><path d="M168.0,527.00 L168.2,526.56 L168.5,526.27 L168.9,526.04 L169.4,525.86 L170.0,525.71 L170.6,525.60 L171.3,525.52 L172.1,525.50 L174.7,525.50 L177.2,525.50 L179.8,525.50 L182.4,525.50 L183.2,525.52 L183.9,525.60 L184.5,525.71 L185.1,525.86 L185.6,526.04 L186.0,526.27 L186.3,526.56 L186.5,527.00 L186.5,527.00 L186.3,527.44 L186.0,527.73 L185.6,527.96 L185.1,528.14 L184.5,528.29 L183.9,528.40 L183.2,528.48 L182.4,528.50 L179.8,528.50 L177.2,528.50 L174.7,528.50 L172.1,528.50 L171.3,528.48 L170.6,528.40 L170.0,528.29 L169.4,528.14 L168.9,527.96 L168.5,527.73 L168.2,527.44 L168.0,527.00Z" fill="#000" opacity="0.21" transform="translate(0,527.00) scale(1,1.9) translate(0,-527.00)"/><path d="M190.4,527.00 L190.6,526.56 L190.9,526.27 L191.3,526.04 L191.8,525.86 L192.4,525.71 L193.0,525.60 L193.7,525.52 L194.4,525.50 L197.0,525.50 L199.6,525.50 L202.2,525.50 L204.8,525.50 L205.5,525.52 L206.2,525.60 L206.8,525.71 L207.4,525.86 L207.9,526.04 L208.3,526.27 L208.6,526.56 L208.8,527.00 L208.8,527.00 L208.6,527.44 L208.3,527.73 L207.9,527.96 L207.4,528.14 L206.8,528.29 L206.2,528.40 L205.5,528.48 L204.8,528.50 L202.2,528.50 L199.6,528.50 L197.0,528.50 L194.4,528.50 L193.7,528.48 L193.0,528.40 L192.4,528.29 L191.8,528.14 L191.3,527.96 L190.9,527.73 L190.6,527.44 L190.4,527.00Z" fill="#000" opacity="0.21" transform="translate(0,527.00) scale(1,1.9) translate(0,-527.00)"/></g>
<g filter="url(#bl)">
<path d="M142.7,526.20 L142.9,525.54 L143.3,525.11 L143.7,524.77 L144.3,524.48 L144.9,524.26 L145.6,524.09 L146.4,523.99 L147.2,523.95 L150.5,523.95 L153.8,523.95 L157.2,523.95 L160.5,523.95 L161.3,523.99 L162.1,524.09 L162.8,524.26 L163.4,524.48 L164.0,524.77 L164.4,525.11 L164.8,525.54 L165.0,526.20 L165.0,526.20 L164.8,526.86 L164.4,527.29 L164.0,527.63 L163.4,527.92 L162.8,528.14 L162.1,528.31 L161.3,528.41 L160.5,528.45 L157.2,528.45 L153.8,528.45 L150.5,528.45 L147.2,528.45 L146.4,528.41 L145.6,528.31 L144.9,528.14 L144.3,527.92 L143.7,527.63 L143.3,527.29 L142.9,526.86 L142.7,526.20Z" fill="#080808"/>
<path d="M168.0,527.00 L168.2,526.56 L168.5,526.27 L168.9,526.04 L169.4,525.86 L170.0,525.71 L170.6,525.60 L171.3,525.52 L172.1,525.50 L174.7,525.50 L177.2,525.50 L179.8,525.50 L182.4,525.50 L183.2,525.52 L183.9,525.60 L184.5,525.71 L185.1,525.86 L185.6,526.04 L186.0,526.27 L186.3,526.56 L186.5,527.00 L186.5,527.00 L186.3,527.44 L186.0,527.73 L185.6,527.96 L185.1,528.14 L184.5,528.29 L183.9,528.40 L183.2,528.48 L182.4,528.50 L179.8,528.50 L177.2,528.50 L174.7,528.50 L172.1,528.50 L171.3,528.48 L170.6,528.40 L170.0,528.29 L169.4,528.14 L168.9,527.96 L168.5,527.73 L168.2,527.44 L168.0,527.00Z" fill="#141414"/>
<path d="M190.4,527.00 L190.6,526.56 L190.9,526.27 L191.3,526.04 L191.8,525.86 L192.4,525.71 L193.0,525.60 L193.7,525.52 L194.4,525.50 L197.0,525.50 L199.6,525.50 L202.2,525.50 L204.8,525.50 L205.5,525.52 L206.2,525.60 L206.8,525.71 L207.4,525.86 L207.9,526.04 L208.3,526.27 L208.6,526.56 L208.8,527.00 L208.8,527.00 L208.6,527.44 L208.3,527.73 L207.9,527.96 L207.4,528.14 L206.8,528.29 L206.2,528.40 L205.5,528.48 L204.8,528.50 L202.2,528.50 L199.6,528.50 L197.0,528.50 L194.4,528.50 L193.7,528.48 L193.0,528.40 L192.4,528.29 L191.8,528.14 L191.3,527.96 L190.9,527.73 L190.6,527.44 L190.4,527.00Z" fill="#141414"/>
</g>
<rect x="140.8" y="518.9" width="70.10" height="13.30" rx="0" fill="none" stroke="#141414" stroke-width="1.1"/>
<rect x="140.3" y="534.9" width="71.10" height="14.00" fill="#e9e9e9" stroke="none"/>
<g filter="url(#bh)"><path d="M142.0,542.70 L142.2,542.33 L142.6,542.09 L143.0,541.90 L143.6,541.75 L144.2,541.62 L144.9,541.53 L145.7,541.47 L146.5,541.45 L149.6,541.45 L152.8,541.45 L155.9,541.45 L159.0,541.45 L159.8,541.47 L160.6,541.53 L161.3,541.62 L161.9,541.75 L162.5,541.90 L162.9,542.09 L163.3,542.33 L163.5,542.70 L163.5,542.70 L163.3,543.07 L162.9,543.31 L162.5,543.50 L161.9,543.65 L161.3,543.78 L160.6,543.87 L159.8,543.93 L159.0,543.95 L155.9,543.95 L152.8,543.95 L149.6,543.95 L146.5,543.95 L145.7,543.93 L144.9,543.87 L144.2,543.78 L143.6,543.65 L143.0,543.50 L142.6,543.31 L142.2,543.07 L142.0,542.70Z" fill="#000" opacity="0.20" transform="translate(0,542.70) scale(1,1.9) translate(0,-542.70)"/><path d="M166.5,542.70 L166.7,542.04 L167.1,541.61 L167.5,541.27 L168.1,540.98 L168.7,540.76 L169.4,540.59 L170.2,540.49 L171.0,540.45 L173.9,540.45 L176.9,540.45 L179.9,540.45 L182.8,540.45 L183.6,540.49 L184.4,540.59 L185.1,540.76 L185.7,540.98 L186.3,541.27 L186.7,541.61 L187.1,542.04 L187.3,542.70 L187.3,542.70 L187.1,543.36 L186.7,543.79 L186.3,544.13 L185.7,544.42 L185.1,544.64 L184.4,544.81 L183.6,544.91 L182.8,544.95 L179.9,544.95 L176.9,544.95 L173.9,544.95 L171.0,544.95 L170.2,544.91 L169.4,544.81 L168.7,544.64 L168.1,544.42 L167.5,544.13 L167.1,543.79 L166.7,543.36 L166.5,542.70Z" fill="#000" opacity="0.22" transform="translate(0,542.70) scale(1,1.9) translate(0,-542.70)"/><path d="M188.8,542.70 L189.0,542.04 L189.4,541.61 L189.8,541.27 L190.4,540.98 L191.0,540.76 L191.7,540.59 L192.5,540.49 L193.3,540.45 L196.6,540.45 L199.8,540.45 L203.1,540.45 L206.3,540.45 L206.9,540.45 L207.4,540.45 L208.0,540.45 L208.6,540.45 L209.1,540.45 L209.7,540.45 L210.2,540.45 L210.8,540.45 L210.8,544.95 L210.2,544.95 L209.7,544.95 L209.1,544.95 L208.6,544.95 L208.0,544.95 L207.4,544.95 L206.9,544.95 L206.3,544.95 L203.1,544.95 L199.8,544.95 L196.6,544.95 L193.3,544.95 L192.5,544.91 L191.7,544.81 L191.0,544.64 L190.4,544.42 L189.8,544.13 L189.4,543.79 L189.0,543.36 L188.8,542.70Z" fill="#000" opacity="0.22" transform="translate(0,542.70) scale(1,1.9) translate(0,-542.70)"/></g>
<g filter="url(#bl)">
<path d="M142.0,542.70 L142.2,542.33 L142.6,542.09 L143.0,541.90 L143.6,541.75 L144.2,541.62 L144.9,541.53 L145.7,541.47 L146.5,541.45 L149.6,541.45 L152.8,541.45 L155.9,541.45 L159.0,541.45 L159.8,541.47 L160.6,541.53 L161.3,541.62 L161.9,541.75 L162.5,541.90 L162.9,542.09 L163.3,542.33 L163.5,542.70 L163.5,542.70 L163.3,543.07 L162.9,543.31 L162.5,543.50 L161.9,543.65 L161.3,543.78 L160.6,543.87 L159.8,543.93 L159.0,543.95 L155.9,543.95 L152.8,543.95 L149.6,543.95 L146.5,543.95 L145.7,543.93 L144.9,543.87 L144.2,543.78 L143.6,543.65 L143.0,543.50 L142.6,543.31 L142.2,543.07 L142.0,542.70Z" fill="#1f1f1f"/>
<path d="M166.5,542.70 L166.7,542.04 L167.1,541.61 L167.5,541.27 L168.1,540.98 L168.7,540.76 L169.4,540.59 L170.2,540.49 L171.0,540.45 L173.9,540.45 L176.9,540.45 L179.9,540.45 L182.8,540.45 L183.6,540.49 L184.4,540.59 L185.1,540.76 L185.7,540.98 L186.3,541.27 L186.7,541.61 L187.1,542.04 L187.3,542.70 L187.3,542.70 L187.1,543.36 L186.7,543.79 L186.3,544.13 L185.7,544.42 L185.1,544.64 L184.4,544.81 L183.6,544.91 L182.8,544.95 L179.9,544.95 L176.9,544.95 L173.9,544.95 L171.0,544.95 L170.2,544.91 L169.4,544.81 L168.7,544.64 L168.1,544.42 L167.5,544.13 L167.1,543.79 L166.7,543.36 L166.5,542.70Z" fill="#080808"/>
<path d="M188.8,542.70 L189.0,542.04 L189.4,541.61 L189.8,541.27 L190.4,540.98 L191.0,540.76 L191.7,540.59 L192.5,540.49 L193.3,540.45 L196.6,540.45 L199.8,540.45 L203.1,540.45 L206.3,540.45 L206.9,540.45 L207.4,540.45 L208.0,540.45 L208.6,540.45 L209.1,540.45 L209.7,540.45 L210.2,540.45 L210.8,540.45 L210.8,544.95 L210.2,544.95 L209.7,544.95 L209.1,544.95 L208.6,544.95 L208.0,544.95 L207.4,544.95 L206.9,544.95 L206.3,544.95 L203.1,544.95 L199.8,544.95 L196.6,544.95 L193.3,544.95 L192.5,544.91 L191.7,544.81 L191.0,544.64 L190.4,544.42 L189.8,544.13 L189.4,543.79 L189.0,543.36 L188.8,542.70Z" fill="#080808"/>
</g>
<rect x="140.8" y="535.4" width="70.10" height="13.40" rx="0" fill="none" stroke="#141414" stroke-width="1.1"/>
<rect x="140.3" y="555.0" width="71.10" height="14.30" fill="#e9e9e9" stroke="none"/>
<g filter="url(#bh)"><path d="M143.0,562.80 L143.2,562.40 L143.6,562.15 L144.0,561.94 L144.6,561.77 L145.2,561.64 L145.9,561.54 L146.7,561.47 L147.5,561.45 L150.8,561.45 L154.0,561.45 L157.2,561.45 L160.5,561.45 L161.3,561.47 L162.1,561.54 L162.8,561.64 L163.4,561.77 L164.0,561.94 L164.4,562.15 L164.8,562.40 L165.0,562.80 L165.0,562.80 L164.8,563.20 L164.4,563.45 L164.0,563.66 L163.4,563.83 L162.8,563.96 L162.1,564.06 L161.3,564.13 L160.5,564.15 L157.2,564.15 L154.0,564.15 L150.8,564.15 L147.5,564.15 L146.7,564.13 L145.9,564.06 L145.2,563.96 L144.6,563.83 L144.0,563.66 L143.6,563.45 L143.2,563.20 L143.0,562.80Z" fill="#000" opacity="0.21" transform="translate(0,562.80) scale(1,1.9) translate(0,-562.80)"/><path d="M143.0,565.90 L143.2,565.56 L143.6,565.34 L144.0,565.17 L144.6,565.02 L145.2,564.91 L145.9,564.82 L146.7,564.77 L147.5,564.75 L150.8,564.75 L154.0,564.75 L157.2,564.75 L160.5,564.75 L161.3,564.77 L162.1,564.82 L162.8,564.91 L163.4,565.02 L164.0,565.17 L164.4,565.34 L164.8,565.56 L165.0,565.90 L165.0,565.90 L164.8,566.24 L164.4,566.46 L164.0,566.63 L163.4,566.78 L162.8,566.89 L162.1,566.98 L161.3,567.03 L160.5,567.05 L157.2,567.05 L154.0,567.05 L150.8,567.05 L147.5,567.05 L146.7,567.03 L145.9,566.98 L145.2,566.89 L144.6,566.78 L144.0,566.63 L143.6,566.46 L143.2,566.24 L143.0,565.90Z" fill="#000" opacity="0.18" transform="translate(0,565.90) scale(1,1.9) translate(0,-565.90)"/><path d="M165.0,562.80 L165.2,562.40 L165.6,562.15 L166.0,561.94 L166.6,561.77 L167.2,561.64 L167.9,561.54 L168.7,561.47 L169.5,561.45 L172.8,561.45 L176.0,561.45 L179.2,561.45 L182.5,561.45 L183.3,561.47 L184.1,561.54 L184.8,561.64 L185.4,561.77 L186.0,561.94 L186.4,562.15 L186.8,562.40 L187.0,562.80 L187.0,562.80 L186.8,563.20 L186.4,563.45 L186.0,563.66 L185.4,563.83 L184.8,563.96 L184.1,564.06 L183.3,564.13 L182.5,564.15 L179.2,564.15 L176.0,564.15 L172.8,564.15 L169.5,564.15 L168.7,564.13 L167.9,564.06 L167.2,563.96 L166.6,563.83 L166.0,563.66 L165.6,563.45 L165.2,563.20 L165.0,562.80Z" fill="#000" opacity="0.20" transform="translate(0,562.80) scale(1,1.9) translate(0,-562.80)"/><path d="M165.0,565.90 L165.2,565.56 L165.6,565.34 L166.0,565.17 L166.6,565.02 L167.2,564.91 L167.9,564.82 L168.7,564.77 L169.5,564.75 L172.8,564.75 L176.0,564.75 L179.2,564.75 L182.5,564.75 L183.3,564.77 L184.1,564.82 L184.8,564.91 L185.4,565.02 L186.0,565.17 L186.4,565.34 L186.8,565.56 L187.0,565.90 L187.0,565.90 L186.8,566.24 L186.4,566.46 L186.0,566.63 L185.4,566.78 L184.8,566.89 L184.1,566.98 L183.3,567.03 L182.5,567.05 L179.2,567.05 L176.0,567.05 L172.8,567.05 L169.5,567.05 L168.7,567.03 L167.9,566.98 L167.2,566.89 L166.6,566.78 L166.0,566.63 L165.6,566.46 L165.2,566.24 L165.0,565.90Z" fill="#000" opacity="0.17" transform="translate(0,565.90) scale(1,1.9) translate(0,-565.90)"/><path d="M187.0,562.80 L187.2,562.43 L187.6,562.19 L188.0,562.00 L188.6,561.85 L189.2,561.72 L189.9,561.63 L190.7,561.57 L191.5,561.55 L194.8,561.55 L198.0,561.55 L201.2,561.55 L204.5,561.55 L205.3,561.57 L206.1,561.63 L206.8,561.72 L207.4,561.85 L208.0,562.00 L208.4,562.19 L208.8,562.43 L209.0,562.80 L209.0,562.80 L208.8,563.17 L208.4,563.41 L208.0,563.60 L207.4,563.75 L206.8,563.88 L206.1,563.97 L205.3,564.03 L204.5,564.05 L201.2,564.05 L198.0,564.05 L194.8,564.05 L191.5,564.05 L190.7,564.03 L189.9,563.97 L189.2,563.88 L188.6,563.75 L188.0,563.60 L187.6,563.41 L187.2,563.17 L187.0,562.80Z" fill="#000" opacity="0.19" transform="translate(0,562.80) scale(1,1.9) translate(0,-562.80)"/><path d="M187.0,565.90 L187.2,565.59 L187.6,565.39 L188.0,565.23 L188.6,565.10 L189.2,564.99 L189.9,564.92 L190.7,564.87 L191.5,564.85 L194.8,564.85 L198.0,564.85 L201.2,564.85 L204.5,564.85 L205.3,564.87 L206.1,564.92 L206.8,564.99 L207.4,565.10 L208.0,565.23 L208.4,565.39 L208.8,565.59 L209.0,565.90 L209.0,565.90 L208.8,566.21 L208.4,566.41 L208.0,566.57 L207.4,566.70 L206.8,566.81 L206.1,566.88 L205.3,566.93 L204.5,566.95 L201.2,566.95 L198.0,566.95 L194.8,566.95 L191.5,566.95 L190.7,566.93 L189.9,566.88 L189.2,566.81 L188.6,566.70 L188.0,566.57 L187.6,566.41 L187.2,566.21 L187.0,565.90Z" fill="#000" opacity="0.15" transform="translate(0,565.90) scale(1,1.9) translate(0,-565.90)"/></g>
<g filter="url(#bl)">
<path d="M143.0,562.80 L143.2,562.40 L143.6,562.15 L144.0,561.94 L144.6,561.77 L145.2,561.64 L145.9,561.54 L146.7,561.47 L147.5,561.45 L150.8,561.45 L154.0,561.45 L157.2,561.45 L160.5,561.45 L161.3,561.47 L162.1,561.54 L162.8,561.64 L163.4,561.77 L164.0,561.94 L164.4,562.15 L164.8,562.40 L165.0,562.80 L165.0,562.80 L164.8,563.20 L164.4,563.45 L164.0,563.66 L163.4,563.83 L162.8,563.96 L162.1,564.06 L161.3,564.13 L160.5,564.15 L157.2,564.15 L154.0,564.15 L150.8,564.15 L147.5,564.15 L146.7,564.13 L145.9,564.06 L145.2,563.96 L144.6,563.83 L144.0,563.66 L143.6,563.45 L143.2,563.20 L143.0,562.80Z" fill="#141414"/>
<path d="M143.0,565.90 L143.2,565.56 L143.6,565.34 L144.0,565.17 L144.6,565.02 L145.2,564.91 L145.9,564.82 L146.7,564.77 L147.5,564.75 L150.8,564.75 L154.0,564.75 L157.2,564.75 L160.5,564.75 L161.3,564.77 L162.1,564.82 L162.8,564.91 L163.4,565.02 L164.0,565.17 L164.4,565.34 L164.8,565.56 L165.0,565.90 L165.0,565.90 L164.8,566.24 L164.4,566.46 L164.0,566.63 L163.4,566.78 L162.8,566.89 L162.1,566.98 L161.3,567.03 L160.5,567.05 L157.2,567.05 L154.0,567.05 L150.8,567.05 L147.5,567.05 L146.7,567.03 L145.9,566.98 L145.2,566.89 L144.6,566.78 L144.0,566.63 L143.6,566.46 L143.2,566.24 L143.0,565.90Z" fill="#333333"/>
<path d="M165.0,562.80 L165.2,562.40 L165.6,562.15 L166.0,561.94 L166.6,561.77 L167.2,561.64 L167.9,561.54 L168.7,561.47 L169.5,561.45 L172.8,561.45 L176.0,561.45 L179.2,561.45 L182.5,561.45 L183.3,561.47 L184.1,561.54 L184.8,561.64 L185.4,561.77 L186.0,561.94 L186.4,562.15 L186.8,562.40 L187.0,562.80 L187.0,562.80 L186.8,563.20 L186.4,563.45 L186.0,563.66 L185.4,563.83 L184.8,563.96 L184.1,564.06 L183.3,564.13 L182.5,564.15 L179.2,564.15 L176.0,564.15 L172.8,564.15 L169.5,564.15 L168.7,564.13 L167.9,564.06 L167.2,563.96 L166.6,563.83 L166.0,563.66 L165.6,563.45 L165.2,563.20 L165.0,562.80Z" fill="#1f1f1f"/>
<path d="M165.0,565.90 L165.2,565.56 L165.6,565.34 L166.0,565.17 L166.6,565.02 L167.2,564.91 L167.9,564.82 L168.7,564.77 L169.5,564.75 L172.8,564.75 L176.0,564.75 L179.2,564.75 L182.5,564.75 L183.3,564.77 L184.1,564.82 L184.8,564.91 L185.4,565.02 L186.0,565.17 L186.4,565.34 L186.8,565.56 L187.0,565.90 L187.0,565.90 L186.8,566.24 L186.4,566.46 L186.0,566.63 L185.4,566.78 L184.8,566.89 L184.1,566.98 L183.3,567.03 L182.5,567.05 L179.2,567.05 L176.0,567.05 L172.8,567.05 L169.5,567.05 L168.7,567.03 L167.9,566.98 L167.2,566.89 L166.6,566.78 L166.0,566.63 L165.6,566.46 L165.2,566.24 L165.0,565.90Z" fill="#3e3e3e"/>
<path d="M187.0,562.80 L187.2,562.43 L187.6,562.19 L188.0,562.00 L188.6,561.85 L189.2,561.72 L189.9,561.63 L190.7,561.57 L191.5,561.55 L194.8,561.55 L198.0,561.55 L201.2,561.55 L204.5,561.55 L205.3,561.57 L206.1,561.63 L206.8,561.72 L207.4,561.85 L208.0,562.00 L208.4,562.19 L208.8,562.43 L209.0,562.80 L209.0,562.80 L208.8,563.17 L208.4,563.41 L208.0,563.60 L207.4,563.75 L206.8,563.88 L206.1,563.97 L205.3,564.03 L204.5,564.05 L201.2,564.05 L198.0,564.05 L194.8,564.05 L191.5,564.05 L190.7,564.03 L189.9,563.97 L189.2,563.88 L188.6,563.75 L188.0,563.60 L187.6,563.41 L187.2,563.17 L187.0,562.80Z" fill="#292929"/>
<path d="M187.0,565.90 L187.2,565.59 L187.6,565.39 L188.0,565.23 L188.6,565.10 L189.2,564.99 L189.9,564.92 L190.7,564.87 L191.5,564.85 L194.8,564.85 L198.0,564.85 L201.2,564.85 L204.5,564.85 L205.3,564.87 L206.1,564.92 L206.8,564.99 L207.4,565.10 L208.0,565.23 L208.4,565.39 L208.8,565.59 L209.0,565.90 L209.0,565.90 L208.8,566.21 L208.4,566.41 L208.0,566.57 L207.4,566.70 L206.8,566.81 L206.1,566.88 L205.3,566.93 L204.5,566.95 L201.2,566.95 L198.0,566.95 L194.8,566.95 L191.5,566.95 L190.7,566.93 L189.9,566.88 L189.2,566.81 L188.6,566.70 L188.0,566.57 L187.6,566.41 L187.2,566.21 L187.0,565.90Z" fill="#484848"/>
</g>
<rect x="140.8" y="555.5" width="70.10" height="13.70" rx="0" fill="none" stroke="#141414" stroke-width="1.1"/>
<rect x="140.3" y="571.9" width="71.10" height="14.30" fill="#e9e9e9" stroke="none"/>
<g filter="url(#bh)"><path d="M142.2,580.00 L142.4,579.62 L142.8,579.37 L143.2,579.17 L143.8,579.01 L144.4,578.88 L145.1,578.78 L145.9,578.72 L146.7,578.70 L161.6,578.70 L176.5,578.70 L191.4,578.70 L206.3,578.70 L206.9,578.70 L207.4,578.70 L208.0,578.70 L208.6,578.70 L209.1,578.70 L209.7,578.70 L210.2,578.70 L210.8,578.70 L210.8,581.30 L210.2,581.30 L209.7,581.30 L209.1,581.30 L208.6,581.30 L208.0,581.30 L207.4,581.30 L206.9,581.30 L206.3,581.30 L191.4,581.30 L176.5,581.30 L161.6,581.30 L146.7,581.30 L145.9,581.28 L145.1,581.22 L144.4,581.12 L143.8,580.99 L143.2,580.83 L142.8,580.63 L142.4,580.38 L142.2,580.00Z" fill="#000" opacity="0.22" transform="translate(0,580.00) scale(1,1.9) translate(0,-580.00)"/></g>
<g filter="url(#bl)">
<path d="M142.2,580.00 L142.4,579.62 L142.8,579.37 L143.2,579.17 L143.8,579.01 L144.4,578.88 L145.1,578.78 L145.9,578.72 L146.7,578.70 L161.6,578.70 L176.5,578.70 L191.4,578.70 L206.3,578.70 L206.9,578.70 L207.4,578.70 L208.0,578.70 L208.6,578.70 L209.1,578.70 L209.7,578.70 L210.2,578.70 L210.8,578.70 L210.8,581.30 L210.2,581.30 L209.7,581.30 L209.1,581.30 L208.6,581.30 L208.0,581.30 L207.4,581.30 L206.9,581.30 L206.3,581.30 L191.4,581.30 L176.5,581.30 L161.6,581.30 L146.7,581.30 L145.9,581.28 L145.1,581.22 L144.4,581.12 L143.8,580.99 L143.2,580.83 L142.8,580.63 L142.4,580.38 L142.2,580.00Z" fill="#080808"/>
</g>
<rect x="140.8" y="572.4" width="70.10" height="13.70" rx="0" fill="none" stroke="#141414" stroke-width="1.1"/>
<rect x="140.3" y="591.9" width="71.10" height="14.30" fill="#e9e9e9" stroke="none"/>
<g filter="url(#bh)"><path d="M142.2,600.00 L142.4,599.57 L142.8,599.30 L143.2,599.08 L143.8,598.89 L144.4,598.75 L145.1,598.64 L145.9,598.57 L146.7,598.55 L161.6,598.55 L176.5,598.55 L191.4,598.55 L206.3,598.55 L206.9,598.55 L207.4,598.55 L208.0,598.55 L208.6,598.55 L209.1,598.55 L209.7,598.55 L210.2,598.55 L210.8,598.55 L210.8,601.45 L210.2,601.45 L209.7,601.45 L209.1,601.45 L208.6,601.45 L208.0,601.45 L207.4,601.45 L206.9,601.45 L206.3,601.45 L191.4,601.45 L176.5,601.45 L161.6,601.45 L146.7,601.45 L145.9,601.43 L145.1,601.36 L144.4,601.25 L143.8,601.11 L143.2,600.92 L142.8,600.70 L142.4,600.43 L142.2,600.00Z" fill="#000" opacity="0.22" transform="translate(0,600.00) scale(1,1.9) translate(0,-600.00)"/></g>
<g filter="url(#bl)">
<path d="M142.2,600.00 L142.4,599.57 L142.8,599.30 L143.2,599.08 L143.8,598.89 L144.4,598.75 L145.1,598.64 L145.9,598.57 L146.7,598.55 L161.6,598.55 L176.5,598.55 L191.4,598.55 L206.3,598.55 L206.9,598.55 L207.4,598.55 L208.0,598.55 L208.6,598.55 L209.1,598.55 L209.7,598.55 L210.2,598.55 L210.8,598.55 L210.8,601.45 L210.2,601.45 L209.7,601.45 L209.1,601.45 L208.6,601.45 L208.0,601.45 L207.4,601.45 L206.9,601.45 L206.3,601.45 L191.4,601.45 L176.5,601.45 L161.6,601.45 L146.7,601.45 L145.9,601.43 L145.1,601.36 L144.4,601.25 L143.8,601.11 L143.2,600.92 L142.8,600.70 L142.4,600.43 L142.2,600.00Z" fill="#080808"/>
</g>
<rect x="140.8" y="592.4" width="70.10" height="13.70" rx="0" fill="none" stroke="#141414" stroke-width="1.1"/>
<rect x="318.4" y="445.8" width="71.90" height="14.30" fill="#c4c4c4" stroke="none"/>
<g filter="url(#bh)"><path d="M320.4,452.00 L320.6,451.34 L321.0,450.91 L321.4,450.57 L322.0,450.28 L322.6,450.06 L323.3,449.89 L324.1,449.79 L324.9,449.75 L328.6,449.75 L332.3,449.75 L336.0,449.75 L339.7,449.75 L340.5,449.79 L341.3,449.89 L342.0,450.06 L342.6,450.28 L343.2,450.57 L343.6,450.91 L344.0,451.34 L344.2,452.00 L344.2,452.00 L344.0,452.66 L343.6,453.09 L343.2,453.43 L342.6,453.72 L342.0,453.94 L341.3,454.11 L340.5,454.21 L339.7,454.25 L336.0,454.25 L332.3,454.25 L328.6,454.25 L324.9,454.25 L324.1,454.21 L323.3,454.11 L322.6,453.94 L322.0,453.72 L321.4,453.43 L321.0,453.09 L320.6,452.66 L320.4,452.00Z" fill="#000" opacity="0.32" transform="translate(0,452.00) scale(1,1.9) translate(0,-452.00)"/><path d="M372.0,452.00 L372.1,451.75 L372.4,451.59 L372.8,451.46 L373.2,451.35 L373.6,451.27 L374.1,451.20 L374.7,451.16 L375.3,451.15 L377.4,451.15 L379.5,451.15 L381.6,451.15 L383.7,451.15 L384.3,451.16 L384.9,451.20 L385.4,451.27 L385.8,451.35 L386.2,451.46 L386.6,451.59 L386.9,451.75 L387.0,452.00 L387.0,452.00 L386.9,452.25 L386.6,452.41 L386.2,452.54 L385.8,452.65 L385.4,452.73 L384.9,452.80 L384.3,452.84 L383.7,452.85 L381.6,452.85 L379.5,452.85 L377.4,452.85 L375.3,452.85 L374.7,452.84 L374.1,452.80 L373.6,452.73 L373.2,452.65 L372.8,452.54 L372.4,452.41 L372.1,452.25 L372.0,452.00Z" fill="#000" opacity="0.05" transform="translate(0,452.00) scale(1,1.9) translate(0,-452.00)"/></g>
<g filter="url(#bl)">
<path d="M320.4,452.00 L320.6,451.34 L321.0,450.91 L321.4,450.57 L322.0,450.28 L322.6,450.06 L323.3,449.89 L324.1,449.79 L324.9,449.75 L328.6,449.75 L332.3,449.75 L336.0,449.75 L339.7,449.75 L340.5,449.79 L341.3,449.89 L342.0,450.06 L342.6,450.28 L343.2,450.57 L343.6,450.91 L344.0,451.34 L344.2,452.00 L344.2,452.00 L344.0,452.66 L343.6,453.09 L343.2,453.43 L342.6,453.72 L342.0,453.94 L341.3,454.11 L340.5,454.21 L339.7,454.25 L336.0,454.25 L332.3,454.25 L328.6,454.25 L324.9,454.25 L324.1,454.21 L323.3,454.11 L322.6,453.94 L322.0,453.72 L321.4,453.43 L321.0,453.09 L320.6,452.66 L320.4,452.00Z" fill="#080808"/>
<path d="M372.0,452.00 L372.1,451.75 L372.4,451.59 L372.8,451.46 L373.2,451.35 L373.6,451.27 L374.1,451.20 L374.7,451.16 L375.3,451.15 L377.4,451.15 L379.5,451.15 L381.6,451.15 L383.7,451.15 L384.3,451.16 L384.9,451.20 L385.4,451.27 L385.8,451.35 L386.2,451.46 L386.6,451.59 L386.9,451.75 L387.0,452.00 L387.0,452.00 L386.9,452.25 L386.6,452.41 L386.2,452.54 L385.8,452.65 L385.4,452.73 L384.9,452.80 L384.3,452.84 L383.7,452.85 L381.6,452.85 L379.5,452.85 L377.4,452.85 L375.3,452.85 L374.7,452.84 L374.1,452.80 L373.6,452.73 L373.2,452.65 L372.8,452.54 L372.4,452.41 L372.1,452.25 L372.0,452.00Z" fill="#bababa"/>
</g>
<rect x="318.9" y="446.3" width="70.90" height="13.70" rx="0" fill="none" stroke="#141414" stroke-width="1.1"/>
<rect x="318.4" y="461.90000000000003" width="71.90" height="14.60" fill="#c4c4c4" stroke="none"/>
<g filter="url(#bh)"><path d="M319.0,467.95 L319.6,467.95 L320.1,467.95 L320.7,467.95 L321.2,467.95 L321.8,467.95 L322.4,467.95 L322.9,467.95 L323.5,467.95 L338.9,467.95 L354.4,467.95 L369.8,467.95 L385.2,467.95 L385.8,467.95 L386.3,467.95 L386.9,467.95 L387.4,467.95 L388.0,467.95 L388.6,467.95 L389.1,467.95 L389.7,467.95 L389.7,471.05 L389.1,471.05 L388.6,471.05 L388.0,471.05 L387.4,471.05 L386.9,471.05 L386.3,471.05 L385.8,471.05 L385.2,471.05 L369.8,471.05 L354.4,471.05 L338.9,471.05 L323.5,471.05 L322.9,471.05 L322.4,471.05 L321.8,471.05 L321.2,471.05 L320.7,471.05 L320.1,471.05 L319.6,471.05 L319.0,471.05Z" fill="#000" opacity="0.32" transform="translate(0,469.50) scale(1,1.9) translate(0,-469.50)"/></g>
<g filter="url(#bl)">
<path d="M319.0,467.95 L319.6,467.95 L320.1,467.95 L320.7,467.95 L321.2,467.95 L321.8,467.95 L322.4,467.95 L322.9,467.95 L323.5,467.95 L338.9,467.95 L354.4,467.95 L369.8,467.95 L385.2,467.95 L385.8,467.95 L386.3,467.95 L386.9,467.95 L387.4,467.95 L388.0,467.95 L388.6,467.95 L389.1,467.95 L389.7,467.95 L389.7,471.05 L389.1,471.05 L388.6,471.05 L388.0,471.05 L387.4,471.05 L386.9,471.05 L386.3,471.05 L385.8,471.05 L385.2,471.05 L369.8,471.05 L354.4,471.05 L338.9,471.05 L323.5,471.05 L322.9,471.05 L322.4,471.05 L321.8,471.05 L321.2,471.05 L320.7,471.05 L320.1,471.05 L319.6,471.05 L319.0,471.05Z" fill="#080808"/>
</g>
<rect x="318.9" y="462.40000000000003" width="70.90" height="14.00" rx="0" fill="none" stroke="#141414" stroke-width="1.1"/>
<rect x="318.4" y="481.90000000000003" width="71.90" height="14.70" fill="#c4c4c4" stroke="none"/>
<g filter="url(#bh)"><path d="M320.4,489.50 L320.6,488.54 L321.0,487.93 L321.4,487.43 L322.0,487.02 L322.6,486.70 L323.3,486.46 L324.1,486.30 L324.9,486.25 L328.0,486.25 L331.2,486.25 L334.4,486.25 L337.5,486.25 L338.3,486.30 L339.1,486.46 L339.8,486.70 L340.4,487.02 L341.0,487.43 L341.4,487.93 L341.8,488.54 L342.0,489.50 L342.0,489.50 L341.8,490.46 L341.4,491.07 L341.0,491.57 L340.4,491.98 L339.8,492.30 L339.1,492.54 L338.3,492.70 L337.5,492.75 L334.4,492.75 L331.2,492.75 L328.0,492.75 L324.9,492.75 L324.1,492.70 L323.3,492.54 L322.6,492.30 L322.0,491.98 L321.4,491.57 L321.0,491.07 L320.6,490.46 L320.4,489.50Z" fill="#000" opacity="0.32" transform="translate(0,489.50) scale(1,1.9) translate(0,-489.50)"/><path d="M369.6,490.00 L369.8,489.71 L370.1,489.52 L370.5,489.36 L371.0,489.24 L371.5,489.14 L372.1,489.06 L372.8,489.02 L373.5,489.00 L376.0,489.00 L378.5,489.00 L380.9,489.00 L383.4,489.00 L384.1,489.02 L384.8,489.06 L385.4,489.14 L385.9,489.24 L386.4,489.36 L386.8,489.52 L387.1,489.71 L387.3,490.00 L387.3,490.00 L387.1,490.29 L386.8,490.48 L386.4,490.64 L385.9,490.76 L385.4,490.86 L384.8,490.94 L384.1,490.98 L383.4,491.00 L380.9,491.00 L378.5,491.00 L376.0,491.00 L373.5,491.00 L372.8,490.98 L372.1,490.94 L371.5,490.86 L371.0,490.76 L370.5,490.64 L370.1,490.48 L369.8,490.29 L369.6,490.00Z" fill="#000" opacity="0.04" transform="translate(0,490.00) scale(1,1.9) translate(0,-490.00)"/></g>
<g filter="url(#bl)">
<path d="M320.4,489.50 L320.6,488.54 L321.0,487.93 L321.4,487.43 L322.0,487.02 L322.6,486.70 L323.3,486.46 L324.1,486.30 L324.9,486.25 L328.0,486.25 L331.2,486.25 L334.4,486.25 L337.5,486.25 L338.3,486.30 L339.1,486.46 L339.8,486.70 L340.4,487.02 L341.0,487.43 L341.4,487.93 L341.8,488.54 L342.0,489.50 L342.0,489.50 L341.8,490.46 L341.4,491.07 L341.0,491.57 L340.4,491.98 L339.8,492.30 L339.1,492.54 L338.3,492.70 L337.5,492.75 L334.4,492.75 L331.2,492.75 L328.0,492.75 L324.9,492.75 L324.1,492.70 L323.3,492.54 L322.6,492.30 L322.0,491.98 L321.4,491.57 L321.0,491.07 L320.6,490.46 L320.4,489.50Z" fill="#080808"/>
<path d="M369.6,490.00 L369.8,489.71 L370.1,489.52 L370.5,489.36 L371.0,489.24 L371.5,489.14 L372.1,489.06 L372.8,489.02 L373.5,489.00 L376.0,489.00 L378.5,489.00 L380.9,489.00 L383.4,489.00 L384.1,489.02 L384.8,489.06 L385.4,489.14 L385.9,489.24 L386.4,489.36 L386.8,489.52 L387.1,489.71 L387.3,490.00 L387.3,490.00 L387.1,490.29 L386.8,490.48 L386.4,490.64 L385.9,490.76 L385.4,490.86 L384.8,490.94 L384.1,490.98 L383.4,491.00 L380.9,491.00 L378.5,491.00 L376.0,491.00 L373.5,491.00 L372.8,490.98 L372.1,490.94 L371.5,490.86 L371.0,490.76 L370.5,490.64 L370.1,490.48 L369.8,490.29 L369.6,490.00Z" fill="#c0c0c0"/>
</g>
<rect x="318.9" y="482.40000000000003" width="70.90" height="14.10" rx="0" fill="none" stroke="#141414" stroke-width="1.1"/>
<rect x="318.4" y="498.0" width="71.90" height="14.80" fill="#c4c4c4" stroke="none"/>
<g filter="url(#bh)"><path d="M319.0,504.75 L319.6,504.75 L320.1,504.75 L320.7,504.75 L321.2,504.75 L321.8,504.75 L322.4,504.75 L322.9,504.75 L323.5,504.75 L326.4,504.75 L329.3,504.75 L332.2,504.75 L335.1,504.75 L335.9,504.77 L336.7,504.83 L337.4,504.92 L338.0,505.05 L338.6,505.20 L339.0,505.39 L339.4,505.63 L339.6,506.00 L339.6,506.00 L339.4,506.37 L339.0,506.61 L338.6,506.80 L338.0,506.95 L337.4,507.08 L336.7,507.17 L335.9,507.23 L335.1,507.25 L332.2,507.25 L329.3,507.25 L326.4,507.25 L323.5,507.25 L322.9,507.25 L322.4,507.25 L321.8,507.25 L321.2,507.25 L320.7,507.25 L320.1,507.25 L319.6,507.25 L319.0,507.25Z" fill="#000" opacity="0.30" transform="translate(0,506.00) scale(1,1.9) translate(0,-506.00)"/><path d="M343.5,506.00 L343.7,505.63 L344.1,505.39 L344.5,505.20 L345.1,505.05 L345.7,504.92 L346.4,504.83 L347.2,504.77 L348.0,504.75 L350.9,504.75 L353.9,504.75 L356.8,504.75 L359.7,504.75 L360.5,504.77 L361.3,504.83 L362.0,504.92 L362.6,505.05 L363.2,505.20 L363.6,505.39 L364.0,505.63 L364.2,506.00 L364.2,506.00 L364.0,506.37 L363.6,506.61 L363.2,506.80 L362.6,506.95 L362.0,507.08 L361.3,507.17 L360.5,507.23 L359.7,507.25 L356.8,507.25 L353.9,507.25 L350.9,507.25 L348.0,507.25 L347.2,507.23 L346.4,507.17 L345.7,507.08 L345.1,506.95 L344.5,506.80 L344.1,506.61 L343.7,506.37 L343.5,506.00Z" fill="#000" opacity="0.30" transform="translate(0,506.00) scale(1,1.9) translate(0,-506.00)"/><path d="M368.0,506.00 L368.2,505.63 L368.6,505.39 L369.0,505.20 L369.6,505.05 L370.2,504.92 L370.9,504.83 L371.6,504.77 L372.4,504.75 L375.2,504.75 L378.0,504.75 L380.8,504.75 L383.6,504.75 L384.4,504.77 L385.1,504.83 L385.8,504.92 L386.4,505.05 L387.0,505.20 L387.4,505.39 L387.8,505.63 L388.0,506.00 L388.0,506.00 L387.8,506.37 L387.4,506.61 L387.0,506.80 L386.4,506.95 L385.8,507.08 L385.1,507.17 L384.4,507.23 L383.6,507.25 L380.8,507.25 L378.0,507.25 L375.2,507.25 L372.4,507.25 L371.6,507.23 L370.9,507.17 L370.2,507.08 L369.6,506.95 L369.0,506.80 L368.6,506.61 L368.2,506.37 L368.0,506.00Z" fill="#000" opacity="0.30" transform="translate(0,506.00) scale(1,1.9) translate(0,-506.00)"/></g>
<g filter="url(#bl)">
<path d="M319.0,504.75 L319.6,504.75 L320.1,504.75 L320.7,504.75 L321.2,504.75 L321.8,504.75 L322.4,504.75 L322.9,504.75 L323.5,504.75 L326.4,504.75 L329.3,504.75 L332.2,504.75 L335.1,504.75 L335.9,504.77 L336.7,504.83 L337.4,504.92 L338.0,505.05 L338.6,505.20 L339.0,505.39 L339.4,505.63 L339.6,506.00 L339.6,506.00 L339.4,506.37 L339.0,506.61 L338.6,506.80 L338.0,506.95 L337.4,507.08 L336.7,507.17 L335.9,507.23 L335.1,507.25 L332.2,507.25 L329.3,507.25 L326.4,507.25 L323.5,507.25 L322.9,507.25 L322.4,507.25 L321.8,507.25 L321.2,507.25 L320.7,507.25 L320.1,507.25 L319.6,507.25 L319.0,507.25Z" fill="#141414"/>
<path d="M343.5,506.00 L343.7,505.63 L344.1,505.39 L344.5,505.20 L345.1,505.05 L345.7,504.92 L346.4,504.83 L347.2,504.77 L348.0,504.75 L350.9,504.75 L353.9,504.75 L356.8,504.75 L359.7,504.75 L360.5,504.77 L361.3,504.83 L362.0,504.92 L362.6,505.05 L363.2,505.20 L363.6,505.39 L364.0,505.63 L364.2,506.00 L364.2,506.00 L364.0,506.37 L363.6,506.61 L363.2,506.80 L362.6,506.95 L362.0,507.08 L361.3,507.17 L360.5,507.23 L359.7,507.25 L356.8,507.25 L353.9,507.25 L350.9,507.25 L348.0,507.25 L347.2,507.23 L346.4,507.17 L345.7,507.08 L345.1,506.95 L344.5,506.80 L344.1,506.61 L343.7,506.37 L343.5,506.00Z" fill="#141414"/>
<path d="M368.0,506.00 L368.2,505.63 L368.6,505.39 L369.0,505.20 L369.6,505.05 L370.2,504.92 L370.9,504.83 L371.6,504.77 L372.4,504.75 L375.2,504.75 L378.0,504.75 L380.8,504.75 L383.6,504.75 L384.4,504.77 L385.1,504.83 L385.8,504.92 L386.4,505.05 L387.0,505.20 L387.4,505.39 L387.8,505.63 L388.0,506.00 L388.0,506.00 L387.8,506.37 L387.4,506.61 L387.0,506.80 L386.4,506.95 L385.8,507.08 L385.1,507.17 L384.4,507.23 L383.6,507.25 L380.8,507.25 L378.0,507.25 L375.2,507.25 L372.4,507.25 L371.6,507.23 L370.9,507.17 L370.2,507.08 L369.6,506.95 L369.0,506.80 L368.6,506.61 L368.2,506.37 L368.0,506.00Z" fill="#141414"/>
</g>
<rect x="318.9" y="498.5" width="70.90" height="14.20" rx="0" fill="none" stroke="#141414" stroke-width="1.1"/>
<rect x="318.4" y="518.4" width="71.90" height="13.90" fill="#c4c4c4" stroke="none"/>
<g filter="url(#bh)"><path d="M319.0,523.80 L319.6,523.80 L320.1,523.80 L320.7,523.80 L321.2,523.80 L321.8,523.80 L322.4,523.80 L322.9,523.80 L323.5,523.80 L327.2,523.80 L330.9,523.80 L334.5,523.80 L338.2,523.80 L339.0,523.83 L339.8,523.93 L340.5,524.07 L341.1,524.27 L341.7,524.52 L342.1,524.83 L342.5,525.21 L342.7,525.80 L342.7,525.80 L342.5,526.39 L342.1,526.77 L341.7,527.08 L341.1,527.33 L340.5,527.53 L339.8,527.67 L339.0,527.77 L338.2,527.80 L334.5,527.80 L330.9,527.80 L327.2,527.80 L323.5,527.80 L322.9,527.80 L322.4,527.80 L321.8,527.80 L321.2,527.80 L320.7,527.80 L320.1,527.80 L319.6,527.80 L319.0,527.80Z" fill="#000" opacity="0.32" transform="translate(0,525.80) scale(1,1.9) translate(0,-525.80)"/></g>
<g filter="url(#bl)">
<path d="M319.0,523.80 L319.6,523.80 L320.1,523.80 L320.7,523.80 L321.2,523.80 L321.8,523.80 L322.4,523.80 L322.9,523.80 L323.5,523.80 L327.2,523.80 L330.9,523.80 L334.5,523.80 L338.2,523.80 L339.0,523.83 L339.8,523.93 L340.5,524.07 L341.1,524.27 L341.7,524.52 L342.1,524.83 L342.5,525.21 L342.7,525.80 L342.7,525.80 L342.5,526.39 L342.1,526.77 L341.7,527.08 L341.1,527.33 L340.5,527.53 L339.8,527.67 L339.0,527.77 L338.2,527.80 L334.5,527.80 L330.9,527.80 L327.2,527.80 L323.5,527.80 L322.9,527.80 L322.4,527.80 L321.8,527.80 L321.2,527.80 L320.7,527.80 L320.1,527.80 L319.6,527.80 L319.0,527.80Z" fill="#080808"/>
</g>
<rect x="318.9" y="518.9" width="70.90" height="13.30" rx="0" fill="none" stroke="#141414" stroke-width="1.1"/>
<rect x="318.4" y="534.9" width="71.90" height="14.00" fill="#c4c4c4" stroke="none"/>
<g filter="url(#bh)"><path d="M320.5,542.00 L320.7,541.54 L321.1,541.25 L321.5,541.01 L322.1,540.82 L322.7,540.66 L323.4,540.55 L324.2,540.48 L325.0,540.45 L327.9,540.45 L330.8,540.45 L333.6,540.45 L336.5,540.45 L337.3,540.48 L338.1,540.55 L338.8,540.66 L339.4,540.82 L340.0,541.01 L340.4,541.25 L340.8,541.54 L341.0,542.00 L341.0,542.00 L340.8,542.46 L340.4,542.75 L340.0,542.99 L339.4,543.18 L338.8,543.34 L338.1,543.45 L337.3,543.52 L336.5,543.55 L333.6,543.55 L330.8,543.55 L327.9,543.55 L325.0,543.55 L324.2,543.52 L323.4,543.45 L322.7,543.34 L322.1,543.18 L321.5,542.99 L321.1,542.75 L320.7,542.46 L320.5,542.00Z" fill="#000" opacity="0.30" transform="translate(0,542.00) scale(1,1.9) translate(0,-542.00)"/><path d="M343.5,542.00 L343.7,541.54 L344.1,541.25 L344.5,541.01 L345.1,540.82 L345.7,540.66 L346.4,540.55 L347.2,540.48 L348.0,540.45 L351.1,540.45 L354.2,540.45 L357.4,540.45 L360.5,540.45 L361.3,540.48 L362.1,540.55 L362.8,540.66 L363.4,540.82 L364.0,541.01 L364.4,541.25 L364.8,541.54 L365.0,542.00 L365.0,542.00 L364.8,542.46 L364.4,542.75 L364.0,542.99 L363.4,543.18 L362.8,543.34 L362.1,543.45 L361.3,543.52 L360.5,543.55 L357.4,543.55 L354.2,543.55 L351.1,543.55 L348.0,543.55 L347.2,543.52 L346.4,543.45 L345.7,543.34 L345.1,543.18 L344.5,542.99 L344.1,542.75 L343.7,542.46 L343.5,542.00Z" fill="#000" opacity="0.30" transform="translate(0,542.00) scale(1,1.9) translate(0,-542.00)"/><path d="M367.5,542.00 L367.7,541.54 L368.1,541.25 L368.5,541.01 L369.1,540.82 L369.7,540.66 L370.4,540.55 L371.2,540.48 L372.0,540.45 L375.0,540.45 L378.0,540.45 L381.0,540.45 L384.0,540.45 L384.8,540.48 L385.6,540.55 L386.3,540.66 L386.9,540.82 L387.5,541.01 L387.9,541.25 L388.3,541.54 L388.5,542.00 L388.5,542.00 L388.3,542.46 L387.9,542.75 L387.5,542.99 L386.9,543.18 L386.3,543.34 L385.6,543.45 L384.8,543.52 L384.0,543.55 L381.0,543.55 L378.0,543.55 L375.0,543.55 L372.0,543.55 L371.2,543.52 L370.4,543.45 L369.7,543.34 L369.1,543.18 L368.5,542.99 L368.1,542.75 L367.7,542.46 L367.5,542.00Z" fill="#000" opacity="0.30" transform="translate(0,542.00) scale(1,1.9) translate(0,-542.00)"/></g>
<g filter="url(#bl)">
<path d="M320.5,542.00 L320.7,541.54 L321.1,541.25 L321.5,541.01 L322.1,540.82 L322.7,540.66 L323.4,540.55 L324.2,540.48 L325.0,540.45 L327.9,540.45 L330.8,540.45 L333.6,540.45 L336.5,540.45 L337.3,540.48 L338.1,540.55 L338.8,540.66 L339.4,540.82 L340.0,541.01 L340.4,541.25 L340.8,541.54 L341.0,542.00 L341.0,542.00 L340.8,542.46 L340.4,542.75 L340.0,542.99 L339.4,543.18 L338.8,543.34 L338.1,543.45 L337.3,543.52 L336.5,543.55 L333.6,543.55 L330.8,543.55 L327.9,543.55 L325.0,543.55 L324.2,543.52 L323.4,543.45 L322.7,543.34 L322.1,543.18 L321.5,542.99 L321.1,542.75 L320.7,542.46 L320.5,542.00Z" fill="#141414"/>
<path d="M343.5,542.00 L343.7,541.54 L344.1,541.25 L344.5,541.01 L345.1,540.82 L345.7,540.66 L346.4,540.55 L347.2,540.48 L348.0,540.45 L351.1,540.45 L354.2,540.45 L357.4,540.45 L360.5,540.45 L361.3,540.48 L362.1,540.55 L362.8,540.66 L363.4,540.82 L364.0,541.01 L364.4,541.25 L364.8,541.54 L365.0,542.00 L365.0,542.00 L364.8,542.46 L364.4,542.75 L364.0,542.99 L363.4,543.18 L362.8,543.34 L362.1,543.45 L361.3,543.52 L360.5,543.55 L357.4,543.55 L354.2,543.55 L351.1,543.55 L348.0,543.55 L347.2,543.52 L346.4,543.45 L345.7,543.34 L345.1,543.18 L344.5,542.99 L344.1,542.75 L343.7,542.46 L343.5,542.00Z" fill="#141414"/>
<path d="M367.5,542.00 L367.7,541.54 L368.1,541.25 L368.5,541.01 L369.1,540.82 L369.7,540.66 L370.4,540.55 L371.2,540.48 L372.0,540.45 L375.0,540.45 L378.0,540.45 L381.0,540.45 L384.0,540.45 L384.8,540.48 L385.6,540.55 L386.3,540.66 L386.9,540.82 L387.5,541.01 L387.9,541.25 L388.3,541.54 L388.5,542.00 L388.5,542.00 L388.3,542.46 L387.9,542.75 L387.5,542.99 L386.9,543.18 L386.3,543.34 L385.6,543.45 L384.8,543.52 L384.0,543.55 L381.0,543.55 L378.0,543.55 L375.0,543.55 L372.0,543.55 L371.2,543.52 L370.4,543.45 L369.7,543.34 L369.1,543.18 L368.5,542.99 L368.1,542.75 L367.7,542.46 L367.5,542.00Z" fill="#141414"/>
</g>
<rect x="318.9" y="535.4" width="70.90" height="13.40" rx="0" fill="none" stroke="#141414" stroke-width="1.1"/>
<rect x="318.4" y="555.0" width="71.90" height="14.30" fill="#c4c4c4" stroke="none"/>
<g filter="url(#bh)"><path d="M319.0,559.35 L319.6,559.35 L320.1,559.35 L320.7,559.35 L321.2,559.35 L321.8,559.35 L322.4,559.35 L322.9,559.35 L323.5,559.35 L327.9,559.35 L332.4,559.35 L336.9,559.35 L341.3,559.35 L342.1,559.40 L342.9,559.56 L343.6,559.80 L344.2,560.12 L344.8,560.53 L345.2,561.03 L345.6,561.64 L345.8,562.60 L345.8,562.60 L345.6,563.56 L345.2,564.17 L344.8,564.67 L344.2,565.08 L343.6,565.40 L342.9,565.64 L342.1,565.80 L341.3,565.85 L336.9,565.85 L332.4,565.85 L327.9,565.85 L323.5,565.85 L322.9,565.85 L322.4,565.85 L321.8,565.85 L321.2,565.85 L320.7,565.85 L320.1,565.85 L319.6,565.85 L319.0,565.85Z" fill="#000" opacity="0.32" transform="translate(0,562.60) scale(1,1.9) translate(0,-562.60)"/><path d="M345.8,561.50 L346.0,561.28 L346.4,561.14 L346.8,561.02 L347.4,560.93 L348.0,560.85 L348.7,560.80 L349.4,560.76 L350.2,560.75 L353.0,560.75 L355.8,560.75 L358.6,560.75 L361.4,560.75 L362.2,560.76 L362.9,560.80 L363.6,560.85 L364.2,560.93 L364.8,561.02 L365.2,561.14 L365.6,561.28 L365.8,561.50 L365.8,561.50 L365.6,561.72 L365.2,561.86 L364.8,561.98 L364.2,562.07 L363.6,562.15 L362.9,562.20 L362.2,562.24 L361.4,562.25 L358.6,562.25 L355.8,562.25 L353.0,562.25 L350.2,562.25 L349.4,562.24 L348.7,562.20 L348.0,562.15 L347.4,562.07 L346.8,561.98 L346.4,561.86 L346.0,561.72 L345.8,561.50Z" fill="#000" opacity="0.16" transform="translate(0,561.50) scale(1,1.9) translate(0,-561.50)"/><path d="M345.8,564.00 L346.0,563.75 L346.4,563.59 L346.8,563.46 L347.4,563.35 L348.0,563.27 L348.7,563.20 L349.4,563.16 L350.2,563.15 L353.0,563.15 L355.8,563.15 L358.6,563.15 L361.4,563.15 L362.2,563.16 L362.9,563.20 L363.6,563.27 L364.2,563.35 L364.8,563.46 L365.2,563.59 L365.6,563.75 L365.8,564.00 L365.8,564.00 L365.6,564.25 L365.2,564.41 L364.8,564.54 L364.2,564.65 L363.6,564.73 L362.9,564.80 L362.2,564.84 L361.4,564.85 L358.6,564.85 L355.8,564.85 L353.0,564.85 L350.2,564.85 L349.4,564.84 L348.7,564.80 L348.0,564.73 L347.4,564.65 L346.8,564.54 L346.4,564.41 L346.0,564.25 L345.8,564.00Z" fill="#000" opacity="0.19" transform="translate(0,564.00) scale(1,1.9) translate(0,-564.00)"/><path d="M369.6,561.00 L369.8,560.71 L370.2,560.52 L370.6,560.36 L371.2,560.24 L371.8,560.14 L372.5,560.06 L373.2,560.02 L374.0,560.00 L376.8,560.00 L379.6,560.00 L382.5,560.00 L385.3,560.00 L385.8,560.00 L386.4,560.00 L386.9,560.00 L387.5,560.00 L388.0,560.00 L388.6,560.00 L389.1,560.00 L389.7,560.00 L389.7,562.00 L389.1,562.00 L388.6,562.00 L388.0,562.00 L387.5,562.00 L386.9,562.00 L386.4,562.00 L385.8,562.00 L385.3,562.00 L382.5,562.00 L379.6,562.00 L376.8,562.00 L374.0,562.00 L373.2,561.98 L372.5,561.94 L371.8,561.86 L371.2,561.76 L370.6,561.64 L370.2,561.48 L369.8,561.29 L369.6,561.00Z" fill="#000" opacity="0.26" transform="translate(0,561.00) scale(1,1.9) translate(0,-561.00)"/><path d="M369.6,564.00 L369.8,563.71 L370.2,563.52 L370.6,563.36 L371.2,563.24 L371.8,563.14 L372.5,563.06 L373.2,563.02 L374.0,563.00 L376.8,563.00 L379.6,563.00 L382.5,563.00 L385.3,563.00 L385.8,563.00 L386.4,563.00 L386.9,563.00 L387.5,563.00 L388.0,563.00 L388.6,563.00 L389.1,563.00 L389.7,563.00 L389.7,565.00 L389.1,565.00 L388.6,565.00 L388.0,565.00 L387.5,565.00 L386.9,565.00 L386.4,565.00 L385.8,565.00 L385.3,565.00 L382.5,565.00 L379.6,565.00 L376.8,565.00 L374.0,565.00 L373.2,564.98 L372.5,564.94 L371.8,564.86 L371.2,564.76 L370.6,564.64 L370.2,564.48 L369.8,564.29 L369.6,564.00Z" fill="#000" opacity="0.26" transform="translate(0,564.00) scale(1,1.9) translate(0,-564.00)"/></g>
<g filter="url(#bl)">
<path d="M319.0,559.35 L319.6,559.35 L320.1,559.35 L320.7,559.35 L321.2,559.35 L321.8,559.35 L322.4,559.35 L322.9,559.35 L323.5,559.35 L327.9,559.35 L332.4,559.35 L336.9,559.35 L341.3,559.35 L342.1,559.40 L342.9,559.56 L343.6,559.80 L344.2,560.12 L344.8,560.53 L345.2,561.03 L345.6,561.64 L345.8,562.60 L345.8,562.60 L345.6,563.56 L345.2,564.17 L344.8,564.67 L344.2,565.08 L343.6,565.40 L342.9,565.64 L342.1,565.80 L341.3,565.85 L336.9,565.85 L332.4,565.85 L327.9,565.85 L323.5,565.85 L322.9,565.85 L322.4,565.85 L321.8,565.85 L321.2,565.85 L320.7,565.85 L320.1,565.85 L319.6,565.85 L319.0,565.85Z" fill="#080808"/>
<path d="M345.8,561.50 L346.0,561.28 L346.4,561.14 L346.8,561.02 L347.4,560.93 L348.0,560.85 L348.7,560.80 L349.4,560.76 L350.2,560.75 L353.0,560.75 L355.8,560.75 L358.6,560.75 L361.4,560.75 L362.2,560.76 L362.9,560.80 L363.6,560.85 L364.2,560.93 L364.8,561.02 L365.2,561.14 L365.6,561.28 L365.8,561.50 L365.8,561.50 L365.6,561.72 L365.2,561.86 L364.8,561.98 L364.2,562.07 L363.6,562.15 L362.9,562.20 L362.2,562.24 L361.4,562.25 L358.6,562.25 L355.8,562.25 L353.0,562.25 L350.2,562.25 L349.4,562.24 L348.7,562.20 L348.0,562.15 L347.4,562.07 L346.8,561.98 L346.4,561.86 L346.0,561.72 L345.8,561.50Z" fill="#717171"/>
<path d="M345.8,564.00 L346.0,563.75 L346.4,563.59 L346.8,563.46 L347.4,563.35 L348.0,563.27 L348.7,563.20 L349.4,563.16 L350.2,563.15 L353.0,563.15 L355.8,563.15 L358.6,563.15 L361.4,563.15 L362.2,563.16 L362.9,563.20 L363.6,563.27 L364.2,563.35 L364.8,563.46 L365.2,563.59 L365.6,563.75 L365.8,564.00 L365.8,564.00 L365.6,564.25 L365.2,564.41 L364.8,564.54 L364.2,564.65 L363.6,564.73 L362.9,564.80 L362.2,564.84 L361.4,564.85 L358.6,564.85 L355.8,564.85 L353.0,564.85 L350.2,564.85 L349.4,564.84 L348.7,564.80 L348.0,564.73 L347.4,564.65 L346.8,564.54 L346.4,564.41 L346.0,564.25 L345.8,564.00Z" fill="#5d5d5d"/>
<path d="M369.6,561.00 L369.8,560.71 L370.2,560.52 L370.6,560.36 L371.2,560.24 L371.8,560.14 L372.5,560.06 L373.2,560.02 L374.0,560.00 L376.8,560.00 L379.6,560.00 L382.5,560.00 L385.3,560.00 L385.8,560.00 L386.4,560.00 L386.9,560.00 L387.5,560.00 L388.0,560.00 L388.6,560.00 L389.1,560.00 L389.7,560.00 L389.7,562.00 L389.1,562.00 L388.6,562.00 L388.0,562.00 L387.5,562.00 L386.9,562.00 L386.4,562.00 L385.8,562.00 L385.3,562.00 L382.5,562.00 L379.6,562.00 L376.8,562.00 L374.0,562.00 L373.2,561.98 L372.5,561.94 L371.8,561.86 L371.2,561.76 L370.6,561.64 L370.2,561.48 L369.8,561.29 L369.6,561.00Z" fill="#333333"/>
<path d="M369.6,564.00 L369.8,563.71 L370.2,563.52 L370.6,563.36 L371.2,563.24 L371.8,563.14 L372.5,563.06 L373.2,563.02 L374.0,563.00 L376.8,563.00 L379.6,563.00 L382.5,563.00 L385.3,563.00 L385.8,563.00 L386.4,563.00 L386.9,563.00 L387.5,563.00 L388.0,563.00 L388.6,563.00 L389.1,563.00 L389.7,563.00 L389.7,565.00 L389.1,565.00 L388.6,565.00 L388.0,565.00 L387.5,565.00 L386.9,565.00 L386.4,565.00 L385.8,565.00 L385.3,565.00 L382.5,565.00 L379.6,565.00 L376.8,565.00 L374.0,565.00 L373.2,564.98 L372.5,564.94 L371.8,564.86 L371.2,564.76 L370.6,564.64 L370.2,564.48 L369.8,564.29 L369.6,564.00Z" fill="#333333"/>
</g>
<rect x="318.9" y="555.5" width="70.90" height="13.70" rx="0" fill="none" stroke="#141414" stroke-width="1.1"/>
<rect x="318.4" y="571.9" width="71.90" height="14.30" fill="#c4c4c4" stroke="none"/>
<g filter="url(#bh)"><path d="M319.0,576.65 L319.6,576.65 L320.1,576.65 L320.7,576.65 L321.2,576.65 L321.8,576.65 L322.4,576.65 L322.9,576.65 L323.5,576.65 L327.0,576.65 L330.5,576.65 L334.0,576.65 L337.5,576.65 L338.3,576.67 L339.1,576.74 L339.8,576.84 L340.4,576.97 L341.0,577.14 L341.4,577.35 L341.8,577.60 L342.0,578.00 L342.0,578.00 L341.8,578.40 L341.4,578.65 L341.0,578.86 L340.4,579.03 L339.8,579.16 L339.1,579.26 L338.3,579.33 L337.5,579.35 L334.0,579.35 L330.5,579.35 L327.0,579.35 L323.5,579.35 L322.9,579.35 L322.4,579.35 L321.8,579.35 L321.2,579.35 L320.7,579.35 L320.1,579.35 L319.6,579.35 L319.0,579.35Z" fill="#000" opacity="0.30" transform="translate(0,578.00) scale(1,1.9) translate(0,-578.00)"/><path d="M319.0,580.85 L319.6,580.85 L320.1,580.85 L320.7,580.85 L321.2,580.85 L321.8,580.85 L322.4,580.85 L322.9,580.85 L323.5,580.85 L327.0,580.85 L330.5,580.85 L334.0,580.85 L337.5,580.85 L338.3,580.87 L339.1,580.91 L339.8,580.98 L340.4,581.08 L341.0,581.19 L341.4,581.34 L341.8,581.52 L342.0,581.80 L342.0,581.80 L341.8,582.08 L341.4,582.26 L341.0,582.41 L340.4,582.52 L339.8,582.62 L339.1,582.69 L338.3,582.73 L337.5,582.75 L334.0,582.75 L330.5,582.75 L327.0,582.75 L323.5,582.75 L322.9,582.75 L322.4,582.75 L321.8,582.75 L321.2,582.75 L320.7,582.75 L320.1,582.75 L319.6,582.75 L319.0,582.75Z" fill="#000" opacity="0.22" transform="translate(0,581.80) scale(1,1.9) translate(0,-581.80)"/><path d="M342.0,578.00 L342.2,577.60 L342.6,577.35 L343.0,577.14 L343.6,576.97 L344.2,576.84 L344.9,576.74 L345.7,576.67 L346.5,576.65 L350.2,576.65 L354.0,576.65 L357.8,576.65 L361.5,576.65 L362.3,576.67 L363.1,576.74 L363.8,576.84 L364.4,576.97 L365.0,577.14 L365.4,577.35 L365.8,577.60 L366.0,578.00 L366.0,578.00 L365.8,578.40 L365.4,578.65 L365.0,578.86 L364.4,579.03 L363.8,579.16 L363.1,579.26 L362.3,579.33 L361.5,579.35 L357.8,579.35 L354.0,579.35 L350.2,579.35 L346.5,579.35 L345.7,579.33 L344.9,579.26 L344.2,579.16 L343.6,579.03 L343.0,578.86 L342.6,578.65 L342.2,578.40 L342.0,578.00Z" fill="#000" opacity="0.30" transform="translate(0,578.00) scale(1,1.9) translate(0,-578.00)"/><path d="M342.0,581.80 L342.2,581.52 L342.6,581.34 L343.0,581.19 L343.6,581.08 L344.2,580.98 L344.9,580.91 L345.7,580.87 L346.5,580.85 L350.2,580.85 L354.0,580.85 L357.8,580.85 L361.5,580.85 L362.3,580.87 L363.1,580.91 L363.8,580.98 L364.4,581.08 L365.0,581.19 L365.4,581.34 L365.8,581.52 L366.0,581.80 L366.0,581.80 L365.8,582.08 L365.4,582.26 L365.0,582.41 L364.4,582.52 L363.8,582.62 L363.1,582.69 L362.3,582.73 L361.5,582.75 L357.8,582.75 L354.0,582.75 L350.2,582.75 L346.5,582.75 L345.7,582.73 L344.9,582.69 L344.2,582.62 L343.6,582.52 L343.0,582.41 L342.6,582.26 L342.2,582.08 L342.0,581.80Z" fill="#000" opacity="0.22" transform="translate(0,581.80) scale(1,1.9) translate(0,-581.80)"/><path d="M366.0,578.00 L366.2,577.60 L366.6,577.35 L367.0,577.14 L367.6,576.97 L368.2,576.84 L368.9,576.74 L369.7,576.67 L370.5,576.65 L374.2,576.65 L377.9,576.65 L381.5,576.65 L385.2,576.65 L385.8,576.65 L386.3,576.65 L386.9,576.65 L387.4,576.65 L388.0,576.65 L388.6,576.65 L389.1,576.65 L389.7,576.65 L389.7,579.35 L389.1,579.35 L388.6,579.35 L388.0,579.35 L387.4,579.35 L386.9,579.35 L386.3,579.35 L385.8,579.35 L385.2,579.35 L381.5,579.35 L377.9,579.35 L374.2,579.35 L370.5,579.35 L369.7,579.33 L368.9,579.26 L368.2,579.16 L367.6,579.03 L367.0,578.86 L366.6,578.65 L366.2,578.40 L366.0,578.00Z" fill="#000" opacity="0.30" transform="translate(0,578.00) scale(1,1.9) translate(0,-578.00)"/><path d="M366.0,581.80 L366.2,581.52 L366.6,581.34 L367.0,581.19 L367.6,581.08 L368.2,580.98 L368.9,580.91 L369.7,580.87 L370.5,580.85 L374.2,580.85 L377.9,580.85 L381.5,580.85 L385.2,580.85 L385.8,580.85 L386.3,580.85 L386.9,580.85 L387.4,580.85 L388.0,580.85 L388.6,580.85 L389.1,580.85 L389.7,580.85 L389.7,582.75 L389.1,582.75 L388.6,582.75 L388.0,582.75 L387.4,582.75 L386.9,582.75 L386.3,582.75 L385.8,582.75 L385.2,582.75 L381.5,582.75 L377.9,582.75 L374.2,582.75 L370.5,582.75 L369.7,582.73 L368.9,582.69 L368.2,582.62 L367.6,582.52 L367.0,582.41 L366.6,582.26 L366.2,582.08 L366.0,581.80Z" fill="#000" opacity="0.22" transform="translate(0,581.80) scale(1,1.9) translate(0,-581.80)"/></g>
<g filter="url(#bl)">
<path d="M319.0,576.65 L319.6,576.65 L320.1,576.65 L320.7,576.65 L321.2,576.65 L321.8,576.65 L322.4,576.65 L322.9,576.65 L323.5,576.65 L327.0,576.65 L330.5,576.65 L334.0,576.65 L337.5,576.65 L338.3,576.67 L339.1,576.74 L339.8,576.84 L340.4,576.97 L341.0,577.14 L341.4,577.35 L341.8,577.60 L342.0,578.00 L342.0,578.00 L341.8,578.40 L341.4,578.65 L341.0,578.86 L340.4,579.03 L339.8,579.16 L339.1,579.26 L338.3,579.33 L337.5,579.35 L334.0,579.35 L330.5,579.35 L327.0,579.35 L323.5,579.35 L322.9,579.35 L322.4,579.35 L321.8,579.35 L321.2,579.35 L320.7,579.35 L320.1,579.35 L319.6,579.35 L319.0,579.35Z" fill="#141414"/>
<path d="M319.0,580.85 L319.6,580.85 L320.1,580.85 L320.7,580.85 L321.2,580.85 L321.8,580.85 L322.4,580.85 L322.9,580.85 L323.5,580.85 L327.0,580.85 L330.5,580.85 L334.0,580.85 L337.5,580.85 L338.3,580.87 L339.1,580.91 L339.8,580.98 L340.4,581.08 L341.0,581.19 L341.4,581.34 L341.8,581.52 L342.0,581.80 L342.0,581.80 L341.8,582.08 L341.4,582.26 L341.0,582.41 L340.4,582.52 L339.8,582.62 L339.1,582.69 L338.3,582.73 L337.5,582.75 L334.0,582.75 L330.5,582.75 L327.0,582.75 L323.5,582.75 L322.9,582.75 L322.4,582.75 L321.8,582.75 L321.2,582.75 L320.7,582.75 L320.1,582.75 L319.6,582.75 L319.0,582.75Z" fill="#484848"/>
<path d="M342.0,578.00 L342.2,577.60 L342.6,577.35 L343.0,577.14 L343.6,576.97 L344.2,576.84 L344.9,576.74 L345.7,576.67 L346.5,576.65 L350.2,576.65 L354.0,576.65 L357.8,576.65 L361.5,576.65 L362.3,576.67 L363.1,576.74 L363.8,576.84 L364.4,576.97 L365.0,577.14 L365.4,577.35 L365.8,577.60 L366.0,578.00 L366.0,578.00 L365.8,578.40 L365.4,578.65 L365.0,578.86 L364.4,579.03 L363.8,579.16 L363.1,579.26 L362.3,579.33 L361.5,579.35 L357.8,579.35 L354.0,579.35 L350.2,579.35 L346.5,579.35 L345.7,579.33 L344.9,579.26 L344.2,579.16 L343.6,579.03 L343.0,578.86 L342.6,578.65 L342.2,578.40 L342.0,578.00Z" fill="#141414"/>
<path d="M342.0,581.80 L342.2,581.52 L342.6,581.34 L343.0,581.19 L343.6,581.08 L344.2,580.98 L344.9,580.91 L345.7,580.87 L346.5,580.85 L350.2,580.85 L354.0,580.85 L357.8,580.85 L361.5,580.85 L362.3,580.87 L363.1,580.91 L363.8,580.98 L364.4,581.08 L365.0,581.19 L365.4,581.34 L365.8,581.52 L366.0,581.80 L366.0,581.80 L365.8,582.08 L365.4,582.26 L365.0,582.41 L364.4,582.52 L363.8,582.62 L363.1,582.69 L362.3,582.73 L361.5,582.75 L357.8,582.75 L354.0,582.75 L350.2,582.75 L346.5,582.75 L345.7,582.73 L344.9,582.69 L344.2,582.62 L343.6,582.52 L343.0,582.41 L342.6,582.26 L342.2,582.08 L342.0,581.80Z" fill="#484848"/>
<path d="M366.0,578.00 L366.2,577.60 L366.6,577.35 L367.0,577.14 L367.6,576.97 L368.2,576.84 L368.9,576.74 L369.7,576.67 L370.5,576.65 L374.2,576.65 L377.9,576.65 L381.5,576.65 L385.2,576.65 L385.8,576.65 L386.3,576.65 L386.9,576.65 L387.4,576.65 L388.0,576.65 L388.6,576.65 L389.1,576.65 L389.7,576.65 L389.7,579.35 L389.1,579.35 L388.6,579.35 L388.0,579.35 L387.4,579.35 L386.9,579.35 L386.3,579.35 L385.8,579.35 L385.2,579.35 L381.5,579.35 L377.9,579.35 L374.2,579.35 L370.5,579.35 L369.7,579.33 L368.9,579.26 L368.2,579.16 L367.6,579.03 L367.0,578.86 L366.6,578.65 L366.2,578.40 L366.0,578.00Z" fill="#141414"/>
<path d="M366.0,581.80 L366.2,581.52 L366.6,581.34 L367.0,581.19 L367.6,581.08 L368.2,580.98 L368.9,580.91 L369.7,580.87 L370.5,580.85 L374.2,580.85 L377.9,580.85 L381.5,580.85 L385.2,580.85 L385.8,580.85 L386.3,580.85 L386.9,580.85 L387.4,580.85 L388.0,580.85 L388.6,580.85 L389.1,580.85 L389.7,580.85 L389.7,582.75 L389.1,582.75 L388.6,582.75 L388.0,582.75 L387.4,582.75 L386.9,582.75 L386.3,582.75 L385.8,582.75 L385.2,582.75 L381.5,582.75 L377.9,582.75 L374.2,582.75 L370.5,582.75 L369.7,582.73 L368.9,582.69 L368.2,582.62 L367.6,582.52 L367.0,582.41 L366.6,582.26 L366.2,582.08 L366.0,581.80Z" fill="#484848"/>
</g>
<rect x="318.9" y="572.4" width="70.90" height="13.70" rx="0" fill="none" stroke="#141414" stroke-width="1.1"/>
<rect x="318.4" y="591.9" width="71.90" height="14.30" fill="#c4c4c4" stroke="none"/>
<g filter="url(#bh)"><path d="M319.0,597.95 L319.6,597.95 L320.1,597.95 L320.7,597.95 L321.2,597.95 L321.8,597.95 L322.4,597.95 L322.9,597.95 L323.5,597.95 L338.9,597.95 L354.4,597.95 L369.8,597.95 L385.2,597.95 L385.8,597.95 L386.3,597.95 L386.9,597.95 L387.4,597.95 L388.0,597.95 L388.6,597.95 L389.1,597.95 L389.7,597.95 L389.7,601.25 L389.1,601.25 L388.6,601.25 L388.0,601.25 L387.4,601.25 L386.9,601.25 L386.3,601.25 L385.8,601.25 L385.2,601.25 L369.8,601.25 L354.4,601.25 L338.9,601.25 L323.5,601.25 L322.9,601.25 L322.4,601.25 L321.8,601.25 L321.2,601.25 L320.7,601.25 L320.1,601.25 L319.6,601.25 L319.0,601.25Z" fill="#000" opacity="0.32" transform="translate(0,599.60) scale(1,1.9) translate(0,-599.60)"/></g>
<g filter="url(#bl)">
<path d="M319.0,597.95 L319.6,597.95 L320.1,597.95 L320.7,597.95 L321.2,597.95 L321.8,597.95 L322.4,597.95 L322.9,597.95 L323.5,597.95 L338.9,597.95 L354.4,597.95 L369.8,597.95 L385.2,597.95 L385.8,597.95 L386.3,597.95 L386.9,597.95 L387.4,597.95 L388.0,597.95 L388.6,597.95 L389.1,597.95 L389.7,597.95 L389.7,601.25 L389.1,601.25 L388.6,601.25 L388.0,601.25 L387.4,601.25 L386.9,601.25 L386.3,601.25 L385.8,601.25 L385.2,601.25 L369.8,601.25 L354.4,601.25 L338.9,601.25 L323.5,601.25 L322.9,601.25 L322.4,601.25 L321.8,601.25 L321.2,601.25 L320.7,601.25 L320.1,601.25 L319.6,601.25 L319.0,601.25Z" fill="#080808"/>
</g>
<rect x="318.9" y="592.4" width="70.90" height="13.70" rx="0" fill="none" stroke="#141414" stroke-width="1.1"/>
<rect x="399.3" y="445.8" width="71.40" height="14.30" fill="#c0c0c0" stroke="none"/>
<g filter="url(#bh)"><path d="M401.2,452.30 L401.4,451.49 L401.8,450.97 L402.2,450.55 L402.8,450.20 L403.4,449.93 L404.1,449.72 L404.9,449.60 L405.7,449.55 L409.2,449.55 L412.7,449.55 L416.2,449.55 L419.7,449.55 L420.5,449.60 L421.3,449.72 L422.0,449.93 L422.6,450.20 L423.2,450.55 L423.6,450.97 L424.0,451.49 L424.2,452.30 L424.2,452.30 L424.0,453.11 L423.6,453.63 L423.2,454.05 L422.6,454.40 L422.0,454.67 L421.3,454.88 L420.5,455.00 L419.7,455.05 L416.2,455.05 L412.7,455.05 L409.2,455.05 L405.7,455.05 L404.9,455.00 L404.1,454.88 L403.4,454.67 L402.8,454.40 L402.2,454.05 L401.8,453.63 L401.4,453.11 L401.2,452.30Z" fill="#000" opacity="0.32" transform="translate(0,452.30) scale(1,1.9) translate(0,-452.30)"/><path d="M424.0,453.00 L424.2,452.78 L424.6,452.64 L425.0,452.52 L425.6,452.43 L426.2,452.35 L426.9,452.30 L427.6,452.26 L428.4,452.25 L431.3,452.25 L434.1,452.25 L436.9,452.25 L439.8,452.25 L440.6,452.26 L441.3,452.30 L442.0,452.35 L442.6,452.43 L443.2,452.52 L443.6,452.64 L444.0,452.78 L444.2,453.00 L444.2,453.00 L444.0,453.22 L443.6,453.36 L443.2,453.48 L442.6,453.57 L442.0,453.65 L441.3,453.70 L440.6,453.74 L439.8,453.75 L436.9,453.75 L434.1,453.75 L431.3,453.75 L428.4,453.75 L427.6,453.74 L426.9,453.70 L426.2,453.65 L425.6,453.57 L425.0,453.48 L424.6,453.36 L424.2,453.22 L424.0,453.00Z" fill="#000" opacity="0.10" transform="translate(0,453.00) scale(1,1.9) translate(0,-453.00)"/><path d="M448.0,452.80 L448.2,452.36 L448.6,452.07 L449.0,451.84 L449.6,451.66 L450.2,451.51 L450.9,451.40 L451.7,451.32 L452.5,451.30 L455.8,451.30 L459.0,451.30 L462.3,451.30 L465.6,451.30 L466.2,451.30 L466.7,451.30 L467.3,451.30 L467.8,451.30 L468.4,451.30 L469.0,451.30 L469.5,451.30 L470.1,451.30 L470.1,454.30 L469.5,454.30 L469.0,454.30 L468.4,454.30 L467.8,454.30 L467.3,454.30 L466.7,454.30 L466.2,454.30 L465.6,454.30 L462.3,454.30 L459.0,454.30 L455.8,454.30 L452.5,454.30 L451.7,454.28 L450.9,454.20 L450.2,454.09 L449.6,453.94 L449.0,453.76 L448.6,453.53 L448.2,453.24 L448.0,452.80Z" fill="#000" opacity="0.30" transform="translate(0,452.80) scale(1,1.9) translate(0,-452.80)"/></g>
<g filter="url(#bl)">
<path d="M401.2,452.30 L401.4,451.49 L401.8,450.97 L402.2,450.55 L402.8,450.20 L403.4,449.93 L404.1,449.72 L404.9,449.60 L405.7,449.55 L409.2,449.55 L412.7,449.55 L416.2,449.55 L419.7,449.55 L420.5,449.60 L421.3,449.72 L422.0,449.93 L422.6,450.20 L423.2,450.55 L423.6,450.97 L424.0,451.49 L424.2,452.30 L424.2,452.30 L424.0,453.11 L423.6,453.63 L423.2,454.05 L422.6,454.40 L422.0,454.67 L421.3,454.88 L420.5,455.00 L419.7,455.05 L416.2,455.05 L412.7,455.05 L409.2,455.05 L405.7,455.05 L404.9,455.00 L404.1,454.88 L403.4,454.67 L402.8,454.40 L402.2,454.05 L401.8,453.63 L401.4,453.11 L401.2,452.30Z" fill="#080808"/>
<path d="M424.0,453.00 L424.2,452.78 L424.6,452.64 L425.0,452.52 L425.6,452.43 L426.2,452.35 L426.9,452.30 L427.6,452.26 L428.4,452.25 L431.3,452.25 L434.1,452.25 L436.9,452.25 L439.8,452.25 L440.6,452.26 L441.3,452.30 L442.0,452.35 L442.6,452.43 L443.2,452.52 L443.6,452.64 L444.0,452.78 L444.2,453.00 L444.2,453.00 L444.0,453.22 L443.6,453.36 L443.2,453.48 L442.6,453.57 L442.0,453.65 L441.3,453.70 L440.6,453.74 L439.8,453.75 L436.9,453.75 L434.1,453.75 L431.3,453.75 L428.4,453.75 L427.6,453.74 L426.9,453.70 L426.2,453.65 L425.6,453.57 L425.0,453.48 L424.6,453.36 L424.2,453.22 L424.0,453.00Z" fill="#9b9b9b"/>
<path d="M448.0,452.80 L448.2,452.36 L448.6,452.07 L449.0,451.84 L449.6,451.66 L450.2,451.51 L450.9,451.40 L451.7,451.32 L452.5,451.30 L455.8,451.30 L459.0,451.30 L462.3,451.30 L465.6,451.30 L466.2,451.30 L466.7,451.30 L467.3,451.30 L467.8,451.30 L468.4,451.30 L469.0,451.30 L469.5,451.30 L470.1,451.30 L470.1,454.30 L469.5,454.30 L469.0,454.30 L468.4,454.30 L467.8,454.30 L467.3,454.30 L466.7,454.30 L466.2,454.30 L465.6,454.30 L462.3,454.30 L459.0,454.30 L455.8,454.30 L452.5,454.30 L451.7,454.28 L450.9,454.20 L450.2,454.09 L449.6,453.94 L449.0,453.76 L448.6,453.53 L448.2,453.24 L448.0,452.80Z" fill="#141414"/>
</g>
<rect x="399.8" y="446.3" width="70.40" height="13.70" rx="0" fill="none" stroke="#141414" stroke-width="1.1"/>
<rect x="399.3" y="461.90000000000003" width="71.40" height="14.60" fill="#c0c0c0" stroke="none"/>
<g filter="url(#bh)"><path d="M399.9,467.65 L400.5,467.65 L401.0,467.65 L401.6,467.65 L402.2,467.65 L402.7,467.65 L403.3,467.65 L403.8,467.65 L404.4,467.65 L419.7,467.65 L435.0,467.65 L450.3,467.65 L465.6,467.65 L466.2,467.65 L466.7,467.65 L467.3,467.65 L467.8,467.65 L468.4,467.65 L469.0,467.65 L469.5,467.65 L470.1,467.65 L470.1,470.75 L469.5,470.75 L469.0,470.75 L468.4,470.75 L467.8,470.75 L467.3,470.75 L466.7,470.75 L466.2,470.75 L465.6,470.75 L450.3,470.75 L435.0,470.75 L419.7,470.75 L404.4,470.75 L403.8,470.75 L403.3,470.75 L402.7,470.75 L402.2,470.75 L401.6,470.75 L401.0,470.75 L400.5,470.75 L399.9,470.75Z" fill="#000" opacity="0.32" transform="translate(0,469.20) scale(1,1.9) translate(0,-469.20)"/></g>
<g filter="url(#bl)">
<path d="M399.9,467.65 L400.5,467.65 L401.0,467.65 L401.6,467.65 L402.2,467.65 L402.7,467.65 L403.3,467.65 L403.8,467.65 L404.4,467.65 L419.7,467.65 L435.0,467.65 L450.3,467.65 L465.6,467.65 L466.2,467.65 L466.7,467.65 L467.3,467.65 L467.8,467.65 L468.4,467.65 L469.0,467.65 L469.5,467.65 L470.1,467.65 L470.1,470.75 L469.5,470.75 L469.0,470.75 L468.4,470.75 L467.8,470.75 L467.3,470.75 L466.7,470.75 L466.2,470.75 L465.6,470.75 L450.3,470.75 L435.0,470.75 L419.7,470.75 L404.4,470.75 L403.8,470.75 L403.3,470.75 L402.7,470.75 L402.2,470.75 L401.6,470.75 L401.0,470.75 L400.5,470.75 L399.9,470.75Z" fill="#080808"/>
</g>
<rect x="399.8" y="462.40000000000003" width="70.40" height="14.00" rx="0" fill="none" stroke="#141414" stroke-width="1.1"/>
<rect x="399.3" y="481.90000000000003" width="71.40" height="14.70" fill="#c0c0c0" stroke="none"/>
<g filter="url(#bh)"><path d="M401.2,488.80 L401.4,487.77 L401.8,487.11 L402.2,486.57 L402.8,486.13 L403.4,485.78 L404.1,485.52 L404.9,485.36 L405.7,485.30 L408.9,485.30 L412.1,485.30 L415.3,485.30 L418.5,485.30 L419.3,485.36 L420.1,485.52 L420.8,485.78 L421.4,486.13 L422.0,486.57 L422.4,487.11 L422.8,487.77 L423.0,488.80 L423.0,488.80 L422.8,489.83 L422.4,490.49 L422.0,491.03 L421.4,491.47 L420.8,491.82 L420.1,492.08 L419.3,492.24 L418.5,492.30 L415.3,492.30 L412.1,492.30 L408.9,492.30 L405.7,492.30 L404.9,492.24 L404.1,492.08 L403.4,491.82 L402.8,491.47 L402.2,491.03 L401.8,490.49 L401.4,489.83 L401.2,488.80Z" fill="#000" opacity="0.32" transform="translate(0,488.80) scale(1,1.9) translate(0,-488.80)"/><path d="M424.2,489.80 L424.4,489.20 L424.8,488.81 L425.2,488.49 L425.8,488.24 L426.4,488.03 L427.1,487.88 L427.9,487.78 L428.7,487.75 L431.6,487.75 L434.6,487.75 L437.6,487.75 L440.5,487.75 L441.3,487.78 L442.1,487.88 L442.8,488.03 L443.4,488.24 L444.0,488.49 L444.4,488.81 L444.8,489.20 L445.0,489.80 L445.0,489.80 L444.8,490.40 L444.4,490.79 L444.0,491.11 L443.4,491.36 L442.8,491.57 L442.1,491.72 L441.3,491.82 L440.5,491.85 L437.6,491.85 L434.6,491.85 L431.6,491.85 L428.7,491.85 L427.9,491.82 L427.1,491.72 L426.4,491.57 L425.8,491.36 L425.2,491.11 L424.8,490.79 L424.4,490.40 L424.2,489.80Z" fill="#000" opacity="0.20" transform="translate(0,489.80) scale(1,1.9) translate(0,-489.80)"/><path d="M447.0,489.50 L447.2,488.69 L447.6,488.17 L448.0,487.75 L448.6,487.40 L449.2,487.13 L449.9,486.92 L450.7,486.80 L451.5,486.75 L455.0,486.75 L458.5,486.75 L462.1,486.75 L465.6,486.75 L466.2,486.75 L466.7,486.75 L467.3,486.75 L467.8,486.75 L468.4,486.75 L469.0,486.75 L469.5,486.75 L470.1,486.75 L470.1,492.25 L469.5,492.25 L469.0,492.25 L468.4,492.25 L467.8,492.25 L467.3,492.25 L466.7,492.25 L466.2,492.25 L465.6,492.25 L462.1,492.25 L458.5,492.25 L455.0,492.25 L451.5,492.25 L450.7,492.20 L449.9,492.08 L449.2,491.87 L448.6,491.60 L448.0,491.25 L447.6,490.83 L447.2,490.31 L447.0,489.50Z" fill="#000" opacity="0.27" transform="translate(0,489.50) scale(1,1.9) translate(0,-489.50)"/></g>
<g filter="url(#bl)">
<path d="M401.2,488.80 L401.4,487.77 L401.8,487.11 L402.2,486.57 L402.8,486.13 L403.4,485.78 L404.1,485.52 L404.9,485.36 L405.7,485.30 L408.9,485.30 L412.1,485.30 L415.3,485.30 L418.5,485.30 L419.3,485.36 L420.1,485.52 L420.8,485.78 L421.4,486.13 L422.0,486.57 L422.4,487.11 L422.8,487.77 L423.0,488.80 L423.0,488.80 L422.8,489.83 L422.4,490.49 L422.0,491.03 L421.4,491.47 L420.8,491.82 L420.1,492.08 L419.3,492.24 L418.5,492.30 L415.3,492.30 L412.1,492.30 L408.9,492.30 L405.7,492.30 L404.9,492.24 L404.1,492.08 L403.4,491.82 L402.8,491.47 L402.2,491.03 L401.8,490.49 L401.4,489.83 L401.2,488.80Z" fill="#080808"/>
<path d="M424.2,489.80 L424.4,489.20 L424.8,488.81 L425.2,488.49 L425.8,488.24 L426.4,488.03 L427.1,487.88 L427.9,487.78 L428.7,487.75 L431.6,487.75 L434.6,487.75 L437.6,487.75 L440.5,487.75 L441.3,487.78 L442.1,487.88 L442.8,488.03 L443.4,488.24 L444.0,488.49 L444.4,488.81 L444.8,489.20 L445.0,489.80 L445.0,489.80 L444.8,490.40 L444.4,490.79 L444.0,491.11 L443.4,491.36 L442.8,491.57 L442.1,491.72 L441.3,491.82 L440.5,491.85 L437.6,491.85 L434.6,491.85 L431.6,491.85 L428.7,491.85 L427.9,491.82 L427.1,491.72 L426.4,491.57 L425.8,491.36 L425.2,491.11 L424.8,490.79 L424.4,490.40 L424.2,489.80Z" fill="#595959"/>
<path d="M447.0,489.50 L447.2,488.69 L447.6,488.17 L448.0,487.75 L448.6,487.40 L449.2,487.13 L449.9,486.92 L450.7,486.80 L451.5,486.75 L455.0,486.75 L458.5,486.75 L462.1,486.75 L465.6,486.75 L466.2,486.75 L466.7,486.75 L467.3,486.75 L467.8,486.75 L468.4,486.75 L469.0,486.75 L469.5,486.75 L470.1,486.75 L470.1,492.25 L469.5,492.25 L469.0,492.25 L468.4,492.25 L467.8,492.25 L467.3,492.25 L466.7,492.25 L466.2,492.25 L465.6,492.25 L462.1,492.25 L458.5,492.25 L455.0,492.25 L451.5,492.25 L450.7,492.20 L449.9,492.08 L449.2,491.87 L448.6,491.60 L448.0,491.25 L447.6,490.83 L447.2,490.31 L447.0,489.50Z" fill="#292929"/>
</g>
<rect x="399.8" y="482.40000000000003" width="70.40" height="14.10" rx="0" fill="none" stroke="#141414" stroke-width="1.1"/>
<rect x="399.3" y="498.0" width="71.40" height="14.80" fill="#c0c0c0" stroke="none"/>
<g filter="url(#bh)"><path d="M401.0,506.00 L401.2,505.56 L401.5,505.27 L402.0,505.04 L402.5,504.86 L403.1,504.71 L403.7,504.60 L404.4,504.52 L405.2,504.50 L407.8,504.50 L410.5,504.50 L413.2,504.50 L415.8,504.50 L416.6,504.52 L417.3,504.60 L417.9,504.71 L418.5,504.86 L419.0,505.04 L419.5,505.27 L419.8,505.56 L420.0,506.00 L420.0,506.00 L419.8,506.44 L419.5,506.73 L419.0,506.96 L418.5,507.14 L417.9,507.29 L417.3,507.40 L416.6,507.48 L415.8,507.50 L413.2,507.50 L410.5,507.50 L407.8,507.50 L405.2,507.50 L404.4,507.48 L403.7,507.40 L403.1,507.29 L402.5,507.14 L402.0,506.96 L401.5,506.73 L401.2,506.44 L401.0,506.00Z" fill="#000" opacity="0.30" transform="translate(0,506.00) scale(1,1.9) translate(0,-506.00)"/><path d="M424.0,506.00 L424.2,505.56 L424.6,505.27 L425.0,505.04 L425.6,504.86 L426.2,504.71 L426.9,504.60 L427.7,504.52 L428.5,504.50 L431.5,504.50 L434.5,504.50 L437.5,504.50 L440.5,504.50 L441.3,504.52 L442.1,504.60 L442.8,504.71 L443.4,504.86 L444.0,505.04 L444.4,505.27 L444.8,505.56 L445.0,506.00 L445.0,506.00 L444.8,506.44 L444.4,506.73 L444.0,506.96 L443.4,507.14 L442.8,507.29 L442.1,507.40 L441.3,507.48 L440.5,507.50 L437.5,507.50 L434.5,507.50 L431.5,507.50 L428.5,507.50 L427.7,507.48 L426.9,507.40 L426.2,507.29 L425.6,507.14 L425.0,506.96 L424.6,506.73 L424.2,506.44 L424.0,506.00Z" fill="#000" opacity="0.30" transform="translate(0,506.00) scale(1,1.9) translate(0,-506.00)"/><path d="M448.0,506.00 L448.2,505.56 L448.6,505.27 L449.0,505.04 L449.6,504.86 L450.2,504.71 L450.9,504.60 L451.7,504.52 L452.5,504.50 L455.5,504.50 L458.5,504.50 L461.5,504.50 L464.5,504.50 L465.3,504.52 L466.1,504.60 L466.8,504.71 L467.4,504.86 L468.0,505.04 L468.4,505.27 L468.8,505.56 L469.0,506.00 L469.0,506.00 L468.8,506.44 L468.4,506.73 L468.0,506.96 L467.4,507.14 L466.8,507.29 L466.1,507.40 L465.3,507.48 L464.5,507.50 L461.5,507.50 L458.5,507.50 L455.5,507.50 L452.5,507.50 L451.7,507.48 L450.9,507.40 L450.2,507.29 L449.6,507.14 L449.0,506.96 L448.6,506.73 L448.2,506.44 L448.0,506.00Z" fill="#000" opacity="0.30" transform="translate(0,506.00) scale(1,1.9) translate(0,-506.00)"/></g>
<g filter="url(#bl)">
<path d="M401.0,506.00 L401.2,505.56 L401.5,505.27 L402.0,505.04 L402.5,504.86 L403.1,504.71 L403.7,504.60 L404.4,504.52 L405.2,504.50 L407.8,504.50 L410.5,504.50 L413.2,504.50 L415.8,504.50 L416.6,504.52 L417.3,504.60 L417.9,504.71 L418.5,504.86 L419.0,505.04 L419.5,505.27 L419.8,505.56 L420.0,506.00 L420.0,506.00 L419.8,506.44 L419.5,506.73 L419.0,506.96 L418.5,507.14 L417.9,507.29 L417.3,507.40 L416.6,507.48 L415.8,507.50 L413.2,507.50 L410.5,507.50 L407.8,507.50 L405.2,507.50 L404.4,507.48 L403.7,507.40 L403.1,507.29 L402.5,507.14 L402.0,506.96 L401.5,506.73 L401.2,506.44 L401.0,506.00Z" fill="#141414"/>
<path d="M424.0,506.00 L424.2,505.56 L424.6,505.27 L425.0,505.04 L425.6,504.86 L426.2,504.71 L426.9,504.60 L427.7,504.52 L428.5,504.50 L431.5,504.50 L434.5,504.50 L437.5,504.50 L440.5,504.50 L441.3,504.52 L442.1,504.60 L442.8,504.71 L443.4,504.86 L444.0,505.04 L444.4,505.27 L444.8,505.56 L445.0,506.00 L445.0,506.00 L444.8,506.44 L444.4,506.73 L444.0,506.96 L443.4,507.14 L442.8,507.29 L442.1,507.40 L441.3,507.48 L440.5,507.50 L437.5,507.50 L434.5,507.50 L431.5,507.50 L428.5,507.50 L427.7,507.48 L426.9,507.40 L426.2,507.29 L425.6,507.14 L425.0,506.96 L424.6,506.73 L424.2,506.44 L424.0,506.00Z" fill="#141414"/>
<path d="M448.0,506.00 L448.2,505.56 L448.6,505.27 L449.0,505.04 L449.6,504.86 L450.2,504.71 L450.9,504.60 L451.7,504.52 L452.5,504.50 L455.5,504.50 L458.5,504.50 L461.5,504.50 L464.5,504.50 L465.3,504.52 L466.1,504.60 L466.8,504.71 L467.4,504.86 L468.0,505.04 L468.4,505.27 L468.8,505.56 L469.0,506.00 L469.0,506.00 L468.8,506.44 L468.4,506.73 L468.0,506.96 L467.4,507.14 L466.8,507.29 L466.1,507.40 L465.3,507.48 L464.5,507.50 L461.5,507.50 L458.5,507.50 L455.5,507.50 L452.5,507.50 L451.7,507.48 L450.9,507.40 L450.2,507.29 L449.6,507.14 L449.0,506.96 L448.6,506.73 L448.2,506.44 L448.0,506.00Z" fill="#141414"/>
</g>
<rect x="399.8" y="498.5" width="70.40" height="14.20" rx="0" fill="none" stroke="#141414" stroke-width="1.1"/>
<rect x="399.3" y="518.4" width="71.40" height="13.90" fill="#c0c0c0" stroke="none"/>
<g filter="url(#bh)"><path d="M401.0,525.80 L401.2,525.14 L401.6,524.71 L402.0,524.37 L402.6,524.08 L403.2,523.86 L403.9,523.69 L404.7,523.59 L405.5,523.55 L408.5,523.55 L411.5,523.55 L414.5,523.55 L417.5,523.55 L418.3,523.59 L419.1,523.69 L419.8,523.86 L420.4,524.08 L421.0,524.37 L421.4,524.71 L421.8,525.14 L422.0,525.80 L422.0,525.80 L421.8,526.46 L421.4,526.89 L421.0,527.23 L420.4,527.52 L419.8,527.74 L419.1,527.91 L418.3,528.01 L417.5,528.05 L414.5,528.05 L411.5,528.05 L408.5,528.05 L405.5,528.05 L404.7,528.01 L403.9,527.91 L403.2,527.74 L402.6,527.52 L402.0,527.23 L401.6,526.89 L401.2,526.46 L401.0,525.80Z" fill="#000" opacity="0.32" transform="translate(0,525.80) scale(1,1.9) translate(0,-525.80)"/><path d="M422.0,526.50 L422.2,526.06 L422.6,525.77 L423.0,525.54 L423.6,525.36 L424.2,525.21 L424.9,525.10 L425.7,525.02 L426.5,525.00 L430.2,525.00 L434.0,525.00 L437.8,525.00 L441.5,525.00 L442.3,525.02 L443.1,525.10 L443.8,525.21 L444.4,525.36 L445.0,525.54 L445.4,525.77 L445.8,526.06 L446.0,526.50 L446.0,526.50 L445.8,526.94 L445.4,527.23 L445.0,527.46 L444.4,527.64 L443.8,527.79 L443.1,527.90 L442.3,527.98 L441.5,528.00 L437.8,528.00 L434.0,528.00 L430.2,528.00 L426.5,528.00 L425.7,527.98 L424.9,527.90 L424.2,527.79 L423.6,527.64 L423.0,527.46 L422.6,527.23 L422.2,526.94 L422.0,526.50Z" fill="#000" opacity="0.32" transform="translate(0,526.50) scale(1,1.9) translate(0,-526.50)"/><path d="M446.0,526.00 L446.2,525.41 L446.6,525.03 L447.0,524.72 L447.6,524.47 L448.2,524.27 L448.9,524.13 L449.7,524.03 L450.5,524.00 L454.0,524.00 L457.5,524.00 L461.0,524.00 L464.5,524.00 L465.3,524.03 L466.1,524.13 L466.8,524.27 L467.4,524.47 L468.0,524.72 L468.4,525.03 L468.8,525.41 L469.0,526.00 L469.0,526.00 L468.8,526.59 L468.4,526.97 L468.0,527.28 L467.4,527.53 L466.8,527.73 L466.1,527.87 L465.3,527.97 L464.5,528.00 L461.0,528.00 L457.5,528.00 L454.0,528.00 L450.5,528.00 L449.7,527.97 L448.9,527.87 L448.2,527.73 L447.6,527.53 L447.0,527.28 L446.6,526.97 L446.2,526.59 L446.0,526.00Z" fill="#000" opacity="0.32" transform="translate(0,526.00) scale(1,1.9) translate(0,-526.00)"/></g>
<g filter="url(#bl)">
<path d="M401.0,525.80 L401.2,525.14 L401.6,524.71 L402.0,524.37 L402.6,524.08 L403.2,523.86 L403.9,523.69 L404.7,523.59 L405.5,523.55 L408.5,523.55 L411.5,523.55 L414.5,523.55 L417.5,523.55 L418.3,523.59 L419.1,523.69 L419.8,523.86 L420.4,524.08 L421.0,524.37 L421.4,524.71 L421.8,525.14 L422.0,525.80 L422.0,525.80 L421.8,526.46 L421.4,526.89 L421.0,527.23 L420.4,527.52 L419.8,527.74 L419.1,527.91 L418.3,528.01 L417.5,528.05 L414.5,528.05 L411.5,528.05 L408.5,528.05 L405.5,528.05 L404.7,528.01 L403.9,527.91 L403.2,527.74 L402.6,527.52 L402.0,527.23 L401.6,526.89 L401.2,526.46 L401.0,525.80Z" fill="#080808"/>
<path d="M422.0,526.50 L422.2,526.06 L422.6,525.77 L423.0,525.54 L423.6,525.36 L424.2,525.21 L424.9,525.10 L425.7,525.02 L426.5,525.00 L430.2,525.00 L434.0,525.00 L437.8,525.00 L441.5,525.00 L442.3,525.02 L443.1,525.10 L443.8,525.21 L444.4,525.36 L445.0,525.54 L445.4,525.77 L445.8,526.06 L446.0,526.50 L446.0,526.50 L445.8,526.94 L445.4,527.23 L445.0,527.46 L444.4,527.64 L443.8,527.79 L443.1,527.90 L442.3,527.98 L441.5,528.00 L437.8,528.00 L434.0,528.00 L430.2,528.00 L426.5,528.00 L425.7,527.98 L424.9,527.90 L424.2,527.79 L423.6,527.64 L423.0,527.46 L422.6,527.23 L422.2,526.94 L422.0,526.50Z" fill="#080808"/>
<path d="M446.0,526.00 L446.2,525.41 L446.6,525.03 L447.0,524.72 L447.6,524.47 L448.2,524.27 L448.9,524.13 L449.7,524.03 L450.5,524.00 L454.0,524.00 L457.5,524.00 L461.0,524.00 L464.5,524.00 L465.3,524.03 L466.1,524.13 L466.8,524.27 L467.4,524.47 L468.0,524.72 L468.4,525.03 L468.8,525.41 L469.0,526.00 L469.0,526.00 L468.8,526.59 L468.4,526.97 L468.0,527.28 L467.4,527.53 L466.8,527.73 L466.1,527.87 L465.3,527.97 L464.5,528.00 L461.0,528.00 L457.5,528.00 L454.0,528.00 L450.5,528.00 L449.7,527.97 L448.9,527.87 L448.2,527.73 L447.6,527.53 L447.0,527.28 L446.6,526.97 L446.2,526.59 L446.0,526.00Z" fill="#080808"/>
</g>
<rect x="399.8" y="518.9" width="70.40" height="13.30" rx="0" fill="none" stroke="#141414" stroke-width="1.1"/>
<rect x="399.3" y="534.9" width="71.40" height="14.00" fill="#c0c0c0" stroke="none"/>
<g filter="url(#bh)"><path d="M401.0,542.20 L401.2,541.69 L401.6,541.35 L402.0,541.08 L402.6,540.86 L403.2,540.69 L403.9,540.56 L404.7,540.48 L405.5,540.45 L409.0,540.45 L412.5,540.45 L416.0,540.45 L419.5,540.45 L420.3,540.48 L421.1,540.56 L421.8,540.69 L422.4,540.86 L423.0,541.08 L423.4,541.35 L423.8,541.69 L424.0,542.20 L424.0,542.20 L423.8,542.71 L423.4,543.05 L423.0,543.32 L422.4,543.54 L421.8,543.71 L421.1,543.84 L420.3,543.92 L419.5,543.95 L416.0,543.95 L412.5,543.95 L409.0,543.95 L405.5,543.95 L404.7,543.92 L403.9,543.84 L403.2,543.71 L402.6,543.54 L402.0,543.32 L401.6,543.05 L401.2,542.71 L401.0,542.20Z" fill="#000" opacity="0.30" transform="translate(0,542.20) scale(1,1.9) translate(0,-542.20)"/><path d="M424.0,542.20 L424.2,541.69 L424.6,541.35 L425.0,541.08 L425.6,540.86 L426.2,540.69 L426.9,540.56 L427.6,540.48 L428.4,540.45 L431.2,540.45 L434.0,540.45 L436.8,540.45 L439.6,540.45 L440.4,540.48 L441.1,540.56 L441.8,540.69 L442.4,540.86 L443.0,541.08 L443.4,541.35 L443.8,541.69 L444.0,542.20 L444.0,542.20 L443.8,542.71 L443.4,543.05 L443.0,543.32 L442.4,543.54 L441.8,543.71 L441.1,543.84 L440.4,543.92 L439.6,543.95 L436.8,543.95 L434.0,543.95 L431.2,543.95 L428.4,543.95 L427.6,543.92 L426.9,543.84 L426.2,543.71 L425.6,543.54 L425.0,543.32 L424.6,543.05 L424.2,542.71 L424.0,542.20Z" fill="#000" opacity="0.30" transform="translate(0,542.20) scale(1,1.9) translate(0,-542.20)"/><path d="M448.0,542.20 L448.2,541.69 L448.6,541.35 L449.0,541.08 L449.6,540.86 L450.2,540.69 L450.9,540.56 L451.7,540.48 L452.5,540.45 L455.8,540.45 L459.0,540.45 L462.3,540.45 L465.6,540.45 L466.2,540.45 L466.7,540.45 L467.3,540.45 L467.8,540.45 L468.4,540.45 L469.0,540.45 L469.5,540.45 L470.1,540.45 L470.1,543.95 L469.5,543.95 L469.0,543.95 L468.4,543.95 L467.8,543.95 L467.3,543.95 L466.7,543.95 L466.2,543.95 L465.6,543.95 L462.3,543.95 L459.0,543.95 L455.8,543.95 L452.5,543.95 L451.7,543.92 L450.9,543.84 L450.2,543.71 L449.6,543.54 L449.0,543.32 L448.6,543.05 L448.2,542.71 L448.0,542.20Z" fill="#000" opacity="0.30" transform="translate(0,542.20) scale(1,1.9) translate(0,-542.20)"/></g>
<g filter="url(#bl)">
<path d="M401.0,542.20 L401.2,541.69 L401.6,541.35 L402.0,541.08 L402.6,540.86 L403.2,540.69 L403.9,540.56 L404.7,540.48 L405.5,540.45 L409.0,540.45 L412.5,540.45 L416.0,540.45 L419.5,540.45 L420.3,540.48 L421.1,540.56 L421.8,540.69 L422.4,540.86 L423.0,541.08 L423.4,541.35 L423.8,541.69 L424.0,542.20 L424.0,542.20 L423.8,542.71 L423.4,543.05 L423.0,543.32 L422.4,543.54 L421.8,543.71 L421.1,543.84 L420.3,543.92 L419.5,543.95 L416.0,543.95 L412.5,543.95 L409.0,543.95 L405.5,543.95 L404.7,543.92 L403.9,543.84 L403.2,543.71 L402.6,543.54 L402.0,543.32 L401.6,543.05 L401.2,542.71 L401.0,542.20Z" fill="#141414"/>
<path d="M424.0,542.20 L424.2,541.69 L424.6,541.35 L425.0,541.08 L425.6,540.86 L426.2,540.69 L426.9,540.56 L427.6,540.48 L428.4,540.45 L431.2,540.45 L434.0,540.45 L436.8,540.45 L439.6,540.45 L440.4,540.48 L441.1,540.56 L441.8,540.69 L442.4,540.86 L443.0,541.08 L443.4,541.35 L443.8,541.69 L444.0,542.20 L444.0,542.20 L443.8,542.71 L443.4,543.05 L443.0,543.32 L442.4,543.54 L441.8,543.71 L441.1,543.84 L440.4,543.92 L439.6,543.95 L436.8,543.95 L434.0,543.95 L431.2,543.95 L428.4,543.95 L427.6,543.92 L426.9,543.84 L426.2,543.71 L425.6,543.54 L425.0,543.32 L424.6,543.05 L424.2,542.71 L424.0,542.20Z" fill="#141414"/>
<path d="M448.0,542.20 L448.2,541.69 L448.6,541.35 L449.0,541.08 L449.6,540.86 L450.2,540.69 L450.9,540.56 L451.7,540.48 L452.5,540.45 L455.8,540.45 L459.0,540.45 L462.3,540.45 L465.6,540.45 L466.2,540.45 L466.7,540.45 L467.3,540.45 L467.8,540.45 L468.4,540.45 L469.0,540.45 L469.5,540.45 L470.1,540.45 L470.1,543.95 L469.5,543.95 L469.0,543.95 L468.4,543.95 L467.8,543.95 L467.3,543.95 L466.7,543.95 L466.2,543.95 L465.6,543.95 L462.3,543.95 L459.0,543.95 L455.8,543.95 L452.5,543.95 L451.7,543.92 L450.9,543.84 L450.2,543.71 L449.6,543.54 L449.0,543.32 L448.6,543.05 L448.2,542.71 L448.0,542.20Z" fill="#141414"/>
</g>
<rect x="399.8" y="535.4" width="70.40" height="13.40" rx="0" fill="none" stroke="#141414" stroke-width="1.1"/>
<rect x="399.3" y="555.0" width="71.40" height="14.30" fill="#c0c0c0" stroke="none"/>
<g filter="url(#bh)"><path d="M401.2,562.60 L401.4,561.57 L401.8,560.91 L402.2,560.37 L402.8,559.93 L403.4,559.58 L404.1,559.32 L404.9,559.16 L405.7,559.10 L409.4,559.10 L413.1,559.10 L416.8,559.10 L420.5,559.10 L421.3,559.16 L422.1,559.32 L422.8,559.58 L423.4,559.93 L424.0,560.37 L424.4,560.91 L424.8,561.57 L425.0,562.60 L425.0,562.60 L424.8,563.63 L424.4,564.29 L424.0,564.83 L423.4,565.27 L422.8,565.62 L422.1,565.88 L421.3,566.04 L420.5,566.10 L416.8,566.10 L413.1,566.10 L409.4,566.10 L405.7,566.10 L404.9,566.04 L404.1,565.88 L403.4,565.62 L402.8,565.27 L402.2,564.83 L401.8,564.29 L401.4,563.63 L401.2,562.60Z" fill="#000" opacity="0.32" transform="translate(0,562.60) scale(1,1.9) translate(0,-562.60)"/><path d="M421.0,562.80 L421.2,562.26 L421.6,561.90 L422.0,561.62 L422.6,561.39 L423.2,561.20 L423.9,561.07 L424.7,560.98 L425.5,560.95 L430.0,560.95 L434.5,560.95 L439.0,560.95 L443.5,560.95 L444.3,560.98 L445.1,561.07 L445.8,561.20 L446.4,561.39 L447.0,561.62 L447.4,561.90 L447.8,562.26 L448.0,562.80 L448.0,562.80 L447.8,563.34 L447.4,563.70 L447.0,563.98 L446.4,564.21 L445.8,564.40 L445.1,564.53 L444.3,564.62 L443.5,564.65 L439.0,564.65 L434.5,564.65 L430.0,564.65 L425.5,564.65 L424.7,564.62 L423.9,564.53 L423.2,564.40 L422.6,564.21 L422.0,563.98 L421.6,563.70 L421.2,563.34 L421.0,562.80Z" fill="#000" opacity="0.27" transform="translate(0,562.80) scale(1,1.9) translate(0,-562.80)"/><path d="M446.0,562.60 L446.2,561.85 L446.6,561.37 L447.0,560.97 L447.6,560.65 L448.2,560.40 L448.9,560.21 L449.7,560.09 L450.5,560.05 L454.3,560.05 L458.0,560.05 L461.8,560.05 L465.6,560.05 L466.2,560.05 L466.7,560.05 L467.3,560.05 L467.8,560.05 L468.4,560.05 L469.0,560.05 L469.5,560.05 L470.1,560.05 L470.1,565.15 L469.5,565.15 L469.0,565.15 L468.4,565.15 L467.8,565.15 L467.3,565.15 L466.7,565.15 L466.2,565.15 L465.6,565.15 L461.8,565.15 L458.0,565.15 L454.3,565.15 L450.5,565.15 L449.7,565.11 L448.9,564.99 L448.2,564.80 L447.6,564.55 L447.0,564.23 L446.6,563.83 L446.2,563.35 L446.0,562.60Z" fill="#000" opacity="0.30" transform="translate(0,562.60) scale(1,1.9) translate(0,-562.60)"/></g>
<g filter="url(#bl)">
<path d="M401.2,562.60 L401.4,561.57 L401.8,560.91 L402.2,560.37 L402.8,559.93 L403.4,559.58 L404.1,559.32 L404.9,559.16 L405.7,559.10 L409.4,559.10 L413.1,559.10 L416.8,559.10 L420.5,559.10 L421.3,559.16 L422.1,559.32 L422.8,559.58 L423.4,559.93 L424.0,560.37 L424.4,560.91 L424.8,561.57 L425.0,562.60 L425.0,562.60 L424.8,563.63 L424.4,564.29 L424.0,564.83 L423.4,565.27 L422.8,565.62 L422.1,565.88 L421.3,566.04 L420.5,566.10 L416.8,566.10 L413.1,566.10 L409.4,566.10 L405.7,566.10 L404.9,566.04 L404.1,565.88 L403.4,565.62 L402.8,565.27 L402.2,564.83 L401.8,564.29 L401.4,563.63 L401.2,562.60Z" fill="#080808"/>
<path d="M421.0,562.80 L421.2,562.26 L421.6,561.90 L422.0,561.62 L422.6,561.39 L423.2,561.20 L423.9,561.07 L424.7,560.98 L425.5,560.95 L430.0,560.95 L434.5,560.95 L439.0,560.95 L443.5,560.95 L444.3,560.98 L445.1,561.07 L445.8,561.20 L446.4,561.39 L447.0,561.62 L447.4,561.90 L447.8,562.26 L448.0,562.80 L448.0,562.80 L447.8,563.34 L447.4,563.70 L447.0,563.98 L446.4,564.21 L445.8,564.40 L445.1,564.53 L444.3,564.62 L443.5,564.65 L439.0,564.65 L434.5,564.65 L430.0,564.65 L425.5,564.65 L424.7,564.62 L423.9,564.53 L423.2,564.40 L422.6,564.21 L422.0,563.98 L421.6,563.70 L421.2,563.34 L421.0,562.80Z" fill="#292929"/>
<path d="M446.0,562.60 L446.2,561.85 L446.6,561.37 L447.0,560.97 L447.6,560.65 L448.2,560.40 L448.9,560.21 L449.7,560.09 L450.5,560.05 L454.3,560.05 L458.0,560.05 L461.8,560.05 L465.6,560.05 L466.2,560.05 L466.7,560.05 L467.3,560.05 L467.8,560.05 L468.4,560.05 L469.0,560.05 L469.5,560.05 L470.1,560.05 L470.1,565.15 L469.5,565.15 L469.0,565.15 L468.4,565.15 L467.8,565.15 L467.3,565.15 L466.7,565.15 L466.2,565.15 L465.6,565.15 L461.8,565.15 L458.0,565.15 L454.3,565.15 L450.5,565.15 L449.7,565.11 L448.9,564.99 L448.2,564.80 L447.6,564.55 L447.0,564.23 L446.6,563.83 L446.2,563.35 L446.0,562.60Z" fill="#141414"/>
</g>
<rect x="399.8" y="555.5" width="70.40" height="13.70" rx="0" fill="none" stroke="#141414" stroke-width="1.1"/>
<rect x="399.3" y="571.9" width="71.40" height="14.30" fill="#c0c0c0" stroke="none"/>
<g filter="url(#bh)"><path d="M399.9,576.65 L400.5,576.65 L401.0,576.65 L401.6,576.65 L402.2,576.65 L402.7,576.65 L403.3,576.65 L403.8,576.65 L404.4,576.65 L408.2,576.65 L412.0,576.65 L415.7,576.65 L419.5,576.65 L420.3,576.67 L421.1,576.74 L421.8,576.84 L422.4,576.97 L423.0,577.14 L423.4,577.35 L423.8,577.60 L424.0,578.00 L424.0,578.00 L423.8,578.40 L423.4,578.65 L423.0,578.86 L422.4,579.03 L421.8,579.16 L421.1,579.26 L420.3,579.33 L419.5,579.35 L415.7,579.35 L412.0,579.35 L408.2,579.35 L404.4,579.35 L403.8,579.35 L403.3,579.35 L402.7,579.35 L402.2,579.35 L401.6,579.35 L401.0,579.35 L400.5,579.35 L399.9,579.35Z" fill="#000" opacity="0.30" transform="translate(0,578.00) scale(1,1.9) translate(0,-578.00)"/><path d="M399.9,581.05 L400.5,581.05 L401.0,581.05 L401.6,581.05 L402.2,581.05 L402.7,581.05 L403.3,581.05 L403.8,581.05 L404.4,581.05 L408.2,581.05 L412.0,581.05 L415.7,581.05 L419.5,581.05 L420.3,581.07 L421.1,581.11 L421.8,581.18 L422.4,581.28 L423.0,581.39 L423.4,581.54 L423.8,581.72 L424.0,582.00 L424.0,582.00 L423.8,582.28 L423.4,582.46 L423.0,582.61 L422.4,582.72 L421.8,582.82 L421.1,582.89 L420.3,582.93 L419.5,582.95 L415.7,582.95 L412.0,582.95 L408.2,582.95 L404.4,582.95 L403.8,582.95 L403.3,582.95 L402.7,582.95 L402.2,582.95 L401.6,582.95 L401.0,582.95 L400.5,582.95 L399.9,582.95Z" fill="#000" opacity="0.22" transform="translate(0,582.00) scale(1,1.9) translate(0,-582.00)"/><path d="M424.0,578.00 L424.2,577.60 L424.6,577.35 L425.0,577.14 L425.6,576.97 L426.2,576.84 L426.9,576.74 L427.7,576.67 L428.5,576.65 L432.0,576.65 L435.5,576.65 L439.0,576.65 L442.5,576.65 L443.3,576.67 L444.1,576.74 L444.8,576.84 L445.4,576.97 L446.0,577.14 L446.4,577.35 L446.8,577.60 L447.0,578.00 L447.0,578.00 L446.8,578.40 L446.4,578.65 L446.0,578.86 L445.4,579.03 L444.8,579.16 L444.1,579.26 L443.3,579.33 L442.5,579.35 L439.0,579.35 L435.5,579.35 L432.0,579.35 L428.5,579.35 L427.7,579.33 L426.9,579.26 L426.2,579.16 L425.6,579.03 L425.0,578.86 L424.6,578.65 L424.2,578.40 L424.0,578.00Z" fill="#000" opacity="0.30" transform="translate(0,578.00) scale(1,1.9) translate(0,-578.00)"/><path d="M424.0,582.00 L424.2,581.72 L424.6,581.54 L425.0,581.39 L425.6,581.28 L426.2,581.18 L426.9,581.11 L427.7,581.07 L428.5,581.05 L432.0,581.05 L435.5,581.05 L439.0,581.05 L442.5,581.05 L443.3,581.07 L444.1,581.11 L444.8,581.18 L445.4,581.28 L446.0,581.39 L446.4,581.54 L446.8,581.72 L447.0,582.00 L447.0,582.00 L446.8,582.28 L446.4,582.46 L446.0,582.61 L445.4,582.72 L444.8,582.82 L444.1,582.89 L443.3,582.93 L442.5,582.95 L439.0,582.95 L435.5,582.95 L432.0,582.95 L428.5,582.95 L427.7,582.93 L426.9,582.89 L426.2,582.82 L425.6,582.72 L425.0,582.61 L424.6,582.46 L424.2,582.28 L424.0,582.00Z" fill="#000" opacity="0.22" transform="translate(0,582.00) scale(1,1.9) translate(0,-582.00)"/><path d="M447.0,578.00 L447.2,577.60 L447.6,577.35 L448.0,577.14 L448.6,576.97 L449.2,576.84 L449.9,576.74 L450.7,576.67 L451.5,576.65 L455.0,576.65 L458.5,576.65 L462.1,576.65 L465.6,576.65 L466.2,576.65 L466.7,576.65 L467.3,576.65 L467.8,576.65 L468.4,576.65 L469.0,576.65 L469.5,576.65 L470.1,576.65 L470.1,579.35 L469.5,579.35 L469.0,579.35 L468.4,579.35 L467.8,579.35 L467.3,579.35 L466.7,579.35 L466.2,579.35 L465.6,579.35 L462.1,579.35 L458.5,579.35 L455.0,579.35 L451.5,579.35 L450.7,579.33 L449.9,579.26 L449.2,579.16 L448.6,579.03 L448.0,578.86 L447.6,578.65 L447.2,578.40 L447.0,578.00Z" fill="#000" opacity="0.30" transform="translate(0,578.00) scale(1,1.9) translate(0,-578.00)"/><path d="M447.0,582.00 L447.2,581.72 L447.6,581.54 L448.0,581.39 L448.6,581.28 L449.2,581.18 L449.9,581.11 L450.7,581.07 L451.5,581.05 L455.0,581.05 L458.5,581.05 L462.1,581.05 L465.6,581.05 L466.2,581.05 L466.7,581.05 L467.3,581.05 L467.8,581.05 L468.4,581.05 L469.0,581.05 L469.5,581.05 L470.1,581.05 L470.1,582.95 L469.5,582.95 L469.0,582.95 L468.4,582.95 L467.8,582.95 L467.3,582.95 L466.7,582.95 L466.2,582.95 L465.6,582.95 L462.1,582.95 L458.5,582.95 L455.0,582.95 L451.5,582.95 L450.7,582.93 L449.9,582.89 L449.2,582.82 L448.6,582.72 L448.0,582.61 L447.6,582.46 L447.2,582.28 L447.0,582.00Z" fill="#000" opacity="0.22" transform="translate(0,582.00) scale(1,1.9) translate(0,-582.00)"/></g>
<g filter="url(#bl)">
<path d="M399.9,576.65 L400.5,576.65 L401.0,576.65 L401.6,576.65 L402.2,576.65 L402.7,576.65 L403.3,576.65 L403.8,576.65 L404.4,576.65 L408.2,576.65 L412.0,576.65 L415.7,576.65 L419.5,576.65 L420.3,576.67 L421.1,576.74 L421.8,576.84 L422.4,576.97 L423.0,577.14 L423.4,577.35 L423.8,577.60 L424.0,578.00 L424.0,578.00 L423.8,578.40 L423.4,578.65 L423.0,578.86 L422.4,579.03 L421.8,579.16 L421.1,579.26 L420.3,579.33 L419.5,579.35 L415.7,579.35 L412.0,579.35 L408.2,579.35 L404.4,579.35 L403.8,579.35 L403.3,579.35 L402.7,579.35 L402.2,579.35 L401.6,579.35 L401.0,579.35 L400.5,579.35 L399.9,579.35Z" fill="#141414"/>
<path d="M399.9,581.05 L400.5,581.05 L401.0,581.05 L401.6,581.05 L402.2,581.05 L402.7,581.05 L403.3,581.05 L403.8,581.05 L404.4,581.05 L408.2,581.05 L412.0,581.05 L415.7,581.05 L419.5,581.05 L420.3,581.07 L421.1,581.11 L421.8,581.18 L422.4,581.28 L423.0,581.39 L423.4,581.54 L423.8,581.72 L424.0,582.00 L424.0,582.00 L423.8,582.28 L423.4,582.46 L423.0,582.61 L422.4,582.72 L421.8,582.82 L421.1,582.89 L420.3,582.93 L419.5,582.95 L415.7,582.95 L412.0,582.95 L408.2,582.95 L404.4,582.95 L403.8,582.95 L403.3,582.95 L402.7,582.95 L402.2,582.95 L401.6,582.95 L401.0,582.95 L400.5,582.95 L399.9,582.95Z" fill="#484848"/>
<path d="M424.0,578.00 L424.2,577.60 L424.6,577.35 L425.0,577.14 L425.6,576.97 L426.2,576.84 L426.9,576.74 L427.7,576.67 L428.5,576.65 L432.0,576.65 L435.5,576.65 L439.0,576.65 L442.5,576.65 L443.3,576.67 L444.1,576.74 L444.8,576.84 L445.4,576.97 L446.0,577.14 L446.4,577.35 L446.8,577.60 L447.0,578.00 L447.0,578.00 L446.8,578.40 L446.4,578.65 L446.0,578.86 L445.4,579.03 L444.8,579.16 L444.1,579.26 L443.3,579.33 L442.5,579.35 L439.0,579.35 L435.5,579.35 L432.0,579.35 L428.5,579.35 L427.7,579.33 L426.9,579.26 L426.2,579.16 L425.6,579.03 L425.0,578.86 L424.6,578.65 L424.2,578.40 L424.0,578.00Z" fill="#141414"/>
<path d="M424.0,582.00 L424.2,581.72 L424.6,581.54 L425.0,581.39 L425.6,581.28 L426.2,581.18 L426.9,581.11 L427.7,581.07 L428.5,581.05 L432.0,581.05 L435.5,581.05 L439.0,581.05 L442.5,581.05 L443.3,581.07 L444.1,581.11 L444.8,581.18 L445.4,581.28 L446.0,581.39 L446.4,581.54 L446.8,581.72 L447.0,582.00 L447.0,582.00 L446.8,582.28 L446.4,582.46 L446.0,582.61 L445.4,582.72 L444.8,582.82 L444.1,582.89 L443.3,582.93 L442.5,582.95 L439.0,582.95 L435.5,582.95 L432.0,582.95 L428.5,582.95 L427.7,582.93 L426.9,582.89 L426.2,582.82 L425.6,582.72 L425.0,582.61 L424.6,582.46 L424.2,582.28 L424.0,582.00Z" fill="#484848"/>
<path d="M447.0,578.00 L447.2,577.60 L447.6,577.35 L448.0,577.14 L448.6,576.97 L449.2,576.84 L449.9,576.74 L450.7,576.67 L451.5,576.65 L455.0,576.65 L458.5,576.65 L462.1,576.65 L465.6,576.65 L466.2,576.65 L466.7,576.65 L467.3,576.65 L467.8,576.65 L468.4,576.65 L469.0,576.65 L469.5,576.65 L470.1,576.65 L470.1,579.35 L469.5,579.35 L469.0,579.35 L468.4,579.35 L467.8,579.35 L467.3,579.35 L466.7,579.35 L466.2,579.35 L465.6,579.35 L462.1,579.35 L458.5,579.35 L455.0,579.35 L451.5,579.35 L450.7,579.33 L449.9,579.26 L449.2,579.16 L448.6,579.03 L448.0,578.86 L447.6,578.65 L447.2,578.40 L447.0,578.00Z" fill="#141414"/>
<path d="M447.0,582.00 L447.2,581.72 L447.6,581.54 L448.0,581.39 L448.6,581.28 L449.2,581.18 L449.9,581.11 L450.7,581.07 L451.5,581.05 L455.0,581.05 L458.5,581.05 L462.1,581.05 L465.6,581.05 L466.2,581.05 L466.7,581.05 L467.3,581.05 L467.8,581.05 L468.4,581.05 L469.0,581.05 L469.5,581.05 L470.1,581.05 L470.1,582.95 L469.5,582.95 L469.0,582.95 L468.4,582.95 L467.8,582.95 L467.3,582.95 L466.7,582.95 L466.2,582.95 L465.6,582.95 L462.1,582.95 L458.5,582.95 L455.0,582.95 L451.5,582.95 L450.7,582.93 L449.9,582.89 L449.2,582.82 L448.6,582.72 L448.0,582.61 L447.6,582.46 L447.2,582.28 L447.0,582.00Z" fill="#484848"/>
</g>
<rect x="399.8" y="572.4" width="70.40" height="13.70" rx="0" fill="none" stroke="#141414" stroke-width="1.1"/>
<rect x="399.3" y="591.9" width="71.40" height="14.30" fill="#c0c0c0" stroke="none"/>
<g filter="url(#bh)"><path d="M399.9,597.95 L400.5,597.95 L401.0,597.95 L401.6,597.95 L402.2,597.95 L402.7,597.95 L403.3,597.95 L403.8,597.95 L404.4,597.95 L419.7,597.95 L435.0,597.95 L450.3,597.95 L465.6,597.95 L466.2,597.95 L466.7,597.95 L467.3,597.95 L467.8,597.95 L468.4,597.95 L469.0,597.95 L469.5,597.95 L470.1,597.95 L470.1,601.25 L469.5,601.25 L469.0,601.25 L468.4,601.25 L467.8,601.25 L467.3,601.25 L466.7,601.25 L466.2,601.25 L465.6,601.25 L450.3,601.25 L435.0,601.25 L419.7,601.25 L404.4,601.25 L403.8,601.25 L403.3,601.25 L402.7,601.25 L402.2,601.25 L401.6,601.25 L401.0,601.25 L400.5,601.25 L399.9,601.25Z" fill="#000" opacity="0.32" transform="translate(0,599.60) scale(1,1.9) translate(0,-599.60)"/></g>
<g filter="url(#bl)">
<path d="M399.9,597.95 L400.5,597.95 L401.0,597.95 L401.6,597.95 L402.2,597.95 L402.7,597.95 L403.3,597.95 L403.8,597.95 L404.4,597.95 L419.7,597.95 L435.0,597.95 L450.3,597.95 L465.6,597.95 L466.2,597.95 L466.7,597.95 L467.3,597.95 L467.8,597.95 L468.4,597.95 L469.0,597.95 L469.5,597.95 L470.1,597.95 L470.1,601.25 L469.5,601.25 L469.0,601.25 L468.4,601.25 L467.8,601.25 L467.3,601.25 L466.7,601.25 L466.2,601.25 L465.6,601.25 L450.3,601.25 L435.0,601.25 L419.7,601.25 L404.4,601.25 L403.8,601.25 L403.3,601.25 L402.7,601.25 L402.2,601.25 L401.6,601.25 L401.0,601.25 L400.5,601.25 L399.9,601.25Z" fill="#080808"/>
</g>
<rect x="399.8" y="592.4" width="70.40" height="13.70" rx="0" fill="none" stroke="#141414" stroke-width="1.1"/>
<text x="55.2" y="454.9" font-size="8.6" text-anchor="end" fill="#222" stroke="#222" stroke-width="0.22" textLength="26.0" lengthAdjust="spacingAndGlyphs" >77kD –</text>
<text x="55.2" y="471.7" font-size="8.6" text-anchor="end" fill="#222" stroke="#222" stroke-width="0.22" textLength="26.0" lengthAdjust="spacingAndGlyphs" >77kD –</text>
<text x="55.2" y="491.6" font-size="8.6" text-anchor="end" fill="#222" stroke="#222" stroke-width="0.22" textLength="26.0" lengthAdjust="spacingAndGlyphs" >72kD –</text>
<text x="55.2" y="508.0" font-size="8.6" text-anchor="end" fill="#222" stroke="#222" stroke-width="0.22" textLength="26.0" lengthAdjust="spacingAndGlyphs" >72kD –</text>
<text x="55.2" y="527.8" font-size="8.6" text-anchor="end" fill="#222" stroke="#222" stroke-width="0.22" textLength="26.0" lengthAdjust="spacingAndGlyphs" >60kD –</text>
<text x="55.2" y="543.4" font-size="8.6" text-anchor="end" fill="#222" stroke="#222" stroke-width="0.22" textLength="26.0" lengthAdjust="spacingAndGlyphs" >60kD –</text>
<text x="55.2" y="565.2" font-size="8.6" text-anchor="end" fill="#222" stroke="#222" stroke-width="0.22" textLength="39.0" lengthAdjust="spacingAndGlyphs" >42/44kD –</text>
<text x="55.2" y="580.2" font-size="8.6" text-anchor="end" fill="#222" stroke="#222" stroke-width="0.22" textLength="39.0" lengthAdjust="spacingAndGlyphs" >42/44kD –</text>
<text x="55.2" y="600.9" font-size="8.6" text-anchor="end" fill="#222" stroke="#222" stroke-width="0.22" textLength="26.0" lengthAdjust="spacingAndGlyphs" >37kD –</text>
<text x="315.2" y="454.9" font-size="8.6" text-anchor="end" fill="#222" stroke="#222" stroke-width="0.22" textLength="26.0" lengthAdjust="spacingAndGlyphs" >77kD –</text>
<text x="315.2" y="471.7" font-size="8.6" text-anchor="end" fill="#222" stroke="#222" stroke-width="0.22" textLength="26.0" lengthAdjust="spacingAndGlyphs" >77kD –</text>
<text x="315.2" y="491.6" font-size="8.6" text-anchor="end" fill="#222" stroke="#222" stroke-width="0.22" textLength="26.0" lengthAdjust="spacingAndGlyphs" >72kD –</text>
<text x="315.2" y="508.0" font-size="8.6" text-anchor="end" fill="#222" stroke="#222" stroke-width="0.22" textLength="26.0" lengthAdjust="spacingAndGlyphs" >72kD –</text>
<text x="315.2" y="527.8" font-size="8.6" text-anchor="end" fill="#222" stroke="#222" stroke-width="0.22" textLength="26.0" lengthAdjust="spacingAndGlyphs" >60kD –</text>
<text x="315.2" y="543.4" font-size="8.6" text-anchor="end" fill="#222" stroke="#222" stroke-width="0.22" textLength="26.0" lengthAdjust="spacingAndGlyphs" >60kD –</text>
<text x="315.2" y="565.2" font-size="8.6" text-anchor="end" fill="#222" stroke="#222" stroke-width="0.22" textLength="39.0" lengthAdjust="spacingAndGlyphs" >42/44kD –</text>
<text x="315.2" y="580.2" font-size="8.6" text-anchor="end" fill="#222" stroke="#222" stroke-width="0.22" textLength="39.0" lengthAdjust="spacingAndGlyphs" >42/44kD –</text>
<text x="315.2" y="600.9" font-size="8.6" text-anchor="end" fill="#222" stroke="#222" stroke-width="0.22" textLength="26.0" lengthAdjust="spacingAndGlyphs" >37kD –</text>
<text x="214.9" y="456.4" font-size="8.6" text-anchor="start" fill="#222" stroke="#222" stroke-width="0.22" textLength="23.5" lengthAdjust="spacingAndGlyphs" >p-BTK</text>
<text x="214.9" y="472.6" font-size="8.6" text-anchor="start" fill="#222" stroke="#222" stroke-width="0.22" textLength="16.5" lengthAdjust="spacingAndGlyphs" >BTK</text>
<text x="214.9" y="493.8" font-size="8.6" text-anchor="start" fill="#222" stroke="#222" stroke-width="0.22" textLength="24.0" lengthAdjust="spacingAndGlyphs" >p-SYK</text>
<text x="214.9" y="510.3" font-size="8.6" text-anchor="start" fill="#222" stroke="#222" stroke-width="0.22" textLength="16.5" lengthAdjust="spacingAndGlyphs" >SYK</text>
<text x="214.9" y="530.0" font-size="8.6" text-anchor="start" fill="#222" stroke="#222" stroke-width="0.22" textLength="24.0" lengthAdjust="spacingAndGlyphs" >p-AKT</text>
<text x="214.9" y="545.4" font-size="8.6" text-anchor="start" fill="#222" stroke="#222" stroke-width="0.22" textLength="16.0" lengthAdjust="spacingAndGlyphs" >AKT</text>
<text x="214.9" y="566.0" font-size="8.6" text-anchor="start" fill="#222" stroke="#222" stroke-width="0.22" textLength="36.5" lengthAdjust="spacingAndGlyphs" >p-ERK1/2</text>
<text x="214.9" y="581.6" font-size="8.6" text-anchor="start" fill="#222" stroke="#222" stroke-width="0.22" textLength="29.5" lengthAdjust="spacingAndGlyphs" >ERK1/2</text>
<text x="214.9" y="602.9" font-size="8.6" text-anchor="start" fill="#222" stroke="#222" stroke-width="0.22" textLength="29.0" lengthAdjust="spacingAndGlyphs" >GAPDH</text>
<text x="474.9" y="456.4" font-size="8.6" text-anchor="start" fill="#222" stroke="#222" stroke-width="0.22" textLength="23.5" lengthAdjust="spacingAndGlyphs" >p-BTK</text>
<text x="474.9" y="472.6" font-size="8.6" text-anchor="start" fill="#222" stroke="#222" stroke-width="0.22" textLength="16.5" lengthAdjust="spacingAndGlyphs" >BTK</text>
<text x="474.9" y="493.8" font-size="8.6" text-anchor="start" fill="#222" stroke="#222" stroke-width="0.22" textLength="24.0" lengthAdjust="spacingAndGlyphs" >p-SYK</text>
<text x="474.9" y="510.3" font-size="8.6" text-anchor="start" fill="#222" stroke="#222" stroke-width="0.22" textLength="16.5" lengthAdjust="spacingAndGlyphs" >SYK</text>
<text x="474.9" y="530.0" font-size="8.6" text-anchor="start" fill="#222" stroke="#222" stroke-width="0.22" textLength="24.0" lengthAdjust="spacingAndGlyphs" >p-AKT</text>
<text x="474.9" y="545.4" font-size="8.6" text-anchor="start" fill="#222" stroke="#222" stroke-width="0.22" textLength="16.0" lengthAdjust="spacingAndGlyphs" >AKT</text>
<text x="474.9" y="566.0" font-size="8.6" text-anchor="start" fill="#222" stroke="#222" stroke-width="0.22" textLength="36.5" lengthAdjust="spacingAndGlyphs" >p-ERK1/2</text>
<text x="474.9" y="581.6" font-size="8.6" text-anchor="start" fill="#222" stroke="#222" stroke-width="0.22" textLength="29.5" lengthAdjust="spacingAndGlyphs" >ERK1/2</text>
<text x="474.9" y="602.9" font-size="8.6" text-anchor="start" fill="#222" stroke="#222" stroke-width="0.22" textLength="29.0" lengthAdjust="spacingAndGlyphs" >GAPDH</text>
<text x="60.6" y="415.5" font-size="8.5" text-anchor="start" fill="#222" stroke="#222" stroke-width="0.22" textLength="53.1" lengthAdjust="spacingAndGlyphs" >BCWM.1 HCK</text>
<text x="114.2" y="413.0" font-size="6.5" text-anchor="start" fill="#222" stroke="#222" stroke-width="0.22" textLength="9.5" lengthAdjust="spacingAndGlyphs" >WT</text>
<line x1="59.1" y1="419.2" x2="130.6" y2="419.2" stroke="#1a1a1a" stroke-width="1.0" />
<text x="56.8" y="436.0" font-size="8.5" text-anchor="start" fill="#222" stroke="#222" stroke-width="0.22" textLength="24.4" lengthAdjust="spacingAndGlyphs" >DMSO</text>
<text x="91.4" y="430.5" font-size="8.5" text-anchor="start" fill="#222" stroke="#222" stroke-width="0.22" textLength="36.2" lengthAdjust="spacingAndGlyphs" >KIN-8194</text>
<line x1="85.2" y1="432.8" x2="128.3" y2="432.8" stroke="#1a1a1a" stroke-width="1.0" />
<text x="84.0" y="440.8" font-size="8.5" text-anchor="start" fill="#222" stroke="#222" stroke-width="0.22" textLength="23.8" lengthAdjust="spacingAndGlyphs" >0.5μM</text>
<text x="109.5" y="440.8" font-size="8.5" text-anchor="start" fill="#222" stroke="#222" stroke-width="0.22" textLength="23.6" lengthAdjust="spacingAndGlyphs" >0.1μM</text>
<text x="137.5" y="415.5" font-size="8.5" text-anchor="start" fill="#222" stroke="#222" stroke-width="0.22" textLength="53.1" lengthAdjust="spacingAndGlyphs" >BCWM.1 HCK</text>
<text x="191.1" y="413.0" font-size="6.5" text-anchor="start" fill="#222" stroke="#222" stroke-width="0.22" textLength="21.0" lengthAdjust="spacingAndGlyphs" >T333M</text>
<line x1="137.5" y1="419.2" x2="211.3" y2="419.2" stroke="#1a1a1a" stroke-width="1.0" />
<text x="138.3" y="436.0" font-size="8.5" text-anchor="start" fill="#222" stroke="#222" stroke-width="0.22" textLength="24.4" lengthAdjust="spacingAndGlyphs" >DMSO</text>
<text x="172.5" y="430.5" font-size="8.5" text-anchor="start" fill="#222" stroke="#222" stroke-width="0.22" textLength="36.2" lengthAdjust="spacingAndGlyphs" >KIN-8194</text>
<line x1="166.3" y1="432.8" x2="210.0" y2="432.8" stroke="#1a1a1a" stroke-width="1.0" />
<text x="163.8" y="440.8" font-size="8.5" text-anchor="start" fill="#222" stroke="#222" stroke-width="0.22" textLength="23.8" lengthAdjust="spacingAndGlyphs" >0.5μM</text>
<text x="191.3" y="440.8" font-size="8.5" text-anchor="start" fill="#222" stroke="#222" stroke-width="0.22" textLength="23.6" lengthAdjust="spacingAndGlyphs" >0.1μM</text>
<text x="318.8" y="415.5" font-size="8.5" text-anchor="start" fill="#222" stroke="#222" stroke-width="0.22" textLength="53.6" lengthAdjust="spacingAndGlyphs" >MWCL-1 HCK</text>
<text x="372.90000000000003" y="413.0" font-size="6.5" text-anchor="start" fill="#222" stroke="#222" stroke-width="0.22" textLength="9.5" lengthAdjust="spacingAndGlyphs" >WT</text>
<line x1="318.0" y1="419.2" x2="385.0" y2="419.2" stroke="#1a1a1a" stroke-width="1.0" />
<text x="315.0" y="436.0" font-size="8.5" text-anchor="start" fill="#222" stroke="#222" stroke-width="0.22" textLength="24.4" lengthAdjust="spacingAndGlyphs" >DMSO</text>
<text x="349.5" y="430.5" font-size="8.5" text-anchor="start" fill="#222" stroke="#222" stroke-width="0.22" textLength="36.2" lengthAdjust="spacingAndGlyphs" >KIN-8194</text>
<line x1="342.5" y1="432.8" x2="388.0" y2="432.8" stroke="#1a1a1a" stroke-width="1.0" />
<text x="342.5" y="440.8" font-size="8.5" text-anchor="start" fill="#222" stroke="#222" stroke-width="0.22" textLength="23.8" lengthAdjust="spacingAndGlyphs" >0.5μM</text>
<text x="368.0" y="440.8" font-size="8.5" text-anchor="start" fill="#222" stroke="#222" stroke-width="0.22" textLength="23.6" lengthAdjust="spacingAndGlyphs" >0.1μM</text>
<text x="396.7" y="415.5" font-size="8.5" text-anchor="start" fill="#222" stroke="#222" stroke-width="0.22" textLength="53.6" lengthAdjust="spacingAndGlyphs" >MWCL-1 HCK</text>
<text x="450.8" y="413.0" font-size="6.5" text-anchor="start" fill="#222" stroke="#222" stroke-width="0.22" textLength="20.5" lengthAdjust="spacingAndGlyphs" >T333M</text>
<line x1="396.0" y1="419.2" x2="470.7" y2="419.2" stroke="#1a1a1a" stroke-width="1.0" />
<text x="397.5" y="436.0" font-size="8.5" text-anchor="start" fill="#222" stroke="#222" stroke-width="0.22" textLength="24.4" lengthAdjust="spacingAndGlyphs" >DMSO</text>
<text x="431.8" y="430.5" font-size="8.5" text-anchor="start" fill="#222" stroke="#222" stroke-width="0.22" textLength="36.2" lengthAdjust="spacingAndGlyphs" >KIN-8194</text>
<line x1="425.3" y1="432.8" x2="468.0" y2="432.8" stroke="#1a1a1a" stroke-width="1.0" />
<text x="422.7" y="440.8" font-size="8.5" text-anchor="start" fill="#222" stroke="#222" stroke-width="0.22" textLength="23.8" lengthAdjust="spacingAndGlyphs" >0.5μM</text>
<text x="449.4" y="440.8" font-size="8.5" text-anchor="start" fill="#222" stroke="#222" stroke-width="0.22" textLength="23.6" lengthAdjust="spacingAndGlyphs" >0.1μM</text>
</g></svg></body></html>
